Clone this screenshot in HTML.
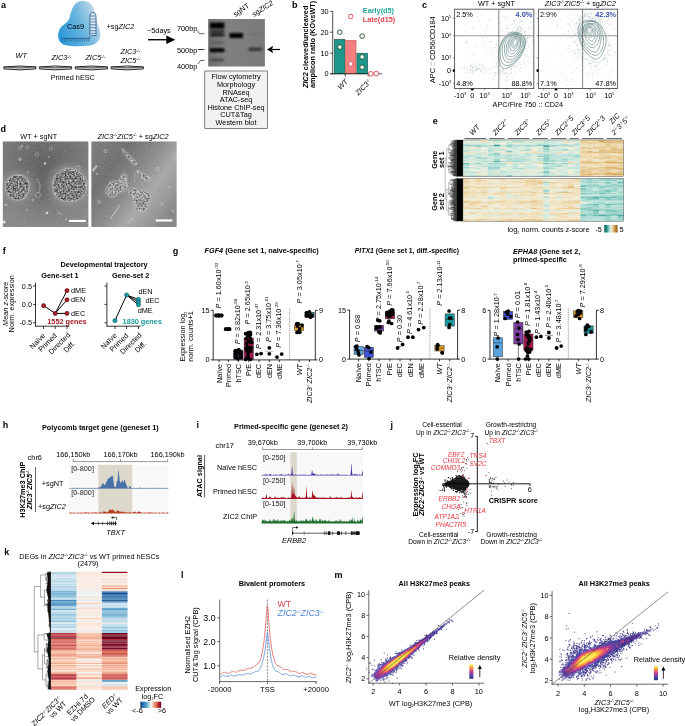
<!DOCTYPE html>
<html><head><meta charset="utf-8"><title>Figure</title>
<style>html,body{margin:0;padding:0;background:#fff}svg{display:block}text{font-family:"Liberation Sans",sans-serif}</style>
</head><body>
<svg width="685" height="726" viewBox="0 0 685 726" font-family="Liberation Sans, sans-serif" fill="#000">
<text x="1.00" y="7.50" font-size="9" font-weight="bold">a</text>
<defs><linearGradient id="cas" x1="0" y1="0.75" x2="1" y2="0.3"><stop offset="0" stop-color="#2a97d8"/><stop offset="0.55" stop-color="#6db6e0"/><stop offset="1" stop-color="#cfe0ea"/></linearGradient></defs>
<path d="M82.5 0.8 C89 0.8 93.5 5 94.2 11 C95 17 98 23 99.8 30 C101.3 36.5 99.5 42.5 93 44.8 C86 46.8 71 46.6 64.5 45 C58.5 43.2 56.5 36 59.5 29.5 C62 24.5 67.5 23 69.3 18.5 C71.5 12 72.5 1.5 82.5 0.8 Z" fill="url(#cas)" />
<path d="M89.8 38.3 L89.8 16 Q89.8 12.4 92.9 12.4 Q96 12.4 96 16 L96 35.6 L91 35.6" fill="#ffffff" stroke="#1d4f7c" stroke-width="0.7" fill-opacity="0.55"/>
<line x1="89.80" y1="16.00" x2="96.00" y2="16.00" stroke="#1d4f7c" stroke-width="0.6" />
<line x1="89.80" y1="19.00" x2="96.00" y2="19.00" stroke="#1d4f7c" stroke-width="0.6" />
<line x1="89.80" y1="21.90" x2="96.00" y2="21.90" stroke="#1d4f7c" stroke-width="0.6" />
<line x1="89.80" y1="24.80" x2="96.00" y2="24.80" stroke="#1d4f7c" stroke-width="0.6" />
<line x1="89.80" y1="27.70" x2="96.00" y2="27.70" stroke="#1d4f7c" stroke-width="0.6" />
<line x1="89.80" y1="30.70" x2="96.00" y2="30.70" stroke="#1d4f7c" stroke-width="0.6" />
<line x1="89.80" y1="33.40" x2="96.00" y2="33.40" stroke="#1d4f7c" stroke-width="0.6" />
<line x1="61.70" y1="38.30" x2="90.10" y2="38.30" stroke="#1d4f7c" stroke-width="0.7" />
<line x1="62.40" y1="38.30" x2="62.40" y2="41.60" stroke="#1d4f7c" stroke-width="0.6" />
<line x1="64.60" y1="38.30" x2="64.60" y2="41.60" stroke="#1d4f7c" stroke-width="0.6" />
<line x1="66.80" y1="38.30" x2="66.80" y2="41.60" stroke="#1d4f7c" stroke-width="0.6" />
<line x1="69.00" y1="38.30" x2="69.00" y2="41.60" stroke="#1d4f7c" stroke-width="0.6" />
<line x1="71.20" y1="38.30" x2="71.20" y2="41.60" stroke="#1d4f7c" stroke-width="0.6" />
<line x1="73.40" y1="38.30" x2="73.40" y2="41.60" stroke="#1d4f7c" stroke-width="0.6" />
<line x1="75.60" y1="38.30" x2="75.60" y2="41.60" stroke="#1d4f7c" stroke-width="0.6" />
<line x1="77.80" y1="38.30" x2="77.80" y2="41.60" stroke="#1d4f7c" stroke-width="0.6" />
<line x1="80.00" y1="38.30" x2="80.00" y2="41.60" stroke="#1d4f7c" stroke-width="0.6" />
<line x1="82.20" y1="38.30" x2="82.20" y2="41.60" stroke="#1d4f7c" stroke-width="0.6" />
<line x1="84.40" y1="38.30" x2="84.40" y2="41.60" stroke="#1d4f7c" stroke-width="0.6" />
<line x1="86.60" y1="38.30" x2="86.60" y2="41.60" stroke="#1d4f7c" stroke-width="0.6" />
<line x1="88.80" y1="38.30" x2="88.80" y2="41.60" stroke="#1d4f7c" stroke-width="0.6" />
<text x="67.00" y="29.00" font-size="7.3">Cas9</text>
<text x="106.50" y="29.00" font-size="7.3">+sg<tspan font-style="italic">ZIC2</tspan></text>
<text x="147.00" y="32.50" font-size="7.3">~5days</text>
<line x1="148.00" y1="39.70" x2="168.00" y2="39.70" stroke="#000" stroke-width="1.4" />
<path d="M166.3 35.4 L175.3 39.7 L166.3 44 Z" fill="#000" />
<text x="15.50" y="58.00" font-size="7.3" font-style="italic">WT</text>
<text x="51.50" y="60.00" font-size="7.3" font-style="italic">ZIC3<tspan font-size="4" dy="-2.5">-/-</tspan><tspan dy="2.5">&#8203;</tspan></text>
<text x="85.40" y="60.00" font-size="7.3" font-style="italic">ZIC5<tspan font-size="4" dy="-2.5">-/-</tspan><tspan dy="2.5">&#8203;</tspan></text>
<text x="120.50" y="54.00" font-size="7.3" font-style="italic">ZIC3<tspan font-size="4" dy="-2.5">-/-</tspan><tspan dy="2.5">&#8203;</tspan></text>
<text x="120.50" y="62.70" font-size="7.3" font-style="italic">ZIC5<tspan font-size="4" dy="-2.5">-/-</tspan><tspan dy="2.5">&#8203;</tspan></text>
<path d="M3.8 66.9 Q19.900000000000002 65.1 36.0 66.9 L36.0 68.9 Q19.900000000000002 70.9 3.8 68.9 Z" fill="#cfcfcf" stroke="#1a1a1a" stroke-width="0.9" />
<path d="M3.8 66.9 Q19.900000000000002 68.9 36.0 66.9" fill="none" stroke="#1a1a1a" stroke-width="0.6" />
<path d="M39.4 66.9 Q55.5 65.1 71.6 66.9 L71.6 68.9 Q55.5 70.9 39.4 68.9 Z" fill="#cfcfcf" stroke="#1a1a1a" stroke-width="0.9" />
<path d="M39.4 66.9 Q55.5 68.9 71.6 66.9" fill="none" stroke="#1a1a1a" stroke-width="0.6" />
<path d="M75.3 66.9 Q91.4 65.1 107.5 66.9 L107.5 68.9 Q91.4 70.9 75.3 68.9 Z" fill="#cfcfcf" stroke="#1a1a1a" stroke-width="0.9" />
<path d="M75.3 66.9 Q91.4 68.9 107.5 66.9" fill="none" stroke="#1a1a1a" stroke-width="0.6" />
<path d="M111.2 66.9 Q127.30000000000001 65.1 143.4 66.9 L143.4 68.9 Q127.30000000000001 70.9 111.2 68.9 Z" fill="#cfcfcf" stroke="#1a1a1a" stroke-width="0.9" />
<path d="M111.2 66.9 Q127.30000000000001 68.9 143.4 66.9" fill="none" stroke="#1a1a1a" stroke-width="0.6" />
<text x="72.80" y="80.00" font-size="7.3" text-anchor="middle">Primed hESC</text>
<defs><filter id="gb" x="-20%" y="-50%" width="140%" height="200%"><feGaussianBlur stdDeviation="0.8"/></filter><linearGradient id="gelbg" x1="0" y1="0" x2="1" y2="0"><stop offset="0" stop-color="#6e6e6e"/><stop offset="0.3" stop-color="#808080"/><stop offset="1" stop-color="#7a7a7a"/></linearGradient></defs>
<rect x="208.20" y="19.00" width="56.70" height="47.50" fill="url(#gelbg)" />
<g filter="url(#gb)">
<rect x="210.00" y="22.60" width="14.40" height="5.90" fill="#000" />
<rect x="210.20" y="30.20" width="14.00" height="2.20" fill="#1c1c1c" />
<rect x="210.20" y="33.60" width="14.00" height="2.60" fill="#0c0c0c" />
<rect x="210.80" y="41.30" width="13.00" height="2.20" fill="#5a5a5a" />
<rect x="210.00" y="48.20" width="14.40" height="3.90" fill="#000" />
<rect x="210.80" y="58.70" width="13.00" height="2.70" fill="#454545" />
<rect x="229.50" y="33.10" width="13.50" height="4.90" fill="#000" />
<rect x="249.50" y="33.50" width="12.00" height="1.50" fill="#6c6c6c" />
<rect x="248.60" y="47.70" width="13.20" height="3.20" fill="#303030" />
</g>
<text x="177.00" y="31.00" font-size="7.3">700bp</text>
<text x="177.00" y="53.00" font-size="7.3">500bp</text>
<text x="177.00" y="68.50" font-size="7.3">400bp</text>
<path d="M197.5 30.5 L199.5 33.7 L204.5 33.7" fill="none" stroke="#000" stroke-width="0.6" />
<line x1="197.80" y1="49.50" x2="204.50" y2="49.50" stroke="#000" stroke-width="0.8" />
<path d="M198 64 L200.5 60.5 L204.5 60.5" fill="none" stroke="#000" stroke-width="0.6" />
<text x="235.50" y="17.00" font-size="7.3" transform="rotate(-35 235.50 17.00)">sgNT</text>
<text x="254.00" y="17.00" font-size="7.3" transform="rotate(-33 254.00 17.00)">sg<tspan font-style="italic">ZIC2</tspan></text>
<line x1="270.00" y1="49.50" x2="280.00" y2="49.50" stroke="#000" stroke-width="1.2" />
<path d="M267 49.5 L273.3 45.8 L271.8 49.5 L273.3 53.2 Z" fill="#000" />
<rect x="204.80" y="71.00" width="62.60" height="57.50" fill="#f2f2f2" stroke="#333" stroke-width="0.6" />
<text x="236.00" y="79.20" font-size="7.3" text-anchor="middle">Flow cytometry</text>
<text x="236.00" y="86.85" font-size="7.3" text-anchor="middle">Morphology</text>
<text x="236.00" y="94.50" font-size="7.3" text-anchor="middle">RNAseq</text>
<text x="236.00" y="102.15" font-size="7.3" text-anchor="middle">ATAC-seq</text>
<text x="236.00" y="109.80" font-size="7.3" text-anchor="middle">Histone ChIP-seq</text>
<text x="236.00" y="117.45" font-size="7.3" text-anchor="middle">CUT&amp;Tag</text>
<text x="236.00" y="125.10" font-size="7.3" text-anchor="middle">Western blot</text>
<text x="292.00" y="7.50" font-size="9" font-weight="bold">b</text>
<rect x="334.30" y="39.40" width="10.50" height="34.40" fill="#1f968b" stroke="#1d4d40" stroke-width="0.6" />
<rect x="345.70" y="40.50" width="10.30" height="33.30" fill="#f47f7f" stroke="#c0504d" stroke-width="0.6" />
<rect x="356.90" y="53.20" width="10.70" height="20.60" fill="#1f968b" stroke="#1d4d40" stroke-width="0.6" />
<line x1="332.70" y1="11.40" x2="332.70" y2="74.10" stroke="#000" stroke-width="0.7" />
<line x1="330.40" y1="73.80" x2="381.80" y2="73.80" stroke="#000" stroke-width="0.7" />
<line x1="330.20" y1="11.40" x2="332.70" y2="11.40" stroke="#000" stroke-width="0.7" />
<text x="328.50" y="13.90" font-size="7.3" text-anchor="end">30</text>
<line x1="330.20" y1="32.20" x2="332.70" y2="32.20" stroke="#000" stroke-width="0.7" />
<text x="328.50" y="34.70" font-size="7.3" text-anchor="end">20</text>
<line x1="330.20" y1="53.20" x2="332.70" y2="53.20" stroke="#000" stroke-width="0.7" />
<text x="328.50" y="55.70" font-size="7.3" text-anchor="end">10</text>
<line x1="330.20" y1="73.80" x2="332.70" y2="73.80" stroke="#000" stroke-width="0.7" />
<text x="328.50" y="76.30" font-size="7.3" text-anchor="end">0</text>
<line x1="345.30" y1="73.80" x2="345.30" y2="76.50" stroke="#000" stroke-width="0.7" />
<line x1="368.20" y1="73.80" x2="368.20" y2="76.50" stroke="#000" stroke-width="0.7" />
<circle cx="339.80" cy="32.20" r="2.30" fill="#fff" stroke="#2f5d3a" stroke-width="1.0" />
<circle cx="339.80" cy="47.10" r="2.30" fill="#fff" stroke="#2f5d3a" stroke-width="1.0" />
<circle cx="362.10" cy="36.10" r="2.30" fill="#fff" stroke="#2f5d3a" stroke-width="1.0" />
<circle cx="362.10" cy="56.90" r="2.30" fill="#fff" stroke="#2f5d3a" stroke-width="1.0" />
<circle cx="362.10" cy="67.20" r="2.30" fill="#fff" stroke="#2f5d3a" stroke-width="1.0" />
<circle cx="350.70" cy="16.40" r="2.30" fill="#fff" stroke="#e0565b" stroke-width="1.0" />
<circle cx="350.70" cy="63.90" r="2.30" fill="#fff" stroke="#e0565b" stroke-width="1.0" />
<circle cx="370.90" cy="73.80" r="2.30" fill="#fff" stroke="#e0565b" stroke-width="1.0" />
<circle cx="376.30" cy="73.60" r="2.30" fill="#fff" stroke="#e0565b" stroke-width="1.0" />
<text x="362.80" y="13.30" font-size="7.3" font-weight="bold" fill="#1fa39a">Early(d5)</text>
<text x="362.80" y="22.00" font-size="7.3" font-weight="bold" fill="#d9434e">Late(d15)</text>
<text x="307.50" y="88.00" font-size="7.3" font-weight="bold" transform="rotate(-90 307.50 88.00)"><tspan font-style="italic">ZIC2</tspan> cleaved/uncleaved</text>
<text x="315.00" y="88.00" font-size="7.3" font-weight="bold" transform="rotate(-90 315.00 88.00)">amplicon ratio (KOvsWT)</text>
<text x="348.50" y="82.00" font-size="7.3" text-anchor="end" font-style="italic" transform="rotate(-45 348.50 82.00)">WT</text>
<text x="372.00" y="82.00" font-size="7.3" text-anchor="end" font-style="italic" transform="rotate(-45 372.00 82.00)">ZIC3<tspan font-size="4" dy="-2.5">-/-</tspan><tspan dy="2.5">&#8203;</tspan></text>
<text x="422.00" y="7.50" font-size="9" font-weight="bold">c</text>
<path d="M507.4 67.7h.6M514.5 32.3h.6M503.7 68.0h.6M522.6 44.5h.6M495.8 62.9h.6M519.6 39.4h.6M528.1 28.5h.6M509.6 49.2h.6M499.5 56.9h.6M513.7 47.5h.6M509.6 53.4h.6M518.6 46.4h.6M520.1 32.8h.6M506.3 77.0h.6M502.4 69.1h.6M503.3 70.4h.6M508.9 60.7h.6M507.9 32.3h.6M515.0 54.6h.6M514.1 50.9h.6M505.7 44.1h.6M509.8 37.9h.6M519.8 19.3h.6M516.2 38.3h.6M513.6 32.7h.6M517.2 33.3h.6M524.0 31.5h.6M507.5 44.2h.6M520.0 38.4h.6M519.3 23.1h.6M519.0 41.7h.6M515.2 44.9h.6M509.0 44.1h.6M503.3 62.4h.6M526.1 44.0h.6M525.3 37.0h.6M521.6 38.9h.6M518.6 47.9h.6M520.5 21.3h.6M521.6 64.3h.6M520.3 47.6h.6M509.4 32.3h.6M518.4 48.0h.6M506.7 44.1h.6M514.0 51.2h.6M523.7 33.9h.6M521.9 51.4h.6M513.1 62.0h.6M516.7 31.2h.6M495.1 72.5h.6M517.2 46.5h.6M514.4 22.7h.6M516.6 50.3h.6M494.7 44.2h.6M511.7 31.0h.6M511.2 55.2h.6M531.3 13.3h.6M523.6 51.2h.6M524.6 54.9h.6M504.7 57.3h.6M526.3 41.8h.6M518.1 39.6h.6M496.2 73.5h.6M504.7 56.1h.6M513.3 38.9h.6M517.4 37.0h.6M510.9 53.8h.6M520.6 44.6h.6M507.6 54.9h.6M515.1 73.2h.6M519.6 26.5h.6M500.6 52.1h.6M514.6 46.6h.6M526.9 16.8h.6M490.4 53.2h.6M521.9 28.1h.6M503.7 72.9h.6M526.7 82.1h.6M522.8 33.5h.6M496.2 45.1h.6M500.5 46.0h.6M500.8 33.6h.6M515.1 65.4h.6M513.7 20.8h.6M509.0 73.7h.6M510.4 33.1h.6M503.1 56.9h.6M500.2 64.2h.6M524.4 31.9h.6M523.8 17.7h.6M504.5 47.7h.6M502.2 46.6h.6M506.3 76.8h.6M526.6 29.5h.6M521.8 29.4h.6M508.4 59.4h.6M502.1 50.9h.6M491.6 69.4h.6M513.1 49.0h.6M519.2 59.6h.6M517.2 47.5h.6M513.7 28.1h.6M505.5 79.8h.6M517.1 62.4h.6M521.1 46.3h.6M502.2 31.3h.6M511.7 35.9h.6M504.5 58.5h.6M522.9 39.6h.6M506.6 28.8h.6M492.0 50.6h.6M515.7 51.7h.6M509.2 60.5h.6M520.5 47.9h.6M501.4 58.4h.6M519.7 64.7h.6M517.8 32.0h.6M514.2 45.5h.6M511.9 44.9h.6M501.4 49.9h.6M519.7 62.7h.6M515.8 40.7h.6M511.2 51.9h.6M509.7 41.4h.6M514.9 46.3h.6M502.1 57.4h.6M498.7 60.3h.6M501.0 28.7h.6M506.3 50.7h.6M509.1 58.0h.6M519.4 32.0h.6M507.0 48.9h.6M517.7 53.0h.6M501.8 51.1h.6M496.8 64.1h.6M511.4 72.2h.6M512.6 42.6h.6M516.3 25.0h.6M522.2 39.6h.6M492.0 67.1h.6M512.8 64.8h.6M511.3 25.8h.6M515.7 31.9h.6M505.9 52.8h.6M497.5 48.2h.6M497.5 59.9h.6M529.6 47.1h.6M499.0 72.9h.6M520.3 68.0h.6M510.5 38.0h.6M521.4 36.1h.6M498.7 71.1h.6M510.8 52.1h.6M510.5 45.6h.6M509.2 44.0h.6M517.3 66.1h.6M517.3 44.4h.6M501.4 71.7h.6M508.0 32.7h.6M516.0 31.1h.6M513.6 42.2h.6M521.8 48.6h.6M520.6 58.9h.6M500.9 57.5h.6M508.9 35.0h.6M516.2 56.5h.6M507.0 25.6h.6M528.2 46.3h.6M517.6 30.1h.6M506.4 56.6h.6M503.4 64.9h.6M510.0 50.9h.6M517.6 30.3h.6M510.7 73.1h.6M502.6 63.2h.6M508.9 49.5h.6M504.4 62.7h.6M521.0 14.4h.6M519.1 53.7h.6M521.9 39.6h.6M503.6 30.2h.6M507.8 61.7h.6M524.1 44.7h.6M513.3 40.9h.6M510.9 47.3h.6M518.3 46.7h.6M504.4 51.3h.6M514.6 64.3h.6M526.7 32.3h.6M523.0 38.1h.6M516.7 50.4h.6M504.4 63.5h.6M512.8 61.4h.6M507.9 56.8h.6M523.9 46.4h.6M500.8 57.6h.6M509.3 33.3h.6M510.8 40.2h.6M498.8 45.0h.6M512.9 36.5h.6M521.2 67.7h.6M512.1 41.5h.6M523.9 51.4h.6M515.1 50.2h.6M508.9 38.3h.6M509.4 45.2h.6M510.7 69.4h.6M516.6 38.8h.6M492.7 56.3h.6M514.3 41.0h.6M501.6 73.3h.6M502.8 71.0h.6M515.4 47.4h.6M514.6 45.8h.6M502.6 64.3h.6M507.4 55.4h.6M518.0 46.2h.6M504.0 17.0h.6M513.1 42.0h.6M532.2 17.4h.6M505.0 74.2h.6M515.9 59.0h.6M505.1 63.9h.6M510.6 50.2h.6M495.8 52.0h.6M521.8 44.5h.6M504.6 46.7h.6M517.2 47.1h.6M511.0 51.1h.6M512.8 24.5h.6M495.5 51.4h.6M502.8 56.8h.6M501.5 60.8h.6M521.5 21.3h.6M526.7 56.4h.6M499.7 44.5h.6M508.0 39.9h.6M513.3 20.7h.6M497.5 52.6h.6M505.6 44.2h.6M509.1 48.4h.6M515.0 60.2h.6M518.1 34.8h.6M499.3 58.8h.6M530.3 51.2h.6M503.9 53.1h.6M500.3 55.8h.6M504.8 62.3h.6M520.7 27.2h.6M497.8 51.5h.6M513.2 45.3h.6M497.2 63.6h.6M518.9 52.0h.6M517.3 39.8h.6M512.4 54.2h.6M527.1 54.8h.6M502.8 64.3h.6M517.9 28.9h.6M520.3 27.2h.6M510.4 45.3h.6M497.1 66.3h.6M529.9 17.5h.6M522.4 42.2h.6M522.6 42.9h.6M509.0 51.8h.6M515.5 32.9h.6M502.6 67.6h.6M513.1 58.3h.6M500.4 56.2h.6M520.9 57.8h.6M512.9 49.7h.6M514.2 49.2h.6M527.4 38.6h.6M511.7 76.7h.6M509.8 47.6h.6M525.3 12.4h.6M530.5 22.4h.6M509.3 65.1h.6M515.6 37.2h.6M495.8 82.1h.6M503.2 48.2h.6M521.3 20.7h.6M507.7 53.5h.6M502.0 57.9h.6M514.8 48.0h.6M508.4 55.8h.6M507.4 70.6h.6M509.1 60.2h.6M503.1 60.5h.6M505.0 41.9h.6M526.6 11.8h.6M506.6 47.5h.6M531.3 28.7h.6M504.4 40.2h.6M513.4 57.7h.6M500.8 52.8h.6M499.6 64.0h.6M507.7 46.5h.6M531.6 56.1h.6M515.5 19.3h.6M514.8 43.7h.6M518.5 53.5h.6M507.8 52.5h.6M509.2 53.8h.6M525.2 31.6h.6M501.0 67.2h.6M513.0 62.6h.6M519.6 47.7h.6M498.5 44.1h.6M516.4 42.4h.6M506.1 37.3h.6M507.8 45.4h.6M510.4 59.7h.6M508.0 40.8h.6M484.6 66.9h.6M516.5 60.2h.6M496.1 43.0h.6M509.9 62.5h.6M530.2 27.0h.6M515.7 43.6h.6M502.6 62.9h.6M504.7 51.3h.6M509.7 46.5h.6M524.1 47.5h.6M519.4 38.7h.6M500.1 47.8h.6M515.2 51.7h.6M514.8 67.0h.6M512.7 54.5h.6M501.4 49.8h.6M516.4 14.6h.6M513.7 33.3h.6M508.2 42.1h.6M516.0 57.3h.6M517.9 17.3h.6M518.7 51.0h.6M513.3 59.9h.6M511.6 61.8h.6M523.1 45.4h.6M506.0 39.8h.6M508.4 35.5h.6M527.1 41.6h.6M511.8 38.1h.6M520.4 31.3h.6M502.2 66.0h.6M518.5 26.6h.6M510.4 45.7h.6M498.4 72.1h.6M515.7 43.8h.6M496.2 45.1h.6M524.4 32.4h.6M527.3 37.0h.6M505.2 53.4h.6M525.6 48.5h.6M500.4 72.9h.6M511.7 60.7h.6M518.8 25.9h.6M505.0 67.0h.6M499.7 48.4h.6M513.8 33.9h.6M507.0 34.7h.6M508.6 28.2h.6M505.8 27.8h.6M517.8 27.0h.6M501.1 70.9h.6M507.2 40.7h.6M511.0 56.6h.6M489.8 42.4h.6M512.5 56.1h.6M520.9 46.9h.6M525.7 65.9h.6M519.1 37.5h.6M525.2 35.1h.6M508.4 45.2h.6M521.2 34.5h.6M493.1 73.5h.6M515.7 41.9h.6M518.2 46.2h.6M524.0 50.8h.6M505.8 56.1h.6M519.2 45.8h.6M527.2 41.0h.6M517.4 58.9h.6M507.7 38.6h.6M525.8 56.4h.6M513.5 35.5h.6M492.6 82.0h.6M508.4 59.1h.6M531.1 16.3h.6M507.5 41.2h.6M503.5 65.5h.6M530.2 63.9h.6M505.4 52.8h.6M519.4 32.0h.6M513.7 70.4h.6M501.0 49.4h.6M517.4 45.1h.6M514.9 55.5h.6M510.9 33.8h.6M483.1 72.3h.6M519.9 53.9h.6M527.8 37.5h.6M523.3 21.0h.6M507.8 28.5h.6M519.0 39.4h.6M508.5 48.7h.6M506.4 65.4h.6M517.2 28.5h.6M510.7 38.8h.6M506.6 41.9h.6M512.9 42.3h.6M509.8 42.1h.6M502.8 65.0h.6M529.3 37.6h.6M515.7 55.6h.6M519.4 38.3h.6M505.1 72.4h.6M514.5 66.2h.6M521.1 38.5h.6M507.4 34.5h.6M518.4 34.3h.6M506.0 49.2h.6M503.0 62.4h.6M508.8 43.6h.6M504.6 56.1h.6M512.9 64.1h.6M516.5 54.9h.6M511.6 68.2h.6M516.6 50.8h.6M505.3 47.5h.6M516.3 29.3h.6M505.1 48.2h.6M510.6 44.4h.6M516.2 45.3h.6M498.2 54.8h.6M521.1 44.7h.6M508.3 35.0h.6M518.4 40.6h.6M516.8 45.5h.6M511.7 53.9h.6M514.1 33.3h.6M502.7 69.6h.6M500.4 40.4h.6M512.1 60.2h.6M511.8 51.0h.6M510.9 69.7h.6M521.2 21.9h.6M499.7 56.1h.6M518.2 35.6h.6M515.8 63.7h.6M520.9 38.9h.6M500.8 74.3h.6M507.3 35.8h.6M527.6 38.7h.6M513.3 31.1h.6M514.4 61.6h.6M526.6 37.2h.6M518.6 30.4h.6M496.7 49.4h.6M532.6 43.3h.6M506.0 54.0h.6M518.6 39.9h.6M498.9 66.8h.6M519.6 70.5h.6M513.7 61.5h.6M532.0 31.9h.6M502.3 65.9h.6M505.7 58.5h.6M506.8 36.7h.6M529.2 32.3h.6M523.4 61.9h.6M521.6 51.1h.6M510.1 42.3h.6M509.0 53.8h.6M516.7 39.7h.6M524.9 12.9h.6M504.3 53.4h.6M497.4 56.0h.6M512.5 65.7h.6M511.3 47.1h.6M521.6 46.3h.6M521.2 41.5h.6M506.9 56.1h.6M506.8 59.7h.6M504.6 59.6h.6M509.6 50.5h.6M507.1 51.1h.6M517.6 28.1h.6M507.4 64.0h.6M498.1 61.6h.6M501.0 42.6h.6M506.7 28.5h.6M510.7 63.4h.6M494.1 75.5h.6M503.5 65.8h.6M506.5 80.3h.6M513.3 51.5h.6M495.4 47.4h.6M501.9 47.0h.6M506.2 46.0h.6M508.7 52.6h.6M522.1 39.2h.6M506.0 63.4h.6M524.3 28.2h.6M506.9 59.0h.6M516.6 56.3h.6M514.9 49.1h.6M515.8 11.8h.6M494.0 58.7h.6M508.5 74.5h.6M525.2 48.7h.6M494.1 75.3h.6M527.9 30.0h.6M523.5 37.8h.6M512.2 48.0h.6M518.2 50.4h.6M513.4 51.8h.6M513.0 23.8h.6M511.5 61.2h.6M509.4 52.0h.6M527.6 18.5h.6M517.2 57.8h.6M508.9 58.8h.6M523.4 64.0h.6M512.5 39.6h.6M509.5 39.0h.6M509.2 57.8h.6M524.0 46.1h.6M529.9 42.9h.6M515.8 42.2h.6M505.4 48.0h.6M513.7 20.9h.6M507.7 48.9h.6M491.9 53.9h.6M510.8 54.5h.6M518.8 48.7h.6M506.7 49.1h.6M518.6 45.8h.6M496.1 57.6h.6M513.3 66.7h.6M511.9 31.2h.6M518.6 49.2h.6M515.5 26.9h.6M520.5 56.0h.6M508.4 66.7h.6M509.9 52.8h.6M504.8 57.0h.6M524.6 53.7h.6M519.3 39.3h.6M507.0 46.0h.6M519.3 55.4h.6M530.7 41.7h.6M513.5 44.6h.6M505.2 73.6h.6M512.4 78.4h.6M508.3 57.8h.6M500.6 67.1h.6M514.4 65.5h.6M505.4 41.5h.6M500.1 77.0h.6M501.5 52.6h.6M514.3 39.2h.6M508.7 45.2h.6M505.5 55.7h.6M506.9 74.0h.6M502.5 37.7h.6M520.7 50.2h.6M522.5 48.6h.6M510.5 52.5h.6M498.0 65.2h.6M494.9 73.0h.6M517.2 46.3h.6M520.0 31.6h.6M509.2 64.4h.6M523.6 55.7h.6M530.5 22.1h.6M501.6 63.9h.6M508.3 43.7h.6M520.0 42.7h.6M518.7 36.7h.6M500.9 59.2h.6M520.6 54.1h.6M528.3 27.9h.6M519.0 45.0h.6M526.0 39.9h.6M506.6 31.5h.6M466.7 42.9h.6M487.0 29.3h.6M527.6 17.1h.6M495.4 67.5h.6M528.7 24.3h.6M493.1 66.3h.6M465.2 31.0h.6M522.2 24.1h.6M488.9 35.1h.6M491.0 19.6h.6M464.9 83.9h.6M513.7 65.6h.6M478.0 31.9h.6M499.6 31.1h.6M493.5 79.5h.6M487.0 37.8h.6M528.3 57.0h.6M465.3 42.4h.6M506.1 18.3h.6M485.6 62.8h.6M520.5 55.5h.6M522.0 46.6h.6M488.9 73.2h.6M488.1 68.9h.6M477.0 38.5h.6M474.9 52.7h.6M473.6 28.5h.6M477.0 46.9h.6M483.3 45.5h.6M529.2 61.7h.6M520.4 28.5h.6M488.3 19.3h.6M508.9 39.6h.6M481.0 15.5h.6M474.8 32.6h.6M488.9 78.8h.6M510.5 33.0h.6M486.8 24.9h.6M525.4 39.4h.6M513.9 64.8h.6M523.4 15.6h.6M484.2 41.1h.6M468.2 76.0h.6M484.4 68.1h.6M497.4 18.0h.6M489.0 30.9h.6M465.3 24.8h.6M502.5 16.4h.6M483.5 43.9h.6M499.0 23.7h.6M509.9 32.4h.6M511.2 60.8h.6M472.5 28.5h.6M481.4 64.1h.6M489.8 41.3h.6M520.6 30.0h.6M482.2 38.3h.6M477.1 17.0h.6M464.2 58.3h.6M500.5 70.8h.6M528.0 35.1h.6M507.5 78.5h.6M477.1 62.4h.6M507.3 81.1h.6M520.8 30.6h.6M505.0 20.5h.6M491.3 41.7h.6M466.6 41.0h.6M484.6 49.0h.6M481.3 25.3h.6M489.6 47.5h.6M473.8 60.8h.6M478.7 20.7h.6M485.5 43.8h.6M472.7 55.0h.6M509.6 52.9h.6M509.5 15.8h.6M488.8 39.7h.6M466.8 42.5h.6M466.3 48.9h.6M501.9 47.0h.6M484.4 31.9h.6M464.2 38.5h.6M522.3 53.8h.6M480.1 61.0h.6M475.1 47.0h.6M503.8 81.0h.6M486.9 54.5h.6M525.7 68.2h.6M504.6 57.7h.6M467.6 70.4h.6M472.1 73.6h.6M480.3 67.3h.6M476.5 68.6h.6M480.9 71.2h.6M471.9 71.2h.6M479.1 68.8h.6M476.6 70.7h.6M472.1 67.3h.6M484.6 69.0h.6M469.9 70.1h.6M463.0 69.1h.6M463.9 68.0h.6M460.6 67.2h.6M481.7 68.6h.6M465.1 73.3h.6M469.7 72.7h.6M470.5 65.4h.6M489.1 68.0h.6M480.6 71.9h.6M464.3 69.2h.6M470.1 70.5h.6M474.5 65.9h.6M475.1 70.9h.6M472.3 70.4h.6M470.5 68.9h.6M477.4 69.4h.6M484.6 71.3h.6M481.3 70.8h.6M475.9 66.2h.6M483.0 73.3h.6M476.4 68.4h.6M474.4 72.0h.6M476.9 66.6h.6M473.3 67.1h.6M473.1 66.8h.6M467.8 72.6h.6M482.9 65.1h.6M467.0 67.9h.6M471.6 65.6h.6M481.6 65.1h.6M480.1 70.7h.6M471.8 67.4h.6M475.1 69.4h.6M458.2 66.0h.6M478.8 68.8h.6M471.4 66.6h.6M469.1 67.2h.6M496.5 66.0h.6M486.7 70.2h.6M476.3 69.5h.6M471.7 72.9h.6M478.6 68.9h.6M473.7 69.5h.6M465.7 68.2h.6M469.8 70.5h.6M479.4 64.5h.6M472.9 71.4h.6M464.5 66.1h.6M482.5 68.7h.6" fill="none" stroke="#5f8580" stroke-width="0.55" opacity="0.75"/>
<path d="M523.9 52.7Q523.1 54.8 522.1 56.8Q521.1 58.8 519.8 60.5Q518.6 62.2 517.2 63.6Q515.7 65.0 514.2 66.0Q512.7 67.1 511.2 67.8Q509.6 68.5 508.0 68.9Q506.5 69.2 505.0 69.0Q503.5 68.9 502.2 68.1Q500.9 67.3 500.0 66.0Q499.0 64.7 498.4 63.0Q497.8 61.4 497.4 59.6Q497.0 57.7 497.0 55.7Q496.9 53.7 497.2 51.5Q497.5 49.4 498.2 47.2Q498.9 45.1 499.9 43.1Q501.0 41.1 502.2 39.3Q503.5 37.6 505.0 36.2Q506.4 34.7 507.9 33.7Q509.5 32.6 511.0 32.1Q512.6 31.5 514.1 31.4Q515.6 31.3 517.0 31.7Q518.4 32.0 519.7 32.6Q521.0 33.2 522.1 34.2Q523.2 35.2 524.1 36.7Q524.9 38.1 525.3 40.0Q525.7 41.9 525.7 44.1Q525.6 46.2 525.1 48.4Q524.6 50.6 523.9 52.7Z" fill="#fff" />
<path d="M522.7 52.3Q521.8 54.3 520.7 56.2Q519.5 58.0 518.2 59.6Q517.0 61.2 515.6 62.5Q514.2 63.9 512.8 64.9Q511.4 65.9 510.1 66.7Q508.7 67.5 507.4 68.0Q506.1 68.5 504.8 68.6Q503.6 68.6 502.6 67.9Q501.6 67.3 500.9 66.0Q500.2 64.8 499.8 63.2Q499.4 61.6 499.1 59.8Q498.8 58.1 498.7 56.1Q498.6 54.2 498.8 52.0Q498.9 49.9 499.5 47.7Q500.1 45.5 501.0 43.6Q501.9 41.6 503.0 39.8Q504.1 38.1 505.4 36.7Q506.7 35.3 508.1 34.2Q509.5 33.2 511.0 32.7Q512.5 32.1 513.9 32.1Q515.4 32.1 516.7 32.4Q518.1 32.7 519.4 33.3Q520.7 33.8 521.9 34.6Q523.1 35.5 524.0 36.8Q524.9 38.2 525.2 40.0Q525.6 41.9 525.3 44.0Q525.0 46.1 524.3 48.2Q523.6 50.3 522.7 52.3Z" fill="none" stroke="#3f6e68" stroke-width="0.55" />
<path d="M522.5 51.3Q521.6 53.0 520.6 54.6Q519.5 56.2 518.4 57.7Q517.4 59.2 516.1 60.5Q514.9 61.9 513.6 62.9Q512.3 63.9 511.0 64.5Q509.8 65.1 508.6 65.3Q507.3 65.5 506.2 65.4Q505.1 65.2 504.2 64.7Q503.2 64.2 502.4 63.2Q501.7 62.3 501.2 60.8Q500.7 59.4 500.5 57.8Q500.3 56.1 500.2 54.3Q500.1 52.5 500.2 50.6Q500.3 48.7 500.7 46.7Q501.1 44.7 501.9 42.9Q502.7 41.0 503.8 39.6Q504.9 38.1 506.1 37.0Q507.4 35.9 508.7 35.1Q510.0 34.3 511.3 33.7Q512.7 33.1 514.1 32.9Q515.5 32.6 516.8 32.8Q518.2 33.0 519.4 33.6Q520.6 34.2 521.7 35.1Q522.8 36.1 523.6 37.4Q524.4 38.6 524.8 40.3Q525.1 41.9 525.0 43.8Q524.8 45.7 524.2 47.6Q523.5 49.5 522.5 51.3Z" fill="none" stroke="#3f6e68" stroke-width="0.55" />
<path d="M521.9 50.0Q521.1 51.6 520.3 53.1Q519.4 54.5 518.4 56.0Q517.4 57.4 516.3 58.6Q515.2 59.8 514.0 60.6Q512.8 61.5 511.7 61.9Q510.5 62.3 509.5 62.4Q508.5 62.4 507.6 62.2Q506.6 62.0 505.9 61.5Q505.1 61.0 504.4 60.1Q503.8 59.3 503.4 58.1Q503.0 57.0 502.7 55.6Q502.5 54.2 502.3 52.7Q502.2 51.2 502.2 49.5Q502.2 47.8 502.5 46.0Q502.8 44.2 503.5 42.5Q504.2 40.8 505.2 39.4Q506.2 38.1 507.3 37.1Q508.5 36.1 509.7 35.5Q510.8 34.8 512.0 34.3Q513.2 33.9 514.4 33.7Q515.6 33.6 516.8 33.9Q517.9 34.1 518.9 34.7Q519.9 35.3 520.8 36.1Q521.7 36.9 522.4 38.0Q523.1 39.1 523.5 40.4Q523.8 41.8 523.8 43.4Q523.7 45.1 523.2 46.7Q522.7 48.4 521.9 50.0Z" fill="none" stroke="#3f6e68" stroke-width="0.55" />
<path d="M521.0 48.7Q520.4 50.0 519.7 51.3Q518.9 52.6 518.1 53.9Q517.3 55.2 516.3 56.3Q515.4 57.5 514.3 58.3Q513.3 59.1 512.2 59.4Q511.2 59.8 510.4 59.8Q509.5 59.8 508.7 59.5Q507.9 59.3 507.3 58.8Q506.7 58.3 506.2 57.5Q505.7 56.7 505.4 55.7Q505.0 54.7 504.8 53.5Q504.6 52.3 504.5 51.0Q504.4 49.7 504.4 48.3Q504.4 46.9 504.6 45.3Q504.9 43.8 505.4 42.3Q506.0 40.8 506.8 39.5Q507.7 38.3 508.7 37.4Q509.6 36.5 510.7 35.9Q511.7 35.2 512.7 34.8Q513.8 34.4 514.8 34.3Q515.9 34.2 516.9 34.4Q517.9 34.7 518.7 35.3Q519.5 35.8 520.2 36.6Q520.9 37.4 521.4 38.4Q522.0 39.4 522.2 40.6Q522.5 41.7 522.5 43.1Q522.4 44.5 522.0 45.9Q521.6 47.3 521.0 48.7Z" fill="none" stroke="#3f6e68" stroke-width="0.55" />
<path d="M520.0 47.3Q519.6 48.5 519.0 49.7Q518.5 50.9 517.8 52.0Q517.1 53.2 516.2 54.1Q515.4 55.0 514.5 55.6Q513.6 56.2 512.8 56.4Q511.9 56.7 511.2 56.7Q510.5 56.7 509.8 56.6Q509.2 56.5 508.6 56.1Q508.0 55.8 507.6 55.2Q507.1 54.5 506.9 53.7Q506.6 52.8 506.4 51.7Q506.3 50.7 506.3 49.6Q506.2 48.4 506.3 47.2Q506.5 46.0 506.8 44.7Q507.1 43.4 507.6 42.3Q508.1 41.1 508.7 40.1Q509.4 39.1 510.1 38.2Q510.8 37.3 511.6 36.5Q512.5 35.8 513.4 35.2Q514.3 34.7 515.2 34.5Q516.2 34.4 517.0 34.7Q517.8 35.0 518.5 35.6Q519.2 36.3 519.6 37.0Q520.1 37.8 520.5 38.7Q520.8 39.6 520.9 40.7Q521.1 41.7 521.0 42.8Q520.9 43.9 520.7 45.0Q520.4 46.2 520.0 47.3Z" fill="none" stroke="#3f6e68" stroke-width="0.55" />
<path d="M519.6 46.1Q519.1 47.1 518.4 48.0Q517.8 48.8 517.2 49.6Q516.5 50.3 515.9 51.0Q515.2 51.7 514.6 52.2Q513.9 52.8 513.3 53.2Q512.6 53.6 512.0 53.7Q511.4 53.9 510.9 53.8Q510.4 53.7 509.9 53.4Q509.5 53.2 509.1 52.7Q508.7 52.2 508.4 51.5Q508.2 50.9 508.1 50.0Q508.0 49.1 508.0 48.1Q508.1 47.1 508.2 46.1Q508.4 45.0 508.6 44.0Q508.8 43.0 509.2 41.9Q509.5 40.9 510.1 40.0Q510.6 39.0 511.2 38.4Q511.9 37.7 512.6 37.3Q513.3 36.9 514.0 36.7Q514.7 36.5 515.3 36.4Q516.0 36.3 516.7 36.4Q517.3 36.5 517.9 36.8Q518.5 37.1 519.0 37.6Q519.5 38.1 519.8 38.8Q520.1 39.5 520.3 40.3Q520.5 41.1 520.6 42.0Q520.6 43.0 520.3 44.0Q520.1 45.1 519.6 46.1Z" fill="none" stroke="#3f6e68" stroke-width="0.55" />
<path d="M518.2 44.7Q517.9 45.5 517.5 46.2Q517.1 46.9 516.7 47.6Q516.2 48.3 515.7 48.8Q515.2 49.4 514.7 49.8Q514.2 50.2 513.7 50.5Q513.2 50.8 512.8 50.9Q512.3 51.1 511.9 51.1Q511.5 51.0 511.1 50.8Q510.8 50.5 510.6 50.1Q510.4 49.7 510.2 49.1Q510.0 48.6 509.9 47.9Q509.8 47.3 509.8 46.6Q509.7 45.8 509.8 45.0Q510.0 44.1 510.2 43.3Q510.5 42.5 510.9 41.7Q511.3 41.0 511.7 40.4Q512.1 39.8 512.6 39.2Q513.0 38.7 513.5 38.2Q514.0 37.8 514.5 37.5Q515.0 37.2 515.6 37.1Q516.1 37.0 516.6 37.0Q517.1 37.1 517.6 37.2Q518.1 37.4 518.5 37.8Q518.9 38.1 519.1 38.7Q519.3 39.3 519.3 40.1Q519.3 40.8 519.2 41.6Q519.0 42.4 518.8 43.2Q518.5 44.0 518.2 44.7Z" fill="none" stroke="#3f6e68" stroke-width="0.55" />
<path d="M517.5 43.5Q517.3 44.0 516.9 44.6Q516.6 45.1 516.3 45.6Q515.9 46.1 515.6 46.5Q515.2 46.9 514.9 47.3Q514.5 47.7 514.1 47.9Q513.8 48.1 513.5 48.2Q513.2 48.2 512.9 48.1Q512.7 48.0 512.5 47.8Q512.3 47.5 512.2 47.3Q512.0 47.0 511.9 46.6Q511.8 46.3 511.7 45.9Q511.6 45.4 511.7 44.9Q511.7 44.4 511.7 43.8Q511.8 43.2 512.0 42.6Q512.1 42.0 512.3 41.3Q512.5 40.7 512.8 40.2Q513.1 39.6 513.5 39.2Q513.9 38.8 514.2 38.6Q514.6 38.4 515.0 38.3Q515.3 38.2 515.7 38.1Q516.0 38.0 516.4 38.1Q516.7 38.1 517.0 38.2Q517.3 38.3 517.5 38.6Q517.7 38.9 517.9 39.3Q518.0 39.7 518.0 40.2Q518.1 40.7 518.1 41.2Q518.0 41.7 517.9 42.3Q517.7 42.9 517.5 43.5Z" fill="none" stroke="#3f6e68" stroke-width="0.55" />
<path d="M516.5 42.7Q516.3 43.1 516.1 43.5Q516.0 43.9 515.8 44.3Q515.6 44.7 515.4 45.0Q515.1 45.4 514.9 45.7Q514.6 45.9 514.4 46.1Q514.2 46.3 513.9 46.3Q513.7 46.4 513.5 46.3Q513.4 46.3 513.2 46.2Q513.1 46.0 513.0 45.8Q512.9 45.5 512.9 45.2Q512.9 44.9 512.9 44.6Q512.9 44.2 513.0 43.9Q513.0 43.5 513.1 43.1Q513.1 42.7 513.3 42.3Q513.4 41.9 513.6 41.5Q513.8 41.1 514.0 40.7Q514.2 40.3 514.4 40.0Q514.7 39.7 514.9 39.4Q515.1 39.2 515.4 39.0Q515.6 38.8 515.8 38.8Q516.0 38.7 516.2 38.7Q516.4 38.8 516.5 38.9Q516.7 39.0 516.8 39.2Q516.9 39.4 517.0 39.7Q517.0 40.0 517.0 40.3Q517.0 40.6 516.9 41.0Q516.9 41.4 516.7 41.9Q516.6 42.3 516.5 42.7Z" fill="#fff" stroke="#3f6e68" stroke-width="0.5" />
<line x1="454.60" y1="35.80" x2="533.80" y2="35.80" stroke="#999" stroke-width="1.1" />
<line x1="498.80" y1="9.20" x2="498.80" y2="88.50" stroke="#333" stroke-width="0.6" />
<rect x="454.60" y="9.20" width="79.20" height="79.30" fill="none" stroke="#48525c" stroke-width="0.9" />
<line x1="459.90" y1="88.50" x2="459.90" y2="90.30" stroke="#48525c" stroke-width="0.6" />
<line x1="472.20" y1="88.50" x2="472.20" y2="90.30" stroke="#48525c" stroke-width="0.6" />
<line x1="484.60" y1="88.50" x2="484.60" y2="90.30" stroke="#48525c" stroke-width="0.6" />
<line x1="506.80" y1="88.50" x2="506.80" y2="90.30" stroke="#48525c" stroke-width="0.6" />
<line x1="525.40" y1="88.50" x2="525.40" y2="90.30" stroke="#48525c" stroke-width="0.6" />
<line x1="452.80" y1="18.40" x2="454.60" y2="18.40" stroke="#48525c" stroke-width="0.6" />
<line x1="452.80" y1="35.80" x2="454.60" y2="35.80" stroke="#48525c" stroke-width="0.6" />
<line x1="452.80" y1="57.80" x2="454.60" y2="57.80" stroke="#48525c" stroke-width="0.6" />
<line x1="452.80" y1="70.50" x2="454.60" y2="70.50" stroke="#48525c" stroke-width="0.6" />
<line x1="452.80" y1="83.40" x2="454.60" y2="83.40" stroke="#48525c" stroke-width="0.6" />
<ellipse cx="453.70000000000005" cy="70.5" rx="1" ry="1.5" fill="#000"/>
<ellipse cx="472.20000000000005" cy="89.4" rx="1.5" ry="1" fill="#000"/>
<text x="459.90" y="97.60" font-size="7.3" text-anchor="middle">-10<tspan font-size="3.5" dy="-2.5">3</tspan><tspan dy="2.5">&#8203;</tspan></text>
<text x="472.20" y="97.60" font-size="7.3" text-anchor="middle">0</text>
<text x="484.60" y="97.60" font-size="7.3" text-anchor="middle">10<tspan font-size="3.5" dy="-2.5">3</tspan><tspan dy="2.5">&#8203;</tspan></text>
<text x="506.80" y="97.60" font-size="7.3" text-anchor="middle">10<tspan font-size="3.5" dy="-2.5">4</tspan><tspan dy="2.5">&#8203;</tspan></text>
<text x="525.40" y="97.60" font-size="7.3" text-anchor="middle">10<tspan font-size="3.5" dy="-2.5">5</tspan><tspan dy="2.5">&#8203;</tspan></text>
<text x="496.40" y="5.60" font-size="7.3" text-anchor="middle">WT + sgNT</text>
<text x="456.20" y="16.80" font-size="7.3">2.5%</text>
<text x="532.20" y="16.80" font-size="7.3" text-anchor="end" font-weight="bold" fill="#3a4fb0">4.0%</text>
<text x="456.20" y="85.90" font-size="7.3">4.8%</text>
<text x="532.20" y="85.90" font-size="7.3" text-anchor="end">88.8%</text>
<path d="M588.8 30.9h.6M595.0 34.5h.6M586.1 46.5h.6M585.9 31.0h.6M587.4 26.6h.6M583.7 65.9h.6M575.1 53.6h.6M588.9 39.6h.6M581.0 25.9h.6M597.3 40.4h.6M580.0 29.0h.6M581.7 17.0h.6M585.6 21.2h.6M580.9 46.1h.6M613.9 35.9h.6M607.3 44.7h.6M584.4 19.4h.6M601.5 19.6h.6M587.2 43.2h.6M591.9 21.2h.6M593.9 54.7h.6M601.4 53.8h.6M585.8 28.4h.6M602.0 49.3h.6M603.8 41.4h.6M591.4 52.6h.6M583.2 47.5h.6M600.4 45.7h.6M607.7 62.0h.6M585.5 22.8h.6M594.6 42.6h.6M586.9 31.9h.6M591.2 50.7h.6M599.8 42.8h.6M593.4 36.2h.6M592.1 62.6h.6M587.6 44.4h.6M589.0 40.0h.6M604.1 58.4h.6M584.3 25.4h.6M581.2 30.3h.6M592.8 56.4h.6M586.6 15.4h.6M597.7 59.5h.6M586.3 47.2h.6M574.4 35.4h.6M582.6 66.0h.6M589.7 21.7h.6M586.8 47.4h.6M601.6 25.9h.6M596.0 47.5h.6M595.7 41.5h.6M597.7 34.6h.6M586.2 32.9h.6M595.5 38.3h.6M594.2 47.0h.6M605.6 48.4h.6M579.7 16.1h.6M591.2 24.6h.6M589.2 36.2h.6M600.4 31.6h.6M604.3 53.2h.6M582.2 42.8h.6M597.8 36.8h.6M594.7 37.9h.6M587.6 42.9h.6M580.5 24.2h.6M592.4 22.2h.6M590.4 41.5h.6M592.2 41.4h.6M590.6 38.0h.6M577.2 68.5h.6M585.1 33.2h.6M591.7 45.6h.6M608.9 50.5h.6M590.2 37.4h.6M602.6 50.8h.6M603.7 24.3h.6M582.0 25.6h.6M607.6 53.0h.6M592.5 47.0h.6M596.8 38.5h.6M580.9 30.9h.6M577.4 49.1h.6M588.9 29.3h.6M605.6 59.5h.6M582.5 38.5h.6M587.4 43.9h.6M593.4 35.2h.6M597.2 44.6h.6M595.2 74.7h.6M598.9 26.3h.6M580.2 27.3h.6M592.9 61.7h.6M578.3 50.3h.6M587.3 35.8h.6M592.3 29.7h.6M596.5 70.6h.6M584.4 26.9h.6M584.2 56.0h.6M615.0 52.5h.6M582.6 18.2h.6M578.6 19.5h.6M586.3 46.1h.6M598.2 38.9h.6M593.4 38.6h.6M595.6 39.9h.6M596.1 49.2h.6M599.2 29.3h.6M597.6 48.3h.6M583.6 34.7h.6M591.6 66.2h.6M586.9 25.5h.6M592.5 47.7h.6M594.9 30.1h.6M596.4 40.0h.6M587.0 35.8h.6M597.7 62.3h.6M592.2 43.2h.6M600.0 43.9h.6M582.6 23.4h.6M597.9 56.3h.6M591.9 17.3h.6M577.8 32.9h.6M598.3 44.3h.6M590.6 32.3h.6M597.9 28.0h.6M585.0 37.4h.6M597.0 56.9h.6M590.4 40.2h.6M582.9 22.9h.6M598.2 40.3h.6M574.4 53.4h.6M600.3 43.9h.6M590.9 46.3h.6M606.9 61.6h.6M589.9 63.1h.6M609.6 36.9h.6M584.8 37.1h.6M592.5 58.9h.6M589.0 55.7h.6M602.4 34.9h.6M606.6 50.8h.6M613.8 61.7h.6M589.8 47.2h.6M594.8 43.8h.6M588.8 38.8h.6M588.4 48.2h.6M586.6 37.6h.6M580.3 49.5h.6M595.9 36.4h.6M603.1 50.3h.6M592.6 37.9h.6M601.3 60.4h.6M605.9 17.0h.6M592.6 46.2h.6M594.5 26.4h.6M593.7 46.3h.6M594.2 23.0h.6M601.1 36.7h.6M599.2 57.6h.6M590.0 47.3h.6M605.2 23.5h.6M591.6 31.0h.6M594.3 13.4h.6M591.6 69.2h.6M587.2 47.7h.6M601.1 57.2h.6M606.8 32.3h.6M593.4 41.1h.6M602.6 46.1h.6M603.5 17.2h.6M584.1 24.1h.6M580.7 21.9h.6M591.6 46.1h.6M596.3 50.5h.6M593.9 19.9h.6M583.0 30.8h.6M604.1 40.5h.6M585.8 36.7h.6M604.6 39.8h.6M591.3 12.7h.6M608.6 45.7h.6M594.3 45.7h.6M590.7 31.2h.6M606.6 36.9h.6M578.4 34.8h.6M604.9 43.0h.6M583.2 40.9h.6M593.9 23.6h.6M596.8 35.4h.6M594.4 41.8h.6M585.5 29.8h.6M579.6 21.4h.6M580.2 33.6h.6M582.6 27.4h.6M590.8 30.1h.6M609.4 45.3h.6M586.9 35.4h.6M595.6 41.3h.6M599.3 34.8h.6M595.2 44.3h.6M586.9 44.6h.6M582.8 27.0h.6M601.6 58.1h.6M598.1 43.0h.6M595.1 28.8h.6M605.4 33.3h.6M604.7 49.3h.6M594.9 38.3h.6M600.6 41.2h.6M586.9 30.8h.6M596.1 35.2h.6M614.0 34.7h.6M587.2 29.5h.6M591.9 22.3h.6M590.2 44.2h.6M602.5 57.2h.6M587.6 16.0h.6M578.8 50.2h.6M594.9 53.2h.6M592.1 45.5h.6M592.6 48.3h.6M594.1 39.4h.6M593.5 35.0h.6M591.5 48.1h.6M590.5 54.0h.6M595.9 36.4h.6M586.9 56.4h.6M582.6 45.7h.6M590.9 40.9h.6M607.8 44.0h.6M595.1 42.1h.6M603.5 59.6h.6M592.9 32.1h.6M596.5 65.9h.6M597.1 45.3h.6M587.4 38.0h.6M603.8 41.2h.6M574.3 24.5h.6M598.5 41.9h.6M595.6 42.0h.6M607.0 38.7h.6M588.6 27.3h.6M594.2 16.6h.6M583.8 14.6h.6M602.5 56.1h.6M576.5 39.1h.6M584.7 37.2h.6M594.0 43.1h.6M606.1 53.9h.6M595.3 54.6h.6M587.5 37.6h.6M601.2 46.2h.6M595.6 58.8h.6M581.2 16.2h.6M591.1 58.7h.6M592.1 78.3h.6M587.3 54.4h.6M599.0 48.4h.6M582.7 38.3h.6M580.0 21.1h.6M583.9 17.9h.6M589.9 50.6h.6M589.3 17.6h.6M577.2 40.3h.6M589.0 38.2h.6M585.6 43.7h.6M606.6 57.2h.6M599.2 49.8h.6M591.7 29.4h.6M597.0 34.6h.6M591.8 42.3h.6M592.5 32.7h.6M568.7 45.9h.6M580.7 39.9h.6M599.8 19.5h.6M593.3 33.8h.6M595.0 65.6h.6M609.6 45.3h.6M614.6 52.2h.6M574.1 43.1h.6M585.4 13.0h.6M600.5 30.7h.6M591.2 59.9h.6M602.5 33.7h.6M597.3 38.9h.6M600.5 60.8h.6M590.8 50.7h.6M599.3 34.6h.6M597.1 46.1h.6M598.0 40.7h.6M605.1 41.4h.6M585.0 53.2h.6M582.2 20.9h.6M596.3 27.2h.6M593.2 61.0h.6M591.7 44.1h.6M596.9 57.5h.6M581.4 36.4h.6M593.5 36.8h.6M595.2 61.0h.6M596.0 23.9h.6M587.5 53.6h.6M595.1 36.6h.6M590.4 26.2h.6M583.8 27.5h.6M585.5 12.6h.6M588.9 51.7h.6M589.2 63.5h.6M596.6 41.3h.6M581.2 23.7h.6M599.4 46.9h.6M595.7 22.4h.6M580.6 36.1h.6M579.0 47.8h.6M604.1 45.6h.6M585.2 16.9h.6M601.9 27.6h.6M581.9 54.8h.6M574.3 50.3h.6M588.8 28.8h.6M592.5 42.1h.6M589.9 31.5h.6M599.9 54.1h.6M595.1 45.2h.6M593.0 47.8h.6M596.1 59.6h.6M601.4 40.9h.6M585.4 50.9h.6M572.1 32.0h.6M588.9 30.1h.6M593.1 44.8h.6M583.7 43.9h.6M581.5 30.2h.6M589.1 37.3h.6M587.3 49.8h.6M587.2 35.4h.6M595.4 18.9h.6M601.0 43.3h.6M611.8 68.5h.6M582.9 58.6h.6M574.0 26.1h.6M595.7 48.4h.6M594.8 67.4h.6M582.6 27.5h.6M579.7 20.0h.6M591.2 18.5h.6M588.7 37.3h.6M602.8 50.7h.6M593.9 55.0h.6M593.5 28.3h.6M583.8 30.4h.6M596.2 56.0h.6M600.9 39.3h.6M595.7 65.9h.6M585.9 34.1h.6M595.2 61.1h.6M582.4 25.7h.6M584.4 53.1h.6M577.7 55.3h.6M598.6 20.7h.6M597.5 45.7h.6M598.5 11.4h.6M582.3 25.9h.6M593.1 47.3h.6M581.1 18.3h.6M599.9 27.3h.6M589.3 27.3h.6M599.0 46.1h.6M595.4 42.2h.6M587.9 46.0h.6M583.5 46.1h.6M576.9 27.6h.6M586.5 33.7h.6M575.5 34.0h.6M591.8 38.1h.6M596.9 17.2h.6M589.9 33.1h.6M600.3 35.8h.6M593.5 19.1h.6M575.2 23.7h.6M606.6 21.8h.6M586.1 37.1h.6M571.7 21.6h.6M578.3 23.1h.6M580.2 32.8h.6M588.5 17.1h.6M592.8 45.8h.6M601.7 16.4h.6M589.1 34.6h.6M589.3 16.5h.6M610.0 42.1h.6M598.4 58.6h.6M591.8 14.4h.6M599.5 31.9h.6M594.2 50.0h.6M600.9 35.7h.6M591.7 30.1h.6M600.8 17.3h.6M587.1 31.8h.6M566.5 16.6h.6M597.6 52.2h.6M583.5 47.0h.6M606.1 37.3h.6M599.5 33.9h.6M590.4 25.7h.6M586.4 36.2h.6M598.8 31.4h.6M592.5 38.3h.6M591.9 28.9h.6M575.5 34.3h.6M577.3 32.9h.6M589.4 27.4h.6M582.8 43.6h.6M586.5 24.0h.6M577.0 44.6h.6M584.0 15.7h.6M604.4 45.3h.6M569.6 32.1h.6M605.7 35.0h.6M586.5 40.4h.6M596.9 23.6h.6M588.6 48.8h.6M589.0 44.3h.6M589.3 54.2h.6M577.2 29.4h.6M594.1 21.6h.6M597.1 24.9h.6M580.6 49.5h.6M589.0 20.9h.6M599.5 28.9h.6M594.7 53.9h.6M583.8 38.3h.6M594.2 48.1h.6M602.2 29.6h.6M602.4 22.2h.6M595.3 42.2h.6M589.5 37.7h.6M604.8 41.5h.6M589.0 16.4h.6M588.3 74.4h.6M608.5 45.2h.6M587.3 22.1h.6M593.2 26.2h.6M591.3 37.9h.6M585.4 50.6h.6M583.0 40.3h.6M588.6 32.1h.6M597.0 47.5h.6M590.7 47.4h.6M599.7 48.3h.6M589.9 35.3h.6M596.6 38.8h.6M577.4 45.8h.6M588.8 13.7h.6M582.7 27.9h.6M586.1 59.7h.6M587.0 29.7h.6M588.2 40.1h.6M609.6 55.4h.6M585.6 51.2h.6M597.2 51.8h.6M590.5 20.3h.6M588.7 31.8h.6M590.8 18.7h.6M581.8 33.0h.6M594.8 19.7h.6M587.0 44.5h.6M580.0 33.1h.6M584.7 36.8h.6M603.7 49.4h.6M578.7 53.8h.6M582.8 18.2h.6M589.3 22.5h.6M580.2 52.4h.6M594.6 39.4h.6M590.0 46.4h.6M592.5 48.0h.6M589.4 35.8h.6M589.6 65.6h.6M588.4 43.5h.6M590.9 63.5h.6M580.8 60.8h.6M582.5 34.0h.6M598.3 21.2h.6M597.8 62.9h.6M599.8 57.8h.6M600.6 21.6h.6M576.4 23.5h.6M577.8 37.0h.6M597.3 30.9h.6M599.0 38.9h.6M589.1 50.0h.6M578.5 56.6h.6M591.2 36.8h.6M586.5 53.3h.6M601.0 57.4h.6M585.5 31.3h.6M588.4 44.0h.6M596.6 49.5h.6M571.5 28.2h.6M581.5 27.9h.6M579.8 45.2h.6M591.4 45.4h.6M614.2 38.3h.6M589.9 44.1h.6M595.9 41.9h.6M595.9 27.4h.6M593.2 38.4h.6M597.6 69.6h.6M595.9 51.2h.6M597.5 45.1h.6M597.3 41.3h.6M604.8 64.2h.6M608.4 54.5h.6M594.9 57.6h.6M594.8 51.5h.6M581.1 25.5h.6M597.7 32.4h.6M601.0 50.7h.6M597.6 44.9h.6M574.1 42.9h.6M587.3 32.5h.6M592.0 60.1h.6M595.3 54.7h.6M584.4 52.8h.6M593.7 35.5h.6M593.8 38.1h.6M594.0 39.0h.6M596.5 20.7h.6M603.3 28.3h.6M603.6 59.5h.6M589.6 65.2h.6M597.8 50.1h.6M582.2 20.1h.6M603.7 61.8h.6M579.2 42.9h.6M592.1 35.8h.6M597.2 41.9h.6M601.4 35.3h.6M594.8 58.9h.6M578.7 25.7h.6M582.7 29.5h.6M600.3 23.1h.6M589.8 29.6h.6M587.5 49.3h.6M590.5 34.5h.6M594.8 50.7h.6M604.8 51.6h.6M589.5 26.9h.6M586.7 23.4h.6M589.1 18.7h.6M577.5 58.5h.6M572.7 15.4h.6M599.3 37.8h.6M584.4 43.5h.6M593.7 40.5h.6M595.5 34.9h.6M603.9 51.2h.6M597.6 32.9h.6M593.7 25.0h.6M587.9 55.0h.6M584.5 49.9h.6M577.8 48.9h.6M591.1 37.8h.6M584.6 24.5h.6M586.6 14.8h.6M592.8 42.0h.6M596.7 16.9h.6M590.7 33.6h.6M581.0 46.0h.6M588.8 40.8h.6M583.7 16.5h.6M589.1 20.0h.6M597.9 41.6h.6M580.0 70.6h.6M590.2 13.0h.6M588.9 32.9h.6M590.2 36.3h.6M593.4 39.0h.6M595.6 33.4h.6M590.2 52.3h.6M584.4 15.9h.6M592.1 33.0h.6M608.2 39.8h.6M573.9 32.4h.6M578.1 25.0h.6M589.6 63.7h.6M574.8 29.3h.6M581.7 27.0h.6M594.9 20.4h.6M572.6 51.9h.6M572.7 41.9h.6M585.4 28.2h.6M583.4 22.9h.6M597.7 51.0h.6M594.1 52.2h.6M585.0 41.0h.6M599.7 55.5h.6M584.9 16.5h.6M590.7 51.1h.6M577.3 57.8h.6M590.0 24.3h.6M607.3 40.4h.6M590.9 38.6h.6M583.9 27.7h.6M593.8 33.4h.6M592.6 28.1h.6M594.9 18.1h.6M596.9 27.2h.6M584.8 47.6h.6M601.5 40.2h.6M597.4 55.1h.6M589.1 48.9h.6M577.6 52.2h.6M585.5 19.7h.6M591.7 38.1h.6M609.5 73.8h.6M586.7 16.5h.6M596.4 33.8h.6M597.7 28.4h.6M588.0 29.3h.6M579.9 32.8h.6M601.4 37.9h.6M592.3 18.8h.6M585.2 28.7h.6M588.0 27.1h.6M604.5 49.0h.6M593.6 36.7h.6M594.3 54.0h.6M595.3 32.7h.6M594.0 30.5h.6M599.7 24.4h.6M581.3 24.9h.6M602.1 33.7h.6M586.9 25.9h.6M590.5 38.3h.6M573.5 38.4h.6M591.3 67.1h.6M586.1 59.3h.6M594.3 51.4h.6M603.1 38.4h.6M589.0 37.9h.6M589.7 40.1h.6M582.8 53.5h.6M581.9 21.8h.6M582.6 52.0h.6M581.0 49.9h.6M577.8 52.0h.6M612.3 56.2h.6M593.6 36.1h.6M592.0 20.9h.6M587.1 34.2h.6M582.4 27.0h.6M587.6 43.1h.6M588.2 22.7h.6M603.5 34.6h.6M591.6 18.2h.6M586.9 34.9h.6M598.5 37.0h.6M601.9 29.5h.6M581.3 33.6h.6M575.0 51.4h.6M582.5 33.8h.6M586.7 31.6h.6M587.6 36.0h.6M595.6 40.1h.6M590.8 44.5h.6M589.2 45.1h.6M583.6 47.2h.6M596.4 40.1h.6M585.5 38.6h.6M611.4 50.2h.6M578.9 23.6h.6M581.5 57.5h.6M574.7 27.1h.6M582.2 39.4h.6M582.4 38.9h.6M591.1 41.0h.6M600.4 24.6h.6M592.5 32.2h.6M574.3 19.7h.6M584.5 14.5h.6M603.9 41.8h.6M592.0 43.8h.6M599.9 25.9h.6M599.6 53.1h.6M589.0 33.6h.6M608.2 13.6h.6M595.3 27.2h.6M590.9 48.6h.6M596.0 43.6h.6M584.9 35.5h.6M582.2 42.4h.6M592.3 43.6h.6M590.1 36.4h.6M589.8 36.4h.6M599.8 47.9h.6M588.4 47.1h.6M589.0 25.4h.6M604.8 31.2h.6M583.1 50.1h.6M581.3 11.6h.6M610.9 44.9h.6M588.9 34.7h.6M594.9 65.9h.6M597.8 47.4h.6M597.6 64.2h.6M588.8 17.7h.6M571.6 50.8h.6M587.0 45.6h.6M582.1 53.2h.6M599.7 19.5h.6M587.0 54.1h.6M583.5 51.1h.6M594.6 32.7h.6M589.4 25.9h.6M602.4 32.3h.6M593.0 31.6h.6M593.9 62.4h.6M592.5 42.7h.6M583.7 23.0h.6M580.4 19.6h.6M578.4 18.5h.6M573.7 41.5h.6M573.3 58.9h.6M587.5 31.3h.6M600.0 70.4h.6M581.9 48.4h.6M594.1 42.7h.6M592.2 39.4h.6M598.5 28.8h.6M599.0 55.6h.6M586.7 59.1h.6M588.8 61.4h.6M591.0 22.6h.6M582.3 17.8h.6M567.8 23.5h.6M598.6 27.9h.6M584.6 29.8h.6M592.4 46.9h.6M576.4 42.7h.6M582.0 25.3h.6M576.2 27.3h.6M596.7 52.5h.6M599.8 32.2h.6M589.1 36.4h.6M587.9 29.6h.6M593.2 49.6h.6M590.8 18.8h.6M598.6 30.6h.6M581.7 31.9h.6M596.1 41.5h.6M588.8 12.7h.6M594.2 49.6h.6M580.4 39.0h.6M613.0 29.4h.6M597.5 47.7h.6M587.8 24.0h.6M599.4 62.9h.6M587.1 45.2h.6M591.5 33.0h.6M600.5 22.0h.6M601.3 48.6h.6M594.1 38.5h.6M586.6 17.9h.6M581.1 47.4h.6M592.2 12.7h.6M585.5 32.0h.6M569.7 18.8h.6M606.1 20.7h.6M591.6 15.2h.6M589.3 30.6h.6M592.4 40.5h.6M591.6 42.6h.6M593.3 46.8h.6M602.3 28.3h.6M596.4 36.5h.6M600.3 39.6h.6M582.5 48.1h.6M588.2 57.8h.6M605.2 38.4h.6M591.9 32.1h.6M589.4 57.2h.6M598.7 17.2h.6M591.3 56.4h.6M593.6 42.2h.6M599.8 56.5h.6M575.3 42.1h.6M602.4 41.5h.6M595.9 26.1h.6M602.8 58.1h.6M592.3 34.1h.6M583.4 57.3h.6M594.0 18.2h.6M602.7 19.6h.6M587.9 44.9h.6M606.4 54.8h.6M590.0 34.6h.6M594.3 43.9h.6M603.9 60.0h.6M608.5 35.4h.6M597.5 31.9h.6M592.7 60.8h.6M593.3 44.3h.6M591.1 29.9h.6M604.7 39.9h.6M607.4 23.3h.6M586.5 46.1h.6M588.0 63.2h.6M604.7 36.6h.6M581.5 56.6h.6M589.2 41.1h.6M585.7 32.5h.6M589.5 43.8h.6M574.2 34.7h.6M577.2 32.9h.6M583.1 24.5h.6M584.5 32.2h.6M595.1 30.6h.6M603.8 55.8h.6M583.7 37.7h.6M571.9 37.2h.6M602.7 53.0h.6M600.6 40.1h.6M598.3 33.4h.6M593.5 25.2h.6M585.5 36.4h.6M608.9 28.0h.6M597.9 43.0h.6M593.1 35.8h.6M578.6 23.9h.6M582.5 10.9h.6M580.4 64.4h.6M605.7 35.7h.6M586.2 35.8h.6M596.3 35.4h.6M593.7 30.4h.6M607.1 49.1h.6M597.4 35.1h.6M578.7 51.2h.6M587.5 13.6h.6M585.4 44.4h.6M592.8 42.5h.6M591.8 38.9h.6M580.7 40.0h.6M596.1 32.7h.6M589.4 48.5h.6M579.4 38.7h.6M586.9 38.0h.6M610.1 25.1h.6M582.7 42.3h.6M590.5 33.2h.6M589.5 44.2h.6M597.6 40.4h.6M593.9 41.2h.6M601.9 26.9h.6M599.0 28.6h.6M584.7 14.8h.6M596.6 18.3h.6M588.6 53.9h.6M568.3 31.4h.6M606.9 52.4h.6M601.3 31.0h.6M577.9 21.7h.6M609.5 51.8h.6M586.6 64.9h.6M581.4 34.7h.6M595.9 41.7h.6M587.4 33.1h.6M593.3 27.1h.6M595.1 30.6h.6M584.7 43.4h.6M583.0 30.8h.6M576.1 22.8h.6M603.1 37.4h.6M587.2 42.6h.6M590.3 29.0h.6M600.7 17.9h.6M584.5 49.1h.6M597.6 73.4h.6M606.3 28.6h.6M598.6 39.7h.6M583.8 44.7h.6M588.2 57.8h.6M592.1 24.6h.6M604.5 57.4h.6M581.6 36.8h.6M604.1 55.3h.6M588.8 38.8h.6M573.2 30.7h.6M605.1 40.1h.6M594.2 48.5h.6M592.9 21.4h.6M582.6 41.3h.6M588.0 44.3h.6M576.8 29.3h.6M592.7 44.5h.6M589.0 23.9h.6M593.9 37.5h.6M612.4 47.5h.6M593.5 59.0h.6M596.5 48.0h.6M599.6 27.2h.6M582.4 45.8h.6M597.2 55.5h.6M609.5 25.1h.6M586.5 33.3h.6M578.3 26.2h.6M590.6 14.2h.6M583.7 34.7h.6M600.2 31.2h.6M591.3 30.2h.6M583.8 43.4h.6M607.3 60.3h.6M583.7 35.8h.6M591.5 34.1h.6M583.3 48.7h.6M587.6 21.0h.6M584.4 58.5h.6M593.5 54.3h.6M601.2 46.8h.6M582.4 44.3h.6M582.8 39.7h.6M586.9 49.5h.6M589.5 60.9h.6M592.4 35.0h.6M597.4 34.9h.6M598.5 25.5h.6M576.5 45.6h.6M599.6 21.0h.6M610.8 70.1h.6M562.0 68.0h.6M605.9 12.3h.6M568.7 64.8h.6M567.8 24.9h.6M564.3 33.6h.6M596.0 49.5h.6M568.8 84.8h.6M568.4 52.8h.6M609.3 85.0h.6M574.2 40.6h.6M588.3 51.3h.6M583.1 52.9h.6M557.5 24.6h.6M584.2 29.3h.6M577.2 15.0h.6M569.5 24.2h.6M579.1 79.1h.6M555.8 27.8h.6M567.8 33.6h.6M550.1 18.3h.6M592.9 75.4h.6M544.1 68.7h.6M601.6 67.2h.6M598.4 19.2h.6M565.0 75.2h.6M581.2 69.8h.6M562.0 75.0h.6M608.7 24.6h.6M596.9 86.1h.6M547.0 29.7h.6M609.6 63.9h.6M569.5 24.7h.6M609.2 15.5h.6M616.1 15.0h.6M567.6 49.0h.6M586.3 72.8h.6M573.6 81.4h.6M567.1 38.5h.6M615.8 36.1h.6M579.5 17.3h.6M601.8 50.7h.6M606.2 62.1h.6M573.7 15.9h.6M568.9 48.2h.6M571.2 45.5h.6M560.8 28.7h.6M610.6 71.0h.6M570.4 73.2h.6M549.3 59.8h.6M563.7 33.6h.6M580.0 54.7h.6M565.0 30.7h.6M571.9 73.2h.6M610.6 77.9h.6M596.7 83.7h.6M546.4 77.3h.6M570.1 14.7h.6M558.6 75.9h.6M591.9 18.5h.6M566.5 80.6h.6M616.1 83.4h.6M608.6 80.9h.6M607.8 46.7h.6M562.0 52.7h.6M546.3 52.9h.6M563.7 27.7h.6M574.8 61.6h.6M578.7 20.5h.6M614.8 28.5h.6M585.7 74.1h.6M593.1 44.8h.6M608.1 19.2h.6M582.5 21.5h.6M580.2 34.2h.6M604.1 45.7h.6M556.8 25.1h.6M552.7 49.0h.6M606.3 79.9h.6M598.4 18.2h.6M589.8 30.8h.6M552.6 20.3h.6M599.8 17.1h.6M606.7 36.3h.6M570.6 79.1h.6M556.4 43.7h.6M605.7 59.2h.6M560.8 19.6h.6M603.1 58.1h.6M612.6 25.5h.6M564.1 64.0h.6M566.5 84.6h.6M565.6 21.0h.6M579.4 18.7h.6M571.4 81.4h.6M591.3 44.0h.6M591.9 73.3h.6M547.5 83.1h.6M609.2 42.7h.6M558.3 64.8h.6M583.5 20.7h.6M587.4 49.8h.6M586.9 14.0h.6M583.2 45.4h.6M606.4 65.2h.6M595.7 54.4h.6M560.3 73.7h.6M562.4 83.1h.6" fill="none" stroke="#5f8580" stroke-width="0.55" opacity="0.75"/>
<path d="M605.7 34.5Q606.5 36.8 607.0 39.2Q607.4 41.6 607.4 44.0Q607.4 46.4 606.9 48.6Q606.4 50.7 605.6 52.5Q604.8 54.4 603.7 55.9Q602.7 57.4 601.4 58.5Q600.1 59.6 598.7 60.2Q597.2 60.8 595.6 60.8Q594.0 60.8 592.4 60.3Q590.8 59.7 589.3 58.8Q587.7 57.8 586.3 56.4Q584.8 55.0 583.6 53.2Q582.3 51.4 581.4 49.3Q580.4 47.2 579.8 44.9Q579.2 42.6 578.9 40.2Q578.6 37.9 578.6 35.6Q578.5 33.2 578.8 31.0Q579.0 28.7 579.6 26.6Q580.3 24.6 581.3 23.0Q582.4 21.4 583.8 20.4Q585.1 19.4 586.7 19.0Q588.2 18.6 589.8 18.6Q591.4 18.7 593.0 19.2Q594.6 19.8 596.1 20.8Q597.6 21.8 599.0 23.3Q600.4 24.8 601.6 26.6Q602.8 28.3 603.8 30.3Q604.9 32.3 605.7 34.5Z" fill="#fff" />
<path d="M605.3 34.9Q605.8 36.9 606.0 39.2Q606.2 41.6 605.8 43.9Q605.5 46.3 604.8 48.3Q604.1 50.3 603.2 51.9Q602.4 53.6 601.5 54.9Q600.7 56.2 599.8 57.2Q598.9 58.2 597.9 58.7Q596.9 59.2 595.7 59.1Q594.6 59.0 593.3 58.4Q592.1 57.8 590.8 56.8Q589.6 55.9 588.2 54.7Q586.9 53.4 585.5 51.8Q584.2 50.3 583.1 48.3Q581.9 46.4 581.1 44.4Q580.2 42.3 579.6 40.3Q579.0 38.3 578.6 36.2Q578.2 34.1 578.1 32.0Q578.0 29.8 578.4 27.8Q578.9 25.7 580.1 24.2Q581.3 22.6 583.1 21.7Q584.8 20.8 586.6 20.5Q588.5 20.1 590.4 20.2Q592.3 20.3 594.1 20.8Q595.8 21.3 597.4 22.3Q598.9 23.3 600.1 24.6Q601.3 26.0 602.2 27.6Q603.2 29.2 603.9 31.0Q604.7 32.8 605.3 34.9Z" fill="none" stroke="#3f6e68" stroke-width="0.55" />
<path d="M602.7 34.4Q603.1 36.2 603.4 38.1Q603.6 40.1 603.5 42.2Q603.5 44.3 603.0 46.2Q602.5 48.1 601.8 49.6Q601.0 51.1 600.2 52.2Q599.4 53.3 598.5 54.1Q597.7 54.8 596.7 55.2Q595.8 55.6 594.8 55.4Q593.8 55.3 592.8 54.7Q591.7 54.1 590.6 53.3Q589.5 52.4 588.3 51.4Q587.2 50.4 585.9 49.1Q584.7 47.8 583.6 46.2Q582.4 44.6 581.6 42.8Q580.8 40.9 580.4 39.1Q579.9 37.2 579.8 35.5Q579.6 33.7 579.7 31.9Q579.8 30.2 580.2 28.4Q580.6 26.7 581.5 25.2Q582.4 23.8 583.8 22.8Q585.2 21.8 586.8 21.4Q588.5 21.0 590.2 21.0Q591.8 21.0 593.4 21.4Q595.0 21.9 596.4 22.7Q597.8 23.6 598.9 24.9Q599.9 26.2 600.6 27.8Q601.3 29.4 601.8 31.0Q602.3 32.7 602.7 34.4Z" fill="none" stroke="#3f6e68" stroke-width="0.55" />
<path d="M600.8 33.7Q601.1 35.2 601.1 36.9Q601.1 38.5 600.9 40.2Q600.7 41.8 600.3 43.4Q600.0 44.9 599.6 46.4Q599.1 47.8 598.6 49.1Q598.0 50.3 597.3 51.1Q596.6 51.8 595.7 52.1Q594.9 52.3 594.0 52.0Q593.1 51.8 592.2 51.3Q591.3 50.9 590.3 50.3Q589.3 49.7 588.2 48.8Q587.2 47.9 586.1 46.7Q585.1 45.4 584.2 43.9Q583.4 42.4 582.8 40.8Q582.2 39.2 581.8 37.7Q581.3 36.1 581.1 34.6Q580.9 33.1 581.0 31.6Q581.1 30.1 581.6 28.8Q582.1 27.5 582.9 26.4Q583.8 25.3 584.8 24.3Q585.9 23.4 587.2 22.6Q588.4 21.9 589.9 21.5Q591.4 21.2 592.8 21.5Q594.3 21.8 595.5 22.8Q596.8 23.7 597.6 25.0Q598.5 26.4 599.1 27.8Q599.7 29.2 600.1 30.6Q600.6 32.1 600.8 33.7Z" fill="none" stroke="#3f6e68" stroke-width="0.55" />
<path d="M599.2 32.6Q599.4 34.0 599.4 35.4Q599.5 36.9 599.3 38.3Q599.2 39.8 598.8 41.1Q598.4 42.4 597.8 43.4Q597.2 44.4 596.7 45.0Q596.1 45.7 595.5 46.3Q594.9 46.8 594.3 47.1Q593.7 47.5 593.0 47.6Q592.4 47.7 591.6 47.5Q590.8 47.3 590.0 46.8Q589.2 46.3 588.2 45.5Q587.3 44.8 586.4 43.8Q585.4 42.9 584.6 41.6Q583.7 40.4 583.1 39.0Q582.5 37.5 582.3 36.1Q582.1 34.8 582.2 33.5Q582.2 32.3 582.5 31.1Q582.7 30.0 583.0 28.9Q583.4 27.8 584.0 26.8Q584.6 25.8 585.5 25.0Q586.4 24.3 587.5 23.9Q588.6 23.5 589.8 23.3Q590.9 23.2 592.1 23.3Q593.3 23.4 594.4 23.9Q595.5 24.4 596.3 25.3Q597.2 26.2 597.8 27.4Q598.4 28.5 598.7 29.9Q599.0 31.2 599.2 32.6Z" fill="none" stroke="#3f6e68" stroke-width="0.55" />
<path d="M597.4 31.7Q597.6 32.9 597.6 34.0Q597.5 35.2 597.3 36.3Q597.0 37.4 596.7 38.4Q596.4 39.4 596.0 40.3Q595.7 41.2 595.3 42.0Q595.0 42.8 594.5 43.4Q594.1 44.0 593.5 44.3Q593.0 44.6 592.4 44.6Q591.8 44.6 591.1 44.3Q590.5 44.1 589.7 43.6Q589.0 43.1 588.3 42.4Q587.6 41.7 587.0 40.7Q586.3 39.7 585.9 38.7Q585.4 37.7 585.0 36.6Q584.6 35.6 584.3 34.6Q583.9 33.6 583.6 32.6Q583.4 31.5 583.3 30.4Q583.2 29.3 583.5 28.3Q583.8 27.3 584.4 26.5Q585.0 25.7 585.9 25.2Q586.7 24.6 587.6 24.3Q588.6 23.9 589.6 23.9Q590.6 23.8 591.6 24.1Q592.5 24.4 593.3 25.0Q594.1 25.6 594.8 26.4Q595.4 27.1 595.9 27.9Q596.4 28.8 596.8 29.7Q597.2 30.6 597.4 31.7Z" fill="none" stroke="#3f6e68" stroke-width="0.55" />
<path d="M595.4 31.0Q595.4 31.8 595.4 32.7Q595.4 33.5 595.3 34.4Q595.2 35.3 595.0 36.1Q594.8 36.9 594.6 37.6Q594.3 38.3 594.0 39.0Q593.7 39.6 593.4 40.1Q593.0 40.6 592.6 40.8Q592.1 41.1 591.6 41.0Q591.1 40.9 590.6 40.6Q590.1 40.3 589.6 39.8Q589.0 39.4 588.5 38.9Q587.9 38.4 587.4 37.8Q586.8 37.2 586.3 36.5Q585.7 35.7 585.4 34.9Q585.0 34.0 584.8 33.2Q584.6 32.4 584.6 31.6Q584.5 30.8 584.6 30.0Q584.7 29.2 584.9 28.5Q585.2 27.8 585.6 27.2Q586.1 26.6 586.7 26.2Q587.3 25.8 588.0 25.5Q588.8 25.2 589.5 25.0Q590.3 24.8 591.1 24.8Q591.9 24.8 592.6 25.1Q593.4 25.5 593.9 26.1Q594.4 26.8 594.7 27.6Q595.0 28.4 595.2 29.3Q595.3 30.1 595.4 31.0Z" fill="none" stroke="#3f6e68" stroke-width="0.55" />
<path d="M594.1 30.3Q594.2 30.9 594.1 31.6Q594.1 32.3 594.0 33.0Q593.9 33.7 593.7 34.3Q593.6 34.9 593.3 35.4Q593.0 35.9 592.7 36.2Q592.4 36.5 592.1 36.7Q591.7 36.9 591.4 37.0Q591.1 37.1 590.8 37.2Q590.5 37.3 590.1 37.2Q589.8 37.2 589.3 36.9Q588.9 36.7 588.5 36.3Q588.1 35.9 587.7 35.4Q587.3 34.9 587.0 34.4Q586.6 33.8 586.3 33.2Q585.9 32.7 585.7 32.0Q585.5 31.4 585.4 30.8Q585.4 30.2 585.5 29.6Q585.6 29.0 585.8 28.5Q586.0 27.9 586.3 27.5Q586.7 27.0 587.1 26.7Q587.6 26.3 588.2 26.2Q588.8 26.1 589.4 26.1Q589.9 26.2 590.5 26.4Q591.0 26.6 591.5 26.9Q591.9 27.1 592.3 27.4Q592.8 27.7 593.1 28.1Q593.5 28.5 593.7 29.1Q594.0 29.6 594.1 30.3Z" fill="none" stroke="#3f6e68" stroke-width="0.55" />
<path d="M592.5 30.0Q592.5 30.5 592.5 31.0Q592.5 31.4 592.4 31.8Q592.3 32.3 592.1 32.7Q592.0 33.0 591.8 33.4Q591.6 33.7 591.5 34.0Q591.3 34.2 591.1 34.5Q591.0 34.8 590.8 35.0Q590.6 35.2 590.3 35.2Q590.1 35.3 589.8 35.2Q589.5 35.1 589.2 34.8Q588.9 34.6 588.6 34.3Q588.3 34.0 588.1 33.6Q587.8 33.3 587.6 32.9Q587.3 32.5 587.1 32.1Q586.9 31.7 586.8 31.3Q586.7 30.9 586.7 30.5Q586.6 30.1 586.6 29.7Q586.7 29.3 586.8 28.9Q586.9 28.5 587.1 28.2Q587.4 27.8 587.7 27.6Q588.1 27.4 588.5 27.3Q588.9 27.3 589.3 27.2Q589.7 27.2 590.1 27.2Q590.5 27.3 590.8 27.4Q591.2 27.5 591.5 27.7Q591.9 28.0 592.1 28.3Q592.3 28.7 592.4 29.1Q592.5 29.6 592.5 30.0Z" fill="none" stroke="#3f6e68" stroke-width="0.55" />
<path d="M590.9 29.8Q591.0 30.1 591.1 30.4Q591.1 30.7 591.1 31.0Q591.1 31.3 591.1 31.6Q591.0 31.9 591.0 32.1Q590.9 32.4 590.7 32.6Q590.6 32.8 590.5 32.9Q590.3 33.0 590.1 33.0Q590.0 33.0 589.8 33.1Q589.6 33.1 589.4 33.0Q589.2 33.0 589.1 32.9Q588.9 32.8 588.7 32.6Q588.5 32.4 588.4 32.1Q588.3 31.9 588.1 31.6Q588.0 31.3 588.0 31.0Q587.9 30.7 587.8 30.4Q587.7 30.1 587.7 29.8Q587.7 29.5 587.7 29.2Q587.8 28.9 587.9 28.7Q587.9 28.4 588.0 28.2Q588.2 28.0 588.3 27.9Q588.5 27.7 588.6 27.7Q588.8 27.6 589.0 27.6Q589.2 27.6 589.4 27.8Q589.5 27.9 589.7 28.0Q589.9 28.2 590.0 28.4Q590.2 28.6 590.4 28.8Q590.5 29.0 590.7 29.2Q590.8 29.5 590.9 29.8Z" fill="#fff" stroke="#3f6e68" stroke-width="0.5" />
<line x1="538.40" y1="35.80" x2="617.60" y2="35.80" stroke="#999" stroke-width="1.1" />
<line x1="582.60" y1="9.20" x2="582.60" y2="88.50" stroke="#333" stroke-width="0.6" />
<rect x="538.40" y="9.20" width="79.20" height="79.30" fill="none" stroke="#48525c" stroke-width="0.9" />
<line x1="543.70" y1="88.50" x2="543.70" y2="90.30" stroke="#48525c" stroke-width="0.6" />
<line x1="556.00" y1="88.50" x2="556.00" y2="90.30" stroke="#48525c" stroke-width="0.6" />
<line x1="568.40" y1="88.50" x2="568.40" y2="90.30" stroke="#48525c" stroke-width="0.6" />
<line x1="590.60" y1="88.50" x2="590.60" y2="90.30" stroke="#48525c" stroke-width="0.6" />
<line x1="609.20" y1="88.50" x2="609.20" y2="90.30" stroke="#48525c" stroke-width="0.6" />
<line x1="536.60" y1="18.40" x2="538.40" y2="18.40" stroke="#48525c" stroke-width="0.6" />
<line x1="536.60" y1="35.80" x2="538.40" y2="35.80" stroke="#48525c" stroke-width="0.6" />
<line x1="536.60" y1="57.80" x2="538.40" y2="57.80" stroke="#48525c" stroke-width="0.6" />
<line x1="536.60" y1="70.50" x2="538.40" y2="70.50" stroke="#48525c" stroke-width="0.6" />
<line x1="536.60" y1="83.40" x2="538.40" y2="83.40" stroke="#48525c" stroke-width="0.6" />
<ellipse cx="537.5" cy="70.5" rx="1" ry="1.5" fill="#000"/>
<ellipse cx="556.0" cy="89.4" rx="1.5" ry="1" fill="#000"/>
<text x="543.70" y="97.60" font-size="7.3" text-anchor="middle">-10<tspan font-size="3.5" dy="-2.5">3</tspan><tspan dy="2.5">&#8203;</tspan></text>
<text x="556.00" y="97.60" font-size="7.3" text-anchor="middle">0</text>
<text x="568.40" y="97.60" font-size="7.3" text-anchor="middle">10<tspan font-size="3.5" dy="-2.5">3</tspan><tspan dy="2.5">&#8203;</tspan></text>
<text x="590.60" y="97.60" font-size="7.3" text-anchor="middle">10<tspan font-size="3.5" dy="-2.5">4</tspan><tspan dy="2.5">&#8203;</tspan></text>
<text x="609.20" y="97.60" font-size="7.3" text-anchor="middle">10<tspan font-size="3.5" dy="-2.5">5</tspan><tspan dy="2.5">&#8203;</tspan></text>
<text x="580.20" y="5.60" font-size="7.3" text-anchor="middle"><tspan font-style="italic">ZIC3<tspan font-size="4" dy="-2.5">-/-</tspan><tspan dy="2.5">&#8203;</tspan>ZIC5<tspan font-size="4" dy="-2.5">-/-</tspan><tspan dy="2.5">&#8203;</tspan></tspan> + sg<tspan font-style="italic">ZIC2</tspan></text>
<text x="540.00" y="16.80" font-size="7.3">2.9%</text>
<text x="616.00" y="16.80" font-size="7.3" text-anchor="end" font-weight="bold" fill="#3a4fb0">42.3%</text>
<text x="540.00" y="85.90" font-size="7.3">7.1%</text>
<text x="616.00" y="85.90" font-size="7.3" text-anchor="end">47.8%</text>
<text x="451.00" y="20.80" font-size="7.3" text-anchor="end">10<tspan font-size="3.5" dy="-2.5">5</tspan><tspan dy="2.5">&#8203;</tspan></text>
<text x="451.00" y="38.20" font-size="7.3" text-anchor="end">10<tspan font-size="3.5" dy="-2.5">4</tspan><tspan dy="2.5">&#8203;</tspan></text>
<text x="451.00" y="60.20" font-size="7.3" text-anchor="end">10<tspan font-size="3.5" dy="-2.5">3</tspan><tspan dy="2.5">&#8203;</tspan></text>
<text x="451.00" y="72.90" font-size="7.3" text-anchor="end">0</text>
<text x="451.00" y="85.80" font-size="7.3" text-anchor="end">-10<tspan font-size="3.5" dy="-2.5">3</tspan><tspan dy="2.5">&#8203;</tspan></text>
<text x="435.20" y="83.00" font-size="7.3" transform="rotate(-90 435.20 83.00)">APC :: CD56/CD184</text>
<text x="527.90" y="107.40" font-size="7.3" text-anchor="middle">APC/Fire 750 :: CD24</text>
<text x="0.50" y="132.30" font-size="9" font-weight="bold">d</text>
<text x="38.70" y="138.70" font-size="7.3" text-anchor="middle">WT + sgNT</text>
<text x="133.00" y="138.70" font-size="7.3" text-anchor="middle"><tspan font-style="italic">ZIC3<tspan font-size="4" dy="-2.5">-/-</tspan><tspan dy="2.5">&#8203;</tspan>ZIC5<tspan font-size="4" dy="-2.5">-/-</tspan><tspan dy="2.5">&#8203;</tspan></tspan> + sg<tspan font-style="italic">ZIC2</tspan></text>
<defs>
<filter id="grain" x="0" y="0" width="100%" height="100%" color-interpolation-filters="sRGB"><feTurbulence type="fractalNoise" baseFrequency="0.9" numOctaves="2" seed="3"/><feColorMatrix type="matrix" values="0 0 0 0 0  0 0 0 0 0  0 0 0 0 0  1.2 0 0 0 -0.45"/><feComposite in="SourceGraphic" operator="in"/></filter>
<filter id="speck" x="0" y="0" width="100%" height="100%" color-interpolation-filters="sRGB"><feTurbulence type="fractalNoise" baseFrequency="0.6" numOctaves="2" seed="8"/><feColorMatrix type="matrix" values="1.1 0 0 0 -0.07  1.1 0 0 0 -0.07  1.1 0 0 0 -0.07  0 0 0 0 1"/></filter>
<filter id="speck2" x="0" y="0" width="100%" height="100%" color-interpolation-filters="sRGB"><feTurbulence type="fractalNoise" baseFrequency="0.6" numOctaves="2" seed="5"/><feColorMatrix type="matrix" values="0.9 0 0 0 0.14  0.9 0 0 0 0.14  0.9 0 0 0 0.14  0 0 0 0 1"/></filter>
<filter id="bl1" x="-30%" y="-30%" width="160%" height="160%"><feGaussianBlur stdDeviation="1.2"/></filter>
<filter id="bl3" x="-30%" y="-30%" width="160%" height="160%"><feGaussianBlur stdDeviation="3"/></filter>
<filter id="bl05" x="-30%" y="-30%" width="160%" height="160%"><feGaussianBlur stdDeviation="0.45"/></filter>
<radialGradient id="d1bg" cx="0.48" cy="0.25" r="0.75"><stop offset="0" stop-color="#606060"/><stop offset="0.5" stop-color="#707070"/><stop offset="1" stop-color="#868686"/></radialGradient>
<linearGradient id="d2bg" x1="0" y1="0" x2="1" y2="0.75"><stop offset="0" stop-color="#7c7c7c"/><stop offset="0.3" stop-color="#6e6e6e"/><stop offset="0.55" stop-color="#8a8a8a"/><stop offset="0.72" stop-color="#a6a6a6"/><stop offset="0.85" stop-color="#9a9a9a"/><stop offset="1" stop-color="#858585"/></linearGradient>
<clipPath id="c1"><rect x="2.6" y="141.3" width="86" height="85.7"/></clipPath>
<clipPath id="c2"><rect x="91.2" y="141.3" width="85.6" height="85.7"/></clipPath>
</defs>
<g clip-path="url(#c1)">
<rect x="2.60" y="141.30" width="86.00" height="85.70" fill="url(#d1bg)" />
<g filter="url(#bl3)">
<circle cx="17.50" cy="187.30" r="16.00" fill="#9a9a9a" opacity="0.55"/>
<circle cx="69.50" cy="185.30" r="21.00" fill="#9a9a9a" opacity="0.55"/>
<ellipse cx="43" cy="178" rx="7" ry="22" fill="#5e5e5e" opacity="0.6"/>
</g>
<clipPath id="cl"><path d="M29.4 185.8Q29.5 187.3 29.2 188.8Q28.8 190.2 28.3 191.5Q27.7 192.8 27.1 194.0Q26.4 195.3 25.6 196.4Q24.7 197.5 23.7 198.3Q22.6 199.1 21.3 199.6Q20.1 200.0 18.8 200.0Q17.5 200.1 16.2 199.9Q15.0 199.6 13.8 199.2Q12.6 198.7 11.5 198.0Q10.4 197.3 9.4 196.3Q8.5 195.3 7.8 194.1Q7.1 192.9 6.6 191.6Q6.2 190.2 5.9 188.7Q5.6 187.3 5.6 185.8Q5.6 184.3 6.0 182.8Q6.4 181.3 7.3 180.1Q8.1 178.9 9.2 178.1Q10.3 177.2 11.5 176.7Q12.7 176.1 13.9 175.7Q15.1 175.3 16.3 175.1Q17.5 174.9 18.8 174.9Q20.0 175.0 21.2 175.4Q22.4 175.8 23.6 176.5Q24.7 177.2 25.7 178.1Q26.7 179.1 27.5 180.2Q28.4 181.4 28.9 182.8Q29.4 184.3 29.4 185.8Z"/></clipPath><clipPath id="cr"><path d="M86.7 183.3Q87.0 185.3 86.7 187.3Q86.4 189.3 85.7 191.1Q84.9 192.9 83.8 194.5Q82.7 196.1 81.3 197.3Q79.9 198.6 78.2 199.4Q76.6 200.3 74.8 200.7Q73.0 201.1 71.3 201.2Q69.5 201.3 67.7 201.2Q66.0 201.1 64.2 200.8Q62.4 200.5 60.6 199.7Q58.9 198.9 57.4 197.6Q56.0 196.3 55.1 194.6Q54.1 192.9 53.6 191.0Q53.1 189.1 53.0 187.2Q52.8 185.3 53.0 183.4Q53.1 181.5 53.7 179.7Q54.4 177.8 55.4 176.2Q56.5 174.7 57.9 173.4Q59.2 172.1 60.8 171.1Q62.4 170.2 64.1 169.5Q65.8 168.8 67.7 168.5Q69.5 168.3 71.3 168.6Q73.2 168.9 74.8 169.7Q76.5 170.5 77.9 171.5Q79.4 172.6 80.7 173.8Q82.1 175.0 83.3 176.5Q84.5 177.9 85.4 179.6Q86.3 181.4 86.7 183.3Z"/></clipPath>
<path d="M29.4 185.8Q29.5 187.3 29.2 188.8Q28.8 190.2 28.3 191.5Q27.7 192.8 27.1 194.0Q26.4 195.3 25.6 196.4Q24.7 197.5 23.7 198.3Q22.6 199.1 21.3 199.6Q20.1 200.0 18.8 200.0Q17.5 200.1 16.2 199.9Q15.0 199.6 13.8 199.2Q12.6 198.7 11.5 198.0Q10.4 197.3 9.4 196.3Q8.5 195.3 7.8 194.1Q7.1 192.9 6.6 191.6Q6.2 190.2 5.9 188.7Q5.6 187.3 5.6 185.8Q5.6 184.3 6.0 182.8Q6.4 181.3 7.3 180.1Q8.1 178.9 9.2 178.1Q10.3 177.2 11.5 176.7Q12.7 176.1 13.9 175.7Q15.1 175.3 16.3 175.1Q17.5 174.9 18.8 174.9Q20.0 175.0 21.2 175.4Q22.4 175.8 23.6 176.5Q24.7 177.2 25.7 178.1Q26.7 179.1 27.5 180.2Q28.4 181.4 28.9 182.8Q29.4 184.3 29.4 185.8Z" fill="#b4b4b4" filter="url(#bl1)"/>
<path d="M86.7 183.3Q87.0 185.3 86.7 187.3Q86.4 189.3 85.7 191.1Q84.9 192.9 83.8 194.5Q82.7 196.1 81.3 197.3Q79.9 198.6 78.2 199.4Q76.6 200.3 74.8 200.7Q73.0 201.1 71.3 201.2Q69.5 201.3 67.7 201.2Q66.0 201.1 64.2 200.8Q62.4 200.5 60.6 199.7Q58.9 198.9 57.4 197.6Q56.0 196.3 55.1 194.6Q54.1 192.9 53.6 191.0Q53.1 189.1 53.0 187.2Q52.8 185.3 53.0 183.4Q53.1 181.5 53.7 179.7Q54.4 177.8 55.4 176.2Q56.5 174.7 57.9 173.4Q59.2 172.1 60.8 171.1Q62.4 170.2 64.1 169.5Q65.8 168.8 67.7 168.5Q69.5 168.3 71.3 168.6Q73.2 168.9 74.8 169.7Q76.5 170.5 77.9 171.5Q79.4 172.6 80.7 173.8Q82.1 175.0 83.3 176.5Q84.5 177.9 85.4 179.6Q86.3 181.4 86.7 183.3Z" fill="#b4b4b4" filter="url(#bl1)"/>
<g clip-path="url(#cl)"><rect x="2" y="170" width="32" height="34" filter="url(#speck)"/></g>
<g clip-path="url(#cr)"><rect x="50" y="165" width="40" height="40" filter="url(#speck)"/></g>
<path d="M29.4 185.8Q29.5 187.3 29.2 188.8Q28.8 190.2 28.3 191.5Q27.7 192.8 27.1 194.0Q26.4 195.3 25.6 196.4Q24.7 197.5 23.7 198.3Q22.6 199.1 21.3 199.6Q20.1 200.0 18.8 200.0Q17.5 200.1 16.2 199.9Q15.0 199.6 13.8 199.2Q12.6 198.7 11.5 198.0Q10.4 197.3 9.4 196.3Q8.5 195.3 7.8 194.1Q7.1 192.9 6.6 191.6Q6.2 190.2 5.9 188.7Q5.6 187.3 5.6 185.8Q5.6 184.3 6.0 182.8Q6.4 181.3 7.3 180.1Q8.1 178.9 9.2 178.1Q10.3 177.2 11.5 176.7Q12.7 176.1 13.9 175.7Q15.1 175.3 16.3 175.1Q17.5 174.9 18.8 174.9Q20.0 175.0 21.2 175.4Q22.4 175.8 23.6 176.5Q24.7 177.2 25.7 178.1Q26.7 179.1 27.5 180.2Q28.4 181.4 28.9 182.8Q29.4 184.3 29.4 185.8Z" fill="none" stroke="#c2c2c2" stroke-width="1.0" opacity="0.6" filter="url(#bl05)"/>
<path d="M86.7 183.3Q87.0 185.3 86.7 187.3Q86.4 189.3 85.7 191.1Q84.9 192.9 83.8 194.5Q82.7 196.1 81.3 197.3Q79.9 198.6 78.2 199.4Q76.6 200.3 74.8 200.7Q73.0 201.1 71.3 201.2Q69.5 201.3 67.7 201.2Q66.0 201.1 64.2 200.8Q62.4 200.5 60.6 199.7Q58.9 198.9 57.4 197.6Q56.0 196.3 55.1 194.6Q54.1 192.9 53.6 191.0Q53.1 189.1 53.0 187.2Q52.8 185.3 53.0 183.4Q53.1 181.5 53.7 179.7Q54.4 177.8 55.4 176.2Q56.5 174.7 57.9 173.4Q59.2 172.1 60.8 171.1Q62.4 170.2 64.1 169.5Q65.8 168.8 67.7 168.5Q69.5 168.3 71.3 168.6Q73.2 168.9 74.8 169.7Q76.5 170.5 77.9 171.5Q79.4 172.6 80.7 173.8Q82.1 175.0 83.3 176.5Q84.5 177.9 85.4 179.6Q86.3 181.4 86.7 183.3Z" fill="none" stroke="#c2c2c2" stroke-width="1.0" opacity="0.6" filter="url(#bl05)"/>
<path d="M37 179 Q42 185 38.5 193" fill="none" stroke="#b0b0b0" stroke-width="1.6" opacity="0.7" filter="url(#bl05)" stroke-dasharray="1.2 0.8"/>
<g filter="url(#bl05)">
<circle cx="20.00" cy="148.00" r="1.60" fill="none" stroke="#b8b8b8" stroke-width="0.7" opacity="0.8"/>
<circle cx="27.50" cy="147.50" r="1.30" fill="none" stroke="#b8b8b8" stroke-width="0.7" opacity="0.8"/>
<circle cx="51.00" cy="148.50" r="1.70" fill="none" stroke="#b8b8b8" stroke-width="0.7" opacity="0.8"/>
<circle cx="37.00" cy="154.50" r="1.80" fill="none" stroke="#b8b8b8" stroke-width="0.7" opacity="0.8"/>
<circle cx="45.00" cy="163.50" r="1.00" fill="none" stroke="#b8b8b8" stroke-width="0.7" opacity="0.8"/>
<circle cx="20.00" cy="159.00" r="1.20" fill="none" stroke="#b8b8b8" stroke-width="0.7" opacity="0.8"/>
<circle cx="78.00" cy="168.00" r="2.20" fill="none" stroke="#b8b8b8" stroke-width="0.7" opacity="0.8"/>
<circle cx="38.00" cy="195.00" r="2.60" fill="none" stroke="#b8b8b8" stroke-width="0.7" opacity="0.8"/>
<circle cx="47.00" cy="213.00" r="1.30" fill="none" stroke="#b8b8b8" stroke-width="0.7" opacity="0.8"/>
<circle cx="33.00" cy="200.00" r="1.00" fill="none" stroke="#b8b8b8" stroke-width="0.7" opacity="0.8"/>
<circle cx="59.00" cy="213.00" r="1.00" fill="none" stroke="#b8b8b8" stroke-width="0.7" opacity="0.8"/>
<circle cx="6.00" cy="205.00" r="1.00" fill="none" stroke="#b8b8b8" stroke-width="0.7" opacity="0.8"/>
<circle cx="27.00" cy="210.00" r="0.90" fill="none" stroke="#b8b8b8" stroke-width="0.7" opacity="0.8"/>
<circle cx="66.00" cy="219.00" r="0.90" fill="none" stroke="#b8b8b8" stroke-width="0.7" opacity="0.8"/>
<circle cx="49.00" cy="157.00" r="0.80" fill="none" stroke="#b8b8b8" stroke-width="0.7" opacity="0.8"/>
<circle cx="28.00" cy="172.00" r="0.80" fill="none" stroke="#b8b8b8" stroke-width="0.7" opacity="0.8"/>
<circle cx="45.00" cy="163.50" r="0.90" fill="#e0e0e0" />
<circle cx="22.00" cy="146.00" r="0.80" fill="#e0e0e0" />
<circle cx="47.00" cy="213.00" r="1.00" fill="#e0e0e0" />
<circle cx="20.00" cy="160.00" r="0.70" fill="#e0e0e0" />
<circle cx="6.00" cy="205.00" r="0.70" fill="#e0e0e0" />
<circle cx="61.00" cy="214.00" r="0.60" fill="#e0e0e0" />
<circle cx="4.00" cy="222.00" r="1.50" fill="#e0e0e0" />
</g>
<rect x="2.60" y="141.30" width="86.00" height="85.70" fill="#fff" filter="url(#grain)" opacity="0.22"/>
<rect x="68.90" y="219.90" width="16.80" height="2.10" fill="#fff" />
</g>
<g clip-path="url(#c2)">
<rect x="91.20" y="141.30" width="85.60" height="85.70" fill="url(#d2bg)" />
<clipPath id="cb"><path d="M127.0 183.0Q127.4 183.9 127.5 184.8Q127.5 185.8 127.3 186.8Q127.1 187.8 126.5 188.7Q125.8 189.7 124.6 190.3Q123.4 191.0 122.2 191.3Q121.0 191.6 120.1 191.9Q119.3 192.2 118.6 192.9Q118.0 193.5 117.1 194.4Q116.3 195.3 115.1 196.1Q113.8 196.8 112.5 196.9Q111.2 197.0 110.1 196.6Q109.0 196.2 108.3 195.6Q107.5 194.9 106.8 194.2Q106.1 193.5 105.7 192.7Q105.3 191.9 105.4 190.9Q105.5 190.0 106.0 189.1Q106.6 188.2 107.1 187.4Q107.7 186.6 108.1 185.8Q108.5 185.0 109.0 184.1Q109.4 183.2 110.3 182.5Q111.1 181.7 112.3 181.4Q113.5 181.1 114.6 181.1Q115.7 181.2 116.7 181.3Q117.6 181.4 118.7 181.2Q119.7 181.0 121.0 180.8Q122.3 180.6 123.6 180.7Q124.9 180.8 125.7 181.4Q126.6 182.1 127.0 183.0Z"/><path d="M126.9 178.9Q127.1 179.6 127.0 180.4Q126.9 181.3 126.6 181.9Q126.3 182.6 125.9 183.1Q125.5 183.5 125.1 183.7Q124.7 184.0 124.3 184.1Q123.9 184.3 123.6 184.3Q123.2 184.3 122.9 184.1Q122.6 183.9 122.4 183.6Q122.2 183.4 121.9 183.2Q121.6 183.1 121.3 183.1Q120.9 183.0 120.4 182.8Q120.0 182.6 119.8 182.1Q119.5 181.5 119.5 180.7Q119.5 179.9 119.8 179.2Q120.0 178.4 120.3 177.8Q120.6 177.1 120.9 176.5Q121.1 176.0 121.4 175.4Q121.7 174.9 122.0 174.5Q122.4 174.1 122.7 174.0Q123.1 173.8 123.4 173.7Q123.8 173.7 124.1 173.6Q124.5 173.5 124.8 173.4Q125.2 173.4 125.5 173.6Q125.8 173.8 126.0 174.3Q126.2 174.9 126.2 175.5Q126.3 176.1 126.4 176.6Q126.5 177.1 126.6 177.7Q126.8 178.2 126.9 178.9Z"/><path d="M149.8 195.1Q150.4 196.3 150.4 197.7Q150.4 199.1 149.8 200.2Q149.2 201.3 148.5 202.0Q147.8 202.7 147.6 203.5Q147.4 204.2 147.5 205.3Q147.6 206.3 147.6 207.6Q147.5 208.9 146.9 209.9Q146.3 210.9 145.4 211.3Q144.4 211.7 143.3 211.7Q142.2 211.7 141.1 211.6Q140.0 211.4 138.9 210.9Q137.8 210.4 136.9 209.5Q136.0 208.5 135.5 207.3Q135.0 206.1 134.8 204.9Q134.6 203.7 134.2 202.7Q133.9 201.7 133.4 200.7Q132.9 199.6 132.6 198.4Q132.3 197.2 132.7 196.2Q133.0 195.2 133.9 194.6Q134.7 194.0 135.6 193.7Q136.4 193.4 137.1 192.9Q137.7 192.4 138.4 191.7Q139.0 191.0 139.9 190.4Q140.8 189.8 141.9 189.8Q143.0 189.7 144.1 190.2Q145.2 190.6 146.2 191.3Q147.3 192.1 148.2 193.0Q149.2 193.9 149.8 195.1Z"/><path d="M139.6 194.7Q139.0 194.9 138.4 194.9Q137.9 195.0 137.5 195.1Q137.1 195.1 136.8 195.3Q136.4 195.5 136.1 195.6Q135.7 195.8 135.1 195.8Q134.6 195.8 134.0 195.7Q133.5 195.6 132.8 195.5Q132.1 195.3 131.3 195.0Q130.6 194.7 129.9 194.2Q129.3 193.8 129.0 193.2Q128.6 192.6 128.7 192.1Q128.8 191.5 128.9 191.1Q129.1 190.8 129.2 190.4Q129.2 190.0 129.2 189.6Q129.2 189.2 129.3 188.8Q129.4 188.4 129.8 188.2Q130.1 188.0 130.7 188.0Q131.2 188.0 131.7 188.0Q132.3 188.1 132.8 188.1Q133.4 188.1 134.0 188.2Q134.6 188.4 135.2 188.6Q135.8 188.9 136.3 189.3Q136.8 189.7 137.3 190.1Q137.8 190.6 138.4 191.0Q138.9 191.5 139.5 192.0Q140.0 192.5 140.3 193.1Q140.6 193.7 140.4 194.1Q140.1 194.5 139.6 194.7Z"/><path d="M149.2 180.1Q148.6 179.9 148.1 179.9Q147.7 179.8 147.5 180.0Q147.3 180.1 147.1 180.3Q146.8 180.5 146.3 180.4Q145.8 180.3 145.2 180.0Q144.6 179.7 143.9 179.3Q143.3 178.9 142.6 178.5Q141.9 178.1 141.2 177.6Q140.4 177.0 139.8 176.4Q139.1 175.8 138.8 175.3Q138.4 174.7 138.2 174.2Q138.0 173.7 137.7 173.2Q137.4 172.7 137.0 172.1Q136.7 171.5 136.6 171.0Q136.4 170.5 136.9 170.4Q137.3 170.3 138.1 170.7Q139.0 171.1 139.8 171.6Q140.6 172.1 141.1 172.4Q141.7 172.7 142.2 172.9Q142.6 173.0 143.2 173.2Q143.7 173.4 144.4 173.7Q145.0 174.1 145.7 174.5Q146.4 175.0 147.2 175.6Q148.0 176.2 148.8 176.9Q149.6 177.6 150.2 178.3Q150.9 179.1 150.9 179.6Q151.0 180.1 150.5 180.2Q149.9 180.3 149.2 180.1Z"/><path d="M136.3 164.6Q135.8 164.4 135.5 164.4Q135.3 164.4 135.1 164.6Q135.0 164.8 134.7 164.8Q134.4 164.7 133.7 164.2Q133.0 163.6 132.2 162.8Q131.4 161.9 130.7 161.1Q130.0 160.3 129.5 159.7Q128.9 159.0 128.3 158.4Q127.7 157.7 127.2 157.1Q126.7 156.4 126.3 155.9Q126.0 155.3 125.6 154.7Q125.2 154.1 124.6 153.3Q123.9 152.4 123.1 151.3Q122.4 150.2 122.0 149.4Q121.6 148.6 122.0 148.7Q122.4 148.7 123.3 149.5Q124.3 150.3 125.4 151.4Q126.4 152.4 127.1 153.2Q127.8 153.9 128.4 154.4Q128.9 154.9 129.4 155.4Q130.0 155.9 130.5 156.5Q131.1 157.0 131.6 157.6Q132.2 158.3 132.9 159.0Q133.5 159.7 134.4 160.6Q135.3 161.6 136.1 162.5Q136.8 163.5 137.1 164.1Q137.4 164.8 137.1 164.8Q136.7 164.8 136.3 164.6Z"/></clipPath>
<g filter="url(#bl1)" opacity="0.9">
<path d="M127.0 183.0Q127.4 183.9 127.5 184.8Q127.5 185.8 127.3 186.8Q127.1 187.8 126.5 188.7Q125.8 189.7 124.6 190.3Q123.4 191.0 122.2 191.3Q121.0 191.6 120.1 191.9Q119.3 192.2 118.6 192.9Q118.0 193.5 117.1 194.4Q116.3 195.3 115.1 196.1Q113.8 196.8 112.5 196.9Q111.2 197.0 110.1 196.6Q109.0 196.2 108.3 195.6Q107.5 194.9 106.8 194.2Q106.1 193.5 105.7 192.7Q105.3 191.9 105.4 190.9Q105.5 190.0 106.0 189.1Q106.6 188.2 107.1 187.4Q107.7 186.6 108.1 185.8Q108.5 185.0 109.0 184.1Q109.4 183.2 110.3 182.5Q111.1 181.7 112.3 181.4Q113.5 181.1 114.6 181.1Q115.7 181.2 116.7 181.3Q117.6 181.4 118.7 181.2Q119.7 181.0 121.0 180.8Q122.3 180.6 123.6 180.7Q124.9 180.8 125.7 181.4Q126.6 182.1 127.0 183.0Z" fill="#b2b2b2" />
<path d="M126.9 178.9Q127.1 179.6 127.0 180.4Q126.9 181.3 126.6 181.9Q126.3 182.6 125.9 183.1Q125.5 183.5 125.1 183.7Q124.7 184.0 124.3 184.1Q123.9 184.3 123.6 184.3Q123.2 184.3 122.9 184.1Q122.6 183.9 122.4 183.6Q122.2 183.4 121.9 183.2Q121.6 183.1 121.3 183.1Q120.9 183.0 120.4 182.8Q120.0 182.6 119.8 182.1Q119.5 181.5 119.5 180.7Q119.5 179.9 119.8 179.2Q120.0 178.4 120.3 177.8Q120.6 177.1 120.9 176.5Q121.1 176.0 121.4 175.4Q121.7 174.9 122.0 174.5Q122.4 174.1 122.7 174.0Q123.1 173.8 123.4 173.7Q123.8 173.7 124.1 173.6Q124.5 173.5 124.8 173.4Q125.2 173.4 125.5 173.6Q125.8 173.8 126.0 174.3Q126.2 174.9 126.2 175.5Q126.3 176.1 126.4 176.6Q126.5 177.1 126.6 177.7Q126.8 178.2 126.9 178.9Z" fill="#b2b2b2" />
<path d="M149.8 195.1Q150.4 196.3 150.4 197.7Q150.4 199.1 149.8 200.2Q149.2 201.3 148.5 202.0Q147.8 202.7 147.6 203.5Q147.4 204.2 147.5 205.3Q147.6 206.3 147.6 207.6Q147.5 208.9 146.9 209.9Q146.3 210.9 145.4 211.3Q144.4 211.7 143.3 211.7Q142.2 211.7 141.1 211.6Q140.0 211.4 138.9 210.9Q137.8 210.4 136.9 209.5Q136.0 208.5 135.5 207.3Q135.0 206.1 134.8 204.9Q134.6 203.7 134.2 202.7Q133.9 201.7 133.4 200.7Q132.9 199.6 132.6 198.4Q132.3 197.2 132.7 196.2Q133.0 195.2 133.9 194.6Q134.7 194.0 135.6 193.7Q136.4 193.4 137.1 192.9Q137.7 192.4 138.4 191.7Q139.0 191.0 139.9 190.4Q140.8 189.8 141.9 189.8Q143.0 189.7 144.1 190.2Q145.2 190.6 146.2 191.3Q147.3 192.1 148.2 193.0Q149.2 193.9 149.8 195.1Z" fill="#b2b2b2" />
<path d="M139.6 194.7Q139.0 194.9 138.4 194.9Q137.9 195.0 137.5 195.1Q137.1 195.1 136.8 195.3Q136.4 195.5 136.1 195.6Q135.7 195.8 135.1 195.8Q134.6 195.8 134.0 195.7Q133.5 195.6 132.8 195.5Q132.1 195.3 131.3 195.0Q130.6 194.7 129.9 194.2Q129.3 193.8 129.0 193.2Q128.6 192.6 128.7 192.1Q128.8 191.5 128.9 191.1Q129.1 190.8 129.2 190.4Q129.2 190.0 129.2 189.6Q129.2 189.2 129.3 188.8Q129.4 188.4 129.8 188.2Q130.1 188.0 130.7 188.0Q131.2 188.0 131.7 188.0Q132.3 188.1 132.8 188.1Q133.4 188.1 134.0 188.2Q134.6 188.4 135.2 188.6Q135.8 188.9 136.3 189.3Q136.8 189.7 137.3 190.1Q137.8 190.6 138.4 191.0Q138.9 191.5 139.5 192.0Q140.0 192.5 140.3 193.1Q140.6 193.7 140.4 194.1Q140.1 194.5 139.6 194.7Z" fill="#b2b2b2" />
<path d="M149.2 180.1Q148.6 179.9 148.1 179.9Q147.7 179.8 147.5 180.0Q147.3 180.1 147.1 180.3Q146.8 180.5 146.3 180.4Q145.8 180.3 145.2 180.0Q144.6 179.7 143.9 179.3Q143.3 178.9 142.6 178.5Q141.9 178.1 141.2 177.6Q140.4 177.0 139.8 176.4Q139.1 175.8 138.8 175.3Q138.4 174.7 138.2 174.2Q138.0 173.7 137.7 173.2Q137.4 172.7 137.0 172.1Q136.7 171.5 136.6 171.0Q136.4 170.5 136.9 170.4Q137.3 170.3 138.1 170.7Q139.0 171.1 139.8 171.6Q140.6 172.1 141.1 172.4Q141.7 172.7 142.2 172.9Q142.6 173.0 143.2 173.2Q143.7 173.4 144.4 173.7Q145.0 174.1 145.7 174.5Q146.4 175.0 147.2 175.6Q148.0 176.2 148.8 176.9Q149.6 177.6 150.2 178.3Q150.9 179.1 150.9 179.6Q151.0 180.1 150.5 180.2Q149.9 180.3 149.2 180.1Z" fill="#b2b2b2" />
<path d="M136.3 164.6Q135.8 164.4 135.5 164.4Q135.3 164.4 135.1 164.6Q135.0 164.8 134.7 164.8Q134.4 164.7 133.7 164.2Q133.0 163.6 132.2 162.8Q131.4 161.9 130.7 161.1Q130.0 160.3 129.5 159.7Q128.9 159.0 128.3 158.4Q127.7 157.7 127.2 157.1Q126.7 156.4 126.3 155.9Q126.0 155.3 125.6 154.7Q125.2 154.1 124.6 153.3Q123.9 152.4 123.1 151.3Q122.4 150.2 122.0 149.4Q121.6 148.6 122.0 148.7Q122.4 148.7 123.3 149.5Q124.3 150.3 125.4 151.4Q126.4 152.4 127.1 153.2Q127.8 153.9 128.4 154.4Q128.9 154.9 129.4 155.4Q130.0 155.9 130.5 156.5Q131.1 157.0 131.6 157.6Q132.2 158.3 132.9 159.0Q133.5 159.7 134.4 160.6Q135.3 161.6 136.1 162.5Q136.8 163.5 137.1 164.1Q137.4 164.8 137.1 164.8Q136.7 164.8 136.3 164.6Z" fill="#b2b2b2" />
</g>
<g clip-path="url(#cb)"><rect x="100" y="145" width="60" height="70" filter="url(#speck2)"/></g>
<g filter="url(#bl05)">
<path d="M127.0 183.0Q127.4 183.9 127.5 184.8Q127.5 185.8 127.3 186.8Q127.1 187.8 126.5 188.7Q125.8 189.7 124.6 190.3Q123.4 191.0 122.2 191.3Q121.0 191.6 120.1 191.9Q119.3 192.2 118.6 192.9Q118.0 193.5 117.1 194.4Q116.3 195.3 115.1 196.1Q113.8 196.8 112.5 196.9Q111.2 197.0 110.1 196.6Q109.0 196.2 108.3 195.6Q107.5 194.9 106.8 194.2Q106.1 193.5 105.7 192.7Q105.3 191.9 105.4 190.9Q105.5 190.0 106.0 189.1Q106.6 188.2 107.1 187.4Q107.7 186.6 108.1 185.8Q108.5 185.0 109.0 184.1Q109.4 183.2 110.3 182.5Q111.1 181.7 112.3 181.4Q113.5 181.1 114.6 181.1Q115.7 181.2 116.7 181.3Q117.6 181.4 118.7 181.2Q119.7 181.0 121.0 180.8Q122.3 180.6 123.6 180.7Q124.9 180.8 125.7 181.4Q126.6 182.1 127.0 183.0Z" fill="none" stroke="#c6c6c6" stroke-width="0.8" opacity="0.55"/>
<path d="M126.9 178.9Q127.1 179.6 127.0 180.4Q126.9 181.3 126.6 181.9Q126.3 182.6 125.9 183.1Q125.5 183.5 125.1 183.7Q124.7 184.0 124.3 184.1Q123.9 184.3 123.6 184.3Q123.2 184.3 122.9 184.1Q122.6 183.9 122.4 183.6Q122.2 183.4 121.9 183.2Q121.6 183.1 121.3 183.1Q120.9 183.0 120.4 182.8Q120.0 182.6 119.8 182.1Q119.5 181.5 119.5 180.7Q119.5 179.9 119.8 179.2Q120.0 178.4 120.3 177.8Q120.6 177.1 120.9 176.5Q121.1 176.0 121.4 175.4Q121.7 174.9 122.0 174.5Q122.4 174.1 122.7 174.0Q123.1 173.8 123.4 173.7Q123.8 173.7 124.1 173.6Q124.5 173.5 124.8 173.4Q125.2 173.4 125.5 173.6Q125.8 173.8 126.0 174.3Q126.2 174.9 126.2 175.5Q126.3 176.1 126.4 176.6Q126.5 177.1 126.6 177.7Q126.8 178.2 126.9 178.9Z" fill="none" stroke="#c6c6c6" stroke-width="0.8" opacity="0.55"/>
<path d="M149.8 195.1Q150.4 196.3 150.4 197.7Q150.4 199.1 149.8 200.2Q149.2 201.3 148.5 202.0Q147.8 202.7 147.6 203.5Q147.4 204.2 147.5 205.3Q147.6 206.3 147.6 207.6Q147.5 208.9 146.9 209.9Q146.3 210.9 145.4 211.3Q144.4 211.7 143.3 211.7Q142.2 211.7 141.1 211.6Q140.0 211.4 138.9 210.9Q137.8 210.4 136.9 209.5Q136.0 208.5 135.5 207.3Q135.0 206.1 134.8 204.9Q134.6 203.7 134.2 202.7Q133.9 201.7 133.4 200.7Q132.9 199.6 132.6 198.4Q132.3 197.2 132.7 196.2Q133.0 195.2 133.9 194.6Q134.7 194.0 135.6 193.7Q136.4 193.4 137.1 192.9Q137.7 192.4 138.4 191.7Q139.0 191.0 139.9 190.4Q140.8 189.8 141.9 189.8Q143.0 189.7 144.1 190.2Q145.2 190.6 146.2 191.3Q147.3 192.1 148.2 193.0Q149.2 193.9 149.8 195.1Z" fill="none" stroke="#c6c6c6" stroke-width="0.8" opacity="0.55"/>
<path d="M139.6 194.7Q139.0 194.9 138.4 194.9Q137.9 195.0 137.5 195.1Q137.1 195.1 136.8 195.3Q136.4 195.5 136.1 195.6Q135.7 195.8 135.1 195.8Q134.6 195.8 134.0 195.7Q133.5 195.6 132.8 195.5Q132.1 195.3 131.3 195.0Q130.6 194.7 129.9 194.2Q129.3 193.8 129.0 193.2Q128.6 192.6 128.7 192.1Q128.8 191.5 128.9 191.1Q129.1 190.8 129.2 190.4Q129.2 190.0 129.2 189.6Q129.2 189.2 129.3 188.8Q129.4 188.4 129.8 188.2Q130.1 188.0 130.7 188.0Q131.2 188.0 131.7 188.0Q132.3 188.1 132.8 188.1Q133.4 188.1 134.0 188.2Q134.6 188.4 135.2 188.6Q135.8 188.9 136.3 189.3Q136.8 189.7 137.3 190.1Q137.8 190.6 138.4 191.0Q138.9 191.5 139.5 192.0Q140.0 192.5 140.3 193.1Q140.6 193.7 140.4 194.1Q140.1 194.5 139.6 194.7Z" fill="none" stroke="#c6c6c6" stroke-width="0.8" opacity="0.55"/>
<path d="M149.2 180.1Q148.6 179.9 148.1 179.9Q147.7 179.8 147.5 180.0Q147.3 180.1 147.1 180.3Q146.8 180.5 146.3 180.4Q145.8 180.3 145.2 180.0Q144.6 179.7 143.9 179.3Q143.3 178.9 142.6 178.5Q141.9 178.1 141.2 177.6Q140.4 177.0 139.8 176.4Q139.1 175.8 138.8 175.3Q138.4 174.7 138.2 174.2Q138.0 173.7 137.7 173.2Q137.4 172.7 137.0 172.1Q136.7 171.5 136.6 171.0Q136.4 170.5 136.9 170.4Q137.3 170.3 138.1 170.7Q139.0 171.1 139.8 171.6Q140.6 172.1 141.1 172.4Q141.7 172.7 142.2 172.9Q142.6 173.0 143.2 173.2Q143.7 173.4 144.4 173.7Q145.0 174.1 145.7 174.5Q146.4 175.0 147.2 175.6Q148.0 176.2 148.8 176.9Q149.6 177.6 150.2 178.3Q150.9 179.1 150.9 179.6Q151.0 180.1 150.5 180.2Q149.9 180.3 149.2 180.1Z" fill="none" stroke="#c6c6c6" stroke-width="0.8" opacity="0.55"/>
<path d="M136.3 164.6Q135.8 164.4 135.5 164.4Q135.3 164.4 135.1 164.6Q135.0 164.8 134.7 164.8Q134.4 164.7 133.7 164.2Q133.0 163.6 132.2 162.8Q131.4 161.9 130.7 161.1Q130.0 160.3 129.5 159.7Q128.9 159.0 128.3 158.4Q127.7 157.7 127.2 157.1Q126.7 156.4 126.3 155.9Q126.0 155.3 125.6 154.7Q125.2 154.1 124.6 153.3Q123.9 152.4 123.1 151.3Q122.4 150.2 122.0 149.4Q121.6 148.6 122.0 148.7Q122.4 148.7 123.3 149.5Q124.3 150.3 125.4 151.4Q126.4 152.4 127.1 153.2Q127.8 153.9 128.4 154.4Q128.9 154.9 129.4 155.4Q130.0 155.9 130.5 156.5Q131.1 157.0 131.6 157.6Q132.2 158.3 132.9 159.0Q133.5 159.7 134.4 160.6Q135.3 161.6 136.1 162.5Q136.8 163.5 137.1 164.1Q137.4 164.8 137.1 164.8Q136.7 164.8 136.3 164.6Z" fill="none" stroke="#c6c6c6" stroke-width="0.8" opacity="0.55"/>
<path d="M110 219 Q116 212 119.5 205" fill="none" stroke="#c0c0c0" stroke-width="1.3" opacity="0.8"/>
<path d="M128 223 L132 218 L134 222" fill="none" stroke="#c0c0c0" stroke-width="1.1" opacity="0.8"/>
<path d="M135 172 L134.5 183" fill="none" stroke="#b0b0b0" stroke-width="0.8" opacity="0.8"/>
<path d="M92.5 171 L97 165.5" fill="none" stroke="#c8c8c8" stroke-width="2.2" opacity="0.8"/>
<circle cx="105.50" cy="151.00" r="1.50" fill="none" stroke="#c4c4c4" stroke-width="0.8" opacity="0.8"/>
<circle cx="157.50" cy="169.00" r="1.60" fill="none" stroke="#c4c4c4" stroke-width="0.8" opacity="0.8"/>
<circle cx="175.50" cy="157.00" r="2.20" fill="none" stroke="#c4c4c4" stroke-width="0.8" opacity="0.8"/>
<circle cx="99.00" cy="202.00" r="1.50" fill="none" stroke="#c4c4c4" stroke-width="0.8" opacity="0.8"/>
<circle cx="162.00" cy="204.00" r="1.20" fill="none" stroke="#c4c4c4" stroke-width="0.8" opacity="0.8"/>
<circle cx="169.00" cy="187.00" r="0.90" fill="none" stroke="#c4c4c4" stroke-width="0.8" opacity="0.8"/>
<circle cx="173.00" cy="211.00" r="1.00" fill="none" stroke="#c4c4c4" stroke-width="0.8" opacity="0.8"/>
<circle cx="97.00" cy="174.00" r="0.80" fill="none" stroke="#c4c4c4" stroke-width="0.8" opacity="0.8"/>
</g>
<rect x="91.20" y="141.30" width="85.60" height="85.70" fill="#fff" filter="url(#grain)" opacity="0.22"/>
<rect x="155.80" y="219.40" width="16.50" height="2.10" fill="#fff" />
</g>
<text x="432.70" y="123.70" font-size="9" font-weight="bold">e</text>
<path d="M462.90 139.90h6.23v1.27h-6.23zM506.17 139.90h6.23v1.27h-6.23zM512.35 139.90h6.23v1.27h-6.23zM518.53 139.90h6.23v1.27h-6.23zM524.71 139.90h6.23v1.27h-6.23zM530.89 139.90h6.23v1.27h-6.23zM543.25 139.90h6.23v1.27h-6.23zM555.61 139.90h6.23v1.27h-6.23zM462.90 141.12h6.23v1.27h-6.23zM487.62 141.12h6.23v1.27h-6.23zM499.98 141.12h6.23v1.27h-6.23zM506.17 141.12h6.23v1.27h-6.23zM524.71 141.12h6.23v1.27h-6.23zM537.07 141.12h6.23v1.27h-6.23zM549.43 141.12h6.23v1.27h-6.23zM567.97 141.12h6.23v1.27h-6.23zM574.15 141.12h6.23v1.27h-6.23zM469.08 142.34h6.23v1.27h-6.23zM481.44 142.34h6.23v1.27h-6.23zM493.80 142.34h6.23v1.27h-6.23zM518.53 142.34h6.23v1.27h-6.23zM524.71 142.34h6.23v1.27h-6.23zM530.89 142.34h6.23v1.27h-6.23zM537.07 142.34h6.23v1.27h-6.23zM555.61 142.34h6.23v1.27h-6.23zM574.15 142.34h6.23v1.27h-6.23zM475.26 143.56h6.23v1.27h-6.23zM518.53 143.56h6.23v1.27h-6.23zM524.71 143.56h6.23v1.27h-6.23zM499.98 146.00h6.23v1.27h-6.23zM555.61 146.00h6.23v1.27h-6.23zM574.15 146.00h6.23v1.27h-6.23zM462.90 147.22h6.23v1.27h-6.23zM487.62 147.22h6.23v1.27h-6.23zM506.17 147.22h6.23v1.27h-6.23zM524.71 147.22h6.23v1.27h-6.23zM537.07 147.22h6.23v1.27h-6.23zM462.90 148.44h6.23v1.27h-6.23zM469.08 148.44h6.23v1.27h-6.23zM506.17 148.44h6.23v1.27h-6.23zM537.07 148.44h6.23v1.27h-6.23zM475.26 149.66h6.23v1.27h-6.23zM481.44 149.66h6.23v1.27h-6.23zM512.35 149.66h6.23v1.27h-6.23zM574.15 149.66h6.23v1.27h-6.23zM475.26 150.88h6.23v1.27h-6.23zM512.35 150.88h6.23v1.27h-6.23zM549.43 150.88h6.23v1.27h-6.23zM555.61 150.88h6.23v1.27h-6.23zM574.15 150.88h6.23v1.27h-6.23zM475.26 152.10h6.23v1.27h-6.23zM487.62 152.10h6.23v1.27h-6.23zM543.25 152.10h6.23v1.27h-6.23zM549.43 152.10h6.23v1.27h-6.23zM567.97 152.10h6.23v1.27h-6.23zM512.35 153.32h6.23v1.27h-6.23zM518.53 154.54h6.23v1.27h-6.23zM530.89 154.54h6.23v1.27h-6.23zM530.89 155.76h6.23v1.27h-6.23zM487.62 156.98h6.23v1.27h-6.23zM506.17 156.98h6.23v1.27h-6.23zM567.97 156.98h6.23v1.27h-6.23zM530.89 159.42h6.23v1.27h-6.23zM462.90 160.64h6.23v1.27h-6.23zM469.08 160.64h6.23v1.27h-6.23zM567.97 160.64h6.23v1.27h-6.23zM475.26 161.86h6.23v1.27h-6.23zM543.25 161.86h6.23v1.27h-6.23zM561.79 161.86h6.23v1.27h-6.23zM475.26 164.30h6.23v1.27h-6.23zM530.89 164.30h6.23v1.27h-6.23zM543.25 164.30h6.23v1.27h-6.23zM475.26 165.52h6.23v1.27h-6.23zM518.53 165.52h6.23v1.27h-6.23zM475.26 166.74h6.23v1.27h-6.23zM481.44 166.74h6.23v1.27h-6.23zM506.17 166.74h6.23v1.27h-6.23zM518.53 166.74h6.23v1.27h-6.23zM537.07 166.74h6.23v1.27h-6.23zM561.79 166.74h6.23v1.27h-6.23zM469.08 167.96h6.23v1.27h-6.23zM506.17 167.96h6.23v1.27h-6.23zM530.89 167.96h6.23v1.27h-6.23zM555.61 167.96h6.23v1.27h-6.23zM561.79 167.96h6.23v1.27h-6.23zM462.90 169.18h6.23v1.27h-6.23zM506.17 169.18h6.23v1.27h-6.23zM555.61 169.18h6.23v1.27h-6.23zM561.79 169.18h6.23v1.27h-6.23zM530.89 170.40h6.23v1.27h-6.23zM561.79 170.40h6.23v1.27h-6.23zM574.15 170.40h6.23v1.27h-6.23zM524.71 171.62h6.23v1.27h-6.23zM555.61 171.62h6.23v1.27h-6.23zM518.53 172.84h6.23v1.27h-6.23zM574.15 172.84h6.23v1.27h-6.23zM469.08 174.06h6.23v1.27h-6.23zM518.53 174.06h6.23v1.27h-6.23zM524.71 174.06h6.23v1.27h-6.23zM567.97 174.06h6.23v1.27h-6.23zM512.35 175.28h6.23v1.27h-6.23zM543.25 179.62h6.23v1.27h-6.23zM598.88 180.85h6.23v1.27h-6.23zM487.62 182.07h6.23v1.27h-6.23zM493.80 182.07h6.23v1.27h-6.23zM487.62 184.51h6.23v1.27h-6.23zM543.25 185.74h6.23v1.27h-6.23zM555.61 188.18h6.23v1.27h-6.23zM493.80 189.41h6.23v1.27h-6.23zM518.53 190.63h6.23v1.27h-6.23zM555.61 193.07h6.23v1.27h-6.23zM487.62 195.52h6.23v1.27h-6.23zM506.17 196.74h6.23v1.27h-6.23zM469.08 197.97h6.23v1.27h-6.23zM493.80 197.97h6.23v1.27h-6.23zM555.61 199.19h6.23v1.27h-6.23zM586.52 201.63h6.23v1.27h-6.23zM524.71 202.86h6.23v1.27h-6.23zM580.33 202.86h6.23v1.27h-6.23zM493.80 208.97h6.23v1.27h-6.23zM574.15 208.97h6.23v1.27h-6.23zM469.08 210.19h6.23v1.27h-6.23zM493.80 210.19h6.23v1.27h-6.23zM518.53 210.19h6.23v1.27h-6.23zM549.43 210.19h6.23v1.27h-6.23zM580.33 212.64h6.23v1.27h-6.23zM487.62 213.86h6.23v1.27h-6.23zM543.25 213.86h6.23v1.27h-6.23zM475.26 215.09h6.23v1.27h-6.23zM499.98 215.09h6.23v1.27h-6.23zM512.35 215.09h6.23v1.27h-6.23zM537.07 215.09h6.23v1.27h-6.23zM543.25 215.09h6.23v1.27h-6.23zM567.97 215.09h6.23v1.27h-6.23zM543.25 216.31h6.23v1.27h-6.23zM543.25 219.98h6.23v1.27h-6.23z" fill="#daeadb" />
<path d="M469.08 139.90h6.23v1.27h-6.23zM475.26 139.90h6.23v1.27h-6.23zM499.98 139.90h6.23v1.27h-6.23zM549.43 139.90h6.23v1.27h-6.23zM543.25 141.12h6.23v1.27h-6.23zM475.26 142.34h6.23v1.27h-6.23zM506.17 142.34h6.23v1.27h-6.23zM543.25 142.34h6.23v1.27h-6.23zM481.44 143.56h6.23v1.27h-6.23zM543.25 143.56h6.23v1.27h-6.23zM499.98 144.78h6.23v1.27h-6.23zM574.15 144.78h6.23v1.27h-6.23zM462.90 146.00h6.23v1.27h-6.23zM469.08 146.00h6.23v1.27h-6.23zM487.62 146.00h6.23v1.27h-6.23zM530.89 146.00h6.23v1.27h-6.23zM561.79 146.00h6.23v1.27h-6.23zM567.97 146.00h6.23v1.27h-6.23zM543.25 147.22h6.23v1.27h-6.23zM475.26 148.44h6.23v1.27h-6.23zM462.90 149.66h6.23v1.27h-6.23zM469.08 149.66h6.23v1.27h-6.23zM487.62 149.66h6.23v1.27h-6.23zM518.53 149.66h6.23v1.27h-6.23zM543.25 149.66h6.23v1.27h-6.23zM549.43 149.66h6.23v1.27h-6.23zM555.61 149.66h6.23v1.27h-6.23zM567.97 149.66h6.23v1.27h-6.23zM462.90 150.88h6.23v1.27h-6.23zM487.62 150.88h6.23v1.27h-6.23zM475.26 153.32h6.23v1.27h-6.23zM481.44 153.32h6.23v1.27h-6.23zM530.89 153.32h6.23v1.27h-6.23zM549.43 153.32h6.23v1.27h-6.23zM555.61 153.32h6.23v1.27h-6.23zM567.97 153.32h6.23v1.27h-6.23zM475.26 154.54h6.23v1.27h-6.23zM537.07 154.54h6.23v1.27h-6.23zM567.97 154.54h6.23v1.27h-6.23zM462.90 155.76h6.23v1.27h-6.23zM493.80 155.76h6.23v1.27h-6.23zM518.53 155.76h6.23v1.27h-6.23zM524.71 155.76h6.23v1.27h-6.23zM549.43 155.76h6.23v1.27h-6.23zM567.97 155.76h6.23v1.27h-6.23zM499.98 156.98h6.23v1.27h-6.23zM512.35 156.98h6.23v1.27h-6.23zM518.53 156.98h6.23v1.27h-6.23zM549.43 156.98h6.23v1.27h-6.23zM487.62 158.20h6.23v1.27h-6.23zM499.98 158.20h6.23v1.27h-6.23zM524.71 158.20h6.23v1.27h-6.23zM567.97 158.20h6.23v1.27h-6.23zM475.26 159.42h6.23v1.27h-6.23zM524.71 159.42h6.23v1.27h-6.23zM567.97 159.42h6.23v1.27h-6.23zM524.71 160.64h6.23v1.27h-6.23zM530.89 160.64h6.23v1.27h-6.23zM555.61 160.64h6.23v1.27h-6.23zM574.15 160.64h6.23v1.27h-6.23zM493.80 161.86h6.23v1.27h-6.23zM469.08 163.08h6.23v1.27h-6.23zM512.35 163.08h6.23v1.27h-6.23zM537.07 163.08h6.23v1.27h-6.23zM487.62 164.30h6.23v1.27h-6.23zM493.80 164.30h6.23v1.27h-6.23zM512.35 164.30h6.23v1.27h-6.23zM549.43 164.30h6.23v1.27h-6.23zM555.61 164.30h6.23v1.27h-6.23zM567.97 164.30h6.23v1.27h-6.23zM462.90 165.52h6.23v1.27h-6.23zM493.80 165.52h6.23v1.27h-6.23zM549.43 165.52h6.23v1.27h-6.23zM561.79 165.52h6.23v1.27h-6.23zM512.35 166.74h6.23v1.27h-6.23zM524.71 166.74h6.23v1.27h-6.23zM549.43 166.74h6.23v1.27h-6.23zM567.97 166.74h6.23v1.27h-6.23zM462.90 167.96h6.23v1.27h-6.23zM475.26 167.96h6.23v1.27h-6.23zM567.97 167.96h6.23v1.27h-6.23zM574.15 167.96h6.23v1.27h-6.23zM543.25 169.18h6.23v1.27h-6.23zM462.90 170.40h6.23v1.27h-6.23zM481.44 170.40h6.23v1.27h-6.23zM487.62 170.40h6.23v1.27h-6.23zM506.17 170.40h6.23v1.27h-6.23zM543.25 170.40h6.23v1.27h-6.23zM549.43 170.40h6.23v1.27h-6.23zM555.61 170.40h6.23v1.27h-6.23zM462.90 171.62h6.23v1.27h-6.23zM469.08 171.62h6.23v1.27h-6.23zM475.26 171.62h6.23v1.27h-6.23zM499.98 171.62h6.23v1.27h-6.23zM574.15 171.62h6.23v1.27h-6.23zM549.43 172.84h6.23v1.27h-6.23zM487.62 174.06h6.23v1.27h-6.23zM493.80 174.06h6.23v1.27h-6.23zM543.25 174.06h6.23v1.27h-6.23zM481.44 175.28h6.23v1.27h-6.23zM487.62 175.28h6.23v1.27h-6.23zM493.80 175.28h6.23v1.27h-6.23zM518.53 175.28h6.23v1.27h-6.23zM524.71 175.28h6.23v1.27h-6.23zM580.33 178.40h6.23v1.27h-6.23zM592.70 178.40h6.23v1.27h-6.23zM617.42 179.62h6.23v1.27h-6.23zM605.06 180.85h6.23v1.27h-6.23zM611.24 180.85h6.23v1.27h-6.23zM611.24 182.07h6.23v1.27h-6.23zM580.33 183.29h6.23v1.27h-6.23zM586.52 183.29h6.23v1.27h-6.23zM592.70 186.96h6.23v1.27h-6.23zM605.06 186.96h6.23v1.27h-6.23zM617.42 186.96h6.23v1.27h-6.23zM605.06 188.18h6.23v1.27h-6.23zM487.62 189.41h6.23v1.27h-6.23zM617.42 189.41h6.23v1.27h-6.23zM561.79 190.63h6.23v1.27h-6.23zM580.33 191.85h6.23v1.27h-6.23zM586.52 191.85h6.23v1.27h-6.23zM617.42 193.07h6.23v1.27h-6.23zM580.33 194.30h6.23v1.27h-6.23zM586.52 194.30h6.23v1.27h-6.23zM512.35 195.52h6.23v1.27h-6.23zM555.61 196.74h6.23v1.27h-6.23zM598.88 197.97h6.23v1.27h-6.23zM543.25 199.19h6.23v1.27h-6.23zM592.70 200.41h6.23v1.27h-6.23zM605.06 202.86h6.23v1.27h-6.23zM598.88 204.08h6.23v1.27h-6.23zM586.52 205.30h6.23v1.27h-6.23zM598.88 206.53h6.23v1.27h-6.23zM598.88 207.75h6.23v1.27h-6.23zM605.06 207.75h6.23v1.27h-6.23zM617.42 207.75h6.23v1.27h-6.23zM555.61 210.19h6.23v1.27h-6.23zM580.33 210.19h6.23v1.27h-6.23zM567.97 211.42h6.23v1.27h-6.23zM598.88 211.42h6.23v1.27h-6.23zM611.24 216.31h6.23v1.27h-6.23zM543.25 217.53h6.23v1.27h-6.23zM580.33 218.75h6.23v1.27h-6.23zM586.52 218.75h6.23v1.27h-6.23zM598.88 218.75h6.23v1.27h-6.23zM586.52 219.98h6.23v1.27h-6.23zM598.88 219.98h6.23v1.27h-6.23z" fill="#bde2d7" />
<path d="M481.44 139.90h6.23v1.27h-6.23zM469.08 141.12h6.23v1.27h-6.23zM499.98 142.34h6.23v1.27h-6.23zM518.53 147.22h6.23v1.27h-6.23zM561.79 147.22h6.23v1.27h-6.23zM574.15 147.22h6.23v1.27h-6.23zM481.44 148.44h6.23v1.27h-6.23zM469.08 150.88h6.23v1.27h-6.23zM561.79 150.88h6.23v1.27h-6.23zM499.98 152.10h6.23v1.27h-6.23zM518.53 152.10h6.23v1.27h-6.23zM561.79 152.10h6.23v1.27h-6.23zM574.15 152.10h6.23v1.27h-6.23zM499.98 159.42h6.23v1.27h-6.23zM499.98 161.86h6.23v1.27h-6.23zM512.35 161.86h6.23v1.27h-6.23zM574.15 161.86h6.23v1.27h-6.23zM598.88 163.08h6.23v1.27h-6.23zM518.53 164.30h6.23v1.27h-6.23zM537.07 165.52h6.23v1.27h-6.23zM567.97 165.52h6.23v1.27h-6.23zM499.98 169.18h6.23v1.27h-6.23zM512.35 169.18h6.23v1.27h-6.23zM567.97 169.18h6.23v1.27h-6.23zM518.53 170.40h6.23v1.27h-6.23zM537.07 170.40h6.23v1.27h-6.23zM617.42 170.40h6.23v1.27h-6.23zM481.44 171.62h6.23v1.27h-6.23zM530.89 171.62h6.23v1.27h-6.23zM567.97 171.62h6.23v1.27h-6.23zM567.97 172.84h6.23v1.27h-6.23zM462.90 174.06h6.23v1.27h-6.23zM475.26 174.06h6.23v1.27h-6.23zM555.61 174.06h6.23v1.27h-6.23zM469.08 178.40h6.23v1.27h-6.23zM481.44 178.40h6.23v1.27h-6.23zM487.62 178.40h6.23v1.27h-6.23zM524.71 178.40h6.23v1.27h-6.23zM537.07 178.40h6.23v1.27h-6.23zM555.61 178.40h6.23v1.27h-6.23zM462.90 179.62h6.23v1.27h-6.23zM506.17 179.62h6.23v1.27h-6.23zM518.53 179.62h6.23v1.27h-6.23zM549.43 179.62h6.23v1.27h-6.23zM487.62 180.85h6.23v1.27h-6.23zM493.80 180.85h6.23v1.27h-6.23zM469.08 182.07h6.23v1.27h-6.23zM475.26 182.07h6.23v1.27h-6.23zM506.17 182.07h6.23v1.27h-6.23zM561.79 182.07h6.23v1.27h-6.23zM574.15 182.07h6.23v1.27h-6.23zM518.53 183.29h6.23v1.27h-6.23zM555.61 183.29h6.23v1.27h-6.23zM462.90 184.51h6.23v1.27h-6.23zM555.61 184.51h6.23v1.27h-6.23zM561.79 184.51h6.23v1.27h-6.23zM574.15 184.51h6.23v1.27h-6.23zM487.62 185.74h6.23v1.27h-6.23zM506.17 185.74h6.23v1.27h-6.23zM555.61 185.74h6.23v1.27h-6.23zM469.08 188.18h6.23v1.27h-6.23zM493.80 188.18h6.23v1.27h-6.23zM506.17 188.18h6.23v1.27h-6.23zM524.71 188.18h6.23v1.27h-6.23zM549.43 188.18h6.23v1.27h-6.23zM555.61 189.41h6.23v1.27h-6.23zM475.26 190.63h6.23v1.27h-6.23zM487.62 190.63h6.23v1.27h-6.23zM493.80 190.63h6.23v1.27h-6.23zM512.35 190.63h6.23v1.27h-6.23zM537.07 190.63h6.23v1.27h-6.23zM487.62 191.85h6.23v1.27h-6.23zM512.35 193.07h6.23v1.27h-6.23zM524.71 193.07h6.23v1.27h-6.23zM537.07 194.30h6.23v1.27h-6.23zM543.25 194.30h6.23v1.27h-6.23zM543.25 195.52h6.23v1.27h-6.23zM549.43 195.52h6.23v1.27h-6.23zM561.79 195.52h6.23v1.27h-6.23zM574.15 195.52h6.23v1.27h-6.23zM481.44 196.74h6.23v1.27h-6.23zM493.80 196.74h6.23v1.27h-6.23zM524.71 196.74h6.23v1.27h-6.23zM567.97 196.74h6.23v1.27h-6.23zM574.15 196.74h6.23v1.27h-6.23zM462.90 197.97h6.23v1.27h-6.23zM475.26 197.97h6.23v1.27h-6.23zM506.17 197.97h6.23v1.27h-6.23zM530.89 197.97h6.23v1.27h-6.23zM543.25 197.97h6.23v1.27h-6.23zM561.79 197.97h6.23v1.27h-6.23zM574.15 197.97h6.23v1.27h-6.23zM475.26 199.19h6.23v1.27h-6.23zM493.80 199.19h6.23v1.27h-6.23zM524.71 199.19h6.23v1.27h-6.23zM537.07 199.19h6.23v1.27h-6.23zM549.43 199.19h6.23v1.27h-6.23zM567.97 199.19h6.23v1.27h-6.23zM481.44 200.41h6.23v1.27h-6.23zM543.25 200.41h6.23v1.27h-6.23zM493.80 202.86h6.23v1.27h-6.23zM475.26 204.08h6.23v1.27h-6.23zM493.80 204.08h6.23v1.27h-6.23zM518.53 204.08h6.23v1.27h-6.23zM561.79 204.08h6.23v1.27h-6.23zM493.80 206.53h6.23v1.27h-6.23zM499.98 206.53h6.23v1.27h-6.23zM518.53 206.53h6.23v1.27h-6.23zM549.43 206.53h6.23v1.27h-6.23zM487.62 207.75h6.23v1.27h-6.23zM549.43 207.75h6.23v1.27h-6.23zM462.90 208.97h6.23v1.27h-6.23zM469.08 208.97h6.23v1.27h-6.23zM487.62 208.97h6.23v1.27h-6.23zM506.17 208.97h6.23v1.27h-6.23zM530.89 208.97h6.23v1.27h-6.23zM561.79 208.97h6.23v1.27h-6.23zM499.98 210.19h6.23v1.27h-6.23zM506.17 210.19h6.23v1.27h-6.23zM512.35 210.19h6.23v1.27h-6.23zM561.79 210.19h6.23v1.27h-6.23zM567.97 210.19h6.23v1.27h-6.23zM462.90 211.42h6.23v1.27h-6.23zM481.44 211.42h6.23v1.27h-6.23zM524.71 211.42h6.23v1.27h-6.23zM462.90 212.64h6.23v1.27h-6.23zM475.26 212.64h6.23v1.27h-6.23zM469.08 213.86h6.23v1.27h-6.23zM475.26 213.86h6.23v1.27h-6.23zM493.80 213.86h6.23v1.27h-6.23zM512.35 213.86h6.23v1.27h-6.23zM567.97 213.86h6.23v1.27h-6.23zM524.71 215.09h6.23v1.27h-6.23zM561.79 215.09h6.23v1.27h-6.23zM574.15 215.09h6.23v1.27h-6.23zM462.90 216.31h6.23v1.27h-6.23zM469.08 216.31h6.23v1.27h-6.23zM493.80 216.31h6.23v1.27h-6.23zM475.26 217.53h6.23v1.27h-6.23zM481.44 217.53h6.23v1.27h-6.23zM574.15 217.53h6.23v1.27h-6.23zM499.98 218.75h6.23v1.27h-6.23zM487.62 219.98h6.23v1.27h-6.23z" fill="#f2ead1" />
<path d="M487.62 139.90h6.23v1.27h-6.23zM567.97 139.90h6.23v1.27h-6.23zM574.15 139.90h6.23v1.27h-6.23zM493.80 141.12h6.23v1.27h-6.23zM530.89 141.12h6.23v1.27h-6.23zM555.61 141.12h6.23v1.27h-6.23zM487.62 142.34h6.23v1.27h-6.23zM549.43 142.34h6.23v1.27h-6.23zM469.08 143.56h6.23v1.27h-6.23zM493.80 143.56h6.23v1.27h-6.23zM512.35 143.56h6.23v1.27h-6.23zM530.89 143.56h6.23v1.27h-6.23zM549.43 143.56h6.23v1.27h-6.23zM555.61 143.56h6.23v1.27h-6.23zM567.97 143.56h6.23v1.27h-6.23zM512.35 146.00h6.23v1.27h-6.23zM518.53 146.00h6.23v1.27h-6.23zM493.80 147.22h6.23v1.27h-6.23zM555.61 147.22h6.23v1.27h-6.23zM493.80 148.44h6.23v1.27h-6.23zM512.35 148.44h6.23v1.27h-6.23zM518.53 148.44h6.23v1.27h-6.23zM549.43 148.44h6.23v1.27h-6.23zM555.61 148.44h6.23v1.27h-6.23zM493.80 149.66h6.23v1.27h-6.23zM499.98 149.66h6.23v1.27h-6.23zM506.17 149.66h6.23v1.27h-6.23zM537.07 149.66h6.23v1.27h-6.23zM537.07 150.88h6.23v1.27h-6.23zM493.80 152.10h6.23v1.27h-6.23zM512.35 152.10h6.23v1.27h-6.23zM462.90 153.32h6.23v1.27h-6.23zM469.08 153.32h6.23v1.27h-6.23zM499.98 153.32h6.23v1.27h-6.23zM506.17 153.32h6.23v1.27h-6.23zM518.53 153.32h6.23v1.27h-6.23zM561.79 153.32h6.23v1.27h-6.23zM574.15 153.32h6.23v1.27h-6.23zM469.08 154.54h6.23v1.27h-6.23zM481.44 154.54h6.23v1.27h-6.23zM499.98 154.54h6.23v1.27h-6.23zM475.26 155.76h6.23v1.27h-6.23zM487.62 155.76h6.23v1.27h-6.23zM499.98 155.76h6.23v1.27h-6.23zM555.61 155.76h6.23v1.27h-6.23zM561.79 155.76h6.23v1.27h-6.23zM493.80 156.98h6.23v1.27h-6.23zM561.79 156.98h6.23v1.27h-6.23zM462.90 158.20h6.23v1.27h-6.23zM469.08 158.20h6.23v1.27h-6.23zM530.89 158.20h6.23v1.27h-6.23zM555.61 158.20h6.23v1.27h-6.23zM574.15 158.20h6.23v1.27h-6.23zM469.08 159.42h6.23v1.27h-6.23zM481.44 159.42h6.23v1.27h-6.23zM487.62 159.42h6.23v1.27h-6.23zM574.15 159.42h6.23v1.27h-6.23zM475.26 160.64h6.23v1.27h-6.23zM537.07 160.64h6.23v1.27h-6.23zM481.44 163.08h6.23v1.27h-6.23zM506.17 163.08h6.23v1.27h-6.23zM524.71 163.08h6.23v1.27h-6.23zM530.89 163.08h6.23v1.27h-6.23zM567.97 163.08h6.23v1.27h-6.23zM481.44 164.30h6.23v1.27h-6.23zM524.71 164.30h6.23v1.27h-6.23zM561.79 164.30h6.23v1.27h-6.23zM574.15 164.30h6.23v1.27h-6.23zM499.98 165.52h6.23v1.27h-6.23zM506.17 165.52h6.23v1.27h-6.23zM524.71 165.52h6.23v1.27h-6.23zM530.89 165.52h6.23v1.27h-6.23zM574.15 165.52h6.23v1.27h-6.23zM469.08 166.74h6.23v1.27h-6.23zM499.98 166.74h6.23v1.27h-6.23zM530.89 166.74h6.23v1.27h-6.23zM574.15 166.74h6.23v1.27h-6.23zM524.71 167.96h6.23v1.27h-6.23zM537.07 167.96h6.23v1.27h-6.23zM518.53 169.18h6.23v1.27h-6.23zM530.89 169.18h6.23v1.27h-6.23zM574.15 169.18h6.23v1.27h-6.23zM469.08 170.40h6.23v1.27h-6.23zM512.35 170.40h6.23v1.27h-6.23zM524.71 170.40h6.23v1.27h-6.23zM487.62 171.62h6.23v1.27h-6.23zM493.80 171.62h6.23v1.27h-6.23zM506.17 171.62h6.23v1.27h-6.23zM512.35 171.62h6.23v1.27h-6.23zM518.53 171.62h6.23v1.27h-6.23zM537.07 171.62h6.23v1.27h-6.23zM561.79 171.62h6.23v1.27h-6.23zM462.90 172.84h6.23v1.27h-6.23zM469.08 172.84h6.23v1.27h-6.23zM487.62 172.84h6.23v1.27h-6.23zM499.98 172.84h6.23v1.27h-6.23zM506.17 172.84h6.23v1.27h-6.23zM537.07 172.84h6.23v1.27h-6.23zM543.25 172.84h6.23v1.27h-6.23zM561.79 172.84h6.23v1.27h-6.23zM499.98 174.06h6.23v1.27h-6.23zM512.35 174.06h6.23v1.27h-6.23zM549.43 174.06h6.23v1.27h-6.23zM499.98 175.28h6.23v1.27h-6.23zM567.97 175.28h6.23v1.27h-6.23zM543.25 183.29h6.23v1.27h-6.23zM592.70 183.29h6.23v1.27h-6.23zM598.88 183.29h6.23v1.27h-6.23zM543.25 184.51h6.23v1.27h-6.23zM580.33 186.96h6.23v1.27h-6.23zM592.70 189.41h6.23v1.27h-6.23zM499.98 190.63h6.23v1.27h-6.23zM611.24 191.85h6.23v1.27h-6.23zM506.17 193.07h6.23v1.27h-6.23zM611.24 194.30h6.23v1.27h-6.23zM506.17 195.52h6.23v1.27h-6.23zM487.62 197.97h6.23v1.27h-6.23zM605.06 200.41h6.23v1.27h-6.23zM611.24 200.41h6.23v1.27h-6.23zM543.25 201.63h6.23v1.27h-6.23zM605.06 201.63h6.23v1.27h-6.23zM617.42 201.63h6.23v1.27h-6.23zM586.52 202.86h6.23v1.27h-6.23zM512.35 204.08h6.23v1.27h-6.23zM543.25 204.08h6.23v1.27h-6.23zM611.24 205.30h6.23v1.27h-6.23zM512.35 208.97h6.23v1.27h-6.23zM543.25 208.97h6.23v1.27h-6.23zM506.17 211.42h6.23v1.27h-6.23zM598.88 212.64h6.23v1.27h-6.23zM493.80 215.09h6.23v1.27h-6.23zM549.43 215.09h6.23v1.27h-6.23zM592.70 218.75h6.23v1.27h-6.23z" fill="#cce7dc" />
<path d="M493.80 139.90h6.23v1.27h-6.23zM518.53 141.12h6.23v1.27h-6.23zM462.90 143.56h6.23v1.27h-6.23zM506.17 143.56h6.23v1.27h-6.23zM481.44 144.78h6.23v1.27h-6.23zM487.62 144.78h6.23v1.27h-6.23zM512.35 144.78h6.23v1.27h-6.23zM518.53 144.78h6.23v1.27h-6.23zM530.89 144.78h6.23v1.27h-6.23zM561.79 144.78h6.23v1.27h-6.23zM567.97 144.78h6.23v1.27h-6.23zM481.44 146.00h6.23v1.27h-6.23zM493.80 146.00h6.23v1.27h-6.23zM524.71 146.00h6.23v1.27h-6.23zM512.35 147.22h6.23v1.27h-6.23zM499.98 148.44h6.23v1.27h-6.23zM524.71 148.44h6.23v1.27h-6.23zM561.79 148.44h6.23v1.27h-6.23zM574.15 148.44h6.23v1.27h-6.23zM561.79 149.66h6.23v1.27h-6.23zM543.25 150.88h6.23v1.27h-6.23zM487.62 153.32h6.23v1.27h-6.23zM543.25 153.32h6.23v1.27h-6.23zM462.90 154.54h6.23v1.27h-6.23zM506.17 154.54h6.23v1.27h-6.23zM524.71 154.54h6.23v1.27h-6.23zM555.61 154.54h6.23v1.27h-6.23zM469.08 155.76h6.23v1.27h-6.23zM506.17 155.76h6.23v1.27h-6.23zM462.90 156.98h6.23v1.27h-6.23zM481.44 156.98h6.23v1.27h-6.23zM555.61 156.98h6.23v1.27h-6.23zM574.15 156.98h6.23v1.27h-6.23zM475.26 158.20h6.23v1.27h-6.23zM481.44 158.20h6.23v1.27h-6.23zM549.43 158.20h6.23v1.27h-6.23zM462.90 159.42h6.23v1.27h-6.23zM512.35 159.42h6.23v1.27h-6.23zM518.53 159.42h6.23v1.27h-6.23zM537.07 159.42h6.23v1.27h-6.23zM487.62 160.64h6.23v1.27h-6.23zM506.17 160.64h6.23v1.27h-6.23zM561.79 160.64h6.23v1.27h-6.23zM499.98 163.08h6.23v1.27h-6.23zM518.53 163.08h6.23v1.27h-6.23zM555.61 163.08h6.23v1.27h-6.23zM574.15 163.08h6.23v1.27h-6.23zM469.08 164.30h6.23v1.27h-6.23zM499.98 164.30h6.23v1.27h-6.23zM481.44 165.52h6.23v1.27h-6.23zM487.62 165.52h6.23v1.27h-6.23zM512.35 165.52h6.23v1.27h-6.23zM543.25 165.52h6.23v1.27h-6.23zM493.80 167.96h6.23v1.27h-6.23zM512.35 167.96h6.23v1.27h-6.23zM518.53 167.96h6.23v1.27h-6.23zM549.43 167.96h6.23v1.27h-6.23zM487.62 169.18h6.23v1.27h-6.23zM493.80 169.18h6.23v1.27h-6.23zM499.98 170.40h6.23v1.27h-6.23zM462.90 175.28h6.23v1.27h-6.23zM530.89 175.28h6.23v1.27h-6.23zM537.07 175.28h6.23v1.27h-6.23zM549.43 175.28h6.23v1.27h-6.23zM574.15 175.28h6.23v1.27h-6.23zM580.33 179.62h6.23v1.27h-6.23zM592.70 179.62h6.23v1.27h-6.23zM580.33 180.85h6.23v1.27h-6.23zM586.52 180.85h6.23v1.27h-6.23zM592.70 180.85h6.23v1.27h-6.23zM617.42 180.85h6.23v1.27h-6.23zM598.88 182.07h6.23v1.27h-6.23zM611.24 183.29h6.23v1.27h-6.23zM598.88 184.51h6.23v1.27h-6.23zM611.24 185.74h6.23v1.27h-6.23zM586.52 186.96h6.23v1.27h-6.23zM586.52 188.18h6.23v1.27h-6.23zM592.70 188.18h6.23v1.27h-6.23zM586.52 190.63h6.23v1.27h-6.23zM617.42 190.63h6.23v1.27h-6.23zM598.88 194.30h6.23v1.27h-6.23zM605.06 194.30h6.23v1.27h-6.23zM580.33 195.52h6.23v1.27h-6.23zM586.52 195.52h6.23v1.27h-6.23zM487.62 196.74h6.23v1.27h-6.23zM611.24 197.97h6.23v1.27h-6.23zM580.33 199.19h6.23v1.27h-6.23zM580.33 200.41h6.23v1.27h-6.23zM586.52 200.41h6.23v1.27h-6.23zM598.88 200.41h6.23v1.27h-6.23zM617.42 200.41h6.23v1.27h-6.23zM592.70 201.63h6.23v1.27h-6.23zM611.24 201.63h6.23v1.27h-6.23zM592.70 202.86h6.23v1.27h-6.23zM611.24 202.86h6.23v1.27h-6.23zM580.33 204.08h6.23v1.27h-6.23zM617.42 205.30h6.23v1.27h-6.23zM580.33 206.53h6.23v1.27h-6.23zM611.24 206.53h6.23v1.27h-6.23zM592.70 207.75h6.23v1.27h-6.23zM611.24 207.75h6.23v1.27h-6.23zM611.24 208.97h6.23v1.27h-6.23zM543.25 210.19h6.23v1.27h-6.23zM586.52 212.64h6.23v1.27h-6.23zM605.06 212.64h6.23v1.27h-6.23zM611.24 212.64h6.23v1.27h-6.23zM586.52 216.31h6.23v1.27h-6.23zM592.70 216.31h6.23v1.27h-6.23zM598.88 216.31h6.23v1.27h-6.23zM592.70 217.53h6.23v1.27h-6.23zM611.24 218.75h6.23v1.27h-6.23zM580.33 219.98h6.23v1.27h-6.23zM592.70 219.98h6.23v1.27h-6.23zM611.24 219.98h6.23v1.27h-6.23zM617.42 219.98h6.23v1.27h-6.23z" fill="#aedcd2" />
<path d="M537.07 139.90h6.23v1.27h-6.23zM561.79 139.90h6.23v1.27h-6.23zM475.26 141.12h6.23v1.27h-6.23zM462.90 142.34h6.23v1.27h-6.23zM499.98 143.56h6.23v1.27h-6.23zM537.07 146.00h6.23v1.27h-6.23zM481.44 147.22h6.23v1.27h-6.23zM530.89 147.22h6.23v1.27h-6.23zM549.43 147.22h6.23v1.27h-6.23zM567.97 148.44h6.23v1.27h-6.23zM530.89 149.66h6.23v1.27h-6.23zM592.70 149.66h6.23v1.27h-6.23zM481.44 150.88h6.23v1.27h-6.23zM493.80 150.88h6.23v1.27h-6.23zM499.98 150.88h6.23v1.27h-6.23zM518.53 150.88h6.23v1.27h-6.23zM524.71 150.88h6.23v1.27h-6.23zM567.97 150.88h6.23v1.27h-6.23zM481.44 155.76h6.23v1.27h-6.23zM512.35 155.76h6.23v1.27h-6.23zM469.08 156.98h6.23v1.27h-6.23zM524.71 156.98h6.23v1.27h-6.23zM530.89 156.98h6.23v1.27h-6.23zM537.07 156.98h6.23v1.27h-6.23zM592.70 159.42h6.23v1.27h-6.23zM462.90 161.86h6.23v1.27h-6.23zM469.08 161.86h6.23v1.27h-6.23zM481.44 161.86h6.23v1.27h-6.23zM487.62 161.86h6.23v1.27h-6.23zM518.53 161.86h6.23v1.27h-6.23zM524.71 161.86h6.23v1.27h-6.23zM549.43 161.86h6.23v1.27h-6.23zM555.61 161.86h6.23v1.27h-6.23zM506.17 164.30h6.23v1.27h-6.23zM537.07 164.30h6.23v1.27h-6.23zM469.08 165.52h6.23v1.27h-6.23zM555.61 166.74h6.23v1.27h-6.23zM481.44 167.96h6.23v1.27h-6.23zM499.98 167.96h6.23v1.27h-6.23zM469.08 169.18h6.23v1.27h-6.23zM475.26 169.18h6.23v1.27h-6.23zM481.44 169.18h6.23v1.27h-6.23zM549.43 169.18h6.23v1.27h-6.23zM475.26 170.40h6.23v1.27h-6.23zM493.80 170.40h6.23v1.27h-6.23zM567.97 170.40h6.23v1.27h-6.23zM549.43 171.62h6.23v1.27h-6.23zM481.44 172.84h6.23v1.27h-6.23zM512.35 172.84h6.23v1.27h-6.23zM524.71 172.84h6.23v1.27h-6.23zM530.89 172.84h6.23v1.27h-6.23zM555.61 172.84h6.23v1.27h-6.23zM506.17 174.06h6.23v1.27h-6.23zM530.89 174.06h6.23v1.27h-6.23zM537.07 174.06h6.23v1.27h-6.23zM561.79 174.06h6.23v1.27h-6.23zM543.25 178.40h6.23v1.27h-6.23zM549.43 178.40h6.23v1.27h-6.23zM493.80 179.62h6.23v1.27h-6.23zM512.35 179.62h6.23v1.27h-6.23zM555.61 179.62h6.23v1.27h-6.23zM549.43 180.85h6.23v1.27h-6.23zM499.98 182.07h6.23v1.27h-6.23zM475.26 184.51h6.23v1.27h-6.23zM506.17 184.51h6.23v1.27h-6.23zM512.35 185.74h6.23v1.27h-6.23zM537.07 185.74h6.23v1.27h-6.23zM549.43 185.74h6.23v1.27h-6.23zM574.15 185.74h6.23v1.27h-6.23zM487.62 188.18h6.23v1.27h-6.23zM506.17 189.41h6.23v1.27h-6.23zM549.43 190.63h6.23v1.27h-6.23zM555.61 190.63h6.23v1.27h-6.23zM475.26 193.07h6.23v1.27h-6.23zM592.70 194.30h6.23v1.27h-6.23zM493.80 195.52h6.23v1.27h-6.23zM512.35 196.74h6.23v1.27h-6.23zM518.53 196.74h6.23v1.27h-6.23zM537.07 196.74h6.23v1.27h-6.23zM499.98 197.97h6.23v1.27h-6.23zM524.71 197.97h6.23v1.27h-6.23zM555.61 197.97h6.23v1.27h-6.23zM469.08 199.19h6.23v1.27h-6.23zM481.44 199.19h6.23v1.27h-6.23zM518.53 199.19h6.23v1.27h-6.23zM580.33 201.63h6.23v1.27h-6.23zM462.90 202.86h6.23v1.27h-6.23zM481.44 202.86h6.23v1.27h-6.23zM543.25 202.86h6.23v1.27h-6.23zM549.43 202.86h6.23v1.27h-6.23zM481.44 204.08h6.23v1.27h-6.23zM574.15 204.08h6.23v1.27h-6.23zM487.62 205.30h6.23v1.27h-6.23zM493.80 205.30h6.23v1.27h-6.23zM574.15 205.30h6.23v1.27h-6.23zM512.35 206.53h6.23v1.27h-6.23zM543.25 206.53h6.23v1.27h-6.23zM561.79 206.53h6.23v1.27h-6.23zM524.71 207.75h6.23v1.27h-6.23zM543.25 207.75h6.23v1.27h-6.23zM475.26 208.97h6.23v1.27h-6.23zM481.44 208.97h6.23v1.27h-6.23zM518.53 208.97h6.23v1.27h-6.23zM524.71 208.97h6.23v1.27h-6.23zM462.90 210.19h6.23v1.27h-6.23zM475.26 210.19h6.23v1.27h-6.23zM481.44 210.19h6.23v1.27h-6.23zM487.62 210.19h6.23v1.27h-6.23zM524.71 210.19h6.23v1.27h-6.23zM530.89 210.19h6.23v1.27h-6.23zM574.15 210.19h6.23v1.27h-6.23zM487.62 211.42h6.23v1.27h-6.23zM543.25 211.42h6.23v1.27h-6.23zM543.25 212.64h6.23v1.27h-6.23zM462.90 215.09h6.23v1.27h-6.23zM469.08 215.09h6.23v1.27h-6.23zM481.44 215.09h6.23v1.27h-6.23zM506.17 215.09h6.23v1.27h-6.23zM518.53 215.09h6.23v1.27h-6.23zM506.17 216.31h6.23v1.27h-6.23zM549.43 216.31h6.23v1.27h-6.23zM462.90 217.53h6.23v1.27h-6.23zM469.08 217.53h6.23v1.27h-6.23zM487.62 217.53h6.23v1.27h-6.23zM493.80 217.53h6.23v1.27h-6.23zM481.44 219.98h6.23v1.27h-6.23z" fill="#e8ebd7" />
<path d="M580.33 139.90h6.23v1.27h-6.23zM586.52 139.90h6.23v1.27h-6.23zM592.70 139.90h6.23v1.27h-6.23zM605.06 139.90h6.23v1.27h-6.23zM611.24 139.90h6.23v1.27h-6.23zM617.42 139.90h6.23v1.27h-6.23zM580.33 141.12h6.23v1.27h-6.23zM586.52 142.34h6.23v1.27h-6.23zM586.52 143.56h6.23v1.27h-6.23zM605.06 143.56h6.23v1.27h-6.23zM605.06 144.78h6.23v1.27h-6.23zM611.24 146.00h6.23v1.27h-6.23zM586.52 147.22h6.23v1.27h-6.23zM586.52 148.44h6.23v1.27h-6.23zM598.88 149.66h6.23v1.27h-6.23zM617.42 149.66h6.23v1.27h-6.23zM605.06 150.88h6.23v1.27h-6.23zM611.24 150.88h6.23v1.27h-6.23zM617.42 153.32h6.23v1.27h-6.23zM605.06 154.54h6.23v1.27h-6.23zM592.70 156.98h6.23v1.27h-6.23zM617.42 156.98h6.23v1.27h-6.23zM611.24 158.20h6.23v1.27h-6.23zM617.42 158.20h6.23v1.27h-6.23zM605.06 159.42h6.23v1.27h-6.23zM617.42 159.42h6.23v1.27h-6.23zM598.88 161.86h6.23v1.27h-6.23zM598.88 164.30h6.23v1.27h-6.23zM617.42 164.30h6.23v1.27h-6.23zM580.33 166.74h6.23v1.27h-6.23zM598.88 166.74h6.23v1.27h-6.23zM586.52 167.96h6.23v1.27h-6.23zM592.70 167.96h6.23v1.27h-6.23zM586.52 169.18h6.23v1.27h-6.23zM598.88 169.18h6.23v1.27h-6.23zM611.24 169.18h6.23v1.27h-6.23zM586.52 171.62h6.23v1.27h-6.23zM586.52 172.84h6.23v1.27h-6.23zM617.42 172.84h6.23v1.27h-6.23zM580.33 175.28h6.23v1.27h-6.23zM605.06 175.28h6.23v1.27h-6.23zM611.24 175.28h6.23v1.27h-6.23zM574.15 178.40h6.23v1.27h-6.23zM462.90 180.85h6.23v1.27h-6.23zM524.71 180.85h6.23v1.27h-6.23zM530.89 180.85h6.23v1.27h-6.23zM537.07 182.07h6.23v1.27h-6.23zM537.07 183.29h6.23v1.27h-6.23zM530.89 191.85h6.23v1.27h-6.23zM555.61 191.85h6.23v1.27h-6.23zM462.90 200.41h6.23v1.27h-6.23zM537.07 200.41h6.23v1.27h-6.23zM567.97 200.41h6.23v1.27h-6.23zM462.90 201.63h6.23v1.27h-6.23zM475.26 201.63h6.23v1.27h-6.23zM524.71 201.63h6.23v1.27h-6.23zM530.89 201.63h6.23v1.27h-6.23zM574.15 201.63h6.23v1.27h-6.23zM462.90 206.53h6.23v1.27h-6.23zM475.26 207.75h6.23v1.27h-6.23zM574.15 207.75h6.23v1.27h-6.23zM561.79 212.64h6.23v1.27h-6.23zM481.44 218.75h6.23v1.27h-6.23zM506.17 218.75h6.23v1.27h-6.23zM524.71 218.75h6.23v1.27h-6.23zM530.89 218.75h6.23v1.27h-6.23zM499.98 219.98h6.23v1.27h-6.23zM537.07 219.98h6.23v1.27h-6.23zM567.97 219.98h6.23v1.27h-6.23z" fill="#e6c990" />
<path d="M598.88 139.90h6.23v1.27h-6.23zM598.88 141.12h6.23v1.27h-6.23zM617.42 148.44h6.23v1.27h-6.23zM611.24 152.10h6.23v1.27h-6.23zM617.42 161.86h6.23v1.27h-6.23zM617.42 169.18h6.23v1.27h-6.23z" fill="#daae69" />
<path d="M481.44 141.12h6.23v1.27h-6.23zM586.52 141.12h6.23v1.27h-6.23zM592.70 141.12h6.23v1.27h-6.23zM611.24 143.56h6.23v1.27h-6.23zM617.42 143.56h6.23v1.27h-6.23zM611.24 144.78h6.23v1.27h-6.23zM592.70 146.00h6.23v1.27h-6.23zM617.42 146.00h6.23v1.27h-6.23zM580.33 148.44h6.23v1.27h-6.23zM592.70 148.44h6.23v1.27h-6.23zM580.33 149.66h6.23v1.27h-6.23zM592.70 150.88h6.23v1.27h-6.23zM530.89 152.10h6.23v1.27h-6.23zM592.70 153.32h6.23v1.27h-6.23zM605.06 153.32h6.23v1.27h-6.23zM580.33 154.54h6.23v1.27h-6.23zM586.52 154.54h6.23v1.27h-6.23zM611.24 154.54h6.23v1.27h-6.23zM617.42 154.54h6.23v1.27h-6.23zM586.52 155.76h6.23v1.27h-6.23zM598.88 155.76h6.23v1.27h-6.23zM580.33 156.98h6.23v1.27h-6.23zM580.33 159.42h6.23v1.27h-6.23zM598.88 159.42h6.23v1.27h-6.23zM617.42 160.64h6.23v1.27h-6.23zM537.07 161.86h6.23v1.27h-6.23zM567.97 161.86h6.23v1.27h-6.23zM592.70 163.08h6.23v1.27h-6.23zM580.33 165.52h6.23v1.27h-6.23zM586.52 165.52h6.23v1.27h-6.23zM598.88 165.52h6.23v1.27h-6.23zM586.52 166.74h6.23v1.27h-6.23zM592.70 166.74h6.23v1.27h-6.23zM580.33 167.96h6.23v1.27h-6.23zM611.24 170.40h6.23v1.27h-6.23zM475.26 178.40h6.23v1.27h-6.23zM493.80 178.40h6.23v1.27h-6.23zM518.53 178.40h6.23v1.27h-6.23zM530.89 178.40h6.23v1.27h-6.23zM524.71 179.62h6.23v1.27h-6.23zM530.89 179.62h6.23v1.27h-6.23zM574.15 179.62h6.23v1.27h-6.23zM512.35 180.85h6.23v1.27h-6.23zM574.15 180.85h6.23v1.27h-6.23zM524.71 182.07h6.23v1.27h-6.23zM555.61 182.07h6.23v1.27h-6.23zM469.08 183.29h6.23v1.27h-6.23zM481.44 183.29h6.23v1.27h-6.23zM499.98 183.29h6.23v1.27h-6.23zM506.17 183.29h6.23v1.27h-6.23zM512.35 183.29h6.23v1.27h-6.23zM524.71 183.29h6.23v1.27h-6.23zM549.43 183.29h6.23v1.27h-6.23zM567.97 183.29h6.23v1.27h-6.23zM530.89 184.51h6.23v1.27h-6.23zM469.08 185.74h6.23v1.27h-6.23zM512.35 186.96h6.23v1.27h-6.23zM530.89 186.96h6.23v1.27h-6.23zM561.79 188.18h6.23v1.27h-6.23zM481.44 189.41h6.23v1.27h-6.23zM524.71 190.63h6.23v1.27h-6.23zM475.26 191.85h6.23v1.27h-6.23zM499.98 191.85h6.23v1.27h-6.23zM506.17 191.85h6.23v1.27h-6.23zM512.35 191.85h6.23v1.27h-6.23zM518.53 191.85h6.23v1.27h-6.23zM543.25 191.85h6.23v1.27h-6.23zM567.97 191.85h6.23v1.27h-6.23zM462.90 193.07h6.23v1.27h-6.23zM493.80 193.07h6.23v1.27h-6.23zM499.98 193.07h6.23v1.27h-6.23zM567.97 193.07h6.23v1.27h-6.23zM512.35 194.30h6.23v1.27h-6.23zM561.79 194.30h6.23v1.27h-6.23zM530.89 199.19h6.23v1.27h-6.23zM469.08 200.41h6.23v1.27h-6.23zM549.43 200.41h6.23v1.27h-6.23zM561.79 200.41h6.23v1.27h-6.23zM481.44 201.63h6.23v1.27h-6.23zM487.62 201.63h6.23v1.27h-6.23zM493.80 201.63h6.23v1.27h-6.23zM512.35 201.63h6.23v1.27h-6.23zM567.97 201.63h6.23v1.27h-6.23zM475.26 202.86h6.23v1.27h-6.23zM487.62 202.86h6.23v1.27h-6.23zM537.07 202.86h6.23v1.27h-6.23zM567.97 202.86h6.23v1.27h-6.23zM567.97 205.30h6.23v1.27h-6.23zM506.17 206.53h6.23v1.27h-6.23zM524.71 206.53h6.23v1.27h-6.23zM462.90 207.75h6.23v1.27h-6.23zM493.80 207.75h6.23v1.27h-6.23zM512.35 207.75h6.23v1.27h-6.23zM555.61 207.75h6.23v1.27h-6.23zM475.26 211.42h6.23v1.27h-6.23zM530.89 211.42h6.23v1.27h-6.23zM537.07 211.42h6.23v1.27h-6.23zM549.43 211.42h6.23v1.27h-6.23zM487.62 212.64h6.23v1.27h-6.23zM555.61 212.64h6.23v1.27h-6.23zM567.97 212.64h6.23v1.27h-6.23zM574.15 212.64h6.23v1.27h-6.23zM499.98 213.86h6.23v1.27h-6.23zM518.53 213.86h6.23v1.27h-6.23zM524.71 216.31h6.23v1.27h-6.23zM555.61 216.31h6.23v1.27h-6.23zM499.98 217.53h6.23v1.27h-6.23zM462.90 218.75h6.23v1.27h-6.23zM487.62 218.75h6.23v1.27h-6.23zM549.43 218.75h6.23v1.27h-6.23zM493.80 219.98h6.23v1.27h-6.23zM512.35 219.98h6.23v1.27h-6.23zM524.71 219.98h6.23v1.27h-6.23zM555.61 219.98h6.23v1.27h-6.23z" fill="#edd8aa" />
<path d="M512.35 141.12h6.23v1.27h-6.23zM537.07 143.56h6.23v1.27h-6.23zM561.79 143.56h6.23v1.27h-6.23zM574.15 143.56h6.23v1.27h-6.23zM462.90 144.78h6.23v1.27h-6.23zM469.08 144.78h6.23v1.27h-6.23zM506.17 144.78h6.23v1.27h-6.23zM524.71 144.78h6.23v1.27h-6.23zM549.43 144.78h6.23v1.27h-6.23zM555.61 144.78h6.23v1.27h-6.23zM549.43 146.00h6.23v1.27h-6.23zM487.62 148.44h6.23v1.27h-6.23zM524.71 149.66h6.23v1.27h-6.23zM524.71 153.32h6.23v1.27h-6.23zM537.07 153.32h6.23v1.27h-6.23zM512.35 154.54h6.23v1.27h-6.23zM549.43 154.54h6.23v1.27h-6.23zM561.79 154.54h6.23v1.27h-6.23zM574.15 154.54h6.23v1.27h-6.23zM543.25 155.76h6.23v1.27h-6.23zM574.15 155.76h6.23v1.27h-6.23zM493.80 158.20h6.23v1.27h-6.23zM512.35 158.20h6.23v1.27h-6.23zM518.53 158.20h6.23v1.27h-6.23zM537.07 158.20h6.23v1.27h-6.23zM561.79 158.20h6.23v1.27h-6.23zM493.80 159.42h6.23v1.27h-6.23zM506.17 159.42h6.23v1.27h-6.23zM549.43 159.42h6.23v1.27h-6.23zM555.61 159.42h6.23v1.27h-6.23zM561.79 159.42h6.23v1.27h-6.23zM481.44 160.64h6.23v1.27h-6.23zM499.98 160.64h6.23v1.27h-6.23zM518.53 160.64h6.23v1.27h-6.23zM549.43 160.64h6.23v1.27h-6.23zM487.62 163.08h6.23v1.27h-6.23zM493.80 163.08h6.23v1.27h-6.23zM462.90 166.74h6.23v1.27h-6.23zM487.62 166.74h6.23v1.27h-6.23zM543.25 166.74h6.23v1.27h-6.23zM487.62 167.96h6.23v1.27h-6.23zM543.25 167.96h6.23v1.27h-6.23zM469.08 175.28h6.23v1.27h-6.23zM475.26 175.28h6.23v1.27h-6.23zM555.61 175.28h6.23v1.27h-6.23zM561.79 175.28h6.23v1.27h-6.23zM586.52 178.40h6.23v1.27h-6.23zM611.24 178.40h6.23v1.27h-6.23zM598.88 179.62h6.23v1.27h-6.23zM543.25 182.07h6.23v1.27h-6.23zM580.33 182.07h6.23v1.27h-6.23zM592.70 182.07h6.23v1.27h-6.23zM617.42 183.29h6.23v1.27h-6.23zM605.06 184.51h6.23v1.27h-6.23zM586.52 185.74h6.23v1.27h-6.23zM592.70 185.74h6.23v1.27h-6.23zM611.24 186.96h6.23v1.27h-6.23zM598.88 188.18h6.23v1.27h-6.23zM611.24 188.18h6.23v1.27h-6.23zM617.42 188.18h6.23v1.27h-6.23zM598.88 189.41h6.23v1.27h-6.23zM611.24 189.41h6.23v1.27h-6.23zM543.25 190.63h6.23v1.27h-6.23zM580.33 190.63h6.23v1.27h-6.23zM592.70 190.63h6.23v1.27h-6.23zM598.88 190.63h6.23v1.27h-6.23zM611.24 190.63h6.23v1.27h-6.23zM592.70 191.85h6.23v1.27h-6.23zM598.88 191.85h6.23v1.27h-6.23zM605.06 191.85h6.23v1.27h-6.23zM617.42 191.85h6.23v1.27h-6.23zM543.25 193.07h6.23v1.27h-6.23zM592.70 193.07h6.23v1.27h-6.23zM605.06 193.07h6.23v1.27h-6.23zM611.24 193.07h6.23v1.27h-6.23zM617.42 194.30h6.23v1.27h-6.23zM598.88 195.52h6.23v1.27h-6.23zM605.06 195.52h6.23v1.27h-6.23zM543.25 196.74h6.23v1.27h-6.23zM580.33 197.97h6.23v1.27h-6.23zM598.88 201.63h6.23v1.27h-6.23zM598.88 202.86h6.23v1.27h-6.23zM617.42 204.08h6.23v1.27h-6.23zM543.25 205.30h6.23v1.27h-6.23zM598.88 205.30h6.23v1.27h-6.23zM605.06 205.30h6.23v1.27h-6.23zM617.42 208.97h6.23v1.27h-6.23zM598.88 210.19h6.23v1.27h-6.23zM586.52 211.42h6.23v1.27h-6.23zM617.42 211.42h6.23v1.27h-6.23zM617.42 212.64h6.23v1.27h-6.23zM592.70 213.86h6.23v1.27h-6.23zM586.52 215.09h6.23v1.27h-6.23zM611.24 215.09h6.23v1.27h-6.23zM580.33 216.31h6.23v1.27h-6.23zM580.33 217.53h6.23v1.27h-6.23zM598.88 217.53h6.23v1.27h-6.23zM611.24 217.53h6.23v1.27h-6.23zM605.06 218.75h6.23v1.27h-6.23zM617.42 218.75h6.23v1.27h-6.23z" fill="#9fd7cd" />
<path d="M561.79 141.12h6.23v1.27h-6.23zM561.79 142.34h6.23v1.27h-6.23zM567.97 142.34h6.23v1.27h-6.23zM487.62 143.56h6.23v1.27h-6.23zM580.33 144.78h6.23v1.27h-6.23zM586.52 144.78h6.23v1.27h-6.23zM592.70 144.78h6.23v1.27h-6.23zM598.88 144.78h6.23v1.27h-6.23zM580.33 146.00h6.23v1.27h-6.23zM469.08 147.22h6.23v1.27h-6.23zM475.26 147.22h6.23v1.27h-6.23zM499.98 147.22h6.23v1.27h-6.23zM567.97 147.22h6.23v1.27h-6.23zM530.89 148.44h6.23v1.27h-6.23zM586.52 149.66h6.23v1.27h-6.23zM530.89 150.88h6.23v1.27h-6.23zM469.08 152.10h6.23v1.27h-6.23zM481.44 152.10h6.23v1.27h-6.23zM506.17 152.10h6.23v1.27h-6.23zM524.71 152.10h6.23v1.27h-6.23zM537.07 152.10h6.23v1.27h-6.23zM530.89 161.86h6.23v1.27h-6.23zM524.71 169.18h6.23v1.27h-6.23zM537.07 169.18h6.23v1.27h-6.23zM475.26 172.84h6.23v1.27h-6.23zM493.80 172.84h6.23v1.27h-6.23zM481.44 174.06h6.23v1.27h-6.23zM574.15 174.06h6.23v1.27h-6.23zM506.17 178.40h6.23v1.27h-6.23zM561.79 178.40h6.23v1.27h-6.23zM567.97 178.40h6.23v1.27h-6.23zM469.08 179.62h6.23v1.27h-6.23zM487.62 179.62h6.23v1.27h-6.23zM561.79 179.62h6.23v1.27h-6.23zM469.08 180.85h6.23v1.27h-6.23zM518.53 180.85h6.23v1.27h-6.23zM555.61 180.85h6.23v1.27h-6.23zM561.79 180.85h6.23v1.27h-6.23zM469.08 184.51h6.23v1.27h-6.23zM493.80 184.51h6.23v1.27h-6.23zM512.35 184.51h6.23v1.27h-6.23zM481.44 185.74h6.23v1.27h-6.23zM499.98 185.74h6.23v1.27h-6.23zM518.53 185.74h6.23v1.27h-6.23zM524.71 185.74h6.23v1.27h-6.23zM493.80 186.96h6.23v1.27h-6.23zM543.25 186.96h6.23v1.27h-6.23zM475.26 188.18h6.23v1.27h-6.23zM512.35 188.18h6.23v1.27h-6.23zM518.53 188.18h6.23v1.27h-6.23zM537.07 188.18h6.23v1.27h-6.23zM543.25 188.18h6.23v1.27h-6.23zM567.97 188.18h6.23v1.27h-6.23zM462.90 189.41h6.23v1.27h-6.23zM475.26 189.41h6.23v1.27h-6.23zM549.43 189.41h6.23v1.27h-6.23zM561.79 189.41h6.23v1.27h-6.23zM506.17 190.63h6.23v1.27h-6.23zM530.89 190.63h6.23v1.27h-6.23zM567.97 190.63h6.23v1.27h-6.23zM574.15 190.63h6.23v1.27h-6.23zM549.43 191.85h6.23v1.27h-6.23zM574.15 191.85h6.23v1.27h-6.23zM469.08 193.07h6.23v1.27h-6.23zM481.44 193.07h6.23v1.27h-6.23zM518.53 193.07h6.23v1.27h-6.23zM530.89 193.07h6.23v1.27h-6.23zM537.07 193.07h6.23v1.27h-6.23zM574.15 193.07h6.23v1.27h-6.23zM487.62 194.30h6.23v1.27h-6.23zM506.17 194.30h6.23v1.27h-6.23zM549.43 194.30h6.23v1.27h-6.23zM567.97 194.30h6.23v1.27h-6.23zM469.08 195.52h6.23v1.27h-6.23zM475.26 195.52h6.23v1.27h-6.23zM481.44 195.52h6.23v1.27h-6.23zM530.89 195.52h6.23v1.27h-6.23zM537.07 195.52h6.23v1.27h-6.23zM555.61 195.52h6.23v1.27h-6.23zM469.08 196.74h6.23v1.27h-6.23zM475.26 196.74h6.23v1.27h-6.23zM499.98 196.74h6.23v1.27h-6.23zM530.89 196.74h6.23v1.27h-6.23zM481.44 197.97h6.23v1.27h-6.23zM518.53 197.97h6.23v1.27h-6.23zM537.07 197.97h6.23v1.27h-6.23zM549.43 197.97h6.23v1.27h-6.23zM567.97 197.97h6.23v1.27h-6.23zM487.62 199.19h6.23v1.27h-6.23zM512.35 199.19h6.23v1.27h-6.23zM561.79 199.19h6.23v1.27h-6.23zM574.15 199.19h6.23v1.27h-6.23zM512.35 200.41h6.23v1.27h-6.23zM506.17 201.63h6.23v1.27h-6.23zM555.61 201.63h6.23v1.27h-6.23zM506.17 202.86h6.23v1.27h-6.23zM512.35 202.86h6.23v1.27h-6.23zM462.90 204.08h6.23v1.27h-6.23zM487.62 204.08h6.23v1.27h-6.23zM499.98 204.08h6.23v1.27h-6.23zM506.17 204.08h6.23v1.27h-6.23zM524.71 204.08h6.23v1.27h-6.23zM549.43 204.08h6.23v1.27h-6.23zM555.61 204.08h6.23v1.27h-6.23zM567.97 204.08h6.23v1.27h-6.23zM462.90 205.30h6.23v1.27h-6.23zM506.17 205.30h6.23v1.27h-6.23zM512.35 205.30h6.23v1.27h-6.23zM518.53 205.30h6.23v1.27h-6.23zM549.43 205.30h6.23v1.27h-6.23zM555.61 205.30h6.23v1.27h-6.23zM469.08 206.53h6.23v1.27h-6.23zM475.26 206.53h6.23v1.27h-6.23zM487.62 206.53h6.23v1.27h-6.23zM537.07 206.53h6.23v1.27h-6.23zM574.15 206.53h6.23v1.27h-6.23zM499.98 207.75h6.23v1.27h-6.23zM499.98 208.97h6.23v1.27h-6.23zM549.43 208.97h6.23v1.27h-6.23zM537.07 210.19h6.23v1.27h-6.23zM493.80 211.42h6.23v1.27h-6.23zM499.98 211.42h6.23v1.27h-6.23zM555.61 211.42h6.23v1.27h-6.23zM561.79 211.42h6.23v1.27h-6.23zM574.15 211.42h6.23v1.27h-6.23zM493.80 212.64h6.23v1.27h-6.23zM512.35 212.64h6.23v1.27h-6.23zM524.71 212.64h6.23v1.27h-6.23zM549.43 212.64h6.23v1.27h-6.23zM462.90 213.86h6.23v1.27h-6.23zM574.15 213.86h6.23v1.27h-6.23zM487.62 215.09h6.23v1.27h-6.23zM530.89 215.09h6.23v1.27h-6.23zM555.61 215.09h6.23v1.27h-6.23zM475.26 216.31h6.23v1.27h-6.23zM499.98 216.31h6.23v1.27h-6.23zM512.35 216.31h6.23v1.27h-6.23zM567.97 216.31h6.23v1.27h-6.23zM574.15 216.31h6.23v1.27h-6.23zM524.71 217.53h6.23v1.27h-6.23zM530.89 217.53h6.23v1.27h-6.23zM537.07 217.53h6.23v1.27h-6.23zM549.43 217.53h6.23v1.27h-6.23zM561.79 217.53h6.23v1.27h-6.23zM567.97 217.53h6.23v1.27h-6.23zM518.53 218.75h6.23v1.27h-6.23zM555.61 218.75h6.23v1.27h-6.23zM469.08 219.98h6.23v1.27h-6.23zM549.43 219.98h6.23v1.27h-6.23zM561.79 219.98h6.23v1.27h-6.23z" fill="#f0e4c4" />
<path d="M605.06 141.12h6.23v1.27h-6.23zM605.06 142.34h6.23v1.27h-6.23zM611.24 142.34h6.23v1.27h-6.23zM617.42 142.34h6.23v1.27h-6.23zM580.33 147.22h6.23v1.27h-6.23zM592.70 147.22h6.23v1.27h-6.23zM598.88 148.44h6.23v1.27h-6.23zM586.52 150.88h6.23v1.27h-6.23zM586.52 152.10h6.23v1.27h-6.23zM617.42 152.10h6.23v1.27h-6.23zM580.33 161.86h6.23v1.27h-6.23zM586.52 161.86h6.23v1.27h-6.23zM605.06 166.74h6.23v1.27h-6.23zM611.24 166.74h6.23v1.27h-6.23zM611.24 167.96h6.23v1.27h-6.23zM617.42 167.96h6.23v1.27h-6.23zM605.06 169.18h6.23v1.27h-6.23zM598.88 170.40h6.23v1.27h-6.23zM617.42 171.62h6.23v1.27h-6.23zM611.24 172.84h6.23v1.27h-6.23zM580.33 174.06h6.23v1.27h-6.23zM567.97 186.96h6.23v1.27h-6.23zM530.89 200.41h6.23v1.27h-6.23z" fill="#deb776" />
<path d="M611.24 141.12h6.23v1.27h-6.23zM617.42 141.12h6.23v1.27h-6.23zM580.33 142.34h6.23v1.27h-6.23zM598.88 142.34h6.23v1.27h-6.23zM598.88 147.22h6.23v1.27h-6.23zM605.06 147.22h6.23v1.27h-6.23zM611.24 147.22h6.23v1.27h-6.23zM611.24 148.44h6.23v1.27h-6.23zM605.06 149.66h6.23v1.27h-6.23zM611.24 149.66h6.23v1.27h-6.23zM598.88 150.88h6.23v1.27h-6.23zM617.42 150.88h6.23v1.27h-6.23zM592.70 152.10h6.23v1.27h-6.23zM598.88 152.10h6.23v1.27h-6.23zM605.06 152.10h6.23v1.27h-6.23zM605.06 156.98h6.23v1.27h-6.23zM598.88 158.20h6.23v1.27h-6.23zM586.52 159.42h6.23v1.27h-6.23zM592.70 161.86h6.23v1.27h-6.23zM605.06 165.52h6.23v1.27h-6.23zM611.24 165.52h6.23v1.27h-6.23zM617.42 165.52h6.23v1.27h-6.23zM605.06 167.96h6.23v1.27h-6.23zM580.33 169.18h6.23v1.27h-6.23zM592.70 169.18h6.23v1.27h-6.23zM580.33 170.40h6.23v1.27h-6.23zM586.52 170.40h6.23v1.27h-6.23zM605.06 170.40h6.23v1.27h-6.23zM580.33 171.62h6.23v1.27h-6.23zM592.70 172.84h6.23v1.27h-6.23zM592.70 174.06h6.23v1.27h-6.23zM598.88 174.06h6.23v1.27h-6.23zM605.06 174.06h6.23v1.27h-6.23zM530.89 183.29h6.23v1.27h-6.23zM561.79 191.85h6.23v1.27h-6.23zM499.98 200.41h6.23v1.27h-6.23zM574.15 200.41h6.23v1.27h-6.23zM530.89 207.75h6.23v1.27h-6.23z" fill="#e2c083" />
<path d="M512.35 142.34h6.23v1.27h-6.23zM617.42 144.78h6.23v1.27h-6.23zM586.52 146.00h6.23v1.27h-6.23zM462.90 152.10h6.23v1.27h-6.23zM555.61 152.10h6.23v1.27h-6.23zM611.24 153.32h6.23v1.27h-6.23zM592.70 154.54h6.23v1.27h-6.23zM592.70 155.76h6.23v1.27h-6.23zM586.52 156.98h6.23v1.27h-6.23zM580.33 158.20h6.23v1.27h-6.23zM592.70 160.64h6.23v1.27h-6.23zM598.88 160.64h6.23v1.27h-6.23zM506.17 161.86h6.23v1.27h-6.23zM580.33 163.08h6.23v1.27h-6.23zM605.06 163.08h6.23v1.27h-6.23zM611.24 163.08h6.23v1.27h-6.23zM586.52 164.30h6.23v1.27h-6.23zM592.70 165.52h6.23v1.27h-6.23zM592.70 171.62h6.23v1.27h-6.23zM592.70 175.28h6.23v1.27h-6.23zM598.88 175.28h6.23v1.27h-6.23zM499.98 178.40h6.23v1.27h-6.23zM512.35 178.40h6.23v1.27h-6.23zM481.44 179.62h6.23v1.27h-6.23zM499.98 179.62h6.23v1.27h-6.23zM537.07 179.62h6.23v1.27h-6.23zM567.97 179.62h6.23v1.27h-6.23zM481.44 180.85h6.23v1.27h-6.23zM499.98 180.85h6.23v1.27h-6.23zM506.17 180.85h6.23v1.27h-6.23zM543.25 180.85h6.23v1.27h-6.23zM567.97 180.85h6.23v1.27h-6.23zM462.90 182.07h6.23v1.27h-6.23zM481.44 182.07h6.23v1.27h-6.23zM512.35 182.07h6.23v1.27h-6.23zM530.89 182.07h6.23v1.27h-6.23zM567.97 182.07h6.23v1.27h-6.23zM493.80 183.29h6.23v1.27h-6.23zM574.15 183.29h6.23v1.27h-6.23zM481.44 184.51h6.23v1.27h-6.23zM499.98 184.51h6.23v1.27h-6.23zM518.53 184.51h6.23v1.27h-6.23zM537.07 184.51h6.23v1.27h-6.23zM549.43 184.51h6.23v1.27h-6.23zM475.26 185.74h6.23v1.27h-6.23zM493.80 185.74h6.23v1.27h-6.23zM530.89 185.74h6.23v1.27h-6.23zM561.79 185.74h6.23v1.27h-6.23zM469.08 186.96h6.23v1.27h-6.23zM518.53 186.96h6.23v1.27h-6.23zM524.71 186.96h6.23v1.27h-6.23zM555.61 186.96h6.23v1.27h-6.23zM574.15 186.96h6.23v1.27h-6.23zM481.44 188.18h6.23v1.27h-6.23zM530.89 188.18h6.23v1.27h-6.23zM574.15 188.18h6.23v1.27h-6.23zM469.08 189.41h6.23v1.27h-6.23zM499.98 189.41h6.23v1.27h-6.23zM512.35 189.41h6.23v1.27h-6.23zM518.53 189.41h6.23v1.27h-6.23zM524.71 189.41h6.23v1.27h-6.23zM530.89 189.41h6.23v1.27h-6.23zM537.07 189.41h6.23v1.27h-6.23zM567.97 189.41h6.23v1.27h-6.23zM574.15 189.41h6.23v1.27h-6.23zM462.90 190.63h6.23v1.27h-6.23zM469.08 190.63h6.23v1.27h-6.23zM481.44 190.63h6.23v1.27h-6.23zM469.08 191.85h6.23v1.27h-6.23zM493.80 191.85h6.23v1.27h-6.23zM524.71 191.85h6.23v1.27h-6.23zM537.07 191.85h6.23v1.27h-6.23zM487.62 193.07h6.23v1.27h-6.23zM549.43 193.07h6.23v1.27h-6.23zM561.79 193.07h6.23v1.27h-6.23zM462.90 194.30h6.23v1.27h-6.23zM475.26 194.30h6.23v1.27h-6.23zM499.98 194.30h6.23v1.27h-6.23zM555.61 194.30h6.23v1.27h-6.23zM462.90 195.52h6.23v1.27h-6.23zM499.98 195.52h6.23v1.27h-6.23zM518.53 195.52h6.23v1.27h-6.23zM524.71 195.52h6.23v1.27h-6.23zM567.97 195.52h6.23v1.27h-6.23zM462.90 196.74h6.23v1.27h-6.23zM549.43 196.74h6.23v1.27h-6.23zM561.79 196.74h6.23v1.27h-6.23zM512.35 197.97h6.23v1.27h-6.23zM462.90 199.19h6.23v1.27h-6.23zM499.98 199.19h6.23v1.27h-6.23zM506.17 199.19h6.23v1.27h-6.23zM487.62 200.41h6.23v1.27h-6.23zM506.17 200.41h6.23v1.27h-6.23zM555.61 200.41h6.23v1.27h-6.23zM499.98 201.63h6.23v1.27h-6.23zM537.07 201.63h6.23v1.27h-6.23zM549.43 201.63h6.23v1.27h-6.23zM499.98 202.86h6.23v1.27h-6.23zM530.89 202.86h6.23v1.27h-6.23zM555.61 202.86h6.23v1.27h-6.23zM561.79 202.86h6.23v1.27h-6.23zM574.15 202.86h6.23v1.27h-6.23zM469.08 204.08h6.23v1.27h-6.23zM530.89 204.08h6.23v1.27h-6.23zM537.07 204.08h6.23v1.27h-6.23zM475.26 205.30h6.23v1.27h-6.23zM499.98 205.30h6.23v1.27h-6.23zM524.71 205.30h6.23v1.27h-6.23zM537.07 205.30h6.23v1.27h-6.23zM530.89 206.53h6.23v1.27h-6.23zM555.61 206.53h6.23v1.27h-6.23zM481.44 207.75h6.23v1.27h-6.23zM506.17 207.75h6.23v1.27h-6.23zM518.53 207.75h6.23v1.27h-6.23zM537.07 207.75h6.23v1.27h-6.23zM537.07 208.97h6.23v1.27h-6.23zM555.61 208.97h6.23v1.27h-6.23zM567.97 208.97h6.23v1.27h-6.23zM469.08 211.42h6.23v1.27h-6.23zM512.35 211.42h6.23v1.27h-6.23zM518.53 211.42h6.23v1.27h-6.23zM481.44 212.64h6.23v1.27h-6.23zM499.98 212.64h6.23v1.27h-6.23zM506.17 212.64h6.23v1.27h-6.23zM518.53 212.64h6.23v1.27h-6.23zM530.89 212.64h6.23v1.27h-6.23zM537.07 212.64h6.23v1.27h-6.23zM481.44 213.86h6.23v1.27h-6.23zM506.17 213.86h6.23v1.27h-6.23zM524.71 213.86h6.23v1.27h-6.23zM530.89 213.86h6.23v1.27h-6.23zM537.07 213.86h6.23v1.27h-6.23zM549.43 213.86h6.23v1.27h-6.23zM555.61 213.86h6.23v1.27h-6.23zM561.79 213.86h6.23v1.27h-6.23zM481.44 216.31h6.23v1.27h-6.23zM487.62 216.31h6.23v1.27h-6.23zM518.53 216.31h6.23v1.27h-6.23zM537.07 216.31h6.23v1.27h-6.23zM506.17 217.53h6.23v1.27h-6.23zM512.35 217.53h6.23v1.27h-6.23zM518.53 217.53h6.23v1.27h-6.23zM555.61 217.53h6.23v1.27h-6.23zM469.08 218.75h6.23v1.27h-6.23zM493.80 218.75h6.23v1.27h-6.23zM543.25 218.75h6.23v1.27h-6.23zM561.79 218.75h6.23v1.27h-6.23zM567.97 218.75h6.23v1.27h-6.23z" fill="#efdeb7" />
<path d="M592.70 142.34h6.23v1.27h-6.23zM580.33 143.56h6.23v1.27h-6.23zM592.70 143.56h6.23v1.27h-6.23zM598.88 143.56h6.23v1.27h-6.23zM598.88 146.00h6.23v1.27h-6.23zM605.06 146.00h6.23v1.27h-6.23zM617.42 147.22h6.23v1.27h-6.23zM605.06 148.44h6.23v1.27h-6.23zM580.33 150.88h6.23v1.27h-6.23zM580.33 152.10h6.23v1.27h-6.23zM580.33 153.32h6.23v1.27h-6.23zM586.52 153.32h6.23v1.27h-6.23zM598.88 153.32h6.23v1.27h-6.23zM598.88 154.54h6.23v1.27h-6.23zM580.33 155.76h6.23v1.27h-6.23zM605.06 155.76h6.23v1.27h-6.23zM611.24 155.76h6.23v1.27h-6.23zM617.42 155.76h6.23v1.27h-6.23zM598.88 156.98h6.23v1.27h-6.23zM611.24 156.98h6.23v1.27h-6.23zM586.52 158.20h6.23v1.27h-6.23zM592.70 158.20h6.23v1.27h-6.23zM605.06 158.20h6.23v1.27h-6.23zM611.24 159.42h6.23v1.27h-6.23zM580.33 160.64h6.23v1.27h-6.23zM586.52 160.64h6.23v1.27h-6.23zM605.06 160.64h6.23v1.27h-6.23zM611.24 160.64h6.23v1.27h-6.23zM586.52 163.08h6.23v1.27h-6.23zM617.42 163.08h6.23v1.27h-6.23zM580.33 164.30h6.23v1.27h-6.23zM592.70 164.30h6.23v1.27h-6.23zM605.06 164.30h6.23v1.27h-6.23zM611.24 164.30h6.23v1.27h-6.23zM617.42 166.74h6.23v1.27h-6.23zM598.88 167.96h6.23v1.27h-6.23zM592.70 170.40h6.23v1.27h-6.23zM598.88 171.62h6.23v1.27h-6.23zM605.06 171.62h6.23v1.27h-6.23zM611.24 171.62h6.23v1.27h-6.23zM580.33 172.84h6.23v1.27h-6.23zM598.88 172.84h6.23v1.27h-6.23zM586.52 175.28h6.23v1.27h-6.23zM617.42 175.28h6.23v1.27h-6.23zM462.90 178.40h6.23v1.27h-6.23zM475.26 179.62h6.23v1.27h-6.23zM475.26 180.85h6.23v1.27h-6.23zM537.07 180.85h6.23v1.27h-6.23zM518.53 182.07h6.23v1.27h-6.23zM549.43 182.07h6.23v1.27h-6.23zM462.90 183.29h6.23v1.27h-6.23zM475.26 183.29h6.23v1.27h-6.23zM487.62 183.29h6.23v1.27h-6.23zM561.79 183.29h6.23v1.27h-6.23zM524.71 184.51h6.23v1.27h-6.23zM567.97 184.51h6.23v1.27h-6.23zM462.90 185.74h6.23v1.27h-6.23zM567.97 185.74h6.23v1.27h-6.23zM462.90 186.96h6.23v1.27h-6.23zM475.26 186.96h6.23v1.27h-6.23zM481.44 186.96h6.23v1.27h-6.23zM487.62 186.96h6.23v1.27h-6.23zM499.98 186.96h6.23v1.27h-6.23zM506.17 186.96h6.23v1.27h-6.23zM537.07 186.96h6.23v1.27h-6.23zM549.43 186.96h6.23v1.27h-6.23zM561.79 186.96h6.23v1.27h-6.23zM462.90 188.18h6.23v1.27h-6.23zM499.98 188.18h6.23v1.27h-6.23zM462.90 191.85h6.23v1.27h-6.23zM481.44 191.85h6.23v1.27h-6.23zM469.08 194.30h6.23v1.27h-6.23zM481.44 194.30h6.23v1.27h-6.23zM493.80 194.30h6.23v1.27h-6.23zM518.53 194.30h6.23v1.27h-6.23zM524.71 194.30h6.23v1.27h-6.23zM530.89 194.30h6.23v1.27h-6.23zM574.15 194.30h6.23v1.27h-6.23zM475.26 200.41h6.23v1.27h-6.23zM493.80 200.41h6.23v1.27h-6.23zM518.53 200.41h6.23v1.27h-6.23zM524.71 200.41h6.23v1.27h-6.23zM469.08 201.63h6.23v1.27h-6.23zM518.53 201.63h6.23v1.27h-6.23zM561.79 201.63h6.23v1.27h-6.23zM469.08 202.86h6.23v1.27h-6.23zM518.53 202.86h6.23v1.27h-6.23zM469.08 205.30h6.23v1.27h-6.23zM481.44 205.30h6.23v1.27h-6.23zM530.89 205.30h6.23v1.27h-6.23zM561.79 205.30h6.23v1.27h-6.23zM481.44 206.53h6.23v1.27h-6.23zM567.97 206.53h6.23v1.27h-6.23zM469.08 207.75h6.23v1.27h-6.23zM561.79 207.75h6.23v1.27h-6.23zM567.97 207.75h6.23v1.27h-6.23zM469.08 212.64h6.23v1.27h-6.23zM530.89 216.31h6.23v1.27h-6.23zM561.79 216.31h6.23v1.27h-6.23zM475.26 218.75h6.23v1.27h-6.23zM512.35 218.75h6.23v1.27h-6.23zM537.07 218.75h6.23v1.27h-6.23zM574.15 218.75h6.23v1.27h-6.23zM462.90 219.98h6.23v1.27h-6.23zM475.26 219.98h6.23v1.27h-6.23zM506.17 219.98h6.23v1.27h-6.23zM518.53 219.98h6.23v1.27h-6.23zM530.89 219.98h6.23v1.27h-6.23zM574.15 219.98h6.23v1.27h-6.23z" fill="#ebd29d" />
<path d="M475.26 144.78h6.23v1.27h-6.23zM537.07 144.78h6.23v1.27h-6.23zM475.26 146.00h6.23v1.27h-6.23zM506.17 146.00h6.23v1.27h-6.23zM487.62 154.54h6.23v1.27h-6.23zM493.80 154.54h6.23v1.27h-6.23zM537.07 155.76h6.23v1.27h-6.23zM475.26 156.98h6.23v1.27h-6.23zM543.25 156.98h6.23v1.27h-6.23zM506.17 158.20h6.23v1.27h-6.23zM543.25 159.42h6.23v1.27h-6.23zM512.35 160.64h6.23v1.27h-6.23zM543.25 160.64h6.23v1.27h-6.23zM475.26 163.08h6.23v1.27h-6.23zM549.43 163.08h6.23v1.27h-6.23zM561.79 163.08h6.23v1.27h-6.23zM462.90 164.30h6.23v1.27h-6.23zM493.80 166.74h6.23v1.27h-6.23zM543.25 175.28h6.23v1.27h-6.23zM598.88 178.40h6.23v1.27h-6.23zM605.06 178.40h6.23v1.27h-6.23zM586.52 179.62h6.23v1.27h-6.23zM605.06 179.62h6.23v1.27h-6.23zM611.24 179.62h6.23v1.27h-6.23zM586.52 182.07h6.23v1.27h-6.23zM605.06 183.29h6.23v1.27h-6.23zM580.33 184.51h6.23v1.27h-6.23zM617.42 184.51h6.23v1.27h-6.23zM598.88 185.74h6.23v1.27h-6.23zM598.88 186.96h6.23v1.27h-6.23zM543.25 189.41h6.23v1.27h-6.23zM580.33 189.41h6.23v1.27h-6.23zM586.52 189.41h6.23v1.27h-6.23zM586.52 193.07h6.23v1.27h-6.23zM592.70 195.52h6.23v1.27h-6.23zM617.42 195.52h6.23v1.27h-6.23zM617.42 196.74h6.23v1.27h-6.23zM586.52 197.97h6.23v1.27h-6.23zM617.42 197.97h6.23v1.27h-6.23zM586.52 199.19h6.23v1.27h-6.23zM592.70 199.19h6.23v1.27h-6.23zM598.88 199.19h6.23v1.27h-6.23zM617.42 199.19h6.23v1.27h-6.23zM617.42 202.86h6.23v1.27h-6.23zM580.33 205.30h6.23v1.27h-6.23zM592.70 206.53h6.23v1.27h-6.23zM617.42 206.53h6.23v1.27h-6.23zM580.33 207.75h6.23v1.27h-6.23zM586.52 207.75h6.23v1.27h-6.23zM586.52 208.97h6.23v1.27h-6.23zM592.70 208.97h6.23v1.27h-6.23zM598.88 208.97h6.23v1.27h-6.23zM605.06 208.97h6.23v1.27h-6.23zM580.33 211.42h6.23v1.27h-6.23zM592.70 211.42h6.23v1.27h-6.23zM605.06 211.42h6.23v1.27h-6.23zM586.52 213.86h6.23v1.27h-6.23zM598.88 213.86h6.23v1.27h-6.23zM605.06 213.86h6.23v1.27h-6.23zM617.42 213.86h6.23v1.27h-6.23zM605.06 216.31h6.23v1.27h-6.23zM586.52 217.53h6.23v1.27h-6.23zM605.06 217.53h6.23v1.27h-6.23zM605.06 219.98h6.23v1.27h-6.23z" fill="#8fd0c6" />
<path d="M493.80 144.78h6.23v1.27h-6.23zM592.70 210.19h6.23v1.27h-6.23z" fill="#399f94" />
<path d="M543.25 144.78h6.23v1.27h-6.23zM543.25 148.44h6.23v1.27h-6.23zM493.80 153.32h6.23v1.27h-6.23zM543.25 158.20h6.23v1.27h-6.23zM462.90 163.08h6.23v1.27h-6.23zM543.25 163.08h6.23v1.27h-6.23zM543.25 171.62h6.23v1.27h-6.23zM506.17 175.28h6.23v1.27h-6.23zM617.42 182.07h6.23v1.27h-6.23zM592.70 184.51h6.23v1.27h-6.23zM611.24 184.51h6.23v1.27h-6.23zM598.88 196.74h6.23v1.27h-6.23zM611.24 196.74h6.23v1.27h-6.23zM592.70 197.97h6.23v1.27h-6.23zM605.06 199.19h6.23v1.27h-6.23zM592.70 204.08h6.23v1.27h-6.23zM611.24 213.86h6.23v1.27h-6.23zM580.33 215.09h6.23v1.27h-6.23zM592.70 215.09h6.23v1.27h-6.23zM605.06 215.09h6.23v1.27h-6.23zM617.42 216.31h6.23v1.27h-6.23z" fill="#6cbcb2" />
<path d="M543.25 146.00h6.23v1.27h-6.23zM598.88 215.09h6.23v1.27h-6.23zM617.42 215.09h6.23v1.27h-6.23z" fill="#4aa99e" />
<path d="M506.17 150.88h6.23v1.27h-6.23zM543.25 154.54h6.23v1.27h-6.23zM555.61 165.52h6.23v1.27h-6.23zM617.42 178.40h6.23v1.27h-6.23zM605.06 182.07h6.23v1.27h-6.23zM586.52 184.51h6.23v1.27h-6.23zM605.06 185.74h6.23v1.27h-6.23zM617.42 185.74h6.23v1.27h-6.23zM605.06 189.41h6.23v1.27h-6.23zM605.06 190.63h6.23v1.27h-6.23zM580.33 193.07h6.23v1.27h-6.23zM598.88 193.07h6.23v1.27h-6.23zM611.24 195.52h6.23v1.27h-6.23zM580.33 196.74h6.23v1.27h-6.23zM586.52 196.74h6.23v1.27h-6.23zM605.06 196.74h6.23v1.27h-6.23zM605.06 197.97h6.23v1.27h-6.23zM611.24 199.19h6.23v1.27h-6.23zM586.52 204.08h6.23v1.27h-6.23zM611.24 204.08h6.23v1.27h-6.23zM592.70 205.30h6.23v1.27h-6.23zM586.52 206.53h6.23v1.27h-6.23zM605.06 206.53h6.23v1.27h-6.23zM580.33 208.97h6.23v1.27h-6.23zM586.52 210.19h6.23v1.27h-6.23zM617.42 210.19h6.23v1.27h-6.23zM611.24 211.42h6.23v1.27h-6.23zM592.70 212.64h6.23v1.27h-6.23zM580.33 213.86h6.23v1.27h-6.23zM617.42 217.53h6.23v1.27h-6.23z" fill="#7dc6bc" />
<path d="M493.80 160.64h6.23v1.27h-6.23zM580.33 185.74h6.23v1.27h-6.23zM580.33 188.18h6.23v1.27h-6.23zM592.70 196.74h6.23v1.27h-6.23zM605.06 204.08h6.23v1.27h-6.23zM605.06 210.19h6.23v1.27h-6.23zM611.24 210.19h6.23v1.27h-6.23z" fill="#5bb3a8" />
<path d="M605.06 161.86h6.23v1.27h-6.23zM611.24 161.86h6.23v1.27h-6.23zM605.06 172.84h6.23v1.27h-6.23zM586.52 174.06h6.23v1.27h-6.23zM611.24 174.06h6.23v1.27h-6.23zM617.42 174.06h6.23v1.27h-6.23z" fill="#d6a65c" />
<rect x="462.90" y="139.90" width="160.70" height="36.60" fill="none" stroke="#555" stroke-width="0.5" />
<rect x="456.90" y="139.90" width="6.00" height="36.60" fill="#000" />
<path d="M455.5 140.05H457.4M454.3 140.35H457.4M453.1 140.65H457.4M450.3 140.95H457.4M455.0 141.25H457.4M453.4 141.55H457.4M452.8 141.85H457.4M454.2 142.15H457.4M454.3 142.45H457.4M451.4 142.75H457.4M454.0 143.05H457.4M450.4 143.35H457.4M452.2 143.65H457.4M454.6 143.95H457.4M452.3 144.25H457.4M453.0 144.55H457.4M450.1 144.85H457.4M450.3 145.15H457.4M452.9 145.45H457.4M453.4 145.75H457.4M454.0 146.05H457.4M452.9 146.35H457.4M452.8 146.65H457.4M452.0 146.95H457.4M454.6 147.25H457.4M454.5 147.55H457.4M452.4 147.85H457.4M453.2 148.15H457.4M454.2 148.45H457.4M454.6 148.75H457.4M452.1 149.05H457.4M453.0 149.35H457.4M448.2 149.65H457.4M452.8 149.95H457.4M452.8 150.25H457.4M450.2 150.55H457.4M454.0 150.85H457.4M453.6 151.15H457.4M452.0 151.45H457.4M450.5 151.75H457.4M454.0 152.05H457.4M454.4 152.35H457.4M448.5 152.65H457.4M450.6 152.95H457.4M450.9 153.25H457.4M453.4 153.55H457.4M452.6 153.85H457.4M453.9 154.15H457.4M452.1 154.45H457.4M450.4 154.75H457.4M449.3 155.05H457.4M449.3 155.35H457.4M450.6 155.65H457.4M454.2 155.95H457.4M450.3 156.25H457.4M453.6 156.55H457.4M451.9 156.85H457.4M448.3 157.15H457.4M449.2 157.45H457.4M453.9 157.75H457.4M454.2 158.05H457.4M453.2 158.35H457.4M448.2 158.65H457.4M453.1 158.95H457.4M450.0 159.25H457.4M450.0 159.55H457.4M451.1 159.85H457.4M452.3 160.15H457.4M450.1 160.45H457.4M451.3 160.75H457.4M454.2 161.05H457.4M451.5 161.35H457.4M451.4 161.65H457.4M454.0 161.95H457.4M452.7 162.25H457.4M448.2 162.55H457.4M452.2 162.85H457.4M450.4 163.15H457.4M454.2 163.45H457.4M453.6 163.75H457.4M450.0 164.05H457.4M451.3 164.35H457.4M451.9 164.65H457.4M454.1 164.95H457.4M452.4 165.25H457.4M453.5 165.55H457.4M449.6 165.85H457.4M448.3 166.15H457.4M448.2 166.45H457.4M448.5 166.75H457.4M452.5 167.05H457.4M450.3 167.35H457.4M453.5 167.65H457.4M451.9 167.95H457.4M453.7 168.25H457.4M450.2 168.55H457.4M451.9 168.85H457.4M453.9 169.15H457.4M454.4 169.45H457.4M448.2 169.75H457.4M454.2 170.05H457.4M452.0 170.35H457.4M454.7 170.65H457.4M454.1 170.95H457.4M449.7 171.25H457.4M451.0 171.55H457.4M454.0 171.85H457.4M451.4 172.15H457.4M450.4 172.45H457.4M450.4 172.75H457.4M452.0 173.05H457.4M454.3 173.35H457.4M452.4 173.65H457.4M455.1 173.95H457.4M453.1 174.25H457.4M452.3 174.55H457.4M455.1 174.85H457.4M453.1 175.15H457.4M453.5 175.45H457.4M452.3 175.75H457.4M454.4 176.05H457.4M455.9 176.35H457.4" fill="none" stroke="#000" stroke-width="0.35" />
<path d="M448.9 148.7H446.7V167.0H448.9M451.2 144.7H448.9V153.5H451.2M452.9 142.4H451.2V147.2H452.9M455.8 141.1H452.9V143.5H455.8M456.0 146.0H452.9V148.4H456.0M453.8 151.1H451.2V155.1H453.8M456.7 150.5H453.8V152.1H456.7M456.0 154.1H453.8V156.5H456.0M451.3 163.5H448.9V173.0H451.3M453.0 160.6H451.3V166.7H453.0M455.5 158.6H453.0V161.7H455.5M456.1 165.2H453.0V168.1H456.1M454.1 171.1H451.3V174.6H454.1M456.2 170.5H454.1V172.0H456.2M456.7 173.5H454.1V175.5H456.7" fill="none" stroke="#222" stroke-width="0.3" />
<rect x="462.90" y="178.40" width="160.70" height="42.80" fill="none" stroke="#555" stroke-width="0.5" />
<rect x="456.90" y="178.40" width="6.00" height="42.80" fill="#000" />
<path d="M455.7 178.55H457.4M455.3 178.85H457.4M454.8 179.15H457.4M454.3 179.45H457.4M452.6 179.75H457.4M449.9 180.05H457.4M452.8 180.35H457.4M452.6 180.65H457.4M454.5 180.95H457.4M453.3 181.25H457.4M455.0 181.55H457.4M452.6 181.85H457.4M453.2 182.15H457.4M452.0 182.45H457.4M454.0 182.75H457.4M452.9 183.05H457.4M454.0 183.35H457.4M453.1 183.65H457.4M454.9 183.95H457.4M450.4 184.25H457.4M452.9 184.55H457.4M452.7 184.85H457.4M452.8 185.15H457.4M453.2 185.45H457.4M454.2 185.75H457.4M453.8 186.05H457.4M453.6 186.35H457.4M451.4 186.65H457.4M451.5 186.95H457.4M454.0 187.25H457.4M454.6 187.55H457.4M449.4 187.85H457.4M451.3 188.15H457.4M451.4 188.45H457.4M454.6 188.75H457.4M453.8 189.05H457.4M449.6 189.35H457.4M451.1 189.65H457.4M453.8 189.95H457.4M451.5 190.25H457.4M449.6 190.55H457.4M452.7 190.85H457.4M451.4 191.15H457.4M450.3 191.45H457.4M453.1 191.75H457.4M451.6 192.05H457.4M454.2 192.35H457.4M449.3 192.65H457.4M453.3 192.95H457.4M452.0 193.25H457.4M452.9 193.55H457.4M448.2 193.85H457.4M451.9 194.15H457.4M448.6 194.45H457.4M453.7 194.75H457.4M452.6 195.05H457.4M453.9 195.35H457.4M451.0 195.65H457.4M449.5 195.95H457.4M451.2 196.25H457.4M452.3 196.55H457.4M450.8 196.85H457.4M454.1 197.15H457.4M450.7 197.45H457.4M452.9 197.75H457.4M453.9 198.05H457.4M452.4 198.35H457.4M452.7 198.65H457.4M452.8 198.95H457.4M450.8 199.25H457.4M454.0 199.55H457.4M451.6 199.85H457.4M453.8 200.15H457.4M449.5 200.45H457.4M450.6 200.75H457.4M452.1 201.05H457.4M453.6 201.35H457.4M448.6 201.65H457.4M452.0 201.95H457.4M450.5 202.25H457.4M452.2 202.55H457.4M448.2 202.85H457.4M454.1 203.15H457.4M449.9 203.45H457.4M451.1 203.75H457.4M453.1 204.05H457.4M452.4 204.35H457.4M450.4 204.65H457.4M453.2 204.95H457.4M452.8 205.25H457.4M453.1 205.55H457.4M450.4 205.85H457.4M453.6 206.15H457.4M453.8 206.45H457.4M453.9 206.75H457.4M451.9 207.05H457.4M452.1 207.35H457.4M451.5 207.65H457.4M448.8 207.95H457.4M449.1 208.25H457.4M454.1 208.55H457.4M453.8 208.85H457.4M449.2 209.15H457.4M450.4 209.45H457.4M452.0 209.75H457.4M453.3 210.05H457.4M453.7 210.35H457.4M453.1 210.65H457.4M452.8 210.95H457.4M452.9 211.25H457.4M450.5 211.55H457.4M454.4 211.85H457.4M454.5 212.15H457.4M453.6 212.45H457.4M452.3 212.75H457.4M454.6 213.05H457.4M449.4 213.35H457.4M454.1 213.65H457.4M450.8 213.95H457.4M454.2 214.25H457.4M451.9 214.55H457.4M454.8 214.85H457.4M452.7 215.15H457.4M454.5 215.45H457.4M450.0 215.75H457.4M451.3 216.05H457.4M453.7 216.35H457.4M453.2 216.65H457.4M453.8 216.95H457.4M454.7 217.25H457.4M451.3 217.55H457.4M454.1 217.85H457.4M454.5 218.15H457.4M451.3 218.45H457.4M452.2 218.75H457.4M451.0 219.05H457.4M451.7 219.35H457.4M454.9 219.65H457.4M453.2 219.95H457.4M454.5 220.25H457.4M454.5 220.55H457.4M453.0 220.85H457.4M455.7 221.15H457.4" fill="none" stroke="#000" stroke-width="0.35" />
<path d="M448.6 189.2H446.7V210.6H448.6M450.2 182.7H448.6V193.5H450.2M451.7 180.2H450.2V184.6H451.7M454.9 179.1H451.7V181.0H454.9M453.8 183.5H451.7V186.0H453.8M452.7 190.1H450.2V196.6H452.7M455.4 188.6H452.7V191.6H455.4M454.3 194.4H452.7V197.8H454.3M451.5 204.6H448.6V215.2H451.5M453.6 202.9H451.5V207.5H453.6M455.6 201.8H453.6V204.7H455.6M455.4 206.7H453.6V208.4H455.4M454.0 213.0H451.5V219.0H454.0M456.2 210.8H454.0V214.6H456.2M455.6 217.6H454.0V219.8H455.6" fill="none" stroke="#222" stroke-width="0.3" />
<path d="M446.7 158 H445.2 V199.5 H446.7" fill="none" stroke="#222" stroke-width="0.3" />
<line x1="464.50" y1="138.50" x2="486.02" y2="138.50" stroke="#444" stroke-width="0.8" />
<text x="472.60" y="135.80" font-size="7.3" transform="rotate(-47 472.60 135.80)"><tspan font-style="italic">WT</tspan></text>
<line x1="489.22" y1="138.50" x2="504.57" y2="138.50" stroke="#444" stroke-width="0.8" />
<text x="495.50" y="135.80" font-size="7.3" transform="rotate(-47 495.50 135.80)"><tspan font-style="italic">ZIC2</tspan><tspan font-size="4" dy="-2.5">-/-</tspan><tspan dy="2.5">&#8203;</tspan></text>
<line x1="507.77" y1="138.50" x2="529.29" y2="138.50" stroke="#444" stroke-width="0.8" />
<text x="517.50" y="135.80" font-size="7.3" transform="rotate(-47 517.50 135.80)"><tspan font-style="italic">ZIC3</tspan><tspan font-size="4" dy="-2.5">-/-</tspan><tspan dy="2.5">&#8203;</tspan></text>
<line x1="532.49" y1="138.50" x2="547.83" y2="138.50" stroke="#444" stroke-width="0.8" />
<text x="539.00" y="135.80" font-size="7.3" transform="rotate(-47 539.00 135.80)"><tspan font-style="italic">ZIC5</tspan><tspan font-size="4" dy="-2.5">-/-</tspan><tspan dy="2.5">&#8203;</tspan></text>
<line x1="551.03" y1="138.50" x2="566.37" y2="138.50" stroke="#444" stroke-width="0.8" />
<text x="558.00" y="135.80" font-size="7.3" transform="rotate(-47 558.00 135.80)"><tspan font-style="italic">ZIC2</tspan><tspan font-size="4" dy="-2.5">-/-</tspan><tspan dy="2.5">&#8203;</tspan><tspan font-style="italic">5</tspan></text>
<line x1="569.57" y1="138.50" x2="578.73" y2="138.50" stroke="#444" stroke-width="0.8" />
<text x="574.50" y="135.80" font-size="7.3" transform="rotate(-47 574.50 135.80)"><tspan font-style="italic">ZIC3</tspan><tspan font-size="4" dy="-2.5">-/-</tspan><tspan dy="2.5">&#8203;</tspan><tspan font-style="italic">5</tspan></text>
<line x1="581.93" y1="138.50" x2="603.46" y2="138.50" stroke="#444" stroke-width="0.8" />
<text x="589.40" y="135.80" font-size="7.3" transform="rotate(-47 589.40 135.80)"><tspan font-style="italic">ZIC2</tspan><tspan font-size="4" dy="-2.5">-/-</tspan><tspan dy="2.5">&#8203;</tspan><tspan font-style="italic">3</tspan></text>
<line x1="606.66" y1="138.50" x2="622.00" y2="138.50" stroke="#444" stroke-width="0.8" />
<text x="612.30" y="124.60" font-size="7.3" transform="rotate(-47 612.30 124.60)"><tspan font-style="italic">ZIC</tspan></text>
<text x="614.20" y="135.60" font-size="7.3" transform="rotate(-47 614.20 135.60)"><tspan font-style="italic">2</tspan><tspan font-size="4" dy="-2.5">-/-</tspan><tspan dy="2.5">&#8203;</tspan><tspan font-style="italic">3</tspan><tspan font-size="4" dy="-2.5">-/-</tspan><tspan dy="2.5">&#8203;</tspan><tspan font-style="italic">5</tspan><tspan font-size="4" dy="-2.5">-/-</tspan><tspan dy="2.5">&#8203;</tspan></text>
<text x="437.30" y="159.70" font-size="7.3" text-anchor="middle" font-weight="bold" transform="rotate(-90 437.30 159.70)">Gene</text>
<text x="443.80" y="159.70" font-size="7.3" text-anchor="middle" font-weight="bold" transform="rotate(-90 443.80 159.70)">set 1</text>
<text x="437.30" y="201.60" font-size="7.3" text-anchor="middle" font-weight="bold" transform="rotate(-90 437.30 201.60)">Gene</text>
<text x="443.80" y="201.60" font-size="7.3" text-anchor="middle" font-weight="bold" transform="rotate(-90 443.80 201.60)">set 2</text>
<text x="507.50" y="232.30" font-size="7.3">log<tspan font-size="3.8" dy="1.3">2</tspan><tspan dy="-1.3">&#8203;</tspan> norm. counts z-score</text>
<text x="595.30" y="232.30" font-size="7.3">-5</text>
<text x="619.60" y="232.30" font-size="7.3">5</text>
<defs><linearGradient id="cbe" x1="0" y1="0" x2="1" y2="0"><stop offset="0" stop-color="#015a50"/><stop offset="0.2" stop-color="#28968a"/><stop offset="0.36" stop-color="#96d4ca"/><stop offset="0.46" stop-color="#d2eade"/><stop offset="0.52" stop-color="#f3ecd4"/><stop offset="0.62" stop-color="#ecd4a0"/><stop offset="0.75" stop-color="#d6a65c"/><stop offset="0.9" stop-color="#b07424"/><stop offset="1" stop-color="#8c540e"/></linearGradient></defs>
<rect x="604.30" y="225.00" width="13.20" height="7.50" fill="url(#cbe)" />
<text x="2.80" y="254.40" font-size="9" font-weight="bold">f</text>
<text x="104.00" y="267.30" font-size="7.3" text-anchor="middle" font-weight="bold">Developmental trajectory</text>
<text x="60.00" y="277.90" font-size="7.3" text-anchor="middle" font-weight="bold">Gene-set 1</text>
<text x="130.70" y="277.90" font-size="7.3" text-anchor="middle" font-weight="bold">Gene-set 2</text>
<text x="8.00" y="303.80" font-size="7.3" text-anchor="middle" font-style="italic" transform="rotate(-90 8.00 303.80)">Mean z-score</text>
<text x="14.40" y="303.80" font-size="7.3" text-anchor="middle" transform="rotate(-90 14.40 303.80)">Norm. expression</text>
<line x1="35.50" y1="282.70" x2="35.50" y2="326.50" stroke="#000" stroke-width="0.8" />
<line x1="35.10" y1="326.20" x2="69.30" y2="326.20" stroke="#000" stroke-width="0.8" />
<line x1="33.10" y1="286.00" x2="35.50" y2="286.00" stroke="#000" stroke-width="0.8" />
<line x1="33.10" y1="304.40" x2="35.50" y2="304.40" stroke="#000" stroke-width="0.8" />
<line x1="33.10" y1="322.80" x2="35.50" y2="322.80" stroke="#000" stroke-width="0.8" />
<line x1="43.60" y1="326.20" x2="43.60" y2="329.00" stroke="#000" stroke-width="0.8" />
<line x1="55.20" y1="326.20" x2="55.20" y2="329.00" stroke="#000" stroke-width="0.8" />
<line x1="67.00" y1="326.20" x2="67.00" y2="329.00" stroke="#000" stroke-width="0.8" />
<text x="32.00" y="288.50" font-size="7.3" text-anchor="end">0.5</text>
<text x="32.00" y="306.90" font-size="7.3" text-anchor="end">0.0</text>
<text x="32.00" y="325.30" font-size="7.3" text-anchor="end">-0.5</text>
<line x1="43.60" y1="305.70" x2="55.20" y2="313.40" stroke="#000" stroke-width="1.0" />
<line x1="55.20" y1="313.40" x2="67.00" y2="290.60" stroke="#000" stroke-width="1.0" />
<line x1="55.20" y1="313.40" x2="67.00" y2="299.80" stroke="#000" stroke-width="1.0" />
<line x1="55.20" y1="313.40" x2="67.00" y2="313.40" stroke="#000" stroke-width="1.0" />
<circle cx="43.60" cy="305.70" r="2.10" fill="#a51c24" stroke="#5a1015" stroke-width="0.6" />
<circle cx="55.20" cy="313.40" r="2.10" fill="#a51c24" stroke="#5a1015" stroke-width="0.6" />
<circle cx="67.00" cy="290.60" r="2.10" fill="#a51c24" stroke="#5a1015" stroke-width="0.6" />
<circle cx="67.00" cy="299.80" r="2.10" fill="#a51c24" stroke="#5a1015" stroke-width="0.6" />
<circle cx="67.00" cy="313.40" r="2.10" fill="#a51c24" stroke="#5a1015" stroke-width="0.6" />
<text x="45.90" y="336.00" font-size="7.3" text-anchor="end" transform="rotate(-45 45.90 336.00)">Naïve</text>
<text x="57.50" y="336.00" font-size="7.3" text-anchor="end" transform="rotate(-45 57.50 336.00)">Primed</text>
<text x="70.80" y="335.50" font-size="7.3" text-anchor="end" transform="rotate(-45 70.80 335.50)">Directed</text>
<text x="75.50" y="344.00" font-size="7.3" text-anchor="end" transform="rotate(-45 75.50 344.00)">Diff.</text>
<line x1="106.90" y1="282.70" x2="106.90" y2="326.50" stroke="#000" stroke-width="0.8" />
<line x1="106.50" y1="326.20" x2="140.70" y2="326.20" stroke="#000" stroke-width="0.8" />
<line x1="104.50" y1="286.00" x2="106.90" y2="286.00" stroke="#000" stroke-width="0.8" />
<line x1="104.50" y1="304.40" x2="106.90" y2="304.40" stroke="#000" stroke-width="0.8" />
<line x1="104.50" y1="322.80" x2="106.90" y2="322.80" stroke="#000" stroke-width="0.8" />
<line x1="115.00" y1="326.20" x2="115.00" y2="329.00" stroke="#000" stroke-width="0.8" />
<line x1="126.60" y1="326.20" x2="126.60" y2="329.00" stroke="#000" stroke-width="0.8" />
<line x1="138.40" y1="326.20" x2="138.40" y2="329.00" stroke="#000" stroke-width="0.8" />
<line x1="115.00" y1="320.60" x2="126.60" y2="295.00" stroke="#000" stroke-width="1.0" />
<line x1="126.60" y1="295.00" x2="138.40" y2="299.40" stroke="#000" stroke-width="1.0" />
<line x1="126.60" y1="295.00" x2="138.40" y2="302.00" stroke="#000" stroke-width="1.0" />
<line x1="126.60" y1="295.00" x2="138.40" y2="304.80" stroke="#000" stroke-width="1.0" />
<circle cx="115.00" cy="320.60" r="2.10" fill="#199aa0" stroke="#0d5e63" stroke-width="0.6" />
<circle cx="126.60" cy="295.00" r="2.10" fill="#199aa0" stroke="#0d5e63" stroke-width="0.6" />
<circle cx="138.40" cy="299.40" r="2.10" fill="#199aa0" stroke="#0d5e63" stroke-width="0.6" />
<circle cx="138.40" cy="302.00" r="2.10" fill="#199aa0" stroke="#0d5e63" stroke-width="0.6" />
<circle cx="138.40" cy="304.80" r="2.10" fill="#199aa0" stroke="#0d5e63" stroke-width="0.6" />
<text x="117.30" y="336.00" font-size="7.3" text-anchor="end" transform="rotate(-45 117.30 336.00)">Naïve</text>
<text x="128.90" y="336.00" font-size="7.3" text-anchor="end" transform="rotate(-45 128.90 336.00)">Primed</text>
<text x="142.20" y="335.50" font-size="7.3" text-anchor="end" transform="rotate(-45 142.20 335.50)">Directed</text>
<text x="146.90" y="344.00" font-size="7.3" text-anchor="end" transform="rotate(-45 146.90 344.00)">Diff.</text>
<text x="71.00" y="293.20" font-size="7.3">dME</text>
<text x="71.00" y="302.40" font-size="7.3">dEN</text>
<text x="71.00" y="316.00" font-size="7.3">dEC</text>
<text x="47.30" y="323.90" font-size="7.3" font-weight="bold" fill="#a51c24">1552 genes</text>
<text x="138.40" y="294.40" font-size="7.3">dEN</text>
<text x="145.40" y="303.20" font-size="7.3">dEC</text>
<text x="137.70" y="313.00" font-size="7.3">dME</text>
<text x="122.60" y="323.90" font-size="7.3" font-weight="bold" fill="#199aa0">1830 genes</text>
<text x="172.80" y="253.90" font-size="9" font-weight="bold">g</text>
<text x="185.30" y="336.50" font-size="7.3" text-anchor="middle" transform="rotate(-90 185.30 336.50)">Expression log<tspan font-size="3.8" dy="1.3">2</tspan><tspan dy="-1.3">&#8203;</tspan></text>
<text x="193.00" y="336.50" font-size="7.3" text-anchor="middle" transform="rotate(-90 193.00 336.50)">norm. counts+1</text>
<text x="204.60" y="252.80" font-size="7.25" font-weight="bold"><tspan font-style="italic">FGF4</tspan> (Gene set 1, naive-specific)</text>
<line x1="213.20" y1="310.40" x2="213.20" y2="360.20" stroke="#000" stroke-width="0.8" />
<line x1="315.30" y1="310.40" x2="315.30" y2="360.20" stroke="#000" stroke-width="0.8" />
<line x1="210.80" y1="359.90" x2="317.70" y2="359.90" stroke="#000" stroke-width="0.8" />
<line x1="210.80" y1="310.40" x2="213.20" y2="310.40" stroke="#000" stroke-width="0.8" />
<line x1="315.30" y1="310.40" x2="317.70" y2="310.40" stroke="#000" stroke-width="0.8" />
<text x="209.60" y="312.90" font-size="7.3" text-anchor="end">15</text>
<text x="209.60" y="362.40" font-size="7.3" text-anchor="end">0</text>
<text x="318.90" y="312.90" font-size="7.3">9</text>
<text x="318.90" y="362.40" font-size="7.3">0</text>
<line x1="289.60" y1="308.40" x2="289.60" y2="359.90" stroke="#333" stroke-width="0.5" stroke-dasharray="1 0.8"/>
<line x1="219.10" y1="359.90" x2="219.10" y2="362.10" stroke="#000" stroke-width="0.8" />
<text x="221.60" y="363.90" font-size="7.3" text-anchor="end" transform="rotate(-90 221.60 363.90)">Naïve</text>
<line x1="228.40" y1="359.90" x2="228.40" y2="362.10" stroke="#000" stroke-width="0.8" />
<text x="230.90" y="363.90" font-size="7.3" text-anchor="end" transform="rotate(-90 230.90 363.90)">Primed</text>
<line x1="238.40" y1="359.90" x2="238.40" y2="362.10" stroke="#000" stroke-width="0.8" />
<text x="240.90" y="363.90" font-size="7.3" text-anchor="end" transform="rotate(-90 240.90 363.90)">hTSC</text>
<line x1="248.70" y1="359.90" x2="248.70" y2="362.10" stroke="#000" stroke-width="0.8" />
<text x="251.20" y="363.90" font-size="7.3" text-anchor="end" transform="rotate(-90 251.20 363.90)">PrE</text>
<line x1="259.00" y1="359.90" x2="259.00" y2="362.10" stroke="#000" stroke-width="0.8" />
<text x="261.50" y="363.90" font-size="7.3" text-anchor="end" transform="rotate(-90 261.50 363.90)">dEC</text>
<line x1="269.30" y1="359.90" x2="269.30" y2="362.10" stroke="#000" stroke-width="0.8" />
<text x="271.80" y="363.90" font-size="7.3" text-anchor="end" transform="rotate(-90 271.80 363.90)">dEN</text>
<line x1="279.30" y1="359.90" x2="279.30" y2="362.10" stroke="#000" stroke-width="0.8" />
<text x="281.80" y="363.90" font-size="7.3" text-anchor="end" transform="rotate(-90 281.80 363.90)">dME</text>
<line x1="299.20" y1="359.90" x2="299.20" y2="362.10" stroke="#000" stroke-width="0.8" />
<line x1="309.50" y1="359.90" x2="309.50" y2="362.10" stroke="#000" stroke-width="0.8" />
<text x="301.70" y="363.90" font-size="7.3" text-anchor="end" font-style="italic" transform="rotate(-90 301.70 363.90)">WT</text>
<text x="312.00" y="363.90" font-size="7.3" text-anchor="end" transform="rotate(-90 312.00 363.90)"><tspan font-style="italic">ZIC3<tspan font-size="4" dy="-2.5">-/-</tspan><tspan dy="2.5">&#8203;</tspan>ZIC2<tspan font-size="4" dy="-2.5">-/-</tspan><tspan dy="2.5">&#8203;</tspan></tspan></text>
<circle cx="218.86" cy="315.50" r="1.90" fill="#000" />
<circle cx="218.29" cy="315.50" r="1.90" fill="#000" />
<circle cx="216.79" cy="315.50" r="1.90" fill="#000" />
<circle cx="221.45" cy="315.50" r="1.90" fill="#000" />
<circle cx="215.94" cy="315.50" r="1.90" fill="#000" />
<circle cx="219.12" cy="315.50" r="1.90" fill="#000" />
<circle cx="221.65" cy="315.50" r="1.90" fill="#000" />
<circle cx="225.88" cy="329.10" r="1.90" fill="#000" />
<circle cx="228.73" cy="329.10" r="1.90" fill="#000" />
<circle cx="229.10" cy="329.10" r="1.90" fill="#000" />
<circle cx="225.65" cy="329.10" r="1.90" fill="#000" />
<circle cx="227.67" cy="329.10" r="1.90" fill="#000" />
<circle cx="229.62" cy="329.10" r="1.90" fill="#000" />
<rect x="233.80" y="350.10" width="9.20" height="9.50" fill="#7d3fa3" stroke="#2a2a2a" stroke-width="0.5" />
<line x1="233.80" y1="356.00" x2="243.00" y2="356.00" stroke="#222" stroke-width="0.5" />
<circle cx="240.87" cy="353.75" r="1.85" fill="#000" />
<circle cx="240.83" cy="356.61" r="1.85" fill="#000" />
<circle cx="235.55" cy="350.65" r="1.85" fill="#000" />
<circle cx="237.62" cy="351.50" r="1.85" fill="#000" />
<circle cx="238.35" cy="350.16" r="1.85" fill="#000" />
<circle cx="235.35" cy="354.32" r="1.85" fill="#000" />
<circle cx="237.92" cy="358.70" r="1.85" fill="#000" />
<circle cx="241.00" cy="355.20" r="1.85" fill="#000" />
<circle cx="235.92" cy="357.13" r="1.85" fill="#000" />
<circle cx="239.02" cy="353.03" r="1.85" fill="#000" />
<circle cx="235.98" cy="356.83" r="1.85" fill="#000" />
<circle cx="238.90" cy="350.07" r="1.85" fill="#000" />
<circle cx="240.93" cy="352.06" r="1.85" fill="#000" />
<circle cx="236.50" cy="356.08" r="1.85" fill="#000" />
<circle cx="235.25" cy="356.62" r="1.85" fill="#000" />
<circle cx="235.73" cy="353.43" r="1.85" fill="#000" />
<circle cx="238.65" cy="349.92" r="1.85" fill="#000" />
<circle cx="235.31" cy="351.80" r="1.85" fill="#000" />
<circle cx="235.74" cy="351.20" r="1.85" fill="#000" />
<circle cx="238.38" cy="351.95" r="1.85" fill="#000" />
<circle cx="241.09" cy="357.50" r="1.85" fill="#000" />
<circle cx="237.89" cy="351.09" r="1.85" fill="#000" />
<rect x="244.10" y="338.00" width="9.20" height="21.60" fill="#a8174f" stroke="#2a2a2a" stroke-width="0.5" />
<line x1="244.10" y1="352.00" x2="253.30" y2="352.00" stroke="#222" stroke-width="0.5" />
<circle cx="251.81" cy="342.35" r="1.85" fill="#000" />
<circle cx="249.18" cy="349.20" r="1.85" fill="#000" />
<circle cx="245.62" cy="333.66" r="1.85" fill="#000" />
<circle cx="250.62" cy="347.52" r="1.85" fill="#000" />
<circle cx="247.60" cy="335.92" r="1.85" fill="#000" />
<circle cx="248.27" cy="348.35" r="1.85" fill="#000" />
<circle cx="246.87" cy="358.31" r="1.85" fill="#000" />
<circle cx="248.34" cy="332.54" r="1.85" fill="#000" />
<circle cx="247.58" cy="346.82" r="1.85" fill="#000" />
<circle cx="246.07" cy="348.28" r="1.85" fill="#000" />
<circle cx="249.53" cy="335.26" r="1.85" fill="#000" />
<circle cx="246.16" cy="338.65" r="1.85" fill="#000" />
<circle cx="250.52" cy="359.35" r="1.85" fill="#000" />
<circle cx="245.66" cy="359.44" r="1.85" fill="#000" />
<circle cx="250.50" cy="334.46" r="1.85" fill="#000" />
<circle cx="250.67" cy="351.11" r="1.85" fill="#000" />
<circle cx="248.68" cy="358.10" r="1.85" fill="#000" />
<circle cx="250.04" cy="337.75" r="1.85" fill="#000" />
<circle cx="247.09" cy="348.42" r="1.85" fill="#000" />
<circle cx="250.22" cy="332.23" r="1.85" fill="#000" />
<circle cx="248.22" cy="341.43" r="1.85" fill="#000" />
<circle cx="246.98" cy="350.21" r="1.85" fill="#000" />
<circle cx="251.67" cy="347.82" r="1.85" fill="#000" />
<circle cx="248.07" cy="353.08" r="1.85" fill="#000" />
<circle cx="247.89" cy="333.47" r="1.85" fill="#000" />
<circle cx="251.00" cy="340.90" r="1.85" fill="#000" />
<circle cx="247.86" cy="355.63" r="1.85" fill="#000" />
<circle cx="249.77" cy="347.65" r="1.85" fill="#000" />
<circle cx="246.59" cy="343.86" r="1.85" fill="#000" />
<circle cx="250.90" cy="342.46" r="1.85" fill="#000" />
<circle cx="256.90" cy="354.30" r="1.90" fill="#000" />
<circle cx="261.10" cy="353.60" r="1.90" fill="#000" />
<line x1="265.30" y1="351.30" x2="273.30" y2="351.30" stroke="#999" stroke-width="0.6" />
<circle cx="269.30" cy="347.80" r="1.90" fill="#000" />
<circle cx="269.30" cy="353.80" r="1.90" fill="#000" />
<circle cx="277.00" cy="357.10" r="1.90" fill="#000" />
<circle cx="281.70" cy="354.10" r="1.90" fill="#000" />
<rect x="294.60" y="324.90" width="9.20" height="5.60" fill="#e3a21c" stroke="#2a2a2a" stroke-width="0.5" />
<line x1="294.60" y1="327.50" x2="303.80" y2="327.50" stroke="#222" stroke-width="0.5" />
<circle cx="297.45" cy="325.83" r="1.85" fill="#000" />
<circle cx="298.53" cy="323.95" r="1.85" fill="#000" />
<circle cx="299.87" cy="332.28" r="1.85" fill="#000" />
<circle cx="302.00" cy="325.05" r="1.85" fill="#000" />
<circle cx="298.33" cy="332.02" r="1.85" fill="#000" />
<circle cx="297.04" cy="332.38" r="1.85" fill="#000" />
<circle cx="299.57" cy="328.96" r="1.85" fill="#000" />
<circle cx="297.02" cy="323.61" r="1.85" fill="#000" />
<circle cx="296.72" cy="324.05" r="1.85" fill="#000" />
<rect x="304.90" y="312.30" width="9.20" height="4.70" fill="#17989c" stroke="#2a2a2a" stroke-width="0.5" />
<line x1="304.90" y1="314.50" x2="314.10" y2="314.50" stroke="#222" stroke-width="0.5" />
<circle cx="311.35" cy="315.11" r="1.85" fill="#000" />
<circle cx="312.09" cy="316.02" r="1.85" fill="#000" />
<circle cx="309.46" cy="311.93" r="1.85" fill="#000" />
<circle cx="306.77" cy="314.43" r="1.85" fill="#000" />
<circle cx="306.43" cy="316.07" r="1.85" fill="#000" />
<circle cx="309.70" cy="316.47" r="1.85" fill="#000" />
<circle cx="307.28" cy="313.99" r="1.85" fill="#000" />
<circle cx="310.38" cy="317.27" r="1.85" fill="#000" />
<circle cx="306.67" cy="312.60" r="1.85" fill="#000" />
<circle cx="311.41" cy="316.15" r="1.85" fill="#000" />
<text x="220.80" y="308.50" font-size="7.3" transform="rotate(-90 220.80 308.50)"><tspan font-style="italic">P</tspan> = 1.60x10<tspan font-size="4.4" dy="-2.8">-33</tspan><tspan dy="2.8">&#8203;</tspan></text>
<text x="240.10" y="344.30" font-size="7.3" transform="rotate(-90 240.10 344.30)"><tspan font-style="italic">P</tspan> = 3.82x10<tspan font-size="4.4" dy="-2.8">-69</tspan><tspan dy="2.8">&#8203;</tspan></text>
<text x="250.40" y="324.40" font-size="7.3" transform="rotate(-90 250.40 324.40)"><tspan font-style="italic">P</tspan> = 2.65x10<tspan font-size="4.4" dy="-2.8">-3</tspan><tspan dy="2.8">&#8203;</tspan></text>
<text x="260.70" y="349.00" font-size="7.3" transform="rotate(-90 260.70 349.00)"><tspan font-style="italic">P</tspan> = 2.31x10<tspan font-size="4.4" dy="-2.8">-47</tspan><tspan dy="2.8">&#8203;</tspan></text>
<text x="271.00" y="342.00" font-size="7.3" transform="rotate(-90 271.00 342.00)"><tspan font-style="italic">P</tspan> = 3.75x10<tspan font-size="4.4" dy="-2.8">-61</tspan><tspan dy="2.8">&#8203;</tspan></text>
<text x="281.00" y="347.80" font-size="7.3" transform="rotate(-90 281.00 347.80)"><tspan font-style="italic">P</tspan> = 7.36x10<tspan font-size="4.4" dy="-2.8">-29</tspan><tspan dy="2.8">&#8203;</tspan></text>
<text x="302.20" y="303.40" font-size="7.3" transform="rotate(-90 302.20 303.40)"><tspan font-style="italic">P</tspan> = 3.05x10<tspan font-size="4.4" dy="-2.8">-7</tspan><tspan dy="2.8">&#8203;</tspan></text>
<text x="354.80" y="252.80" font-size="6.85" font-weight="bold"><tspan font-style="italic">PITX1</tspan> (Gene set 1, diff.-specific)</text>
<line x1="349.60" y1="310.10" x2="349.60" y2="359.40" stroke="#000" stroke-width="0.8" />
<line x1="457.60" y1="310.10" x2="457.60" y2="359.40" stroke="#000" stroke-width="0.8" />
<line x1="347.20" y1="359.10" x2="460.00" y2="359.10" stroke="#000" stroke-width="0.8" />
<line x1="347.20" y1="310.10" x2="349.60" y2="310.10" stroke="#000" stroke-width="0.8" />
<line x1="457.60" y1="310.10" x2="460.00" y2="310.10" stroke="#000" stroke-width="0.8" />
<text x="346.00" y="312.60" font-size="7.3" text-anchor="end">15</text>
<text x="346.00" y="361.60" font-size="7.3" text-anchor="end">0</text>
<text x="461.20" y="312.60" font-size="7.3">8</text>
<text x="461.20" y="361.60" font-size="7.3">0</text>
<line x1="429.90" y1="308.10" x2="429.90" y2="359.10" stroke="#333" stroke-width="0.5" stroke-dasharray="1 0.8"/>
<line x1="358.60" y1="359.10" x2="358.60" y2="361.30" stroke="#000" stroke-width="0.8" />
<text x="361.10" y="363.10" font-size="7.3" text-anchor="end" transform="rotate(-90 361.10 363.10)">Naïve</text>
<line x1="368.80" y1="359.10" x2="368.80" y2="361.30" stroke="#000" stroke-width="0.8" />
<text x="371.30" y="363.10" font-size="7.3" text-anchor="end" transform="rotate(-90 371.30 363.10)">Primed</text>
<line x1="379.00" y1="359.10" x2="379.00" y2="361.30" stroke="#000" stroke-width="0.8" />
<text x="381.50" y="363.10" font-size="7.3" text-anchor="end" transform="rotate(-90 381.50 363.10)">hTSC</text>
<line x1="389.90" y1="359.10" x2="389.90" y2="361.30" stroke="#000" stroke-width="0.8" />
<text x="392.40" y="363.10" font-size="7.3" text-anchor="end" transform="rotate(-90 392.40 363.10)">PrE</text>
<line x1="400.00" y1="359.10" x2="400.00" y2="361.30" stroke="#000" stroke-width="0.8" />
<text x="402.50" y="363.10" font-size="7.3" text-anchor="end" transform="rotate(-90 402.50 363.10)">dEC</text>
<line x1="410.30" y1="359.10" x2="410.30" y2="361.30" stroke="#000" stroke-width="0.8" />
<text x="412.80" y="363.10" font-size="7.3" text-anchor="end" transform="rotate(-90 412.80 363.10)">dEN</text>
<line x1="421.10" y1="359.10" x2="421.10" y2="361.30" stroke="#000" stroke-width="0.8" />
<text x="423.60" y="363.10" font-size="7.3" text-anchor="end" transform="rotate(-90 423.60 363.10)">dME</text>
<line x1="439.50" y1="359.10" x2="439.50" y2="361.30" stroke="#000" stroke-width="0.8" />
<line x1="449.70" y1="359.10" x2="449.70" y2="361.30" stroke="#000" stroke-width="0.8" />
<text x="442.00" y="363.10" font-size="7.3" text-anchor="end" font-style="italic" transform="rotate(-90 442.00 363.10)">WT</text>
<text x="452.20" y="363.10" font-size="7.3" text-anchor="end" transform="rotate(-90 452.20 363.10)"><tspan font-style="italic">ZIC3<tspan font-size="4" dy="-2.5">-/-</tspan><tspan dy="2.5">&#8203;</tspan>ZIC2<tspan font-size="4" dy="-2.5">-/-</tspan><tspan dy="2.5">&#8203;</tspan></tspan></text>
<rect x="354.00" y="346.60" width="9.20" height="7.90" fill="#5aa2e0" stroke="#2a2a2a" stroke-width="0.5" />
<line x1="354.00" y1="350.50" x2="363.20" y2="350.50" stroke="#222" stroke-width="0.5" />
<circle cx="356.93" cy="346.00" r="1.85" fill="#000" />
<circle cx="355.68" cy="346.50" r="1.85" fill="#000" />
<circle cx="356.66" cy="349.00" r="1.85" fill="#000" />
<circle cx="358.34" cy="353.00" r="1.85" fill="#000" />
<circle cx="358.96" cy="355.00" r="1.85" fill="#000" />
<circle cx="357.93" cy="351.00" r="1.85" fill="#000" />
<rect x="364.20" y="347.40" width="9.20" height="10.00" fill="#3f55d6" stroke="#2a2a2a" stroke-width="0.5" />
<line x1="364.20" y1="351.00" x2="373.40" y2="351.00" stroke="#222" stroke-width="0.5" />
<circle cx="367.17" cy="346.50" r="1.85" fill="#000" />
<circle cx="368.71" cy="347.50" r="1.85" fill="#000" />
<circle cx="371.03" cy="352.00" r="1.85" fill="#000" />
<circle cx="368.98" cy="358.50" r="1.85" fill="#000" />
<rect x="374.40" y="325.30" width="9.20" height="5.80" fill="#7d3fa3" stroke="#2a2a2a" stroke-width="0.5" />
<line x1="374.40" y1="328.00" x2="383.60" y2="328.00" stroke="#222" stroke-width="0.5" />
<circle cx="379.24" cy="332.24" r="1.85" fill="#000" />
<circle cx="377.88" cy="320.37" r="1.85" fill="#000" />
<circle cx="380.26" cy="332.91" r="1.85" fill="#000" />
<circle cx="380.24" cy="331.56" r="1.85" fill="#000" />
<circle cx="376.78" cy="327.08" r="1.85" fill="#000" />
<circle cx="380.12" cy="326.81" r="1.85" fill="#000" />
<circle cx="378.74" cy="326.98" r="1.85" fill="#000" />
<circle cx="378.95" cy="331.82" r="1.85" fill="#000" />
<circle cx="379.77" cy="320.85" r="1.85" fill="#000" />
<circle cx="376.50" cy="328.36" r="1.85" fill="#000" />
<rect x="385.30" y="311.50" width="9.20" height="7.30" fill="#a8174f" stroke="#2a2a2a" stroke-width="0.5" />
<line x1="385.30" y1="314.50" x2="394.50" y2="314.50" stroke="#222" stroke-width="0.5" />
<circle cx="387.99" cy="314.02" r="1.85" fill="#000" />
<circle cx="387.29" cy="312.30" r="1.85" fill="#000" />
<circle cx="389.03" cy="316.09" r="1.85" fill="#000" />
<circle cx="389.72" cy="311.23" r="1.85" fill="#000" />
<circle cx="390.11" cy="315.67" r="1.85" fill="#000" />
<circle cx="387.06" cy="314.97" r="1.85" fill="#000" />
<circle cx="391.55" cy="314.19" r="1.85" fill="#000" />
<circle cx="388.90" cy="316.07" r="1.85" fill="#000" />
<circle cx="391.60" cy="309.77" r="1.85" fill="#000" />
<circle cx="386.95" cy="313.98" r="1.85" fill="#000" />
<circle cx="392.62" cy="314.10" r="1.85" fill="#000" />
<circle cx="390.44" cy="314.59" r="1.85" fill="#000" />
<circle cx="392.76" cy="312.55" r="1.85" fill="#000" />
<circle cx="392.82" cy="310.02" r="1.85" fill="#000" />
<circle cx="391.90" cy="310.92" r="1.85" fill="#000" />
<circle cx="387.54" cy="314.06" r="1.85" fill="#000" />
<circle cx="388.99" cy="321.00" r="1.85" fill="#000" />
<circle cx="388.29" cy="322.50" r="1.85" fill="#000" />
<circle cx="391.58" cy="323.50" r="1.85" fill="#000" />
<circle cx="397.60" cy="348.00" r="1.90" fill="#000" />
<circle cx="402.60" cy="344.50" r="1.90" fill="#000" />
<line x1="398.00" y1="346.50" x2="401.00" y2="346.50" stroke="#000" stroke-width="0.5" />
<circle cx="408.00" cy="337.20" r="1.90" fill="#000" />
<circle cx="412.90" cy="337.20" r="1.90" fill="#000" />
<circle cx="418.50" cy="329.60" r="1.90" fill="#000" />
<circle cx="423.80" cy="327.60" r="1.90" fill="#000" />
<rect x="434.90" y="345.70" width="9.20" height="5.30" fill="#e3a21c" stroke="#2a2a2a" stroke-width="0.5" />
<line x1="434.90" y1="348.00" x2="444.10" y2="348.00" stroke="#222" stroke-width="0.5" />
<circle cx="437.65" cy="344.50" r="1.85" fill="#000" />
<circle cx="437.83" cy="345.50" r="1.85" fill="#000" />
<circle cx="437.16" cy="346.00" r="1.85" fill="#000" />
<circle cx="437.22" cy="349.00" r="1.85" fill="#000" />
<circle cx="442.13" cy="352.50" r="1.85" fill="#000" />
<circle cx="442.36" cy="353.00" r="1.85" fill="#000" />
<rect x="445.10" y="313.90" width="9.20" height="12.20" fill="#17989c" stroke="#2a2a2a" stroke-width="0.5" />
<line x1="445.10" y1="319.50" x2="454.30" y2="319.50" stroke="#222" stroke-width="0.5" />
<circle cx="449.06" cy="311.00" r="1.85" fill="#000" />
<circle cx="450.91" cy="318.00" r="1.85" fill="#000" />
<circle cx="449.54" cy="318.20" r="1.85" fill="#000" />
<circle cx="449.81" cy="324.50" r="1.85" fill="#000" />
<circle cx="449.05" cy="327.50" r="1.85" fill="#000" />
<text x="360.30" y="342.20" font-size="7.3" transform="rotate(-90 360.30 342.20)"><tspan font-style="italic">P</tspan> = 0.88</text>
<text x="380.70" y="322.30" font-size="7.3" transform="rotate(-90 380.70 322.30)"><tspan font-style="italic">P</tspan> = 2.75x10<tspan font-size="4.4" dy="-2.8">-14</tspan><tspan dy="2.8">&#8203;</tspan></text>
<text x="391.60" y="305.70" font-size="7.3" transform="rotate(-90 391.60 305.70)"><tspan font-style="italic">P</tspan> = 7.66x10<tspan font-size="4.4" dy="-2.8">-50</tspan><tspan dy="2.8">&#8203;</tspan></text>
<text x="401.70" y="342.20" font-size="7.3" transform="rotate(-90 401.70 342.20)"><tspan font-style="italic">P</tspan> = 0.30</text>
<text x="412.00" y="334.00" font-size="7.3" transform="rotate(-90 412.00 334.00)"><tspan font-style="italic">P</tspan> = 4.61x10<tspan font-size="4.4" dy="-2.8">-5</tspan><tspan dy="2.8">&#8203;</tspan></text>
<text x="422.80" y="324.70" font-size="7.3" transform="rotate(-90 422.80 324.70)"><tspan font-style="italic">P</tspan> = 2.28x10<tspan font-size="4.4" dy="-2.8">-7</tspan><tspan dy="2.8">&#8203;</tspan></text>
<text x="442.50" y="305.70" font-size="7.3" transform="rotate(-90 442.50 305.70)"><tspan font-style="italic">P</tspan> = 2.13x10<tspan font-size="4.4" dy="-2.8">-11</tspan><tspan dy="2.8">&#8203;</tspan></text>
<text x="513.00" y="253.50" font-size="7.25" font-weight="bold"><tspan font-style="italic">EPHA8</tspan> (Gene set 2,</text>
<text x="513.00" y="262.20" font-size="7.3" font-weight="bold">primed-specific</text>
<line x1="490.00" y1="310.30" x2="490.00" y2="359.40" stroke="#000" stroke-width="0.8" />
<line x1="596.40" y1="310.30" x2="596.40" y2="359.40" stroke="#000" stroke-width="0.8" />
<line x1="487.60" y1="359.10" x2="598.80" y2="359.10" stroke="#000" stroke-width="0.8" />
<line x1="487.60" y1="310.30" x2="490.00" y2="310.30" stroke="#000" stroke-width="0.8" />
<line x1="596.40" y1="310.30" x2="598.80" y2="310.30" stroke="#000" stroke-width="0.8" />
<text x="486.40" y="312.80" font-size="7.3" text-anchor="end">6</text>
<text x="486.40" y="361.60" font-size="7.3" text-anchor="end">0</text>
<text x="600.00" y="312.80" font-size="7.3">8</text>
<text x="600.00" y="361.60" font-size="7.3">0</text>
<line x1="568.30" y1="308.30" x2="568.30" y2="359.10" stroke="#333" stroke-width="0.5" stroke-dasharray="1 0.8"/>
<line x1="497.80" y1="359.10" x2="497.80" y2="361.30" stroke="#000" stroke-width="0.8" />
<text x="500.30" y="363.10" font-size="7.3" text-anchor="end" transform="rotate(-90 500.30 363.10)">Naïve</text>
<line x1="508.10" y1="359.10" x2="508.10" y2="361.30" stroke="#000" stroke-width="0.8" />
<text x="510.60" y="363.10" font-size="7.3" text-anchor="end" transform="rotate(-90 510.60 363.10)">Primed</text>
<line x1="518.40" y1="359.10" x2="518.40" y2="361.30" stroke="#000" stroke-width="0.8" />
<text x="520.90" y="363.10" font-size="7.3" text-anchor="end" transform="rotate(-90 520.90 363.10)">hTSC</text>
<line x1="528.40" y1="359.10" x2="528.40" y2="361.30" stroke="#000" stroke-width="0.8" />
<text x="530.90" y="363.10" font-size="7.3" text-anchor="end" transform="rotate(-90 530.90 363.10)">PrE</text>
<line x1="538.60" y1="359.10" x2="538.60" y2="361.30" stroke="#000" stroke-width="0.8" />
<text x="541.10" y="363.10" font-size="7.3" text-anchor="end" transform="rotate(-90 541.10 363.10)">dEC</text>
<line x1="548.90" y1="359.10" x2="548.90" y2="361.30" stroke="#000" stroke-width="0.8" />
<text x="551.40" y="363.10" font-size="7.3" text-anchor="end" transform="rotate(-90 551.40 363.10)">dEN</text>
<line x1="558.90" y1="359.10" x2="558.90" y2="361.30" stroke="#000" stroke-width="0.8" />
<text x="561.40" y="363.10" font-size="7.3" text-anchor="end" transform="rotate(-90 561.40 363.10)">dME</text>
<line x1="578.30" y1="359.10" x2="578.30" y2="361.30" stroke="#000" stroke-width="0.8" />
<line x1="588.60" y1="359.10" x2="588.60" y2="361.30" stroke="#000" stroke-width="0.8" />
<text x="580.80" y="363.10" font-size="7.3" text-anchor="end" font-style="italic" transform="rotate(-90 580.80 363.10)">WT</text>
<text x="591.10" y="363.10" font-size="7.3" text-anchor="end" transform="rotate(-90 591.10 363.10)"><tspan font-style="italic">ZIC3<tspan font-size="4" dy="-2.5">-/-</tspan><tspan dy="2.5">&#8203;</tspan>ZIC2<tspan font-size="4" dy="-2.5">-/-</tspan><tspan dy="2.5">&#8203;</tspan></tspan></text>
<line x1="497.80" y1="356.80" x2="497.80" y2="359.10" stroke="#000" stroke-width="0.5" />
<rect x="493.20" y="337.80" width="9.20" height="19.00" fill="#5aa2e0" stroke="#2a2a2a" stroke-width="0.5" />
<line x1="493.20" y1="342.80" x2="502.40" y2="342.80" stroke="#222" stroke-width="0.5" />
<circle cx="498.12" cy="338.00" r="1.85" fill="#000" />
<circle cx="497.17" cy="346.80" r="1.85" fill="#000" />
<circle cx="497.22" cy="359.00" r="1.85" fill="#000" />
<rect x="503.50" y="311.50" width="9.20" height="7.90" fill="#3f55d6" stroke="#2a2a2a" stroke-width="0.5" />
<line x1="503.50" y1="315.50" x2="512.70" y2="315.50" stroke="#222" stroke-width="0.5" />
<circle cx="508.21" cy="311.00" r="1.85" fill="#000" />
<circle cx="506.28" cy="312.00" r="1.85" fill="#000" />
<circle cx="507.74" cy="314.00" r="1.85" fill="#000" />
<circle cx="510.76" cy="316.50" r="1.85" fill="#000" />
<circle cx="505.23" cy="318.50" r="1.85" fill="#000" />
<line x1="518.40" y1="344.00" x2="518.40" y2="359.10" stroke="#000" stroke-width="0.5" />
<rect x="513.80" y="322.40" width="9.20" height="21.60" fill="#7d3fa3" stroke="#2a2a2a" stroke-width="0.5" />
<line x1="513.80" y1="329.00" x2="523.00" y2="329.00" stroke="#222" stroke-width="0.5" />
<circle cx="517.61" cy="322.00" r="1.85" fill="#000" />
<circle cx="519.00" cy="328.00" r="1.85" fill="#000" />
<circle cx="517.52" cy="334.50" r="1.85" fill="#000" />
<circle cx="517.90" cy="339.50" r="1.85" fill="#000" />
<circle cx="519.10" cy="344.00" r="1.85" fill="#000" />
<circle cx="518.61" cy="359.00" r="1.85" fill="#000" />
<line x1="528.40" y1="329.50" x2="528.40" y2="359.10" stroke="#000" stroke-width="0.5" />
<rect x="523.80" y="334.00" width="9.20" height="16.20" fill="#a8174f" stroke="#2a2a2a" stroke-width="0.5" />
<line x1="523.80" y1="342.00" x2="533.00" y2="342.00" stroke="#222" stroke-width="0.5" />
<circle cx="528.17" cy="335.08" r="1.85" fill="#000" />
<circle cx="529.06" cy="331.35" r="1.85" fill="#000" />
<circle cx="528.81" cy="336.33" r="1.85" fill="#000" />
<circle cx="528.04" cy="336.90" r="1.85" fill="#000" />
<circle cx="526.52" cy="348.41" r="1.85" fill="#000" />
<circle cx="527.81" cy="352.44" r="1.85" fill="#000" />
<circle cx="527.35" cy="348.08" r="1.85" fill="#000" />
<circle cx="526.42" cy="350.74" r="1.85" fill="#000" />
<circle cx="528.66" cy="351.41" r="1.85" fill="#000" />
<circle cx="526.53" cy="350.16" r="1.85" fill="#000" />
<circle cx="529.67" cy="351.16" r="1.85" fill="#000" />
<circle cx="529.35" cy="352.25" r="1.85" fill="#000" />
<circle cx="526.23" cy="332.17" r="1.85" fill="#000" />
<circle cx="529.15" cy="337.31" r="1.85" fill="#000" />
<circle cx="527.43" cy="335.69" r="1.85" fill="#000" />
<circle cx="528.08" cy="343.90" r="1.85" fill="#000" />
<circle cx="529.04" cy="341.31" r="1.85" fill="#000" />
<circle cx="529.97" cy="337.98" r="1.85" fill="#000" />
<circle cx="530.70" cy="349.25" r="1.85" fill="#000" />
<circle cx="529.80" cy="339.18" r="1.85" fill="#000" />
<circle cx="526.67" cy="334.81" r="1.85" fill="#000" />
<circle cx="528.65" cy="336.36" r="1.85" fill="#000" />
<circle cx="527.41" cy="356.00" r="1.85" fill="#000" />
<circle cx="525.51" cy="359.00" r="1.85" fill="#000" />
<circle cx="528.71" cy="359.00" r="1.85" fill="#000" />
<circle cx="536.40" cy="337.20" r="1.90" fill="#000" />
<circle cx="540.90" cy="336.40" r="1.90" fill="#000" />
<line x1="544.90" y1="335.20" x2="552.90" y2="335.20" stroke="#000" stroke-width="0.5" />
<circle cx="548.90" cy="332.40" r="1.90" fill="#000" />
<circle cx="548.90" cy="338.00" r="1.90" fill="#000" />
<circle cx="556.60" cy="348.00" r="1.90" fill="#000" />
<circle cx="561.20" cy="346.10" r="1.90" fill="#000" />
<rect x="573.70" y="310.80" width="9.20" height="6.70" fill="#e3a21c" stroke="#2a2a2a" stroke-width="0.5" />
<line x1="573.70" y1="314.00" x2="582.90" y2="314.00" stroke="#222" stroke-width="0.5" />
<circle cx="578.12" cy="310.50" r="1.85" fill="#000" />
<circle cx="580.50" cy="311.00" r="1.85" fill="#000" />
<circle cx="577.24" cy="312.00" r="1.85" fill="#000" />
<circle cx="580.30" cy="313.00" r="1.85" fill="#000" />
<circle cx="578.38" cy="314.50" r="1.85" fill="#000" />
<circle cx="575.89" cy="316.00" r="1.85" fill="#000" />
<circle cx="579.60" cy="318.50" r="1.85" fill="#000" />
<rect x="584.00" y="325.90" width="9.20" height="7.30" fill="#17989c" stroke="#2a2a2a" stroke-width="0.5" />
<line x1="584.00" y1="330.00" x2="593.20" y2="330.00" stroke="#222" stroke-width="0.5" />
<circle cx="587.31" cy="325.00" r="1.85" fill="#000" />
<circle cx="588.80" cy="326.50" r="1.85" fill="#000" />
<circle cx="586.03" cy="328.00" r="1.85" fill="#000" />
<circle cx="585.66" cy="330.00" r="1.85" fill="#000" />
<circle cx="591.13" cy="332.00" r="1.85" fill="#000" />
<circle cx="585.85" cy="334.50" r="1.85" fill="#000" />
<circle cx="586.49" cy="327.00" r="1.85" fill="#000" />
<text x="499.50" y="336.40" font-size="7.3" transform="rotate(-90 499.50 336.40)"><tspan font-style="italic">P</tspan> = 1.28x10<tspan font-size="4.4" dy="-2.8">-7</tspan><tspan dy="2.8">&#8203;</tspan></text>
<text x="520.10" y="318.30" font-size="7.3" transform="rotate(-90 520.10 318.30)"><tspan font-style="italic">P</tspan> = 0.01</text>
<text x="530.10" y="325.90" font-size="7.3" transform="rotate(-90 530.10 325.90)"><tspan font-style="italic">P</tspan> = 1.81x10<tspan font-size="4.4" dy="-2.8">-8</tspan><tspan dy="2.8">&#8203;</tspan></text>
<text x="540.30" y="334.00" font-size="7.3" transform="rotate(-90 540.30 334.00)"><tspan font-style="italic">P</tspan> = 1.43x10<tspan font-size="4.4" dy="-2.8">-4</tspan><tspan dy="2.8">&#8203;</tspan></text>
<text x="550.60" y="327.80" font-size="7.3" transform="rotate(-90 550.60 327.80)"><tspan font-style="italic">P</tspan> = 2.40x10<tspan font-size="4.4" dy="-2.8">-5</tspan><tspan dy="2.8">&#8203;</tspan></text>
<text x="560.60" y="342.60" font-size="7.3" transform="rotate(-90 560.60 342.60)"><tspan font-style="italic">P</tspan> = 3.48x10<tspan font-size="4.4" dy="-2.8">-7</tspan><tspan dy="2.8">&#8203;</tspan></text>
<text x="585.10" y="307.50" font-size="7.3" transform="rotate(-90 585.10 307.50)"><tspan font-style="italic">P</tspan> = 7.29x10<tspan font-size="4.4" dy="-2.8">-8</tspan><tspan dy="2.8">&#8203;</tspan></text>
<text x="2.70" y="428.40" font-size="9" font-weight="bold">h</text>
<text x="100.40" y="430.10" font-size="7.3" text-anchor="middle" font-weight="bold">Polycomb target gene (geneset 1)</text>
<text x="27.70" y="460.00" font-size="7.3">chr6</text>
<text x="73.30" y="456.60" font-size="7.3" text-anchor="middle">166,150kb</text>
<line x1="73.30" y1="459.20" x2="73.30" y2="461.60" stroke="#333" stroke-width="0.5" />
<text x="120.50" y="456.60" font-size="7.3" text-anchor="middle">166,170kb</text>
<line x1="120.50" y1="459.20" x2="120.50" y2="461.60" stroke="#333" stroke-width="0.5" />
<text x="167.60" y="456.60" font-size="7.3" text-anchor="middle">166,190kb</text>
<line x1="167.60" y1="459.20" x2="167.60" y2="461.60" stroke="#333" stroke-width="0.5" />
<line x1="73.30" y1="461.60" x2="167.60" y2="461.60" stroke="#333" stroke-width="0.5" />
<rect x="69.30" y="464.80" width="99.10" height="24.00" fill="#f8f8f8" />
<rect x="69.30" y="489.40" width="99.10" height="24.00" fill="#f8f8f8" />
<rect x="98.40" y="464.80" width="33.80" height="48.60" fill="#dcd9cc" />
<text x="71.20" y="470.60" font-size="7.3" fill="#222">[0-800]</text>
<text x="71.20" y="494.60" font-size="7.3" fill="#222">[0-800]</text>
<path d="M69.3 488.5L69.3 487.95L69.6 488.02L69.9 488.15L70.2 488.14L70.5 488.05L70.8 488.18L71.1 488.00L71.4 488.12L71.7 487.92L72.0 488.18L72.3 487.78L72.6 487.45L72.9 488.03L73.2 488.02L73.5 487.80L73.8 487.77L74.1 488.00L74.4 488.07L74.7 488.13L75.0 488.09L75.3 488.14L75.6 488.09L75.9 488.21L76.2 488.00L76.5 488.01L76.8 487.80L77.1 487.69L77.4 488.10L77.7 487.78L78.0 488.04L78.3 488.07L78.6 487.96L78.9 488.13L79.2 487.69L79.5 487.99L79.8 488.15L80.1 487.88L80.4 488.15L80.7 488.16L81.0 488.03L81.3 487.79L81.6 488.23L81.9 488.13L82.2 488.17L82.5 488.00L82.8 488.13L83.1 488.06L83.4 487.75L83.7 488.07L84.0 488.16L84.3 488.00L84.6 488.12L84.9 488.10L85.2 488.09L85.5 488.03L85.8 488.15L86.1 488.19L86.4 488.08L86.7 488.14L87.0 488.15L87.3 488.05L87.6 488.04L87.9 487.89L88.2 488.18L88.5 487.76L88.8 487.98L89.1 488.11L89.4 488.08L89.7 488.02L90.0 488.02L90.3 488.15L90.6 488.08L90.9 488.07L91.2 488.06L91.5 488.00L91.8 488.11L92.1 488.04L92.4 488.01L92.7 488.10L93.0 487.96L93.3 488.04L93.6 488.10L93.9 488.19L94.2 487.83L94.5 488.05L94.8 487.92L95.1 488.02L95.4 488.07L95.7 488.04L96.0 488.02L96.3 488.08L96.6 488.09L96.9 488.09L97.2 487.69L97.5 487.97L97.8 488.04L98.1 487.72L98.4 487.74L98.7 487.60L99.0 487.52L99.3 487.47L99.6 487.29L99.9 487.09L100.2 486.96L100.5 486.66L100.8 486.68L101.1 485.90L101.4 485.79L101.7 484.99L102.0 484.84L102.3 483.86L102.6 483.80L102.9 483.51L103.2 483.20L103.5 483.34L103.8 483.76L104.1 484.55L104.4 484.47L104.7 485.41L105.0 484.90L105.3 484.29L105.6 483.31L105.9 483.72L106.2 482.55L106.5 482.04L106.8 481.00L107.1 481.20L107.4 480.05L107.7 479.13L108.0 478.42L108.3 478.00L108.6 478.84L108.9 478.02L109.2 477.81L109.5 478.34L109.8 478.23L110.1 476.85L110.4 476.97L110.7 477.04L111.0 476.04L111.3 477.14L111.6 476.00L111.9 476.10L112.2 475.93L112.5 475.36L112.8 476.23L113.1 477.29L113.4 479.95L113.7 482.95L114.0 485.86L114.3 486.08L114.6 486.50L114.9 486.96L115.2 487.25L115.5 487.13L115.8 486.74L116.1 486.68L116.4 484.31L116.7 481.69L117.0 481.21L117.3 480.87L117.6 480.56L117.9 475.59L118.2 470.90L118.5 469.20L118.8 471.74L119.1 475.33L119.4 477.66L119.7 480.71L120.0 481.98L120.3 482.39L120.6 483.31L120.9 482.72L121.2 481.83L121.5 482.05L121.8 481.04L122.1 481.13L122.4 479.84L122.7 480.87L123.0 481.38L123.3 482.78L123.6 482.01L123.9 480.49L124.2 479.60L124.5 480.28L124.8 480.11L125.1 481.20L125.4 482.50L125.7 482.56L126.0 483.79L126.3 484.26L126.6 485.07L126.9 486.12L127.2 486.86L127.5 487.54L127.8 487.99L128.1 488.20L128.4 488.01L128.7 488.08L129.0 487.30L129.3 486.40L129.6 486.43L129.9 486.36L130.2 486.37L130.5 486.35L130.8 487.03L131.1 488.12L131.4 487.91L131.7 487.88L132.0 488.10L132.3 488.15L132.6 487.96L132.9 488.11L133.2 487.73L133.5 488.12L133.8 488.08L134.1 488.07L134.4 487.92L134.7 488.00L135.0 488.06L135.3 488.04L135.6 488.07L135.9 488.15L136.2 488.08L136.5 487.90L136.8 487.99L137.1 488.19L137.4 488.12L137.7 487.99L138.0 488.06L138.3 488.11L138.6 488.05L138.9 487.94L139.2 488.07L139.5 487.75L139.8 487.61L140.1 487.47L140.4 487.62L140.7 487.89L141.0 488.19L141.3 488.03L141.6 487.90L141.9 487.69L142.2 488.19L142.5 488.15L142.8 487.96L143.1 488.19L143.4 488.03L143.7 487.70L144.0 488.18L144.3 487.88L144.6 487.77L144.9 488.07L145.2 488.05L145.5 487.90L145.8 487.85L146.1 487.80L146.4 488.01L146.7 488.12L147.0 487.97L147.3 488.02L147.6 488.07L147.9 488.18L148.2 488.13L148.5 487.94L148.8 488.13L149.1 488.18L149.4 487.91L149.7 487.90L150.0 488.15L150.3 488.12L150.6 487.86L150.9 487.92L151.2 487.92L151.5 487.87L151.8 488.11L152.1 488.19L152.4 488.21L152.7 487.91L153.0 488.16L153.3 487.99L153.6 487.81L153.9 488.12L154.2 488.15L154.5 487.93L154.8 488.07L155.1 488.03L155.4 488.09L155.7 488.05L156.0 487.95L156.3 488.01L156.6 488.01L156.9 488.15L157.2 488.21L157.5 488.01L157.8 487.56L158.1 487.52L158.4 487.66L158.7 488.09L159.0 488.14L159.3 487.88L159.6 488.08L159.9 488.06L160.2 487.89L160.5 488.15L160.8 488.13L161.1 488.17L161.4 488.05L161.7 488.15L162.0 487.79L162.3 488.12L162.6 488.13L162.9 487.82L163.2 488.05L163.5 488.01L163.8 488.03L164.1 488.17L164.4 488.01L164.7 488.18L165.0 487.96L165.3 488.13L165.6 488.04L165.9 488.03L166.2 488.13L166.5 487.92L166.8 488.13L167.1 488.12L167.4 488.12L167.7 487.85L168.0 488.10L168.3 487.98L168.4 488.5Z" fill="#4a70a8" />
<line x1="69.30" y1="488.30" x2="168.40" y2="488.30" stroke="#4a70a8" stroke-width="0.5" stroke-dasharray="1.5 0.8"/>
<path d="M69.3 513.3L69.3 512.73L69.6 512.69L69.9 512.09L70.2 512.70L70.5 512.58L70.8 513.01L71.1 512.93L71.4 512.63L71.7 512.58L72.0 512.84L72.3 512.64L72.6 512.64L72.9 512.19L73.2 512.68L73.5 512.73L73.8 512.94L74.1 513.07L74.4 512.85L74.7 513.05L75.0 512.83L75.3 512.96L75.6 513.04L75.9 512.62L76.2 513.06L76.5 512.99L76.8 512.96L77.1 512.87L77.4 512.80L77.7 512.90L78.0 513.08L78.3 512.84L78.6 512.99L78.9 512.75L79.2 512.60L79.5 512.91L79.8 512.75L80.1 512.50L80.4 512.94L80.7 512.06L81.0 513.08L81.3 513.05L81.6 512.99L81.9 512.83L82.2 512.90L82.5 512.97L82.8 512.12L83.1 513.05L83.4 512.54L83.7 513.02L84.0 512.28L84.3 512.77L84.6 512.54L84.9 512.96L85.2 512.37L85.5 512.58L85.8 512.87L86.1 512.85L86.4 512.09L86.7 512.36L87.0 512.22L87.3 512.56L87.6 513.10L87.9 513.00L88.2 513.00L88.5 512.90L88.8 512.20L89.1 512.40L89.4 512.67L89.7 512.55L90.0 512.69L90.3 512.79L90.6 512.95L90.9 512.96L91.2 512.63L91.5 512.87L91.8 512.43L92.1 512.97L92.4 511.81L92.7 512.41L93.0 512.71L93.3 512.59L93.6 512.96L93.9 512.81L94.2 512.77L94.5 512.63L94.8 512.03L95.1 512.65L95.4 512.11L95.7 512.61L96.0 512.04L96.3 512.51L96.6 512.92L96.9 512.39L97.2 512.65L97.5 512.90L97.8 512.77L98.1 512.56L98.4 512.61L98.7 512.48L99.0 512.50L99.3 512.51L99.6 512.85L99.9 512.88L100.2 512.65L100.5 512.51L100.8 511.83L101.1 512.38L101.4 512.89L101.7 512.44L102.0 512.66L102.3 512.44L102.6 512.71L102.9 511.94L103.2 512.18L103.5 511.38L103.8 510.89L104.1 510.63L104.4 511.69L104.7 511.82L105.0 511.57L105.3 512.11L105.6 511.97L105.9 512.14L106.2 512.31L106.5 512.34L106.8 512.58L107.1 511.84L107.4 511.52L107.7 512.12L108.0 512.39L108.3 512.23L108.6 510.57L108.9 511.00L109.2 510.23L109.5 510.78L109.8 508.74L110.1 509.90L110.4 509.05L110.7 508.95L111.0 510.76L111.3 510.19L111.6 509.63L111.9 510.01L112.2 510.09L112.5 509.41L112.8 509.32L113.1 510.36L113.4 510.25L113.7 509.99L114.0 510.45L114.3 510.70L114.6 511.61L114.9 511.30L115.2 512.42L115.5 512.44L115.8 512.03L116.1 511.80L116.4 511.54L116.7 510.60L117.0 510.48L117.3 510.74L117.6 509.89L117.9 511.16L118.2 510.68L118.5 510.41L118.8 510.93L119.1 511.65L119.4 511.79L119.7 510.99L120.0 512.00L120.3 511.65L120.6 511.43L120.9 511.53L121.2 512.15L121.5 512.16L121.8 511.47L122.1 511.71L122.4 511.57L122.7 511.51L123.0 511.54L123.3 512.10L123.6 512.25L123.9 511.50L124.2 512.12L124.5 512.44L124.8 512.53L125.1 512.34L125.4 512.60L125.7 512.19L126.0 512.65L126.3 512.56L126.6 512.59L126.9 512.69L127.2 512.65L127.5 512.01L127.8 512.29L128.1 512.96L128.4 512.39L128.7 512.57L129.0 512.64L129.3 512.54L129.6 512.47L129.9 511.95L130.2 512.86L130.5 512.73L130.8 512.34L131.1 512.73L131.4 511.89L131.7 512.84L132.0 512.88L132.3 512.96L132.6 512.54L132.9 512.74L133.2 511.77L133.5 512.02L133.8 512.53L134.1 512.11L134.4 511.54L134.7 511.94L135.0 512.22L135.3 512.29L135.6 511.33L135.9 511.63L136.2 512.35L136.5 512.96L136.8 512.90L137.1 512.64L137.4 512.26L137.7 511.80L138.0 512.08L138.3 511.81L138.6 511.41L138.9 512.36L139.2 511.01L139.5 511.73L139.8 511.60L140.1 511.83L140.4 512.20L140.7 512.02L141.0 512.83L141.3 512.25L141.6 512.92L141.9 512.22L142.2 513.04L142.5 512.94L142.8 512.46L143.1 512.44L143.4 512.97L143.7 512.90L144.0 512.75L144.3 512.55L144.6 512.79L144.9 512.75L145.2 512.72L145.5 512.90L145.8 512.94L146.1 512.88L146.4 512.88L146.7 511.69L147.0 512.58L147.3 512.87L147.6 513.00L147.9 512.56L148.2 512.62L148.5 512.83L148.8 512.65L149.1 512.86L149.4 512.39L149.7 511.92L150.0 512.87L150.3 513.02L150.6 512.23L150.9 511.41L151.2 512.56L151.5 512.79L151.8 512.83L152.1 512.93L152.4 512.86L152.7 512.42L153.0 512.70L153.3 512.34L153.6 512.89L153.9 512.90L154.2 512.79L154.5 512.70L154.8 512.61L155.1 512.87L155.4 512.40L155.7 512.99L156.0 512.67L156.3 512.95L156.6 512.88L156.9 512.99L157.2 512.94L157.5 513.01L157.8 512.31L158.1 512.81L158.4 512.90L158.7 512.77L159.0 513.04L159.3 512.82L159.6 512.53L159.9 513.04L160.2 513.06L160.5 512.84L160.8 512.66L161.1 513.11L161.4 512.66L161.7 513.04L162.0 512.95L162.3 512.82L162.6 511.70L162.9 513.07L163.2 513.08L163.5 512.52L163.8 512.71L164.1 512.71L164.4 512.66L164.7 512.71L165.0 512.83L165.3 513.06L165.6 512.91L165.9 513.00L166.2 513.04L166.5 512.97L166.8 513.07L167.1 512.20L167.4 512.66L167.7 512.84L168.0 512.11L168.3 512.48L168.4 513.3Z" fill="#b83a1e" />
<line x1="69.30" y1="513.10" x2="168.40" y2="513.10" stroke="#b83a1e" stroke-width="0.5" stroke-dasharray="2.5 1.2"/>
<text x="41.80" y="485.50" font-size="7.3">+sgNT</text>
<text x="38.00" y="508.50" font-size="7.3">+sg<tspan font-style="italic">ZIC2</tspan></text>
<line x1="35.50" y1="467.00" x2="35.50" y2="512.00" stroke="#222" stroke-width="0.7" />
<text x="25.30" y="489.70" font-size="7.3" text-anchor="middle" font-weight="bold" transform="rotate(-90 25.30 489.70)">H3K27me3 ChIP</text>
<text x="32.00" y="489.70" font-size="7.3" text-anchor="middle" font-weight="bold" transform="rotate(-90 32.00 489.70)"><tspan font-style="italic">ZIC3<tspan font-size="4" dy="-2.5">-/-</tspan><tspan dy="2.5">&#8203;</tspan>ZIC5<tspan font-size="4" dy="-2.5">-/-</tspan><tspan dy="2.5">&#8203;</tspan></tspan></text>
<line x1="92.50" y1="523.40" x2="116.80" y2="523.40" stroke="#111" stroke-width="0.8" />
<path d="M90.8 523.4 L94 521.5 L94 525.3 Z" fill="#111" />
<line x1="98.40" y1="521.50" x2="98.40" y2="525.30" stroke="#111" stroke-width="0.5" />
<line x1="102.60" y1="521.50" x2="102.60" y2="525.30" stroke="#111" stroke-width="0.5" />
<line x1="107.60" y1="521.50" x2="107.60" y2="525.30" stroke="#111" stroke-width="0.7" />
<line x1="109.80" y1="521.50" x2="109.80" y2="525.30" stroke="#111" stroke-width="0.8" />
<line x1="111.70" y1="521.50" x2="111.70" y2="525.30" stroke="#111" stroke-width="0.9" />
<line x1="113.70" y1="521.50" x2="113.70" y2="525.30" stroke="#111" stroke-width="0.9" />
<line x1="115.50" y1="521.50" x2="115.50" y2="525.30" stroke="#111" stroke-width="1.0" />
<path d="M116.7 520.3 V517.5 H112.8" fill="none" stroke="#111" stroke-width="0.6" />
<path d="M110.9 517.5 L113.4 516.3 L113.4 518.7 Z" fill="#111" />
<text x="115.60" y="534.50" font-size="7.3" text-anchor="middle" font-style="italic">TBXT</text>
<text x="196.50" y="428.20" font-size="9" font-weight="bold">i</text>
<text x="291.00" y="428.60" font-size="7.3" text-anchor="middle" font-weight="bold">Primed-specific gene (geneset 2)</text>
<text x="215.50" y="448.00" font-size="7.3">chr17</text>
<text x="262.70" y="445.20" font-size="7.3" text-anchor="middle">39,670kb</text>
<line x1="262.70" y1="447.20" x2="262.70" y2="449.50" stroke="#333" stroke-width="0.5" />
<text x="312.30" y="445.20" font-size="7.3" text-anchor="middle">39,700kb</text>
<line x1="312.30" y1="447.20" x2="312.30" y2="449.50" stroke="#333" stroke-width="0.5" />
<text x="362.30" y="445.20" font-size="7.3" text-anchor="middle">39,730kb</text>
<line x1="362.30" y1="447.20" x2="362.30" y2="449.50" stroke="#333" stroke-width="0.5" />
<line x1="262.70" y1="449.50" x2="362.30" y2="449.50" stroke="#333" stroke-width="0.5" />
<rect x="261.60" y="452.20" width="101.20" height="23.40" fill="#f8f8f8" />
<rect x="261.60" y="476.60" width="101.20" height="23.40" fill="#f8f8f8" />
<rect x="261.60" y="500.60" width="101.20" height="23.40" fill="#f8f8f8" />
<rect x="290.40" y="452.20" width="6.40" height="71.80" fill="#dcd9cc" />
<text x="262.90" y="459.50" font-size="7.3" fill="#222">[0-250]</text>
<text x="262.90" y="483.00" font-size="7.3" fill="#222">[0-250]</text>
<text x="262.90" y="506.20" font-size="7.3" fill="#222">[0-150]</text>
<path d="M261.6 475.5L261.6 474.99L262.0 474.86L262.3 474.72L262.7 474.88L263.0 474.98L263.4 474.79L263.7 474.93L264.1 474.87L264.4 474.74L264.8 474.52L265.1 474.84L265.5 474.43L265.8 473.97L266.2 473.87L266.5 474.56L266.9 474.98L267.2 474.45L267.6 474.76L267.9 474.67L268.3 474.79L268.6 474.69L269.0 474.97L269.3 474.72L269.7 474.12L270.0 473.83L270.4 474.21L270.7 474.29L271.1 474.13L271.4 474.88L271.8 474.59L272.1 474.99L272.5 474.74L272.8 474.91L273.2 474.94L273.5 474.83L273.9 474.85L274.2 474.91L274.6 474.98L274.9 474.53L275.3 474.57L275.6 474.49L276.0 474.89L276.3 474.60L276.7 474.62L277.0 474.85L277.4 474.94L277.7 474.81L278.1 474.96L278.4 474.84L278.8 474.81L279.1 474.76L279.5 474.91L279.8 474.43L280.2 474.80L280.5 474.55L280.9 474.27L281.2 473.57L281.6 474.28L281.9 474.90L282.3 474.95L282.6 474.57L283.0 474.38L283.3 474.99L283.7 474.80L284.0 474.94L284.4 474.92L284.7 474.70L285.1 474.98L285.4 474.87L285.8 474.52L286.1 474.85L286.5 474.41L286.8 474.77L287.2 474.62L287.5 474.85L287.9 474.66L288.2 474.92L288.6 473.35L288.9 473.67L289.3 474.89L289.6 474.40L290.0 474.91L290.3 474.55L290.7 474.79L291.0 473.42L291.4 474.41L291.7 470.63L292.1 465.43L292.4 468.96L292.8 473.72L293.1 474.53L293.5 474.67L293.8 474.92L294.2 474.99L294.5 474.73L294.9 474.69L295.2 474.12L295.6 474.64L295.9 474.68L296.3 474.81L296.6 474.92L297.0 474.80L297.3 474.88L297.7 474.92L298.0 474.68L298.4 474.97L298.7 474.43L299.1 474.75L299.4 474.84L299.8 474.73L300.1 474.87L300.5 474.87L300.8 474.80L301.2 474.68L301.5 474.74L301.9 474.99L302.2 474.68L302.6 474.66L302.9 474.68L303.3 474.60L303.6 474.82L304.0 474.63L304.3 474.35L304.7 474.86L305.0 474.91L305.4 474.60L305.7 474.96L306.1 474.72L306.4 474.85L306.8 474.92L307.1 474.76L307.5 474.83L307.8 474.90L308.2 474.91L308.5 474.81L308.9 474.60L309.2 474.94L309.6 474.99L309.9 474.83L310.3 474.48L310.6 474.70L311.0 474.80L311.3 474.58L311.7 472.07L312.0 470.14L312.4 470.73L312.7 473.40L313.1 473.69L313.4 473.71L313.8 473.50L314.1 473.52L314.5 473.56L314.8 474.07L315.2 474.48L315.5 474.82L315.9 474.93L316.2 474.85L316.6 474.61L316.9 473.90L317.3 474.88L317.6 474.64L318.0 474.80L318.3 474.99L318.7 474.79L319.0 474.97L319.4 474.83L319.7 474.83L320.1 474.94L320.4 474.27L320.8 474.78L321.1 474.61L321.5 474.89L321.8 474.13L322.2 474.65L322.5 474.86L322.9 474.54L323.2 474.65L323.6 474.67L323.9 474.94L324.3 474.62L324.6 474.64L325.0 474.71L325.3 474.99L325.7 474.70L326.0 474.86L326.4 473.86L326.7 474.24L327.1 474.91L327.4 474.68L327.8 474.55L328.1 474.53L328.5 474.93L328.8 474.53L329.2 474.99L329.5 474.58L329.9 474.60L330.2 474.67L330.6 474.74L330.9 474.61L331.3 473.86L331.6 474.98L332.0 474.41L332.3 474.67L332.7 474.74L333.0 474.51L333.4 474.60L333.7 474.87L334.1 474.61L334.4 474.93L334.8 474.90L335.1 474.61L335.5 474.89L335.8 474.53L336.2 474.77L336.5 474.38L336.9 474.44L337.2 474.40L337.6 474.66L337.9 472.91L338.3 474.13L338.6 474.47L339.0 474.51L339.3 474.91L339.7 474.30L340.0 474.50L340.4 474.92L340.7 474.81L341.1 474.51L341.4 474.97L341.8 474.95L342.1 474.92L342.5 474.50L342.8 474.86L343.2 474.78L343.5 474.93L343.9 474.99L344.2 474.86L344.6 474.92L344.9 474.82L345.3 474.98L345.6 474.59L346.0 474.82L346.3 474.79L346.7 474.82L347.0 474.89L347.4 474.81L347.7 474.75L348.1 474.96L348.4 474.90L348.8 474.93L349.1 474.99L349.5 474.93L349.8 474.98L350.2 474.92L350.5 474.37L350.9 472.19L351.2 464.81L351.6 463.81L351.9 470.18L352.3 473.89L352.6 474.71L353.0 474.50L353.3 474.78L353.7 474.74L354.0 474.65L354.4 474.35L354.7 473.79L355.1 473.47L355.4 474.03L355.8 474.75L356.1 474.68L356.5 474.64L356.8 474.51L357.2 474.12L357.5 474.78L357.9 474.57L358.2 474.75L358.6 474.93L358.9 474.81L359.3 474.78L359.6 474.06L360.0 474.95L360.3 474.87L360.7 474.93L361.0 474.73L361.4 474.78L361.7 474.62L362.1 472.53L362.4 470.49L362.8 472.84L362.8 475.5Z" fill="#3d2ea6" />
<path d="M261.6 499.0L261.6 498.10L262.0 498.09L262.3 497.80L262.7 498.03L263.0 497.78L263.4 497.58L263.7 497.84L264.1 498.05L264.4 497.74L264.8 498.07L265.1 497.94L265.5 497.94L265.8 496.52L266.2 494.71L266.5 494.08L266.9 496.77L267.2 497.23L267.6 497.88L267.9 498.19L268.3 498.03L268.6 498.06L269.0 497.63L269.3 496.91L269.7 496.71L270.0 495.59L270.4 496.96L270.7 497.44L271.1 497.94L271.4 497.85L271.8 497.99L272.1 498.06L272.5 497.89L272.8 497.69L273.2 498.20L273.5 498.00L273.9 498.09L274.2 497.67L274.6 497.05L274.9 496.17L275.3 496.74L275.6 497.79L276.0 497.72L276.3 497.98L276.7 496.64L277.0 497.73L277.4 497.49L277.7 498.04L278.1 497.76L278.4 497.83L278.8 498.11L279.1 497.48L279.5 498.12L279.8 497.90L280.2 498.06L280.5 498.01L280.9 496.96L281.2 497.95L281.6 497.21L281.9 496.80L282.3 496.63L282.6 497.67L283.0 497.79L283.3 497.75L283.7 497.36L284.0 496.77L284.4 497.21L284.7 497.87L285.1 498.08L285.4 497.91L285.8 497.97L286.1 498.15L286.5 497.99L286.8 498.15L287.2 498.18L287.5 498.15L287.9 497.56L288.2 497.21L288.6 497.58L288.9 497.67L289.3 497.93L289.6 498.12L290.0 497.65L290.3 498.07L290.7 497.90L291.0 497.06L291.4 496.52L291.7 490.20L292.1 481.35L292.4 486.67L292.8 494.16L293.1 494.54L293.5 492.76L293.8 486.57L294.2 488.12L294.5 494.07L294.9 494.16L295.2 495.59L295.6 496.01L295.9 495.97L296.3 497.22L296.6 496.81L297.0 497.38L297.3 497.23L297.7 498.00L298.0 497.93L298.4 497.14L298.7 496.86L299.1 495.91L299.4 496.26L299.8 497.59L300.1 497.33L300.5 497.82L300.8 498.17L301.2 497.32L301.5 498.01L301.9 497.87L302.2 496.58L302.6 497.95L302.9 498.15L303.3 498.06L303.6 497.68L304.0 497.44L304.3 497.51L304.7 498.03L305.0 497.97L305.4 496.95L305.7 497.07L306.1 491.38L306.4 485.78L306.8 491.35L307.1 496.51L307.5 497.85L307.8 497.83L308.2 497.60L308.5 497.38L308.9 497.63L309.2 497.85L309.6 497.86L309.9 496.43L310.3 498.17L310.6 497.53L311.0 497.50L311.3 497.97L311.7 496.97L312.0 494.64L312.4 490.89L312.7 490.56L313.1 493.49L313.4 495.02L313.8 495.14L314.1 494.72L314.5 495.57L314.8 496.02L315.2 495.89L315.5 497.36L315.9 496.77L316.2 497.61L316.6 497.77L316.9 497.80L317.3 496.77L317.6 497.71L318.0 497.93L318.3 498.03L318.7 497.28L319.0 497.95L319.4 497.59L319.7 497.70L320.1 498.18L320.4 497.16L320.8 498.14L321.1 497.70L321.5 496.93L321.8 497.84L322.2 497.75L322.5 497.60L322.9 498.07L323.2 497.80L323.6 497.75L323.9 497.68L324.3 497.22L324.6 498.00L325.0 497.66L325.3 497.74L325.7 497.51L326.0 497.62L326.4 498.19L326.7 497.76L327.1 497.76L327.4 497.88L327.8 497.70L328.1 498.01L328.5 497.80L328.8 497.92L329.2 497.64L329.5 497.68L329.9 495.56L330.2 496.19L330.6 497.49L330.9 497.58L331.3 498.07L331.6 497.07L332.0 497.94L332.3 497.88L332.7 497.87L333.0 498.00L333.4 498.03L333.7 498.12L334.1 497.41L334.4 497.62L334.8 497.52L335.1 497.78L335.5 497.64L335.8 497.51L336.2 496.89L336.5 498.05L336.9 496.78L337.2 496.79L337.6 497.99L337.9 497.45L338.3 497.71L338.6 497.38L339.0 497.76L339.3 498.15L339.7 497.39L340.0 498.12L340.4 497.85L340.7 497.09L341.1 496.70L341.4 497.44L341.8 497.82L342.1 497.93L342.5 497.89L342.8 497.53L343.2 497.64L343.5 497.98L343.9 498.00L344.2 498.10L344.6 497.75L344.9 497.64L345.3 497.98L345.6 498.07L346.0 497.80L346.3 497.79L346.7 497.93L347.0 497.97L347.4 497.82L347.7 497.93L348.1 497.82L348.4 496.96L348.8 497.32L349.1 497.51L349.5 497.97L349.8 497.39L350.2 497.62L350.5 498.04L350.9 495.31L351.2 491.40L351.6 490.64L351.9 495.79L352.3 497.29L352.6 496.63L353.0 497.31L353.3 497.96L353.7 497.81L354.0 497.60L354.4 497.98L354.7 497.75L355.1 497.84L355.4 497.38L355.8 497.67L356.1 497.98L356.5 497.53L356.8 497.16L357.2 497.70L357.5 497.54L357.9 497.70L358.2 497.84L358.6 498.10L358.9 497.64L359.3 497.28L359.6 496.99L360.0 497.32L360.3 497.45L360.7 497.90L361.0 498.11L361.4 498.03L361.7 497.67L362.1 495.03L362.4 491.11L362.8 494.89L362.8 499.0Z" fill="#a31420" />
<path d="M261.6 523.4L261.6 521.52L262.0 520.92L262.3 520.36L262.7 519.77L263.0 519.28L263.4 520.13L263.7 520.08L264.1 521.90L264.4 520.70L264.8 519.04L265.1 520.50L265.5 520.21L265.8 520.35L266.2 521.94L266.5 520.56L266.9 521.36L267.2 521.16L267.6 521.35L267.9 521.76L268.3 520.99L268.6 520.90L269.0 521.30L269.3 521.36L269.7 519.47L270.0 519.53L270.4 519.85L270.7 521.26L271.1 521.41L271.4 521.14L271.8 521.60L272.1 520.81L272.5 520.02L272.8 521.96L273.2 520.87L273.5 519.08L273.9 519.26L274.2 519.18L274.6 520.73L274.9 521.05L275.3 519.88L275.6 520.42L276.0 520.35L276.3 521.65L276.7 520.83L277.0 519.90L277.4 521.82L277.7 518.62L278.1 520.49L278.4 521.34L278.8 519.25L279.1 520.44L279.5 521.70L279.8 521.31L280.2 520.89L280.5 521.20L280.9 519.95L281.2 520.73L281.6 521.48L281.9 519.78L282.3 521.61L282.6 520.11L283.0 519.17L283.3 521.66L283.7 520.34L284.0 520.78L284.4 519.83L284.7 520.42L285.1 520.21L285.4 521.32L285.8 521.33L286.1 521.86L286.5 520.49L286.8 521.96L287.2 520.14L287.5 520.96L287.9 521.80L288.2 521.09L288.6 521.87L288.9 520.63L289.3 519.22L289.6 520.05L290.0 521.17L290.3 521.50L290.7 520.12L291.0 520.98L291.4 519.36L291.7 518.17L292.1 517.46L292.4 518.29L292.8 520.23L293.1 521.41L293.5 517.83L293.8 513.00L294.2 511.26L294.5 516.24L294.9 520.14L295.2 521.69L295.6 520.94L295.9 519.94L296.3 519.82L296.6 520.38L297.0 521.59L297.3 521.85L297.7 521.20L298.0 520.43L298.4 520.92L298.7 521.76L299.1 520.24L299.4 521.55L299.8 521.83L300.1 520.30L300.5 521.88L300.8 520.04L301.2 521.03L301.5 520.55L301.9 520.24L302.2 521.45L302.6 521.59L302.9 520.11L303.3 521.32L303.6 520.42L304.0 520.53L304.3 520.99L304.7 521.25L305.0 520.74L305.4 520.81L305.7 518.81L306.1 518.94L306.4 518.50L306.8 520.06L307.1 521.62L307.5 520.48L307.8 519.36L308.2 521.10L308.5 520.88L308.9 521.36L309.2 521.42L309.6 520.16L309.9 519.99L310.3 519.23L310.6 519.26L311.0 521.78L311.3 521.08L311.7 520.81L312.0 520.35L312.4 518.48L312.7 516.69L313.1 516.78L313.4 519.37L313.8 520.85L314.1 521.37L314.5 520.86L314.8 520.50L315.2 521.90L315.5 518.91L315.9 520.40L316.2 520.40L316.6 518.57L316.9 521.31L317.3 521.13L317.6 520.38L318.0 521.43L318.3 520.58L318.7 521.41L319.0 521.50L319.4 518.75L319.7 519.49L320.1 518.58L320.4 519.27L320.8 521.17L321.1 518.56L321.5 521.96L321.8 521.31L322.2 521.02L322.5 520.09L322.9 519.76L323.2 521.81L323.6 520.94L323.9 520.61L324.3 520.95L324.6 519.17L325.0 520.72L325.3 520.40L325.7 519.79L326.0 521.55L326.4 520.11L326.7 521.47L327.1 521.62L327.4 520.88L327.8 521.78L328.1 521.40L328.5 520.40L328.8 519.00L329.2 521.72L329.5 520.76L329.9 521.79L330.2 521.76L330.6 521.37L330.9 520.43L331.3 521.97L331.6 520.68L332.0 521.58L332.3 521.68L332.7 521.64L333.0 521.54L333.4 521.51L333.7 520.91L334.1 521.69L334.4 521.46L334.8 520.18L335.1 521.53L335.5 520.38L335.8 520.77L336.2 521.36L336.5 519.91L336.9 520.84L337.2 521.83L337.6 521.21L337.9 520.98L338.3 521.21L338.6 521.71L339.0 518.65L339.3 521.92L339.7 520.40L340.0 521.78L340.4 518.45L340.7 521.33L341.1 518.97L341.4 521.46L341.8 521.15L342.1 521.95L342.5 521.19L342.8 520.75L343.2 521.75L343.5 521.01L343.9 521.14L344.2 520.86L344.6 521.65L344.9 521.15L345.3 520.79L345.6 521.91L346.0 521.49L346.3 520.88L346.7 521.98L347.0 520.35L347.4 521.67L347.7 521.68L348.1 521.83L348.4 521.42L348.8 521.03L349.1 521.37L349.5 518.47L349.8 520.72L350.2 520.86L350.5 521.59L350.9 520.58L351.2 519.66L351.6 520.25L351.9 518.80L352.3 516.85L352.6 520.57L353.0 521.23L353.3 521.84L353.7 521.15L354.0 517.84L354.4 519.30L354.7 521.53L355.1 521.41L355.4 521.28L355.8 521.24L356.1 521.95L356.5 521.98L356.8 521.96L357.2 519.68L357.5 519.56L357.9 521.16L358.2 521.43L358.6 519.66L358.9 521.65L359.3 521.26L359.6 521.87L360.0 519.58L360.3 520.36L360.7 519.35L361.0 519.86L361.4 521.14L361.7 519.96L362.1 517.97L362.4 516.11L362.8 519.31L362.8 523.4Z" fill="#1f6f2e" />
<text x="257.10" y="469.50" font-size="7.3" text-anchor="end">Naïve hESC</text>
<text x="257.10" y="493.90" font-size="7.3" text-anchor="end">Primed hESC</text>
<text x="257.10" y="518.80" font-size="7.3" text-anchor="end">ZIC2 ChIP</text>
<text x="202.30" y="476.20" font-size="7.3" text-anchor="middle" font-weight="bold" transform="rotate(-90 202.30 476.20)">ATAC signal</text>
<line x1="204.60" y1="455.00" x2="204.60" y2="497.50" stroke="#111" stroke-width="0.7" />
<line x1="292.20" y1="533.20" x2="359.70" y2="533.20" stroke="#333" stroke-width="0.8" />
<rect x="292.00" y="531.60" width="1.20" height="3.20" fill="#111" />
<rect x="327.80" y="531.30" width="2.70" height="3.80" fill="#111" rx="0.8"/>
<rect x="337.00" y="531.30" width="3.00" height="3.80" fill="#111" rx="0.8"/>
<rect x="350.90" y="531.30" width="1.90" height="3.80" fill="#111" rx="0.8"/>
<rect x="353.30" y="531.30" width="1.50" height="3.80" fill="#111" rx="0.8"/>
<rect x="355.30" y="531.30" width="4.40" height="3.80" fill="#111" rx="0.8"/>
<line x1="304.20" y1="531.30" x2="304.20" y2="535.10" stroke="#111" stroke-width="0.4" />
<line x1="324.30" y1="531.30" x2="324.30" y2="535.10" stroke="#111" stroke-width="0.6" />
<line x1="326.10" y1="531.30" x2="326.10" y2="535.10" stroke="#111" stroke-width="0.6" />
<line x1="332.70" y1="531.30" x2="332.70" y2="535.10" stroke="#111" stroke-width="0.6" />
<line x1="341.40" y1="531.30" x2="341.40" y2="535.10" stroke="#111" stroke-width="0.7" />
<line x1="345.80" y1="531.30" x2="345.80" y2="535.10" stroke="#111" stroke-width="0.6" />
<path d="M292.6 531.6 V527.5 H296.3" fill="none" stroke="#111" stroke-width="0.6" />
<path d="M298.5 527.5 L296 526.2 L296 528.8 Z" fill="#111" />
<text x="294.00" y="543.20" font-size="7.3" text-anchor="middle" font-style="italic">ERBB2</text>
<text x="390.50" y="428.20" font-size="9" font-weight="bold">j</text>
<text x="442.00" y="427.10" font-size="6.6" text-anchor="middle">Cell-essential</text>
<text x="442.70" y="434.60" font-size="6.6" text-anchor="middle">Up in <tspan font-style="italic">ZIC2<tspan font-size="4" dy="-2.5">-/-</tspan><tspan dy="2.5">&#8203;</tspan>ZIC3<tspan font-size="4" dy="-2.5">-/-</tspan><tspan dy="2.5">&#8203;</tspan></tspan></text>
<text x="511.00" y="427.10" font-size="6.6" text-anchor="middle">Growth-restrictng</text>
<text x="511.20" y="434.60" font-size="6.6" text-anchor="middle">Up in <tspan font-style="italic">ZIC2<tspan font-size="4" dy="-2.5">-/-</tspan><tspan dy="2.5">&#8203;</tspan>ZIC3<tspan font-size="4" dy="-2.5">-/-</tspan><tspan dy="2.5">&#8203;</tspan></tspan></text>
<text x="438.80" y="536.50" font-size="6.6" text-anchor="middle">Cell-essential</text>
<text x="439.10" y="543.70" font-size="6.6" text-anchor="middle">Down in <tspan font-style="italic">ZIC2<tspan font-size="4" dy="-2.5">-/-</tspan><tspan dy="2.5">&#8203;</tspan>ZIC3<tspan font-size="4" dy="-2.5">-/-</tspan><tspan dy="2.5">&#8203;</tspan></tspan></text>
<text x="511.60" y="536.50" font-size="6.6" text-anchor="middle">Growth-restrictng</text>
<text x="511.50" y="543.70" font-size="6.6" text-anchor="middle">Down in <tspan font-style="italic">ZIC2<tspan font-size="4" dy="-2.5">-/-</tspan><tspan dy="2.5">&#8203;</tspan>ZIC3<tspan font-size="4" dy="-2.5">-/-</tspan><tspan dy="2.5">&#8203;</tspan></tspan></text>
<text x="417.60" y="484.50" font-size="7.3" text-anchor="middle" font-weight="bold" transform="rotate(-90 417.60 484.50)">Expression log<tspan font-size="3.8" dy="1.3">2</tspan><tspan dy="-1.3">&#8203;</tspan>FC</text>
<text x="424.20" y="484.50" font-size="7.3" text-anchor="middle" font-weight="bold" transform="rotate(-90 424.20 484.50)"><tspan font-style="italic">ZIC2<tspan font-size="4" dy="-2.5">-/-</tspan><tspan dy="2.5">&#8203;</tspan>ZIC3<tspan font-size="4" dy="-2.5">-/-</tspan><tspan dy="2.5">&#8203;</tspan></tspan> vs WT</text>
<path d="M459.3 478.5h.01M463.5 488.9h.01M450.6 484.7h.01M458.1 483.3h.01M460.9 480.6h.01M463.3 485.4h.01M462.9 481.6h.01M452.8 485.3h.01M454.1 486.5h.01M457.4 485.5h.01M462.1 482.1h.01M463.3 485.4h.01M455.1 488.4h.01M457.6 481.2h.01M458.9 476.8h.01M462.1 481.8h.01M462.8 483.3h.01M459.6 487.2h.01M461.4 486.0h.01M466.5 485.7h.01M463.7 483.5h.01M465.5 480.5h.01M458.6 482.2h.01M463.7 492.8h.01M457.0 485.0h.01M456.8 486.1h.01M447.8 483.4h.01M452.0 480.0h.01M459.3 480.3h.01M462.4 482.9h.01M461.3 481.3h.01M463.3 484.3h.01M456.6 486.6h.01M460.9 477.4h.01M465.3 487.5h.01M459.1 483.6h.01M459.2 484.2h.01M458.6 484.9h.01M455.2 478.4h.01M460.0 481.8h.01M458.4 485.9h.01M448.3 483.9h.01M464.3 484.3h.01M463.3 487.9h.01M453.6 488.4h.01M465.4 486.8h.01M459.0 482.0h.01M451.5 481.4h.01M459.9 485.6h.01M455.7 482.8h.01M463.5 483.0h.01M458.5 478.1h.01M458.5 480.9h.01M455.6 487.1h.01M452.3 481.4h.01M456.7 482.2h.01M454.4 488.4h.01M458.3 484.6h.01M464.7 489.0h.01M458.9 486.4h.01M462.0 483.5h.01M459.3 487.1h.01M464.8 483.6h.01M456.0 481.8h.01M459.4 484.4h.01M462.2 489.5h.01M453.3 482.8h.01M460.9 483.8h.01M455.9 483.1h.01M464.7 487.7h.01M456.3 484.6h.01M461.0 486.3h.01M460.5 485.4h.01M454.3 486.3h.01M461.0 486.3h.01M453.0 484.8h.01M460.5 486.6h.01M462.0 475.9h.01M453.8 482.8h.01M452.8 484.8h.01M455.7 478.0h.01M455.9 483.3h.01M454.3 485.0h.01M457.6 486.1h.01M455.7 484.7h.01M457.8 477.9h.01M461.4 487.5h.01M452.1 485.6h.01M462.0 485.1h.01M462.6 488.9h.01M458.2 479.7h.01M459.7 482.1h.01M456.5 480.3h.01M458.6 482.1h.01M463.4 479.0h.01M461.3 481.7h.01M457.6 486.0h.01M465.1 489.9h.01M450.0 484.8h.01M461.2 484.5h.01M463.5 484.4h.01M463.2 484.7h.01M460.3 482.7h.01M462.4 487.3h.01M455.1 486.5h.01M460.3 481.6h.01M455.0 488.1h.01M455.0 485.3h.01M451.2 482.6h.01M462.8 480.8h.01M457.5 481.3h.01M452.5 479.6h.01M463.4 482.9h.01M456.0 485.6h.01M461.9 485.8h.01M454.1 483.8h.01M461.2 485.3h.01M455.4 485.0h.01M463.8 485.1h.01M456.4 477.2h.01M450.6 483.5h.01M463.4 490.4h.01M450.6 481.4h.01M454.2 485.2h.01M456.5 486.4h.01M460.0 482.5h.01M462.9 479.2h.01M453.2 483.3h.01M461.1 485.5h.01M449.4 484.6h.01M454.3 480.3h.01M457.6 486.9h.01M449.7 485.2h.01M458.6 488.1h.01M462.3 482.7h.01M464.8 494.5h.01M461.2 484.3h.01M454.3 481.5h.01M451.4 486.8h.01M456.3 486.3h.01M458.8 484.5h.01M462.4 484.8h.01M466.9 484.2h.01M461.8 482.3h.01M460.0 484.7h.01M451.8 488.7h.01M457.7 484.9h.01M461.5 477.5h.01M445.0 485.4h.01M459.7 483.9h.01M464.9 483.8h.01M458.1 482.3h.01M463.2 484.1h.01M458.7 484.6h.01M463.2 479.0h.01M458.7 483.4h.01M451.4 486.6h.01M463.6 486.9h.01M461.4 487.2h.01M461.5 483.2h.01M454.1 485.5h.01M459.6 483.5h.01M454.3 483.5h.01M454.7 484.0h.01M456.9 483.5h.01M460.9 487.9h.01M460.3 482.9h.01M456.0 482.5h.01M462.4 483.9h.01M458.9 482.2h.01M463.8 484.2h.01M459.3 481.1h.01M457.2 480.4h.01M458.4 479.3h.01M460.4 482.6h.01M463.5 477.2h.01M455.1 488.0h.01M452.8 484.9h.01M464.1 482.3h.01M459.2 482.9h.01M463.8 486.0h.01M461.8 486.2h.01M459.9 486.9h.01M455.1 481.7h.01M460.9 482.7h.01M460.2 483.2h.01M460.9 487.0h.01M458.9 480.6h.01M458.4 490.0h.01M458.1 481.1h.01M457.8 486.7h.01M460.2 481.7h.01M456.7 482.5h.01M457.8 480.0h.01M455.4 485.9h.01M455.3 482.8h.01M458.8 482.8h.01M459.4 481.4h.01M461.8 481.1h.01M459.5 480.9h.01M447.1 482.2h.01M453.4 488.2h.01M463.3 482.6h.01M456.8 487.4h.01M456.6 485.9h.01M451.2 483.2h.01M454.6 480.4h.01M460.0 481.9h.01M452.1 483.8h.01M464.1 483.6h.01M462.0 481.4h.01M446.7 484.5h.01M463.1 485.6h.01M460.8 484.6h.01M464.1 482.0h.01M455.1 487.3h.01M462.2 486.0h.01M457.6 482.8h.01M445.1 480.0h.01M462.7 480.2h.01M461.2 484.8h.01M454.4 485.9h.01M460.0 485.4h.01M455.6 482.7h.01M455.8 479.9h.01M463.0 483.5h.01M458.2 482.9h.01M459.7 484.3h.01M465.1 484.9h.01M454.1 481.8h.01M460.5 478.5h.01M456.3 479.9h.01M462.6 485.5h.01M462.5 486.7h.01M463.3 482.0h.01M463.3 487.5h.01M456.0 482.4h.01M457.5 485.5h.01M464.1 488.7h.01M454.2 481.8h.01M458.6 483.8h.01M455.8 485.3h.01M465.0 484.7h.01M452.4 483.1h.01M462.9 483.0h.01M459.8 492.6h.01M460.5 484.3h.01M460.7 483.0h.01M456.6 487.6h.01M458.8 482.8h.01M462.4 492.0h.01M457.2 484.4h.01M457.7 487.1h.01M457.6 486.4h.01M459.4 480.5h.01M457.3 481.9h.01M461.0 485.3h.01M461.7 489.3h.01M459.4 485.0h.01M455.7 487.1h.01M463.3 480.8h.01M461.7 491.5h.01M459.8 482.0h.01M455.3 482.7h.01M451.8 488.2h.01M458.0 485.5h.01M460.6 482.0h.01M465.6 482.6h.01M459.6 485.2h.01M464.6 478.4h.01M463.3 484.5h.01M448.7 484.2h.01M451.7 484.4h.01M464.9 485.8h.01M459.1 478.8h.01M461.3 485.9h.01M455.6 484.4h.01M458.3 480.5h.01M457.1 480.5h.01M457.3 484.7h.01M461.6 482.5h.01M461.6 488.7h.01M448.0 482.9h.01M454.2 486.2h.01M448.1 484.8h.01M460.4 482.3h.01M453.3 487.0h.01M460.1 480.5h.01M456.8 484.3h.01M463.6 484.0h.01M462.6 486.6h.01M454.1 479.2h.01M462.9 484.9h.01M461.8 481.4h.01M461.6 487.0h.01M459.8 479.5h.01M458.6 488.0h.01M458.9 484.4h.01M455.8 484.7h.01M458.8 480.4h.01M461.6 476.9h.01M465.0 484.0h.01M462.7 486.8h.01M464.1 484.2h.01M459.2 487.4h.01M460.9 486.8h.01M459.6 483.8h.01M459.8 480.8h.01M460.8 486.0h.01M459.5 485.2h.01M460.5 481.5h.01M461.1 487.1h.01M464.3 483.2h.01M462.7 486.6h.01M463.4 484.6h.01M451.3 483.6h.01M460.3 480.2h.01M459.6 482.9h.01M455.0 485.1h.01M462.8 490.3h.01M460.8 480.5h.01M450.8 485.2h.01M454.3 484.7h.01M462.6 485.6h.01M462.6 483.7h.01M453.9 480.7h.01M446.4 487.0h.01M453.1 487.8h.01M463.1 480.4h.01M463.4 482.8h.01M462.4 489.6h.01M462.1 484.1h.01M462.8 485.1h.01M455.9 483.5h.01M461.3 480.4h.01M457.0 480.7h.01M461.8 483.5h.01M452.5 482.7h.01M463.4 478.8h.01M459.3 489.5h.01M459.7 481.8h.01M454.8 485.1h.01M457.0 484.9h.01M460.3 485.1h.01M458.7 481.3h.01M462.3 483.1h.01M463.8 476.9h.01M463.4 485.6h.01M457.3 480.3h.01M460.7 479.3h.01M458.6 483.4h.01M458.0 481.6h.01M459.4 483.0h.01M463.5 480.3h.01M456.5 478.5h.01M459.0 484.8h.01M458.0 484.3h.01M462.0 487.3h.01M459.5 480.5h.01M456.3 489.2h.01M456.0 485.4h.01M461.7 482.5h.01M463.8 483.6h.01M454.4 486.4h.01M461.8 486.6h.01M466.9 485.1h.01M460.6 484.0h.01M460.7 487.0h.01M454.1 483.5h.01M454.1 482.7h.01M452.0 483.0h.01M461.8 477.8h.01M449.8 484.1h.01M461.8 478.8h.01M456.6 485.3h.01M461.9 484.6h.01M456.3 486.0h.01M461.9 480.2h.01M459.5 477.6h.01M460.7 483.6h.01M457.5 484.3h.01M454.2 482.5h.01M445.1 481.1h.01M454.9 482.1h.01M447.3 481.6h.01M458.7 484.9h.01M461.4 479.9h.01M461.8 486.9h.01M451.3 486.5h.01M453.5 482.5h.01M454.1 478.9h.01M460.4 476.9h.01M459.1 480.8h.01M460.8 484.2h.01M464.8 487.2h.01M462.3 482.0h.01M447.3 481.0h.01M463.6 479.2h.01M459.0 487.8h.01M463.4 483.2h.01M460.5 483.2h.01M458.7 483.5h.01M460.8 480.8h.01M460.6 482.5h.01M460.8 484.9h.01M464.8 487.9h.01M457.7 483.8h.01M449.2 486.6h.01M452.4 480.4h.01M458.6 485.6h.01M453.3 481.8h.01M454.5 482.7h.01M459.5 485.0h.01M462.2 485.8h.01M450.2 484.5h.01M459.8 482.1h.01M459.5 484.8h.01M451.6 484.7h.01M451.2 484.7h.01M449.4 485.9h.01M452.1 480.2h.01M458.5 486.5h.01M451.6 482.6h.01M452.7 482.5h.01M462.3 482.9h.01M461.7 484.1h.01M457.8 484.2h.01M451.0 484.0h.01M455.8 486.7h.01M447.0 484.4h.01M459.7 490.5h.01M465.9 485.2h.01M458.9 485.1h.01M454.8 486.8h.01M458.1 483.3h.01M449.4 484.7h.01M462.5 484.3h.01M458.0 477.9h.01M461.8 486.3h.01M461.4 485.1h.01M459.4 480.0h.01M460.7 486.3h.01M456.7 481.2h.01M453.7 483.6h.01M463.7 484.7h.01M459.9 485.0h.01M459.5 487.1h.01M451.7 481.8h.01M457.7 487.7h.01M457.1 486.4h.01M452.9 486.5h.01M464.7 484.3h.01M461.7 488.3h.01M457.3 482.3h.01M456.4 484.5h.01M462.7 481.3h.01M463.5 482.8h.01M460.7 485.5h.01M464.1 479.3h.01M462.9 488.8h.01M464.4 485.9h.01M457.6 485.0h.01M455.6 489.2h.01M455.8 484.1h.01M462.9 483.5h.01M460.7 482.8h.01M462.2 481.0h.01M460.0 480.2h.01M458.8 489.2h.01M462.9 490.1h.01M458.7 488.4h.01M458.7 484.1h.01M461.7 486.4h.01M460.1 490.7h.01M446.6 482.9h.01M443.6 486.2h.01M455.9 482.6h.01M457.6 487.1h.01M463.7 485.0h.01M459.0 485.1h.01M456.4 481.5h.01M462.0 478.4h.01M461.7 481.4h.01M460.2 483.8h.01M463.4 478.7h.01M462.8 481.2h.01M454.5 482.3h.01M462.9 483.1h.01M459.4 481.0h.01M462.7 484.3h.01M462.5 486.3h.01M462.0 481.3h.01M450.6 485.1h.01M448.4 481.6h.01M453.4 484.2h.01M460.2 480.5h.01M465.6 486.1h.01M459.0 488.6h.01M460.7 487.2h.01M461.7 483.5h.01M462.0 485.6h.01M458.2 480.0h.01M446.7 484.4h.01M464.2 481.1h.01M464.6 483.5h.01M454.1 486.0h.01M459.6 475.7h.01M451.8 485.5h.01M459.6 485.7h.01M456.6 484.4h.01M464.6 480.3h.01M456.9 482.1h.01M457.3 481.9h.01M461.0 479.8h.01M462.8 486.6h.01M452.2 484.0h.01M460.7 484.7h.01M459.3 486.8h.01M459.7 481.8h.01M457.1 479.0h.01M464.9 481.6h.01M462.6 485.4h.01M462.1 484.1h.01M460.6 484.5h.01M445.7 486.0h.01M458.3 483.7h.01M462.8 483.1h.01M461.1 479.0h.01M449.9 484.7h.01M458.7 485.4h.01M455.3 485.9h.01M459.2 481.8h.01M458.3 478.6h.01M457.4 478.1h.01M461.5 485.2h.01M453.1 482.5h.01M453.0 480.0h.01M463.3 482.8h.01M463.2 482.0h.01M460.5 485.3h.01M463.1 482.3h.01M462.9 481.4h.01M457.1 481.7h.01M458.7 484.2h.01M460.0 481.0h.01M462.4 485.8h.01M461.1 485.8h.01M455.5 482.0h.01M447.4 484.4h.01M462.7 484.1h.01M459.5 483.8h.01M460.3 484.2h.01M460.9 483.5h.01M460.1 486.4h.01M461.7 481.2h.01M459.1 482.0h.01M450.9 482.6h.01M453.5 486.8h.01M459.2 483.6h.01M464.2 493.1h.01M459.3 484.3h.01M453.6 483.5h.01M457.8 481.8h.01M455.6 483.6h.01M459.4 486.5h.01M462.2 482.8h.01M462.0 491.4h.01M462.5 482.0h.01M463.4 481.1h.01M449.7 481.5h.01M457.1 483.5h.01M460.7 483.8h.01M460.9 486.9h.01M450.7 482.4h.01M449.8 483.4h.01M459.2 484.3h.01M461.5 485.5h.01M464.2 482.0h.01M457.6 488.0h.01M454.7 482.1h.01M456.2 483.1h.01M462.5 483.7h.01M462.1 485.1h.01M465.2 482.7h.01M455.4 482.0h.01M463.5 483.2h.01M453.2 481.5h.01M451.2 480.7h.01M461.0 488.5h.01M453.1 485.8h.01M454.5 485.7h.01M465.5 481.8h.01M459.2 483.3h.01M460.7 483.4h.01M459.5 481.3h.01M458.4 482.9h.01M462.3 486.6h.01M458.7 485.3h.01M459.7 484.4h.01M463.5 484.9h.01M461.1 488.8h.01M452.2 480.5h.01M459.3 483.5h.01M456.8 476.0h.01M460.1 484.2h.01M464.5 484.0h.01M457.6 487.9h.01M443.8 484.9h.01M455.0 486.5h.01M456.6 484.0h.01M461.1 482.3h.01M465.2 485.0h.01M456.4 487.2h.01M462.9 484.1h.01M450.0 487.2h.01M459.4 484.2h.01M455.1 487.7h.01M455.0 486.6h.01M461.7 486.7h.01M461.3 478.6h.01M459.4 483.4h.01M457.9 484.3h.01M459.4 480.7h.01M459.0 483.4h.01M464.1 485.4h.01M463.1 482.0h.01M457.3 485.0h.01M452.7 479.1h.01M462.5 486.6h.01M462.3 481.6h.01M453.4 487.8h.01M460.2 487.8h.01M458.2 481.3h.01M464.0 487.7h.01M457.9 485.2h.01M457.9 485.2h.01M457.9 481.9h.01M462.4 487.4h.01M461.8 485.7h.01M463.7 480.7h.01M458.2 482.5h.01M461.2 482.6h.01M453.3 481.8h.01M454.6 482.0h.01M457.3 476.4h.01M459.6 486.5h.01M455.5 482.3h.01M462.8 477.0h.01M454.0 481.7h.01M446.4 484.0h.01M449.0 485.1h.01M463.8 481.2h.01M462.4 483.4h.01M452.6 481.9h.01M459.1 482.5h.01M467.5 484.7h.01M454.3 481.8h.01M448.5 477.5h.01M461.3 479.4h.01M455.9 484.7h.01M458.3 488.0h.01M464.7 485.9h.01M462.8 481.8h.01M459.8 483.0h.01M461.4 486.1h.01M452.9 483.8h.01M462.7 488.7h.01M460.4 481.8h.01M447.6 485.0h.01M455.4 483.4h.01M461.9 484.3h.01M460.1 479.2h.01M463.4 484.8h.01M462.1 482.5h.01M458.3 484.5h.01M452.6 486.3h.01M456.4 479.3h.01M449.7 487.1h.01M458.5 478.1h.01M459.5 484.1h.01M461.8 488.7h.01M459.5 483.0h.01M450.9 487.8h.01M457.7 487.3h.01M461.9 489.0h.01M461.6 478.1h.01M462.7 482.0h.01M464.1 479.7h.01M456.9 483.7h.01M455.7 491.4h.01M460.3 482.7h.01M464.6 483.4h.01M456.3 486.5h.01M453.6 487.5h.01M460.1 483.3h.01M460.4 480.2h.01M463.3 486.7h.01M461.7 483.7h.01M464.6 483.6h.01M456.9 488.3h.01M458.4 481.2h.01M460.5 486.9h.01M453.7 484.6h.01M463.9 483.6h.01M462.5 486.7h.01M459.2 484.2h.01M462.0 486.5h.01M455.4 483.9h.01M458.2 482.3h.01M457.9 482.4h.01M459.5 482.2h.01M453.7 485.4h.01M459.3 483.2h.01M463.1 475.0h.01M455.2 485.7h.01M457.1 485.9h.01M461.4 480.6h.01M456.6 485.2h.01M459.3 480.7h.01M459.4 485.7h.01M459.1 479.9h.01M464.1 482.9h.01M447.0 484.2h.01M453.1 484.5h.01M456.7 481.7h.01M458.1 485.4h.01M451.3 485.8h.01M457.4 491.4h.01M456.4 491.9h.01M458.2 485.9h.01M456.0 480.4h.01M450.7 483.8h.01M460.0 485.5h.01M457.8 486.5h.01M456.5 483.0h.01M458.8 486.7h.01M456.7 486.7h.01M445.3 484.2h.01M456.7 485.8h.01M460.8 484.6h.01M457.0 489.2h.01M458.6 485.7h.01M451.0 486.0h.01M456.2 488.0h.01M463.1 488.7h.01M460.9 483.0h.01M454.0 484.0h.01M464.7 478.2h.01M457.6 490.5h.01M461.3 485.5h.01M453.0 485.5h.01M454.7 481.3h.01M446.8 486.0h.01M457.5 485.7h.01M460.7 485.3h.01M464.5 490.5h.01M460.4 476.6h.01M455.2 482.1h.01M458.9 486.9h.01M454.8 484.5h.01M459.7 479.2h.01M459.7 483.6h.01M456.2 487.9h.01M454.8 482.3h.01M461.6 483.8h.01M463.3 480.4h.01M457.3 483.9h.01M464.9 489.7h.01M450.5 484.6h.01M455.9 482.6h.01M447.6 485.3h.01M457.6 485.3h.01M460.9 489.3h.01M458.2 488.8h.01M459.9 483.6h.01M464.1 484.3h.01M462.1 481.9h.01M455.9 486.0h.01M451.7 485.1h.01M456.9 483.5h.01M461.4 487.1h.01M450.4 478.8h.01M457.7 481.2h.01M466.1 482.6h.01M450.7 486.3h.01M458.3 483.5h.01M463.2 485.2h.01M459.9 482.8h.01M451.3 483.5h.01M457.1 484.9h.01M452.5 483.6h.01M462.6 487.1h.01M462.6 485.0h.01M462.5 479.0h.01M458.9 487.5h.01M464.0 478.1h.01M462.0 479.5h.01M459.6 480.1h.01M450.3 484.0h.01M461.7 482.9h.01M458.6 487.1h.01M452.3 477.7h.01M459.7 481.1h.01M458.3 484.9h.01M458.5 481.1h.01M462.3 480.6h.01M458.8 484.2h.01M458.9 484.0h.01M455.5 481.1h.01M454.6 484.9h.01M460.4 483.2h.01M460.7 483.4h.01M463.1 486.8h.01M456.8 487.9h.01M455.3 486.0h.01M464.3 490.8h.01M460.0 480.2h.01M453.5 485.6h.01M463.6 479.6h.01M461.0 479.9h.01M461.7 478.8h.01M461.3 480.7h.01M462.1 485.7h.01M456.7 482.8h.01M455.6 485.9h.01M455.8 484.4h.01M464.4 482.9h.01M464.0 482.1h.01M458.7 488.4h.01M462.4 482.5h.01M455.0 486.1h.01M458.3 482.2h.01M455.1 481.2h.01M453.4 490.3h.01M457.3 485.8h.01M459.4 481.6h.01M457.8 483.4h.01M463.3 485.2h.01M460.5 481.9h.01M458.9 486.4h.01M460.0 481.5h.01M460.7 490.9h.01M465.8 489.6h.01M455.6 487.3h.01M453.0 486.2h.01M455.5 483.1h.01M452.7 482.7h.01M463.6 488.7h.01M459.4 485.8h.01M464.4 490.0h.01M455.1 478.4h.01M460.4 484.1h.01M458.8 482.6h.01M459.2 484.6h.01M461.8 480.0h.01M459.1 484.6h.01M463.4 487.8h.01M457.1 483.8h.01M464.0 480.8h.01M458.9 475.7h.01M458.0 482.6h.01M463.3 486.9h.01M458.3 482.2h.01M458.5 484.9h.01M462.8 483.7h.01M455.3 482.1h.01M457.9 483.1h.01M463.1 489.9h.01M449.5 486.6h.01M455.4 485.8h.01M459.4 481.8h.01M460.8 485.1h.01M459.9 483.7h.01M461.6 483.4h.01M457.2 479.6h.01M455.4 486.1h.01M457.1 482.6h.01M456.9 482.0h.01M458.0 484.8h.01M464.5 487.6h.01M458.5 490.3h.01M463.8 485.0h.01M458.0 480.4h.01M463.2 479.7h.01M450.7 483.9h.01M461.7 486.5h.01M457.8 484.6h.01M454.3 486.0h.01M458.0 484.3h.01M455.3 482.8h.01M457.4 488.3h.01M452.6 483.3h.01M461.7 483.4h.01M456.4 484.6h.01M450.1 484.7h.01M451.1 483.0h.01" fill="none" stroke="#1a1a1a" stroke-width="1.5" stroke-linecap="round"/>
<ellipse cx="461.3" cy="484" rx="8.3" ry="6" fill="#1a1a1a"/>
<ellipse cx="453" cy="484" rx="7.5" ry="3.6" fill="#1a1a1a"/>
<ellipse cx="449" cy="484" rx="5" ry="2" fill="#1a1a1a"/>
<path d="M497.8 489.6h.01M496.0 477.4h.01M489.3 482.1h.01M491.0 478.8h.01M489.3 482.0h.01M493.2 479.3h.01M490.8 486.6h.01M491.4 483.0h.01M490.2 482.6h.01M492.1 480.7h.01M494.8 478.4h.01M490.9 487.7h.01M496.0 486.3h.01M489.9 486.1h.01M489.1 480.9h.01M489.2 486.8h.01M494.6 486.3h.01M491.1 483.3h.01M496.2 487.2h.01M489.1 479.2h.01M493.9 482.8h.01M489.6 482.4h.01M489.6 480.2h.01M494.4 479.7h.01M489.2 485.2h.01M489.9 479.3h.01M496.3 488.4h.01M492.4 478.5h.01M497.6 486.7h.01M490.5 477.7h.01M491.3 491.2h.01M493.7 486.5h.01M491.4 495.2h.01M490.9 482.2h.01M490.1 485.8h.01M494.1 487.6h.01M489.6 487.4h.01M488.9 472.7h.01M509.1 481.9h.01M511.5 484.5h.01M507.1 480.0h.01M492.2 486.5h.01M504.6 483.0h.01M511.7 488.4h.01M513.2 482.4h.01M498.9 484.1h.01M513.2 485.0h.01M503.5 481.1h.01M492.8 483.8h.01M511.4 485.1h.01M505.2 486.4h.01M498.0 484.1h.01M458.4 509.4h.01M466.5 497.6h.01M461.7 492.6h.01M460.8 513.8h.01M466.4 494.3h.01M467.7 491.6h.01M466.5 503.6h.01M464.3 513.5h.01M462.7 507.6h.01M465.3 496.1h.01M467.0 502.7h.01M463.8 502.0h.01M465.4 510.0h.01M462.3 495.7h.01M464.8 496.5h.01M465.7 497.1h.01M463.0 497.5h.01M464.8 492.0h.01M470.2 489.3h.01M462.4 492.5h.01M466.8 496.6h.01M461.0 504.5h.01M465.5 493.2h.01M465.4 495.8h.01M463.5 491.1h.01M463.4 514.6h.01M468.8 494.2h.01M464.0 516.1h.01M462.3 513.9h.01M464.8 496.7h.01M466.0 491.2h.01M466.8 505.3h.01M470.8 493.2h.01M463.6 491.5h.01M469.4 477.9h.01M461.6 467.5h.01M455.8 475.5h.01M461.6 471.8h.01M464.8 470.7h.01M468.4 459.8h.01M463.0 467.4h.01M461.7 468.9h.01M457.5 471.7h.01M460.6 469.8h.01M465.6 463.5h.01M463.1 462.4h.01M461.1 476.8h.01M466.6 460.9h.01M466.5 459.5h.01M471.2 463.8h.01M463.7 467.6h.01M466.8 468.4h.01" fill="none" stroke="#333" stroke-width="1.0" stroke-linecap="round"/>
<path d="M487.2 443.6h.01M467.6 457.8h.01M466.5 464.0h.01M462.5 470.0h.01M463.0 476.0h.01M466.5 492.5h.01M464.0 497.0h.01M468.0 478.5h.01M461.0 508.0h.01M463.0 512.5h.01M458.5 518.0h.01M463.5 523.0h.01M486.0 475.5h.01M467.0 489.0h.01" fill="none" stroke="#e63b43" stroke-width="1.3" stroke-linecap="round"/>
<line x1="477.30" y1="436.00" x2="477.30" y2="531.80" stroke="#000" stroke-width="0.9" />
<line x1="475.00" y1="436.30" x2="477.30" y2="436.30" stroke="#000" stroke-width="0.8" />
<line x1="475.00" y1="531.50" x2="477.30" y2="531.50" stroke="#000" stroke-width="0.8" />
<line x1="442.50" y1="483.80" x2="530.30" y2="483.80" stroke="#000" stroke-width="0.9" />
<line x1="442.70" y1="483.80" x2="442.70" y2="486.00" stroke="#000" stroke-width="0.8" />
<line x1="530.00" y1="483.80" x2="530.00" y2="486.00" stroke="#000" stroke-width="0.8" />
<text x="474.30" y="438.40" font-size="7.3" text-anchor="end">7</text>
<text x="474.30" y="534.00" font-size="7.3" text-anchor="end">-7</text>
<text x="442.30" y="492.10" font-size="7.3" text-anchor="middle">-4</text>
<text x="529.80" y="492.10" font-size="7.3" text-anchor="middle">6</text>
<text x="488.80" y="502.60" font-size="7.3" font-weight="bold">CRISPR score</text>
<text x="488.80" y="443.00" font-size="6.6" font-style="italic" fill="#e63b43">TBXT</text>
<text x="447.90" y="456.60" font-size="6.6" font-style="italic" fill="#e63b43">EBF2</text>
<text x="469.60" y="457.70" font-size="6.6" font-style="italic" fill="#e63b43">TNS4</text>
<text x="442.70" y="463.40" font-size="6.6" font-style="italic" fill="#e63b43">CHI3L2</text>
<text x="469.40" y="465.90" font-size="6.6" font-style="italic" fill="#e63b43">SV2C</text>
<text x="430.80" y="470.40" font-size="6.6" font-style="italic" fill="#e63b43">COMMD3</text>
<text x="438.50" y="500.70" font-size="6.6" font-style="italic" fill="#e63b43">ERBB2</text>
<text x="441.60" y="509.10" font-size="6.6" font-style="italic" fill="#e63b43">CHGA</text>
<text x="464.20" y="513.10" font-size="6.6" font-style="italic" fill="#e63b43">HTR1A</text>
<text x="434.60" y="519.40" font-size="6.6" font-style="italic" fill="#e63b43">ATP1A2</text>
<text x="435.50" y="527.10" font-size="6.6" font-style="italic" fill="#e63b43">PHACTR3</text>
<text x="4.20" y="555.40" font-size="9" font-weight="bold">k</text>
<text x="89.30" y="558.80" font-size="7.3" text-anchor="middle">DEGs in <tspan font-style="italic">ZIC2<tspan font-size="4" dy="-2.5">-/-</tspan><tspan dy="2.5">&#8203;</tspan>ZIC3<tspan font-size="4" dy="-2.5">-/-</tspan><tspan dy="2.5">&#8203;</tspan></tspan> vs WT primed hESCs</text>
<text x="88.00" y="566.20" font-size="7.3" text-anchor="middle">(2479)</text>
<path d="M50.8 571.80h25.6v0.65h-25.6zM50.8 572.40h25.6v0.65h-25.6zM50.8 573.60h25.6v0.65h-25.6zM50.8 578.40h25.6v0.65h-25.6zM50.8 583.20h25.6v0.65h-25.6zM50.8 585.60h25.6v0.65h-25.6zM50.8 597.00h25.6v0.65h-25.6zM101.9 603.60h25.6v0.65h-25.6zM101.9 604.20h25.6v0.65h-25.6zM101.9 605.40h25.6v0.65h-25.6zM50.8 606.60h25.6v0.65h-25.6zM101.9 607.20h25.6v0.65h-25.6zM50.8 611.40h25.6v0.65h-25.6zM50.8 613.20h25.6v0.65h-25.6zM50.8 616.20h25.6v0.65h-25.6zM50.8 617.40h25.6v0.65h-25.6zM50.8 618.60h25.6v0.65h-25.6zM101.9 618.60h25.6v0.65h-25.6zM101.9 622.20h25.6v0.65h-25.6zM101.9 623.40h25.6v0.65h-25.6zM50.8 624.00h25.6v0.65h-25.6zM101.9 625.20h25.6v0.65h-25.6zM101.9 628.20h25.6v0.65h-25.6zM50.8 629.40h25.6v0.65h-25.6zM50.8 631.80h25.6v0.65h-25.6zM101.9 685.20h25.6v0.65h-25.6z" fill="#c1ddeb" />
<path d="M76.4 571.80h25.5v0.65h-25.5zM76.4 574.20h25.5v0.65h-25.5zM101.9 574.80h25.6v0.65h-25.6zM76.4 577.20h25.5v0.65h-25.5zM101.9 577.20h25.6v0.65h-25.6zM101.9 582.00h25.6v0.65h-25.6zM76.4 601.80h25.5v0.65h-25.5zM76.4 604.20h25.5v0.65h-25.5zM76.4 610.80h25.5v0.65h-25.5zM76.4 616.20h25.5v0.65h-25.5zM76.4 618.00h25.5v0.65h-25.5zM76.4 623.40h25.5v0.65h-25.5zM76.4 631.20h25.5v0.65h-25.5zM76.4 638.40h25.5v0.65h-25.5zM76.4 640.20h25.5v0.65h-25.5zM76.4 655.20h25.5v0.65h-25.5zM50.8 656.40h25.6v0.65h-25.6zM76.4 656.40h25.5v0.65h-25.5zM50.8 657.00h25.6v0.65h-25.6zM50.8 657.60h25.6v0.65h-25.6zM101.9 660.00h25.6v0.65h-25.6zM50.8 660.60h25.6v0.65h-25.6zM101.9 664.20h25.6v0.65h-25.6zM101.9 666.00h25.6v0.65h-25.6zM50.8 669.60h25.6v0.65h-25.6zM101.9 670.20h25.6v0.65h-25.6zM101.9 670.80h25.6v0.65h-25.6zM76.4 674.40h25.5v0.65h-25.5zM76.4 675.00h25.5v0.65h-25.5zM76.4 679.20h25.5v0.65h-25.5zM50.8 683.40h25.6v0.65h-25.6zM50.8 685.20h25.6v0.65h-25.6zM76.4 687.60h25.5v0.65h-25.5z" fill="#fbd3be" />
<path d="M101.9 571.80h25.6v0.65h-25.6zM101.9 572.40h25.6v0.65h-25.6zM101.9 636.00h25.6v0.65h-25.6zM101.9 639.60h25.6v0.65h-25.6zM101.9 640.80h25.6v0.65h-25.6zM101.9 642.00h25.6v0.65h-25.6zM101.9 643.20h25.6v0.65h-25.6zM50.8 649.20h25.6v0.65h-25.6zM50.8 674.40h25.6v0.65h-25.6zM50.8 678.00h25.6v0.65h-25.6z" fill="#940e26" />
<path d="M76.4 572.40h25.5v0.65h-25.5zM76.4 573.60h25.5v0.65h-25.5zM101.9 574.20h25.6v0.65h-25.6zM101.9 580.80h25.6v0.65h-25.6zM76.4 581.40h25.5v0.65h-25.5zM101.9 583.20h25.6v0.65h-25.6zM101.9 584.40h25.6v0.65h-25.6zM76.4 585.00h25.5v0.65h-25.5zM101.9 585.00h25.6v0.65h-25.6zM76.4 586.20h25.5v0.65h-25.5zM76.4 588.60h25.5v0.65h-25.5zM76.4 589.80h25.5v0.65h-25.5zM76.4 590.40h25.5v0.65h-25.5zM76.4 594.60h25.5v0.65h-25.5zM76.4 595.80h25.5v0.65h-25.5zM76.4 598.20h25.5v0.65h-25.5zM76.4 601.20h25.5v0.65h-25.5zM76.4 602.40h25.5v0.65h-25.5zM76.4 603.60h25.5v0.65h-25.5zM76.4 608.40h25.5v0.65h-25.5zM76.4 610.20h25.5v0.65h-25.5zM76.4 611.40h25.5v0.65h-25.5zM76.4 612.00h25.5v0.65h-25.5zM76.4 612.60h25.5v0.65h-25.5zM76.4 617.40h25.5v0.65h-25.5zM76.4 619.20h25.5v0.65h-25.5zM76.4 621.00h25.5v0.65h-25.5zM76.4 627.00h25.5v0.65h-25.5zM76.4 628.80h25.5v0.65h-25.5zM76.4 629.40h25.5v0.65h-25.5zM76.4 630.00h25.5v0.65h-25.5zM76.4 631.80h25.5v0.65h-25.5zM76.4 632.40h25.5v0.65h-25.5zM76.4 651.60h25.5v0.65h-25.5zM76.4 657.60h25.5v0.65h-25.5zM76.4 659.40h25.5v0.65h-25.5zM76.4 662.40h25.5v0.65h-25.5zM76.4 663.60h25.5v0.65h-25.5zM76.4 669.00h25.5v0.65h-25.5zM76.4 672.60h25.5v0.65h-25.5zM76.4 673.20h25.5v0.65h-25.5zM101.9 684.00h25.6v0.65h-25.6zM76.4 686.40h25.5v0.65h-25.5z" fill="#f7ece5" />
<path d="M50.8 573.00h25.6v0.65h-25.6zM50.8 610.20h25.6v0.65h-25.6zM50.8 613.80h25.6v0.65h-25.6zM50.8 616.80h25.6v0.65h-25.6zM50.8 618.00h25.6v0.65h-25.6zM50.8 619.80h25.6v0.65h-25.6zM50.8 621.00h25.6v0.65h-25.6zM50.8 621.60h25.6v0.65h-25.6zM101.9 626.40h25.6v0.65h-25.6zM101.9 627.60h25.6v0.65h-25.6zM101.9 629.40h25.6v0.65h-25.6zM50.8 630.60h25.6v0.65h-25.6z" fill="#92c5de" />
<path d="M76.4 573.00h25.5v0.65h-25.5zM76.4 574.80h25.5v0.65h-25.5zM101.9 575.40h25.6v0.65h-25.6zM101.9 576.00h25.6v0.65h-25.6zM76.4 577.80h25.5v0.65h-25.5zM101.9 580.20h25.6v0.65h-25.6zM76.4 585.60h25.5v0.65h-25.5zM101.9 587.40h25.6v0.65h-25.6zM101.9 589.80h25.6v0.65h-25.6zM101.9 590.40h25.6v0.65h-25.6zM76.4 597.60h25.5v0.65h-25.5zM76.4 613.80h25.5v0.65h-25.5zM76.4 622.80h25.5v0.65h-25.5zM76.4 626.40h25.5v0.65h-25.5zM76.4 634.80h25.5v0.65h-25.5zM76.4 639.00h25.5v0.65h-25.5zM76.4 642.00h25.5v0.65h-25.5zM76.4 652.20h25.5v0.65h-25.5zM76.4 658.80h25.5v0.65h-25.5zM50.8 660.00h25.6v0.65h-25.6zM50.8 668.40h25.6v0.65h-25.6zM76.4 668.40h25.5v0.65h-25.5zM76.4 675.60h25.5v0.65h-25.5zM76.4 681.00h25.5v0.65h-25.5zM50.8 681.60h25.6v0.65h-25.6zM50.8 684.60h25.6v0.65h-25.6zM76.4 687.00h25.5v0.65h-25.5z" fill="#fde1d0" />
<path d="M101.9 573.00h25.6v0.65h-25.6zM76.4 576.60h25.5v0.65h-25.5zM101.9 576.60h25.6v0.65h-25.6zM101.9 577.80h25.6v0.65h-25.6zM76.4 578.40h25.5v0.65h-25.5zM76.4 579.60h25.5v0.65h-25.5zM101.9 579.60h25.6v0.65h-25.6zM76.4 580.80h25.5v0.65h-25.5zM76.4 583.20h25.5v0.65h-25.5zM76.4 583.80h25.5v0.65h-25.5zM76.4 584.40h25.5v0.65h-25.5zM76.4 589.20h25.5v0.65h-25.5zM76.4 591.00h25.5v0.65h-25.5zM76.4 592.20h25.5v0.65h-25.5zM76.4 593.40h25.5v0.65h-25.5zM76.4 594.00h25.5v0.65h-25.5zM76.4 595.20h25.5v0.65h-25.5zM76.4 605.40h25.5v0.65h-25.5zM76.4 609.00h25.5v0.65h-25.5zM76.4 615.60h25.5v0.65h-25.5zM76.4 616.80h25.5v0.65h-25.5zM76.4 619.80h25.5v0.65h-25.5zM76.4 627.60h25.5v0.65h-25.5zM50.8 628.20h25.6v0.65h-25.6zM76.4 660.60h25.5v0.65h-25.5zM76.4 664.20h25.5v0.65h-25.5zM76.4 670.20h25.5v0.65h-25.5zM76.4 672.00h25.5v0.65h-25.5zM101.9 682.20h25.6v0.65h-25.6zM76.4 683.40h25.5v0.65h-25.5zM76.4 685.20h25.5v0.65h-25.5zM101.9 685.80h25.6v0.65h-25.6z" fill="#f4f2f0" />
<path d="M101.9 573.60h25.6v0.65h-25.6zM76.4 575.40h25.5v0.65h-25.5zM76.4 576.00h25.5v0.65h-25.5zM101.9 578.40h25.6v0.65h-25.6zM76.4 579.00h25.5v0.65h-25.5zM76.4 580.20h25.5v0.65h-25.5zM76.4 582.00h25.5v0.65h-25.5zM76.4 582.60h25.5v0.65h-25.5zM101.9 582.60h25.6v0.65h-25.6zM101.9 583.80h25.6v0.65h-25.6zM76.4 586.80h25.5v0.65h-25.5zM76.4 588.00h25.5v0.65h-25.5zM76.4 597.00h25.5v0.65h-25.5zM76.4 599.40h25.5v0.65h-25.5zM76.4 606.60h25.5v0.65h-25.5zM76.4 609.60h25.5v0.65h-25.5zM76.4 613.20h25.5v0.65h-25.5zM76.4 615.00h25.5v0.65h-25.5zM76.4 622.20h25.5v0.65h-25.5zM101.9 622.80h25.6v0.65h-25.6zM76.4 624.00h25.5v0.65h-25.5zM76.4 624.60h25.5v0.65h-25.5zM76.4 625.20h25.5v0.65h-25.5zM76.4 625.80h25.5v0.65h-25.5zM76.4 628.20h25.5v0.65h-25.5zM76.4 640.80h25.5v0.65h-25.5zM76.4 646.20h25.5v0.65h-25.5zM76.4 647.40h25.5v0.65h-25.5zM76.4 648.60h25.5v0.65h-25.5zM76.4 650.40h25.5v0.65h-25.5zM76.4 653.40h25.5v0.65h-25.5zM76.4 661.80h25.5v0.65h-25.5zM50.8 664.20h25.6v0.65h-25.6zM76.4 664.80h25.5v0.65h-25.5zM50.8 666.00h25.6v0.65h-25.6zM76.4 666.00h25.5v0.65h-25.5zM76.4 666.60h25.5v0.65h-25.5zM76.4 667.20h25.5v0.65h-25.5zM50.8 670.20h25.6v0.65h-25.6zM50.8 670.80h25.6v0.65h-25.6zM76.4 670.80h25.5v0.65h-25.5zM76.4 676.20h25.5v0.65h-25.5zM76.4 678.60h25.5v0.65h-25.5zM76.4 681.60h25.5v0.65h-25.5zM76.4 682.20h25.5v0.65h-25.5zM76.4 682.80h25.5v0.65h-25.5zM101.9 682.80h25.6v0.65h-25.6zM76.4 684.00h25.5v0.65h-25.5zM101.9 687.00h25.6v0.65h-25.6zM76.4 688.20h25.5v0.65h-25.5zM76.4 688.80h25.5v0.65h-25.5z" fill="#fae6da" />
<path d="M50.8 574.20h25.6v0.65h-25.6zM50.8 576.60h25.6v0.65h-25.6zM50.8 577.80h25.6v0.65h-25.6zM50.8 580.80h25.6v0.65h-25.6zM50.8 583.80h25.6v0.65h-25.6zM50.8 588.60h25.6v0.65h-25.6zM50.8 589.80h25.6v0.65h-25.6zM50.8 598.20h25.6v0.65h-25.6zM50.8 599.40h25.6v0.65h-25.6zM101.9 604.80h25.6v0.65h-25.6zM101.9 606.00h25.6v0.65h-25.6zM50.8 609.60h25.6v0.65h-25.6zM50.8 612.60h25.6v0.65h-25.6zM101.9 618.00h25.6v0.65h-25.6zM101.9 619.20h25.6v0.65h-25.6zM101.9 619.80h25.6v0.65h-25.6zM50.8 622.20h25.6v0.65h-25.6zM50.8 623.40h25.6v0.65h-25.6zM50.8 625.80h25.6v0.65h-25.6zM101.9 625.80h25.6v0.65h-25.6zM50.8 626.40h25.6v0.65h-25.6zM50.8 627.00h25.6v0.65h-25.6zM50.8 627.60h25.6v0.65h-25.6zM101.9 630.00h25.6v0.65h-25.6zM50.8 631.20h25.6v0.65h-25.6zM50.8 632.40h25.6v0.65h-25.6zM101.9 684.60h25.6v0.65h-25.6z" fill="#b1d5e7" />
<path d="M50.8 574.80h25.6v0.65h-25.6zM50.8 575.40h25.6v0.65h-25.6zM50.8 576.00h25.6v0.65h-25.6zM50.8 580.20h25.6v0.65h-25.6zM101.9 581.40h25.6v0.65h-25.6zM50.8 582.00h25.6v0.65h-25.6zM50.8 582.60h25.6v0.65h-25.6zM50.8 585.00h25.6v0.65h-25.6zM50.8 588.00h25.6v0.65h-25.6zM101.9 589.20h25.6v0.65h-25.6zM101.9 591.00h25.6v0.65h-25.6zM76.4 596.40h25.5v0.65h-25.5zM76.4 600.00h25.5v0.65h-25.5zM101.9 602.40h25.6v0.65h-25.6zM101.9 603.00h25.6v0.65h-25.6zM101.9 606.60h25.6v0.65h-25.6zM50.8 610.80h25.6v0.65h-25.6zM50.8 615.00h25.6v0.65h-25.6zM101.9 621.00h25.6v0.65h-25.6zM50.8 625.20h25.6v0.65h-25.6zM50.8 628.80h25.6v0.65h-25.6zM50.8 630.00h25.6v0.65h-25.6zM76.4 680.40h25.5v0.65h-25.5zM101.9 681.60h25.6v0.65h-25.6z" fill="#d1e5f0" />
<path d="M50.8 577.20h25.6v0.65h-25.6zM50.8 579.00h25.6v0.65h-25.6zM76.4 587.40h25.5v0.65h-25.5zM76.4 591.60h25.5v0.65h-25.5zM76.4 592.80h25.5v0.65h-25.5zM76.4 598.80h25.5v0.65h-25.5zM76.4 600.60h25.5v0.65h-25.5zM76.4 604.80h25.5v0.65h-25.5zM76.4 606.00h25.5v0.65h-25.5zM76.4 607.20h25.5v0.65h-25.5zM76.4 614.40h25.5v0.65h-25.5zM101.9 617.40h25.6v0.65h-25.6zM76.4 620.40h25.5v0.65h-25.5zM76.4 621.60h25.5v0.65h-25.5zM50.8 622.80h25.6v0.65h-25.6zM101.9 624.00h25.6v0.65h-25.6zM76.4 630.60h25.5v0.65h-25.5zM76.4 660.00h25.5v0.65h-25.5zM76.4 679.80h25.5v0.65h-25.5zM101.9 683.40h25.6v0.65h-25.6zM76.4 684.60h25.5v0.65h-25.5z" fill="#e2ebf0" />
<path d="M101.9 579.00h25.6v0.65h-25.6zM76.4 603.00h25.5v0.65h-25.5zM76.4 607.80h25.5v0.65h-25.5zM76.4 618.60h25.5v0.65h-25.5zM76.4 633.00h25.5v0.65h-25.5zM76.4 633.60h25.5v0.65h-25.5zM76.4 642.60h25.5v0.65h-25.5zM76.4 644.40h25.5v0.65h-25.5zM50.8 651.60h25.6v0.65h-25.6zM76.4 652.80h25.5v0.65h-25.5zM50.8 654.60h25.6v0.65h-25.6zM101.9 657.60h25.6v0.65h-25.6zM76.4 658.20h25.5v0.65h-25.5zM50.8 659.40h25.6v0.65h-25.6zM76.4 661.20h25.5v0.65h-25.5zM50.8 663.60h25.6v0.65h-25.6zM50.8 667.80h25.6v0.65h-25.6zM76.4 667.80h25.5v0.65h-25.5zM101.9 668.40h25.6v0.65h-25.6zM76.4 671.40h25.5v0.65h-25.5zM50.8 672.00h25.6v0.65h-25.6zM76.4 676.80h25.5v0.65h-25.5zM50.8 680.40h25.6v0.65h-25.6zM50.8 682.20h25.6v0.65h-25.6zM76.4 685.80h25.5v0.65h-25.5zM101.9 688.80h25.6v0.65h-25.6z" fill="#f9c6ad" />
<path d="M50.8 579.60h25.6v0.65h-25.6zM50.8 584.40h25.6v0.65h-25.6zM50.8 586.20h25.6v0.65h-25.6zM50.8 586.80h25.6v0.65h-25.6zM50.8 590.40h25.6v0.65h-25.6zM50.8 597.60h25.6v0.65h-25.6zM50.8 598.80h25.6v0.65h-25.6zM50.8 606.00h25.6v0.65h-25.6zM50.8 607.20h25.6v0.65h-25.6zM50.8 607.80h25.6v0.65h-25.6zM50.8 608.40h25.6v0.65h-25.6zM50.8 612.00h25.6v0.65h-25.6zM50.8 619.20h25.6v0.65h-25.6zM101.9 620.40h25.6v0.65h-25.6zM101.9 621.60h25.6v0.65h-25.6zM50.8 624.60h25.6v0.65h-25.6zM101.9 624.60h25.6v0.65h-25.6zM101.9 628.80h25.6v0.65h-25.6zM101.9 631.80h25.6v0.65h-25.6z" fill="#a1cde2" />
<path d="M50.8 581.40h25.6v0.65h-25.6zM50.8 587.40h25.6v0.65h-25.6zM50.8 589.20h25.6v0.65h-25.6zM50.8 592.20h25.6v0.65h-25.6zM50.8 594.60h25.6v0.65h-25.6zM50.8 595.80h25.6v0.65h-25.6zM101.9 611.40h25.6v0.65h-25.6zM101.9 613.20h25.6v0.65h-25.6zM50.8 620.40h25.6v0.65h-25.6zM101.9 631.20h25.6v0.65h-25.6z" fill="#85bdd9" />
<path d="M101.9 585.60h25.6v0.65h-25.6zM101.9 588.60h25.6v0.65h-25.6zM76.4 634.20h25.5v0.65h-25.5zM76.4 645.60h25.5v0.65h-25.5zM76.4 646.80h25.5v0.65h-25.5zM50.8 652.20h25.6v0.65h-25.6zM50.8 653.40h25.6v0.65h-25.6zM76.4 657.00h25.5v0.65h-25.5zM101.9 658.20h25.6v0.65h-25.6zM50.8 658.80h25.6v0.65h-25.6zM76.4 663.00h25.5v0.65h-25.5zM50.8 666.60h25.6v0.65h-25.6zM101.9 669.00h25.6v0.65h-25.6zM76.4 669.60h25.5v0.65h-25.5zM101.9 671.40h25.6v0.65h-25.6zM50.8 672.60h25.6v0.65h-25.6zM50.8 681.00h25.6v0.65h-25.6zM50.8 682.80h25.6v0.65h-25.6zM101.9 686.40h25.6v0.65h-25.6z" fill="#f19f7d" />
<path d="M101.9 586.20h25.6v0.65h-25.6zM76.4 636.00h25.5v0.65h-25.5zM76.4 639.60h25.5v0.65h-25.5zM76.4 643.20h25.5v0.65h-25.5zM76.4 643.80h25.5v0.65h-25.5zM76.4 645.00h25.5v0.65h-25.5zM76.4 648.00h25.5v0.65h-25.5zM50.8 652.80h25.6v0.65h-25.6zM76.4 654.00h25.5v0.65h-25.5zM101.9 656.40h25.6v0.65h-25.6zM50.8 658.20h25.6v0.65h-25.6zM101.9 659.40h25.6v0.65h-25.6zM50.8 662.40h25.6v0.65h-25.6zM101.9 663.60h25.6v0.65h-25.6zM76.4 665.40h25.5v0.65h-25.5zM101.9 667.20h25.6v0.65h-25.6zM101.9 667.80h25.6v0.65h-25.6zM101.9 672.00h25.6v0.65h-25.6zM50.8 673.20h25.6v0.65h-25.6zM76.4 677.40h25.5v0.65h-25.5zM50.8 685.80h25.6v0.65h-25.6zM101.9 687.60h25.6v0.65h-25.6zM101.9 689.40h25.6v0.45h-25.6z" fill="#f5ab8a" />
<path d="M101.9 586.80h25.6v0.65h-25.6zM76.4 636.60h25.5v0.65h-25.5zM50.8 651.00h25.6v0.65h-25.6zM76.4 651.00h25.5v0.65h-25.5zM76.4 654.60h25.5v0.65h-25.5zM101.9 657.00h25.6v0.65h-25.6zM101.9 660.60h25.6v0.65h-25.6zM50.8 661.20h25.6v0.65h-25.6zM50.8 661.80h25.6v0.65h-25.6zM50.8 664.80h25.6v0.65h-25.6zM50.8 667.20h25.6v0.65h-25.6zM50.8 669.00h25.6v0.65h-25.6zM101.9 669.60h25.6v0.65h-25.6zM50.8 671.40h25.6v0.65h-25.6zM76.4 673.80h25.5v0.65h-25.5zM50.8 679.80h25.6v0.65h-25.6zM50.8 684.00h25.6v0.65h-25.6zM101.9 688.20h25.6v0.65h-25.6zM76.4 689.40h25.5v0.45h-25.5z" fill="#f7b99c" />
<path d="M101.9 588.00h25.6v0.65h-25.6zM76.4 635.40h25.5v0.65h-25.5zM76.4 637.20h25.5v0.65h-25.5zM50.8 650.40h25.6v0.65h-25.6zM101.9 651.60h25.6v0.65h-25.6zM50.8 654.00h25.6v0.65h-25.6zM50.8 655.80h25.6v0.65h-25.6zM101.9 658.80h25.6v0.65h-25.6zM101.9 662.40h25.6v0.65h-25.6zM101.9 673.20h25.6v0.65h-25.6z" fill="#e88a6d" />
<path d="M50.8 591.00h25.6v0.65h-25.6zM50.8 609.00h25.6v0.65h-25.6zM101.9 610.20h25.6v0.65h-25.6zM101.9 613.80h25.6v0.65h-25.6zM50.8 614.40h25.6v0.65h-25.6zM101.9 630.60h25.6v0.65h-25.6z" fill="#61a6cd" />
<path d="M50.8 591.60h25.6v0.65h-25.6zM50.8 593.40h25.6v0.65h-25.6zM50.8 594.00h25.6v0.65h-25.6zM50.8 595.20h25.6v0.65h-25.6zM50.8 601.80h25.6v0.65h-25.6zM101.9 607.80h25.6v0.65h-25.6zM101.9 608.40h25.6v0.65h-25.6zM101.9 609.60h25.6v0.65h-25.6zM101.9 612.00h25.6v0.65h-25.6z" fill="#6dadd1" />
<path d="M101.9 591.60h25.6v0.65h-25.6zM101.9 595.80h25.6v0.65h-25.6z" fill="#1b5b9d" />
<path d="M101.9 592.20h25.6v0.65h-25.6z" fill="#256caf" />
<path d="M50.8 592.80h25.6v0.65h-25.6zM50.8 596.40h25.6v0.65h-25.6zM101.9 615.60h25.6v0.65h-25.6zM101.9 679.80h25.6v0.65h-25.6zM101.9 681.00h25.6v0.65h-25.6z" fill="#4996c5" />
<path d="M101.9 592.80h25.6v0.65h-25.6zM101.9 593.40h25.6v0.65h-25.6zM101.9 594.00h25.6v0.65h-25.6zM101.9 600.60h25.6v0.65h-25.6z" fill="#15508e" />
<path d="M101.9 594.60h25.6v0.65h-25.6zM101.9 598.20h25.6v0.65h-25.6zM50.8 600.00h25.6v0.65h-25.6zM101.9 601.20h25.6v0.65h-25.6z" fill="#2a72b2" />
<path d="M101.9 595.20h25.6v0.65h-25.6zM101.9 597.60h25.6v0.65h-25.6zM101.9 598.80h25.6v0.65h-25.6z" fill="#2166ac" />
<path d="M101.9 596.40h25.6v0.65h-25.6zM101.9 600.00h25.6v0.65h-25.6z" fill="#10457f" />
<path d="M101.9 597.00h25.6v0.65h-25.6zM101.9 599.40h25.6v0.65h-25.6zM50.8 604.80h25.6v0.65h-25.6z" fill="#2e78b5" />
<path d="M50.8 600.60h25.6v0.65h-25.6zM101.9 601.80h25.6v0.65h-25.6zM50.8 602.40h25.6v0.65h-25.6z" fill="#337eb8" />
<path d="M50.8 601.20h25.6v0.65h-25.6zM50.8 603.00h25.6v0.65h-25.6z" fill="#4090c1" />
<path d="M50.8 603.60h25.6v0.65h-25.6zM50.8 604.20h25.6v0.65h-25.6zM101.9 609.00h25.6v0.65h-25.6z" fill="#3c8abe" />
<path d="M50.8 605.40h25.6v0.65h-25.6zM101.9 614.40h25.6v0.65h-25.6zM101.9 680.40h25.6v0.65h-25.6z" fill="#3784bb" />
<path d="M101.9 610.80h25.6v0.65h-25.6zM101.9 612.60h25.6v0.65h-25.6zM101.9 615.00h25.6v0.65h-25.6zM50.8 615.60h25.6v0.65h-25.6zM101.9 616.20h25.6v0.65h-25.6zM101.9 627.00h25.6v0.65h-25.6zM101.9 632.40h25.6v0.65h-25.6z" fill="#79b5d5" />
<path d="M101.9 616.80h25.6v0.65h-25.6z" fill="#559ec9" />
<path d="M50.8 633.00h25.6v0.65h-25.6zM50.8 635.40h25.6v0.65h-25.6zM50.8 636.60h25.6v0.65h-25.6zM50.8 638.40h25.6v0.65h-25.6zM101.9 639.00h25.6v0.65h-25.6zM50.8 675.00h25.6v0.65h-25.6zM50.8 676.80h25.6v0.65h-25.6z" fill="#a21328" />
<path d="M101.9 633.00h25.6v0.65h-25.6zM101.9 633.60h25.6v0.65h-25.6zM101.9 634.20h25.6v0.65h-25.6zM101.9 635.40h25.6v0.65h-25.6zM101.9 636.60h25.6v0.65h-25.6zM101.9 637.20h25.6v0.65h-25.6zM50.8 637.80h25.6v0.65h-25.6zM101.9 637.80h25.6v0.65h-25.6zM101.9 638.40h25.6v0.65h-25.6zM101.9 640.20h25.6v0.65h-25.6zM101.9 641.40h25.6v0.65h-25.6zM101.9 642.60h25.6v0.65h-25.6zM101.9 645.00h25.6v0.65h-25.6zM101.9 646.80h25.6v0.65h-25.6zM101.9 649.20h25.6v0.65h-25.6z" fill="#67001f" />
<path d="M50.8 633.60h25.6v0.65h-25.6zM50.8 636.00h25.6v0.65h-25.6zM101.9 676.80h25.6v0.65h-25.6zM50.8 677.40h25.6v0.65h-25.6z" fill="#b82430" />
<path d="M50.8 634.20h25.6v0.65h-25.6zM50.8 645.00h25.6v0.65h-25.6zM101.9 647.40h25.6v0.65h-25.6zM50.8 679.20h25.6v0.65h-25.6z" fill="#b2182b" />
<path d="M50.8 634.80h25.6v0.65h-25.6zM101.9 655.20h25.6v0.65h-25.6zM50.8 673.80h25.6v0.65h-25.6zM101.9 674.40h25.6v0.65h-25.6zM101.9 675.00h25.6v0.65h-25.6zM50.8 676.20h25.6v0.65h-25.6zM101.9 677.40h25.6v0.65h-25.6zM101.9 678.00h25.6v0.65h-25.6zM50.8 678.60h25.6v0.65h-25.6z" fill="#be3036" />
<path d="M101.9 634.80h25.6v0.65h-25.6zM101.9 646.20h25.6v0.65h-25.6z" fill="#850923" />
<path d="M50.8 637.20h25.6v0.65h-25.6zM101.9 643.80h25.6v0.65h-25.6zM101.9 644.40h25.6v0.65h-25.6zM101.9 645.60h25.6v0.65h-25.6zM101.9 648.00h25.6v0.65h-25.6zM101.9 648.60h25.6v0.65h-25.6z" fill="#760421" />
<path d="M76.4 637.80h25.5v0.65h-25.5zM50.8 647.40h25.6v0.65h-25.6zM76.4 655.80h25.5v0.65h-25.5zM101.9 665.40h25.6v0.65h-25.6z" fill="#e37f65" />
<path d="M50.8 639.00h25.6v0.65h-25.6zM50.8 639.60h25.6v0.65h-25.6zM50.8 640.80h25.6v0.65h-25.6zM50.8 643.20h25.6v0.65h-25.6zM50.8 648.60h25.6v0.65h-25.6zM50.8 655.20h25.6v0.65h-25.6zM101.9 663.00h25.6v0.65h-25.6z" fill="#df755d" />
<path d="M50.8 640.20h25.6v0.65h-25.6zM50.8 644.40h25.6v0.65h-25.6zM50.8 646.80h25.6v0.65h-25.6zM101.9 655.80h25.6v0.65h-25.6zM101.9 679.20h25.6v0.65h-25.6zM50.8 686.40h25.6v0.65h-25.6zM50.8 689.40h25.6v0.45h-25.6z" fill="#ca4841" />
<path d="M50.8 641.40h25.6v0.65h-25.6zM101.9 654.00h25.6v0.65h-25.6zM50.8 675.60h25.6v0.65h-25.6z" fill="#c43c3c" />
<path d="M76.4 641.40h25.5v0.65h-25.5zM76.4 649.20h25.5v0.65h-25.5zM50.8 649.80h25.6v0.65h-25.6zM76.4 649.80h25.5v0.65h-25.5zM101.9 661.20h25.6v0.65h-25.6zM101.9 661.80h25.6v0.65h-25.6zM50.8 663.00h25.6v0.65h-25.6zM101.9 664.80h25.6v0.65h-25.6zM50.8 665.40h25.6v0.65h-25.6zM101.9 666.60h25.6v0.65h-25.6zM101.9 672.60h25.6v0.65h-25.6zM76.4 678.00h25.5v0.65h-25.5z" fill="#ed9575" />
<path d="M50.8 642.00h25.6v0.65h-25.6zM101.9 654.60h25.6v0.65h-25.6zM50.8 687.00h25.6v0.65h-25.6z" fill="#da6a55" />
<path d="M50.8 642.60h25.6v0.65h-25.6zM50.8 645.60h25.6v0.65h-25.6zM50.8 648.00h25.6v0.65h-25.6zM101.9 649.80h25.6v0.65h-25.6zM101.9 650.40h25.6v0.65h-25.6zM101.9 652.20h25.6v0.65h-25.6zM101.9 652.80h25.6v0.65h-25.6zM101.9 653.40h25.6v0.65h-25.6zM101.9 673.80h25.6v0.65h-25.6zM50.8 688.20h25.6v0.65h-25.6z" fill="#d05347" />
<path d="M50.8 643.80h25.6v0.65h-25.6zM50.8 646.20h25.6v0.65h-25.6zM101.9 651.00h25.6v0.65h-25.6zM101.9 675.60h25.6v0.65h-25.6zM101.9 676.20h25.6v0.65h-25.6zM101.9 678.60h25.6v0.65h-25.6zM50.8 687.60h25.6v0.65h-25.6zM50.8 688.80h25.6v0.65h-25.6z" fill="#d6604d" />
<path d="M34.3 586.5V651.9 M34.3 586.5H40.6 M34.3 651.9H37.9 M40.6 574.9V597.2 M40.6 574.9H46 M40.6 597.2H44.5 M44.5 590V604.5 M44.5 590H47 M44.5 604.5H47.5 M46 573V579H48.5 M46 573H48.5 M47 588V593H49 M47 588H49 M47.5 600V612 H49.5 M47.5 600H49.5 M37.9 634.9V668.9 M37.9 634.9H44 M37.9 668.9H42.5 M44 633.5V640 H47 M44 633.5H47 M42.5 655V680 M42.5 655H44.5 M42.5 680H46 M44.5 648V664 H47 M44.5 648H46.5 M46 674V686 H48 M46 674H48.5 M46.5 643V652H48.5 M46.5 643H48.5 M47 660V668H49 M47 660H49" fill="none" stroke="#222" stroke-width="0.4" />
<path d="M50.8 571.8 L46.8 573 L48 580 L46.5 590 L48.5 600 L47.5 606 L50.2 632 L50.8 632.7Z" fill="#111" />
<path d="M50.8 632.7 L46.3 633.5 L48.5 640 L47 650 L49 660 L47.5 672 L49 680 L48 689 L50.8 689.8Z" fill="#111" />
<path d="M47.3 571.8H50.8M48.5 572.3H50.8M47.8 572.8H50.8M49.7 573.3H50.8M47.9 573.8H50.8M49.7 574.3H50.8M49.5 574.8H50.8M49.3 575.3H50.8M48.0 575.8H50.8M47.2 576.3H50.8M49.4 576.8H50.8M49.7 577.3H50.8M44.9 577.8H50.8M48.5 578.3H50.8M46.3 578.8H50.8M49.3 579.3H50.8M45.2 579.8H50.8M45.7 580.3H50.8M45.8 580.8H50.8M49.2 581.3H50.8M47.0 581.8H50.8M46.9 582.3H50.8M45.9 582.8H50.8M46.6 583.3H50.8M45.1 583.8H50.8M49.4 584.3H50.8M48.0 584.8H50.8M48.7 585.3H50.8M47.3 585.8H50.8M45.9 586.3H50.8M48.5 586.8H50.8M47.2 587.3H50.8M49.5 587.8H50.8M49.7 588.3H50.8M49.1 588.8H50.8M49.5 589.3H50.8M48.3 589.8H50.8M49.5 590.3H50.8M48.8 590.8H50.8M49.0 591.3H50.8M48.0 591.8H50.8M46.5 592.3H50.8M48.8 592.8H50.8M49.2 593.3H50.8M49.3 593.8H50.8M49.8 594.3H50.8M46.8 594.8H50.8M48.0 595.3H50.8M47.0 595.8H50.8M48.2 596.3H50.8M49.0 596.8H50.8M49.2 597.3H50.8M48.1 597.8H50.8M49.7 598.3H50.8M47.8 598.8H50.8M48.4 599.3H50.8M47.1 599.8H50.8M46.9 600.3H50.8M47.5 600.8H50.8M49.8 601.3H50.8M48.5 601.8H50.8M49.3 602.3H50.8M47.9 602.8H50.8M48.7 603.3H50.8M45.6 603.8H50.8M49.8 604.3H50.8M46.0 604.8H50.8M43.2 605.3H50.8M49.1 605.8H50.8M49.4 606.3H50.8M49.0 606.8H50.8M49.7 607.3H50.8M50.3 607.8H50.8M50.3 608.3H50.8M49.2 608.8H50.8M49.9 609.3H50.8M49.4 609.8H50.8M49.1 610.3H50.8M50.3 610.8H50.8M48.6 611.3H50.8M50.1 611.8H50.8M49.1 612.3H50.8M49.7 612.8H50.8M50.1 613.3H50.8M50.3 613.8H50.8M50.0 614.3H50.8M50.0 614.8H50.8M49.8 615.3H50.8M50.0 615.8H50.8M49.8 616.3H50.8M49.4 616.8H50.8M50.0 617.3H50.8M50.2 617.8H50.8M50.1 618.3H50.8M49.5 618.8H50.8M49.0 619.3H50.8M50.3 619.8H50.8M50.1 620.3H50.8M47.8 620.8H50.8M49.5 621.3H50.8M49.6 621.8H50.8M50.3 622.3H50.8M50.4 622.8H50.8M49.6 623.3H50.8M48.7 623.8H50.8M49.7 624.3H50.8M48.5 624.8H50.8M48.5 625.3H50.8M48.8 625.8H50.8M49.9 626.3H50.8M48.5 626.8H50.8M50.1 627.3H50.8M50.4 627.8H50.8M49.9 628.3H50.8M49.9 628.8H50.8M50.3 629.3H50.8M50.1 629.8H50.8M50.1 630.3H50.8M49.6 630.8H50.8M50.0 631.3H50.8M49.7 631.8H50.8M49.2 632.3H50.8M48.7 632.8H50.8M48.6 633.3H50.8M49.4 633.8H50.8M48.1 634.3H50.8M48.3 634.8H50.8M48.1 635.3H50.8M49.4 635.8H50.8M49.2 636.3H50.8M49.4 636.8H50.8M48.9 637.3H50.8M47.0 637.8H50.8M49.3 638.3H50.8M49.8 638.8H50.8M47.2 639.3H50.8M48.2 639.8H50.8M46.9 640.3H50.8M48.9 640.8H50.8M48.7 641.3H50.8M48.5 641.8H50.8M49.0 642.3H50.8M49.8 642.8H50.8M49.1 643.3H50.8M48.9 643.8H50.8M46.0 644.3H50.8M45.5 644.8H50.8M48.8 645.3H50.8M47.9 645.8H50.8M48.1 646.3H50.8M48.1 646.8H50.8M49.7 647.3H50.8M48.7 647.8H50.8M47.5 648.3H50.8M49.5 648.8H50.8M48.2 649.3H50.8M49.1 649.8H50.8M43.8 650.3H50.8M49.7 650.8H50.8M48.8 651.3H50.8M45.2 651.8H50.8M47.7 652.3H50.8M49.2 652.8H50.8M47.2 653.3H50.8M48.4 653.8H50.8M48.4 654.3H50.8M49.7 654.8H50.8M49.6 655.3H50.8M47.7 655.8H50.8M47.6 656.3H50.8M45.4 656.8H50.8M49.7 657.3H50.8M48.2 657.8H50.8M49.2 658.3H50.8M48.9 658.8H50.8M49.1 659.3H50.8M46.5 659.8H50.8M49.4 660.3H50.8M48.6 660.8H50.8M47.1 661.3H50.8M46.4 661.8H50.8M49.8 662.3H50.8M48.5 662.8H50.8M46.9 663.3H50.8M49.0 663.8H50.8M49.1 664.3H50.8M48.6 664.8H50.8M46.6 665.3H50.8M47.8 665.8H50.8M47.8 666.3H50.8M47.3 666.8H50.8M46.4 667.3H50.8M45.7 667.8H50.8M49.4 668.3H50.8M49.6 668.8H50.8M47.8 669.3H50.8M49.0 669.8H50.8M47.9 670.3H50.8M46.6 670.8H50.8M47.0 671.3H50.8M46.9 671.8H50.8M48.9 672.3H50.8M49.4 672.8H50.8M48.6 673.3H50.8M48.9 673.8H50.8M48.1 674.3H50.8M48.0 674.8H50.8M47.5 675.3H50.8M46.7 675.8H50.8M48.0 676.3H50.8M48.7 676.8H50.8M47.4 677.3H50.8M48.5 677.8H50.8M49.4 678.3H50.8M48.1 678.8H50.8M48.4 679.3H50.8M49.0 679.8H50.8M48.9 680.3H50.8M48.7 680.8H50.8M47.2 681.3H50.8M47.8 681.8H50.8M47.4 682.3H50.8M48.5 682.8H50.8M48.5 683.3H50.8M47.7 683.8H50.8M46.9 684.3H50.8M48.2 684.8H50.8M49.2 685.3H50.8M46.6 685.8H50.8M49.6 686.3H50.8M49.6 686.8H50.8M46.6 687.3H50.8M48.5 687.8H50.8M49.8 688.3H50.8M47.0 688.8H50.8M49.7 689.3H50.8" fill="none" stroke="#111" stroke-width="0.35" />
<text x="62.00" y="699.00" font-size="7.3" text-anchor="end" transform="rotate(-45 62.00 699.00)"><tspan font-style="italic">ZIC2<tspan font-size="4" dy="-2.5">-/-</tspan><tspan dy="2.5">&#8203;</tspan>ZIC3<tspan font-size="4" dy="-2.5">-/-</tspan><tspan dy="2.5">&#8203;</tspan></tspan></text>
<text x="67.00" y="704.00" font-size="7.3" text-anchor="end" transform="rotate(-45 67.00 704.00)">vs WT</text>
<text x="88.50" y="697.00" font-size="7.3" text-anchor="end" transform="rotate(-45 88.50 697.00)">EZHi 7d</text>
<text x="95.50" y="700.00" font-size="7.3" text-anchor="end" transform="rotate(-45 95.50 700.00)">vs DMSO</text>
<text x="118.00" y="696.00" font-size="7.3" text-anchor="end" transform="rotate(-45 118.00 696.00)"><tspan font-style="italic">EED<tspan font-size="4" dy="-2.5">-/-</tspan><tspan dy="2.5">&#8203;</tspan></tspan></text>
<text x="123.50" y="700.50" font-size="7.3" text-anchor="end" transform="rotate(-45 123.50 700.50)">vs WT</text>
<text x="153.20" y="691.00" font-size="7.3" text-anchor="middle">Expression</text>
<text x="152.50" y="698.50" font-size="7.3" text-anchor="middle">log<tspan font-size="3.8" dy="1.3">2</tspan><tspan dy="-1.3">&#8203;</tspan>FC</text>
<defs><linearGradient id="cbk" x1="0" y1="0" x2="1" y2="0"><stop offset="0" stop-color="#053061"/><stop offset="0.1" stop-color="#2166ac"/><stop offset="0.25" stop-color="#4393c3"/><stop offset="0.38" stop-color="#92c5de"/><stop offset="0.46" stop-color="#d1e5f0"/><stop offset="0.5" stop-color="#f4f2f0"/><stop offset="0.56" stop-color="#fde1d0"/><stop offset="0.65" stop-color="#f4a582"/><stop offset="0.78" stop-color="#d6604d"/><stop offset="0.9" stop-color="#b2182b"/><stop offset="1" stop-color="#67001f"/></linearGradient></defs>
<rect x="140.40" y="701.70" width="20.80" height="6.20" fill="url(#cbk)" />
<text x="132.00" y="713.00" font-size="7.3">&lt;-6</text>
<text x="157.80" y="713.00" font-size="7.3">&gt;6</text>
<text x="181.00" y="577.50" font-size="9" font-weight="bold">l</text>
<text x="271.90" y="585.90" font-size="7.3" text-anchor="middle" font-weight="bold">Bivalent promoters</text>
<line x1="219.70" y1="599.60" x2="219.70" y2="682.00" stroke="#444" stroke-width="0.8" />
<line x1="219.30" y1="681.60" x2="316.70" y2="681.60" stroke="#444" stroke-width="0.8" />
<line x1="217.30" y1="617.80" x2="219.70" y2="617.80" stroke="#444" stroke-width="0.8" />
<text x="215.60" y="620.90" font-size="8.8" text-anchor="end">3.0</text>
<line x1="217.30" y1="641.60" x2="219.70" y2="641.60" stroke="#444" stroke-width="0.8" />
<text x="215.60" y="644.70" font-size="8.8" text-anchor="end">2.0</text>
<line x1="217.30" y1="665.80" x2="219.70" y2="665.80" stroke="#444" stroke-width="0.8" />
<text x="215.60" y="668.90" font-size="8.8" text-anchor="end">1.0</text>
<line x1="219.70" y1="681.60" x2="219.70" y2="684.00" stroke="#444" stroke-width="0.8" />
<text x="219.70" y="692.20" font-size="7.6" text-anchor="middle">-20000</text>
<line x1="267.40" y1="681.60" x2="267.40" y2="684.00" stroke="#444" stroke-width="0.8" />
<text x="267.40" y="692.20" font-size="7.6" text-anchor="middle">TSS</text>
<line x1="316.10" y1="681.60" x2="316.10" y2="684.00" stroke="#444" stroke-width="0.8" />
<text x="316.10" y="692.20" font-size="7.6" text-anchor="middle">+20000</text>
<line x1="267.40" y1="599.60" x2="267.40" y2="681.60" stroke="#333" stroke-width="0.6" stroke-dasharray="2 1.3"/>
<path d="M219.7 677.6L220.2 676.8L220.7 676.8L221.2 676.5L221.7 676.4L222.2 675.6L222.7 675.7L223.2 675.5L223.7 675.5L224.2 675.6L224.7 675.9L225.2 676.1L225.7 676.2L226.2 676.7L226.7 676.6L227.2 675.9L227.7 676.9L228.2 676.4L228.7 676.1L229.2 676.1L229.7 675.8L230.2 675.5L230.7 675.1L231.2 675.3L231.7 674.9L232.2 675.7L232.7 675.2L233.2 675.7L233.7 675.9L234.2 676.1L234.7 676.1L235.2 676.3L235.7 675.1L236.1 675.8L236.6 675.5L237.1 675.2L237.6 675.4L238.1 674.5L238.6 674.6L239.1 674.0L239.6 674.6L240.1 674.2L240.6 674.4L241.1 675.6L241.6 675.3L242.1 675.3L242.6 675.3L243.1 674.9L243.6 674.8L244.1 675.0L244.6 674.1L245.1 674.3L245.6 673.5L246.1 673.8L246.6 673.3L247.1 673.9L247.6 673.7L248.1 673.4L248.6 673.2L249.1 673.7L249.6 674.0L250.1 673.8L250.6 674.1L251.1 674.2L251.6 673.7L252.1 673.3L252.6 673.3L253.1 672.6L253.6 672.6L254.1 672.0L254.6 672.2L255.1 671.6L255.6 671.3L256.1 671.6L256.6 671.4L257.1 671.3L257.6 671.4L258.1 671.4L258.6 670.3L259.1 670.3L259.6 669.6L260.1 668.7L260.6 667.9L261.1 666.2L261.6 665.3L262.1 663.6L262.6 662.0L263.1 660.1L263.6 657.9L264.1 655.5L264.6 652.9L265.1 650.2L265.6 646.3L266.1 642.1L266.6 637.6L267.1 633.0L267.6 632.3L268.1 636.6L268.5 639.9L269.0 644.6L269.5 648.4L270.0 651.7L270.5 655.0L271.0 658.0L271.5 660.7L272.0 662.8L272.5 664.8L273.0 666.2L273.5 667.7L274.0 668.7L274.5 669.6L275.0 670.1L275.5 670.8L276.0 671.3L276.5 671.1L277.0 671.4L277.5 671.6L278.0 671.6L278.5 672.1L279.0 672.3L279.5 672.3L280.0 672.7L280.5 673.5L281.0 673.9L281.5 674.3L282.0 674.3L282.5 674.4L283.0 674.0L283.5 674.7L284.0 674.0L284.5 674.3L285.0 673.7L285.5 673.7L286.0 673.9L286.5 673.9L287.0 674.0L287.5 674.7L288.0 675.0L288.5 675.2L289.0 675.3L289.5 675.4L290.0 675.6L290.5 675.7L291.0 675.7L291.5 675.8L292.0 675.4L292.5 675.1L293.0 675.0L293.5 675.4L294.0 675.1L294.5 675.2L295.0 675.4L295.5 675.8L296.0 675.9L296.5 676.5L297.0 676.6L297.5 675.9L298.0 676.7L298.5 677.4L299.0 676.3L299.5 676.5L300.0 676.5L300.4 676.1L300.9 676.2L301.4 675.5L301.9 675.5L302.4 675.9L302.9 675.9L303.4 676.1L303.9 676.8L304.4 677.0L304.9 677.1L305.4 677.2L305.9 677.4L306.4 677.2L306.9 677.0L307.4 677.1L307.9 676.8L308.4 676.6L308.9 676.6L309.4 676.1L309.9 676.3L310.4 676.3L310.9 677.0L311.4 677.0L311.9 677.7L312.4 677.8L312.9 677.5L313.4 677.4L313.9 677.8L314.4 677.6L314.9 677.4L315.4 677.0L315.9 677.2L316.4 676.9" fill="none" stroke="#5b8fd9" stroke-width="0.8" stroke-linejoin="round"/>
<path d="M219.7 674.1L220.2 674.2L220.7 673.8L221.2 673.5L221.7 673.3L222.2 673.3L222.7 672.8L223.2 672.4L223.7 672.6L224.2 672.4L224.7 672.5L225.2 672.1L225.7 672.4L226.2 672.6L226.7 672.4L227.2 673.1L227.7 673.2L228.2 673.7L228.7 673.2L229.2 672.9L229.7 673.1L230.2 672.5L230.7 672.4L231.2 671.8L231.7 671.7L232.2 671.8L232.7 671.6L233.2 671.5L233.7 671.3L234.2 671.8L234.7 671.9L235.2 672.2L235.7 672.2L236.1 672.4L236.6 672.0L237.1 671.9L237.6 671.7L238.1 671.0L238.6 670.8L239.1 670.5L239.6 670.9L240.1 670.2L240.6 670.3L241.1 670.3L241.6 670.1L242.1 669.9L242.6 670.7L243.1 670.4L243.6 670.7L244.1 670.2L244.6 670.2L245.1 670.4L245.6 670.1L246.1 669.1L246.6 668.7L247.1 668.7L247.6 668.6L248.1 668.2L248.6 668.2L249.1 667.8L249.6 668.2L250.1 668.4L250.6 668.1L251.1 667.9L251.6 668.0L252.1 668.2L252.6 667.3L253.1 667.3L253.6 666.7L254.1 666.4L254.6 665.9L255.1 665.5L255.6 665.4L256.1 664.8L256.6 664.7L257.1 664.0L257.6 663.6L258.1 663.5L258.6 662.3L259.1 662.4L259.6 661.7L260.1 660.3L260.6 659.4L261.1 657.5L261.6 655.0L262.1 653.3L262.6 650.4L263.1 647.5L263.6 644.2L264.1 640.6L264.6 635.9L265.1 630.9L265.6 625.5L266.1 618.9L266.6 613.3L267.1 606.4L267.6 605.6L268.1 611.3L268.5 617.9L269.0 624.3L269.5 630.6L270.0 635.5L270.5 639.7L271.0 643.7L271.5 647.0L272.0 650.4L272.5 652.9L273.0 655.7L273.5 657.2L274.0 659.3L274.5 660.7L275.0 662.0L275.5 663.4L276.0 664.0L276.5 664.7L277.0 665.3L277.5 665.5L278.0 665.1L278.5 665.8L279.0 665.5L279.5 666.2L280.0 667.0L280.5 666.9L281.0 667.3L281.5 667.9L282.0 668.3L282.5 668.7L283.0 668.9L283.5 669.6L284.0 669.7L284.5 669.4L285.0 669.5L285.5 669.5L286.0 669.6L286.5 669.4L287.0 669.5L287.5 669.4L288.0 669.4L288.5 669.8L289.0 670.5L289.5 670.9L290.0 671.1L290.5 671.2L291.0 671.6L291.5 672.1L292.0 672.1L292.5 671.5L293.0 671.6L293.5 671.1L294.0 671.0L294.5 671.3L295.0 671.3L295.5 671.6L296.0 671.9L296.5 672.0L297.0 672.4L297.5 672.3L298.0 672.5L298.5 673.1L299.0 673.8L299.5 673.3L300.0 672.9L300.4 673.2L300.9 673.3L301.4 672.5L301.9 672.8L302.4 672.4L302.9 672.9L303.4 672.8L303.9 672.9L304.4 673.5L304.9 673.2L305.4 673.4L305.9 674.3L306.4 673.9L306.9 674.8L307.4 674.2L307.9 673.9L308.4 674.0L308.9 673.9L309.4 673.7L309.9 673.4L310.4 673.7L310.9 672.8L311.4 673.3L311.9 673.6L312.4 674.3L312.9 673.6L313.4 674.3L313.9 674.4L314.4 674.6L314.9 675.0L315.4 675.0L315.9 675.1L316.4 674.4" fill="none" stroke="#e05a5c" stroke-width="0.8" stroke-linejoin="round"/>
<text x="277.50" y="607.00" font-size="8.7" fill="#d9454f">WT</text>
<text x="277.50" y="615.60" font-size="8.9" fill="#4f86d9"><tspan font-style="italic">ZIC2<tspan font-size="4" dy="-2.5">-/-</tspan><tspan dy="2.5">&#8203;</tspan>ZIC3<tspan font-size="4" dy="-2.5">-/-</tspan><tspan dy="2.5">&#8203;</tspan></tspan></text>
<text x="189.60" y="644.60" font-size="7.3" text-anchor="middle" transform="rotate(-90 189.60 644.60)">Normalised EZH2</text>
<text x="197.60" y="644.60" font-size="7.3" text-anchor="middle" transform="rotate(-90 197.60 644.60)">CUT&amp;Tag signal (CPB)</text>
<defs><filter id="bm" x="-10%" y="-10%" width="120%" height="120%"><feGaussianBlur stdDeviation="0.5"/></filter></defs>
<text x="334.40" y="578.10" font-size="9" font-weight="bold">m</text>
<text x="434.30" y="585.70" font-size="7.3" text-anchor="middle" font-weight="bold">All H3K27me3 peaks</text>
<g filter="url(#bm)">
<path d="M371.4 674.7L373.2 673.0L375.0 671.3L376.8 669.7L378.6 668.1L380.5 666.6L382.4 665.0L384.3 663.6L386.2 662.1L388.2 660.7L390.1 659.3L392.1 657.9L394.1 656.5L396.1 655.1L398.1 653.8L400.1 652.5L402.1 651.1L404.2 649.8L406.2 648.5L408.3 647.3L410.3 646.0L412.4 644.7L414.4 643.4L416.5 642.2L418.5 640.9L420.6 639.7L422.7 638.4L424.7 637.1L426.8 635.9L428.9 634.6L430.9 633.4L433.0 632.1L435.0 630.7L436.9 629.3L438.9 627.9L440.9 626.5L442.9 625.2L444.9 623.8L446.9 622.5L448.9 621.2L451.1 620.2L451.1 620.2L449.5 622.0L447.6 623.6L445.8 625.2L443.9 626.8L442.1 628.3L440.2 629.8L438.3 631.4L436.4 632.9L434.5 634.4L432.7 636.0L430.9 637.7L429.1 639.3L427.3 641.0L425.5 642.6L423.7 644.3L421.9 645.9L420.1 647.6L418.3 649.2L416.5 650.8L414.7 652.5L412.9 654.1L411.1 655.7L409.2 657.3L407.4 658.9L405.6 660.5L403.7 662.1L401.9 663.7L400.0 665.2L398.1 666.8L396.2 668.3L394.3 669.8L392.4 671.2L390.5 672.7L388.5 674.1L386.5 675.5L384.5 676.9L382.5 678.2L380.5 679.5L378.4 680.7L376.3 681.9Z" fill="#3e41a1" opacity="0.5"/>
<path d="M373.3 674.5L374.9 673.1L376.5 671.6L378.1 670.2L379.7 668.8L381.3 667.4L383.0 666.1L384.7 664.8L386.4 663.5L388.1 662.2L389.8 660.9L391.5 659.7L393.2 658.5L395.0 657.2L396.7 656.0L398.5 654.8L400.2 653.6L402.0 652.5L403.8 651.3L405.6 650.1L407.4 649.0L409.1 647.8L410.9 646.7L412.7 645.5L414.5 644.4L416.3 643.3L418.1 642.1L419.9 641.0L421.7 639.9L423.5 638.7L425.3 637.6L427.1 636.4L428.9 635.3L430.7 634.2L432.5 633.0L434.3 631.8L436.0 630.6L437.8 629.4L439.5 628.2L441.3 627.1L443.2 626.1L443.2 626.1L441.7 627.7L440.1 629.1L438.5 630.5L436.8 631.8L435.2 633.2L433.5 634.6L431.9 636.0L430.3 637.4L428.7 638.8L427.1 640.2L425.5 641.7L423.9 643.1L422.3 644.5L420.7 645.9L419.1 647.4L417.5 648.8L415.9 650.2L414.3 651.6L412.7 653.0L411.0 654.5L409.4 655.9L407.8 657.3L406.2 658.6L404.5 660.0L402.9 661.4L401.3 662.8L399.6 664.1L397.9 665.4L396.3 666.8L394.6 668.1L392.9 669.4L391.2 670.7L389.5 671.9L387.8 673.2L386.0 674.4L384.3 675.6L382.5 676.8L380.7 677.9L378.9 679.0L377.0 680.1Z" fill="#7440a4" />
<path d="M375.8 673.8L377.1 672.6L378.4 671.4L379.8 670.2L381.2 669.0L382.5 667.9L383.9 666.8L385.3 665.7L386.7 664.6L388.1 663.5L389.5 662.4L391.0 661.4L392.4 660.3L393.8 659.3L395.3 658.2L396.7 657.2L398.2 656.2L399.7 655.2L401.1 654.2L402.6 653.2L404.1 652.2L405.5 651.2L407.0 650.2L408.5 649.3L410.0 648.3L411.5 647.3L413.0 646.4L414.4 645.4L415.9 644.4L417.4 643.5L418.9 642.5L420.4 641.5L421.9 640.6L423.4 639.6L424.9 638.7L426.4 637.7L427.9 636.7L429.4 635.8L430.9 634.8L432.4 633.9L434.0 633.1L434.0 633.1L432.7 634.4L431.4 635.6L430.0 636.8L428.7 637.9L427.3 639.1L426.0 640.3L424.6 641.5L423.3 642.7L422.0 643.8L420.6 645.0L419.3 646.2L417.9 647.4L416.6 648.5L415.2 649.7L413.9 650.9L412.5 652.0L411.1 653.2L409.8 654.4L408.4 655.5L407.1 656.7L405.7 657.8L404.3 659.0L403.0 660.1L401.6 661.2L400.2 662.4L398.8 663.5L397.4 664.6L396.0 665.7L394.6 666.8L393.2 667.8L391.8 668.9L390.3 670.0L388.9 671.0L387.5 672.0L386.0 673.1L384.5 674.1L383.1 675.0L381.6 676.0L380.1 676.9L378.5 677.8Z" fill="#c3438e" />
<path d="M378.9 672.4L379.9 671.5L381.0 670.5L382.0 669.6L383.1 668.7L384.2 667.8L385.3 666.9L386.4 666.0L387.5 665.1L388.6 664.3L389.7 663.4L390.8 662.6L392.0 661.7L393.1 660.9L394.2 660.1L395.4 659.3L396.5 658.4L397.7 657.6L398.8 656.8L400.0 656.0L401.1 655.2L402.3 654.4L403.4 653.6L404.6 652.8L405.8 652.1L406.9 651.3L408.1 650.5L409.3 649.7L410.4 649.0L411.6 648.2L412.8 647.4L413.9 646.6L415.1 645.9L416.3 645.1L417.5 644.3L418.7 643.6L419.8 642.8L421.0 642.1L422.2 641.3L423.4 640.6L424.7 640.0L424.7 640.0L423.8 641.1L422.7 642.1L421.7 643.1L420.6 644.0L419.6 644.9L418.5 645.9L417.4 646.8L416.4 647.7L415.3 648.6L414.2 649.6L413.1 650.5L412.1 651.4L411.0 652.3L409.9 653.2L408.8 654.1L407.8 655.0L406.7 655.9L405.6 656.8L404.5 657.7L403.4 658.6L402.3 659.5L401.2 660.4L400.1 661.3L399.0 662.2L397.9 663.1L396.8 663.9L395.7 664.8L394.6 665.6L393.5 666.5L392.3 667.3L391.2 668.2L390.1 669.0L388.9 669.8L387.8 670.6L386.6 671.4L385.5 672.2L384.3 673.0L383.1 673.7L381.9 674.5L380.7 675.2Z" fill="#ea6c63" />
<path d="M381.8 670.9L382.7 670.2L383.5 669.5L384.3 668.8L385.1 668.1L385.9 667.4L386.8 666.7L387.6 666.1L388.5 665.4L389.3 664.7L390.2 664.1L391.0 663.4L391.9 662.8L392.7 662.1L393.6 661.5L394.5 660.9L395.3 660.2L396.2 659.6L397.1 659.0L397.9 658.3L398.8 657.7L399.7 657.1L400.6 656.5L401.5 655.9L402.3 655.3L403.2 654.7L404.1 654.0L405.0 653.4L405.9 652.8L406.8 652.2L407.7 651.6L408.6 651.0L409.4 650.5L410.3 649.9L411.2 649.3L412.1 648.7L413.0 648.1L413.9 647.5L414.9 647.0L415.8 646.4L416.8 646.0L416.8 646.0L416.1 646.9L415.3 647.6L414.5 648.3L413.7 649.1L412.9 649.8L412.0 650.5L411.2 651.2L410.4 651.9L409.6 652.6L408.8 653.3L407.9 654.0L407.1 654.7L406.3 655.3L405.4 656.0L404.6 656.7L403.8 657.4L402.9 658.1L402.1 658.8L401.3 659.4L400.4 660.1L399.6 660.8L398.7 661.5L397.9 662.1L397.0 662.8L396.2 663.4L395.3 664.1L394.5 664.8L393.6 665.4L392.8 666.0L391.9 666.7L391.0 667.3L390.2 667.9L389.3 668.6L388.4 669.2L387.5 669.8L386.7 670.4L385.8 671.0L384.9 671.6L384.0 672.2L383.0 672.7Z" fill="#faac41" />
<path d="M384.8 669.4L385.3 668.9L385.9 668.4L386.5 667.9L387.0 667.4L387.6 667.0L388.2 666.5L388.8 666.0L389.4 665.6L390.0 665.1L390.5 664.7L391.1 664.2L391.7 663.7L392.3 663.3L392.9 662.8L393.5 662.4L394.1 662.0L394.7 661.5L395.3 661.1L395.9 660.6L396.5 660.2L397.1 659.8L397.7 659.3L398.3 658.9L398.9 658.5L399.5 658.0L400.1 657.6L400.7 657.2L401.4 656.8L402.0 656.3L402.6 655.9L403.2 655.5L403.8 655.1L404.4 654.7L405.0 654.3L405.7 653.8L406.3 653.4L406.9 653.0L407.5 652.6L408.2 652.3L408.9 652.0L408.9 652.0L408.4 652.6L407.8 653.1L407.3 653.6L406.7 654.1L406.1 654.5L405.6 655.0L405.0 655.5L404.4 656.0L403.8 656.5L403.3 656.9L402.7 657.4L402.1 657.9L401.5 658.4L401.0 658.8L400.4 659.3L399.8 659.8L399.2 660.2L398.6 660.7L398.0 661.2L397.5 661.6L396.9 662.1L396.3 662.5L395.7 663.0L395.1 663.4L394.5 663.9L393.9 664.3L393.3 664.8L392.7 665.2L392.1 665.7L391.5 666.1L390.9 666.5L390.3 667.0L389.7 667.4L389.1 667.8L388.5 668.3L387.9 668.7L387.3 669.1L386.7 669.5L386.0 669.9L385.4 670.3Z" fill="#fdda4f" />
</g>
<path d="M446.3 629.2h0M384.2 653.1h0M434.4 639.4h0M392.5 683.4h0M374.6 660.1h0M397.2 678.2h0M369.6 663.4h0M370.4 662.9h0M438.5 625.5h0M423.5 649.0h0M453.0 621.9h0M387.5 654.9h0M372.0 665.2h0M366.7 669.0h0M381.1 659.8h0M388.9 681.0h0M407.0 663.8h0M396.0 651.8h0M425.0 635.4h0M412.2 658.0h0M401.4 668.4h0M411.7 658.4h0M437.0 633.4h0M426.7 634.6h0M416.7 640.4h0M419.2 650.8h0M452.2 621.0h0M385.0 682.0h0M374.6 665.9h0M441.5 629.6h0M385.4 659.0h0M423.8 645.9h0M396.1 672.5h0M414.0 655.5h0M403.3 665.8h0M407.2 662.1h0M393.0 675.2h0M436.7 633.4h0M449.6 619.7h0M409.8 644.9h0M387.4 658.1h0M379.2 663.4h0M449.5 622.8h0M428.8 640.8h0M399.9 668.5h0M402.3 666.2h0M446.9 621.7h0M401.6 649.9h0M395.4 653.6h0M424.6 644.6h0M377.9 664.9h0M396.6 671.0h0M448.1 621.1h0M381.5 662.6h0M427.3 641.9h0M387.9 678.0h0M402.4 665.6h0M392.1 674.6h0M451.5 620.4h0M396.5 670.7h0M372.4 669.4h0M387.0 659.2h0M390.5 657.0h0M426.1 635.7h0M429.4 639.8h0M386.2 678.9h0M378.7 664.8h0M450.9 620.0h0M373.0 669.3h0M385.7 660.3h0M418.9 640.2h0M393.8 672.8h0M369.4 672.4h0M379.1 664.8h0M426.6 635.6h0M404.3 663.3h0M400.4 666.8h0M434.0 631.1h0M383.7 680.2h0M435.9 633.4h0" fill="none" stroke="#342c82" stroke-width="0.9" stroke-linecap="square"/>
<path d="M390.3 657.5h0M397.2 669.5h0M432.6 632.1h0M448.5 622.1h0M387.1 677.6h0M444.5 624.2h0M411.0 656.8h0M430.3 638.5h0M430.7 633.3h0M397.9 668.8h0M384.9 679.0h0M396.6 653.9h0M431.3 637.5h0M397.2 653.5h0M429.8 639.0h0M390.4 674.9h0M435.8 630.1h0M440.1 627.1h0M410.8 656.8h0M437.7 628.8h0M415.7 642.4h0M409.5 657.9h0M441.0 626.6h0M383.6 679.6h0M443.6 626.6h0M397.4 653.5h0M390.9 674.4h0M446.3 623.9h0M446.2 623.6h0M378.8 665.7h0M414.8 643.0h0M383.6 679.6h0M441.8 628.2h0M436.7 632.4h0M377.9 666.4h0M393.9 671.8h0M418.6 649.3h0M442.6 625.7h0M380.6 664.5h0M382.6 663.2h0M394.4 671.3h0M397.9 653.4h0M444.0 624.9h0M427.2 641.2h0M403.1 663.6h0M392.4 672.8h0M409.2 657.9h0M386.5 660.6h0M389.9 658.4h0M386.3 660.8h0M406.7 660.2h0M444.1 625.2h0M401.0 665.4h0M441.6 626.5h0M433.1 632.1h0M390.8 657.9h0M393.3 671.9h0M395.8 669.9h0M432.5 632.5h0M383.5 662.8h0M380.2 665.1h0M399.6 652.5h0M405.7 661.0h0M435.0 633.7h0M380.6 664.9h0M397.0 668.8h0M390.5 658.2h0M396.3 669.4h0M383.5 662.9h0M434.0 634.6h0M405.7 661.0h0M398.9 667.0h0M410.7 656.3h0M399.0 653.0h0M442.9 626.3h0M427.0 641.0h0M406.7 659.9h0M433.4 635.1h0M381.0 680.3h0M385.0 662.0h0M420.1 640.2h0M378.6 666.6h0M399.9 652.5h0M402.0 664.2h0M379.8 665.7h0M424.4 643.4h0M432.8 635.7h0M396.3 669.1h0M440.1 629.1h0M442.2 626.8h0M441.4 627.9h0M442.2 626.9h0M441.9 627.0h0M387.9 675.7h0M381.4 664.7h0M398.7 667.0h0M426.4 636.4h0M408.7 657.9h0M439.5 629.6h0M399.1 653.1h0M432.6 635.7h0M412.6 654.3h0M439.6 629.4h0M374.8 670.1h0M390.2 658.8h0M401.6 664.2h0M424.7 642.9h0M415.8 651.3h0M429.9 634.3h0M390.8 658.5h0M420.0 640.4h0M440.3 628.4h0M406.0 660.2h0" fill="none" stroke="#38358f" stroke-width="0.9" stroke-linecap="square"/>
<path d="M386.6 661.3h0M386.8 676.1h0M394.2 670.6h0M432.3 632.9h0M378.0 667.6h0M382.5 678.8h0M405.8 660.3h0M404.1 661.8h0M422.1 639.2h0M402.1 651.5h0M401.5 664.1h0M382.1 664.6h0M415.4 643.4h0M400.8 664.8h0M391.1 672.9h0M392.3 657.6h0M388.9 659.9h0M400.1 652.8h0M418.7 648.4h0M385.8 662.0h0M427.5 640.2h0M408.5 657.8h0M430.8 634.0h0M438.8 629.7h0M390.4 673.2h0M409.8 656.6h0M405.9 660.1h0M434.4 633.8h0M427.8 635.9h0M434.4 631.8h0M389.6 673.7h0M387.0 675.6h0M393.7 670.5h0M383.7 677.6h0M427.4 640.1h0M389.6 673.7h0M397.2 667.6h0M383.5 663.8h0M397.1 667.7h0M434.2 633.8h0M388.8 660.2h0M415.8 650.9h0M413.5 653.0h0M427.9 635.9h0M433.7 634.3h0M383.1 664.3h0M384.5 663.2h0M431.2 636.6h0M375.3 670.6h0M429.2 638.3h0M387.9 660.9h0M392.7 657.7h0M433.2 634.7h0M377.8 668.5h0M379.5 667.0h0M431.0 634.0h0M408.3 657.6h0M390.7 672.6h0M415.9 643.3h0M394.4 656.7h0M403.8 661.6h0M386.8 675.4h0M436.1 631.7h0M383.0 677.7h0M403.8 650.8h0M371.6 674.9h0M388.3 674.3h0M428.1 635.9h0M419.3 647.5h0M377.2 669.2h0M383.6 677.3h0M392.0 658.3h0M400.3 664.6h0M391.3 672.0h0M385.9 675.8h0M400.2 653.1h0M405.2 660.3h0M413.4 652.9h0M376.5 669.9h0M403.4 661.9h0M425.9 637.3h0M415.3 643.8h0M392.3 671.2h0M408.9 656.9h0M416.7 642.9h0M400.9 652.8h0M427.1 636.6h0M402.5 662.6h0M377.5 680.1h0M411.9 645.9h0M407.6 658.0h0" fill="none" stroke="#3d3f9d" stroke-width="0.9" stroke-linecap="square"/>
<path d="M431.3 636.1h0M430.4 637.0h0M392.7 670.8h0M376.5 680.4h0M403.8 661.3h0M428.6 635.7h0M417.8 648.7h0M387.8 661.3h0M405.8 659.6h0M388.7 673.7h0M405.2 660.0h0M398.2 666.3h0M406.1 649.6h0M385.2 676.0h0M396.0 668.0h0M388.8 673.5h0M404.4 660.8h0M386.9 674.8h0M414.3 644.6h0M424.1 642.8h0M398.2 654.6h0M415.3 650.9h0M388.9 660.7h0M394.4 657.1h0M405.3 650.1h0M372.3 675.3h0M398.9 665.5h0M425.5 637.7h0M405.0 660.1h0M405.9 659.3h0M394.8 656.8h0M433.7 633.4h0M411.6 654.2h0M426.3 637.3h0M433.6 633.3h0M383.8 664.4h0M424.3 642.5h0M385.0 675.8h0M386.3 662.6h0M398.2 654.7h0M382.8 665.2h0M430.0 637.1h0M408.9 656.5h0M385.1 663.5h0M371.9 676.7h0M383.4 664.8h0M410.6 646.9h0M403.6 661.2h0M432.4 633.9h0M389.7 660.3h0M432.3 634.6h0M372.2 676.3h0M413.1 645.4h0M379.1 668.4h0M425.5 641.1h0M382.8 665.4h0M400.5 653.4h0M414.7 644.5h0M429.8 637.0h0M402.2 662.4h0M429.5 635.6h0M428.1 638.7h0M377.1 670.4h0M395.6 667.9h0M393.9 669.3h0M390.8 659.8h0M395.7 667.8h0M394.0 669.2h0" fill="none" stroke="#4547a9" stroke-width="0.9" stroke-linecap="square"/>
<path d="M411.9 653.6h0M388.4 673.2h0M401.4 662.9h0M430.0 635.4h0M431.5 635.0h0M403.7 660.9h0M416.6 649.3h0M429.0 636.0h0M428.9 637.8h0M394.1 669.0h0M401.7 652.7h0M415.0 650.8h0M384.1 664.6h0M412.7 645.9h0M397.0 666.6h0M390.9 671.4h0M407.1 657.8h0M392.9 669.9h0M402.9 652.0h0M393.5 658.0h0M375.3 672.7h0M405.2 659.5h0M429.1 636.0h0M429.7 636.9h0M417.6 648.3h0M383.2 665.3h0M403.2 661.3h0M378.4 669.4h0M416.0 643.9h0M376.3 671.5h0M407.8 648.9h0M418.5 647.4h0M425.4 641.0h0M410.8 654.4h0M386.0 663.3h0M390.9 671.3h0M428.1 638.4h0M384.8 675.3h0M424.0 639.0h0M427.4 637.0h0M397.4 666.1h0M385.2 663.9h0M382.5 666.1h0M379.2 678.0h0M387.5 662.3h0M391.0 671.2h0M421.7 644.4h0M388.4 673.0h0M385.6 674.8h0M392.8 669.8h0M386.9 673.9h0M381.6 666.8h0M411.8 646.6h0M382.3 666.3h0M393.8 669.0h0M419.6 646.3h0M425.3 638.4h0M424.2 639.0h0M408.0 649.0h0M379.9 668.4h0M386.3 663.2h0M379.3 677.8h0M428.7 636.5h0M412.1 646.4h0M413.7 651.6h0M429.0 637.2h0M417.2 643.3h0M412.5 652.7h0M383.9 665.1h0M389.5 661.0h0M422.9 643.2h0M420.6 645.3h0M399.8 664.0h0M420.7 645.2h0M380.4 668.1h0M407.0 657.7h0M385.6 674.6h0M402.3 652.6h0M414.6 644.9h0M385.4 664.0h0M426.8 637.6h0M405.3 659.2h0M395.6 667.4h0M403.2 660.9h0M415.1 644.6h0M384.7 675.0h0M391.3 659.9h0" fill="none" stroke="#5f43a6" stroke-width="0.9" stroke-linecap="square"/>
<path d="M382.4 676.1h0M422.5 643.4h0M382.3 666.6h0M390.2 671.4h0M384.1 665.1h0M411.0 653.9h0M406.2 650.2h0M414.7 650.6h0M377.6 671.0h0M417.5 648.0h0M412.5 646.3h0M404.3 651.5h0M392.3 669.9h0M374.6 676.6h0M421.5 644.3h0M409.7 648.1h0M387.9 662.3h0M416.8 648.7h0M376.5 672.5h0M410.3 647.7h0M404.3 659.9h0M384.1 675.1h0M398.7 655.1h0M424.6 639.1h0M388.4 672.5h0M427.7 638.0h0M385.6 664.1h0M417.2 643.5h0M398.8 655.1h0M416.2 644.2h0M393.0 669.2h0M408.6 648.8h0M420.6 645.0h0M381.2 676.4h0M411.3 647.1h0M378.9 677.2h0M382.0 667.0h0M401.1 653.6h0M426.0 639.8h0M426.7 638.1h0M426.9 638.0h0M425.9 638.5h0M399.3 664.1h0M415.0 644.9h0M384.3 665.2h0M383.0 666.3h0M375.3 675.1h0M404.9 659.2h0M395.5 667.2h0M382.2 675.9h0M380.1 668.8h0M398.0 665.2h0M426.8 638.9h0M389.1 671.9h0M402.6 652.7h0M426.4 638.3h0M421.5 641.0h0M387.0 663.2h0M425.2 640.5h0M402.5 652.8h0M418.7 642.7h0M426.8 638.7h0M391.6 670.1h0M389.2 671.8h0M378.9 670.1h0M401.4 653.5h0M379.6 669.5h0M426.2 639.4h0M394.7 667.7h0M381.6 667.6h0M402.1 653.1h0M407.4 656.9h0M413.1 651.8h0M390.9 660.5h0M391.6 670.0h0M394.8 667.6h0M390.3 660.9h0M377.7 671.6h0M388.7 672.0h0M420.4 641.8h0M378.3 670.9h0M377.7 676.9h0M382.2 675.6h0" fill="none" stroke="#7940a3" stroke-width="0.9" stroke-linecap="square"/>
<path d="M384.6 665.2h0M415.7 649.3h0M377.6 671.9h0M392.4 669.4h0M377.0 676.6h0M422.6 640.6h0M383.6 666.1h0M402.1 653.2h0M404.3 659.5h0M379.3 670.1h0M419.7 645.6h0M392.6 659.5h0M395.9 666.6h0M425.4 639.3h0M393.5 668.5h0M383.6 666.2h0M414.4 650.5h0M387.9 662.8h0M383.5 674.8h0M417.1 643.9h0M425.4 639.4h0M381.8 675.6h0M422.3 640.8h0M379.4 676.3h0M378.5 671.2h0M420.0 645.2h0M424.5 640.8h0M388.3 672.1h0M408.2 649.4h0M424.6 639.7h0M392.3 669.2h0M381.6 668.0h0M416.8 648.2h0M377.8 672.1h0M417.2 647.8h0M392.2 669.3h0M377.2 673.2h0M386.6 663.9h0M424.6 640.4h0M384.7 665.3h0M424.6 640.5h0M396.0 666.4h0M377.7 672.4h0M383.4 666.5h0M423.3 640.5h0M385.2 665.0h0M403.2 652.7h0M392.4 669.1h0M391.1 670.1h0M417.5 643.7h0M396.7 665.8h0M391.4 660.4h0M389.1 662.0h0M421.5 643.6h0M395.4 666.8h0M387.4 663.3h0M388.3 662.6h0M394.2 658.6h0M391.6 669.6h0M422.4 642.7h0M391.0 660.7h0M409.3 648.8h0M383.5 674.5h0M423.9 641.0h0M421.1 644.0h0M384.8 673.9h0M388.4 662.6h0M401.7 661.5h0M387.0 672.6h0M396.6 657.0h0M422.0 641.3h0M386.1 664.4h0M379.9 669.9h0M423.2 641.8h0M392.2 669.1h0M422.5 642.5h0" fill="none" stroke="#933ca0" stroke-width="0.9" stroke-linecap="square"/>
<path d="M415.6 645.0h0M390.3 670.5h0M400.4 654.6h0M378.5 675.7h0M410.1 648.4h0M393.1 668.4h0M423.6 641.1h0M384.6 665.7h0M423.1 641.7h0M407.5 656.3h0M407.5 656.3h0M390.7 661.1h0M392.6 659.8h0M410.3 648.3h0M384.6 665.7h0M395.9 666.2h0M381.9 674.9h0M377.6 674.1h0M396.3 665.9h0M402.7 660.5h0M382.8 667.4h0M380.8 675.2h0M377.8 674.7h0M414.8 649.7h0M422.8 641.9h0M387.3 672.2h0M377.8 674.2h0M417.9 646.8h0M384.4 673.8h0M404.8 658.6h0M378.6 675.2h0M420.9 642.1h0M386.2 664.6h0M420.1 644.6h0M378.7 675.2h0M407.1 650.4h0M382.2 674.7h0M422.7 641.7h0M383.8 666.6h0M410.6 653.5h0M416.0 644.9h0M394.2 658.8h0M387.4 663.6h0M421.5 641.8h0M384.6 673.6h0M421.9 641.7h0M378.1 674.3h0M397.4 664.9h0M408.3 655.5h0M391.5 660.7h0M398.2 664.2h0M420.0 642.7h0M378.3 674.3h0M390.4 670.1h0M379.6 671.0h0M421.8 642.7h0M378.3 673.7h0M390.7 669.9h0M392.9 659.7h0M380.5 670.0h0M422.1 641.9h0M380.1 675.0h0M387.2 672.1h0M399.8 655.2h0M380.0 670.5h0M380.7 674.9h0M387.6 671.8h0M381.5 674.7h0M394.1 658.9h0M382.0 668.4h0M381.9 668.5h0M392.2 668.8h0M394.6 667.0h0M379.1 674.8h0M397.0 657.0h0M412.5 651.6h0M388.8 662.7h0M382.1 668.3h0M384.5 666.2h0M384.8 673.3h0M391.7 660.7h0M391.7 669.1h0M408.0 649.9h0" fill="none" stroke="#ab3f97" stroke-width="0.9" stroke-linecap="square"/>
<path d="M394.0 659.1h0M389.2 662.4h0M390.4 670.0h0M382.1 668.4h0M390.5 669.9h0M380.9 674.6h0M406.3 657.1h0M391.0 669.5h0M379.7 671.3h0M379.2 672.2h0M387.0 664.2h0M380.4 674.5h0M416.0 648.3h0M393.3 667.8h0M421.0 643.2h0M421.0 643.1h0M386.9 672.0h0M396.3 657.6h0M386.9 664.3h0M379.1 673.9h0M395.8 665.9h0M416.8 647.5h0M389.4 662.4h0M384.5 666.3h0M381.5 674.3h0M388.6 671.0h0M417.5 644.3h0M412.2 651.7h0M396.2 665.6h0M420.5 643.6h0M410.9 652.9h0M419.4 644.8h0M418.0 646.3h0M379.2 673.3h0M386.4 672.3h0M411.5 652.4h0M417.9 646.4h0M417.0 644.6h0M410.1 648.8h0M402.3 653.7h0M395.3 658.4h0M413.5 646.7h0M419.1 643.5h0M386.2 672.3h0M409.6 654.1h0M384.2 673.3h0M415.9 645.3h0M384.1 666.7h0M381.4 669.4h0M416.6 647.6h0M388.6 663.1h0M412.2 647.5h0M406.7 656.6h0M390.6 669.6h0M390.4 669.8h0M390.3 669.8h0M389.1 670.6h0M406.4 651.1h0M379.7 673.9h0M380.0 674.0h0M414.1 649.9h0M380.3 671.0h0M389.3 662.6h0M412.8 651.1h0M418.3 645.9h0M382.8 673.7h0M393.3 667.7h0M416.7 647.5h0M385.7 665.4h0M413.6 650.3h0M383.3 673.5h0M379.8 671.9h0M380.3 674.0h0M379.6 673.5h0M420.2 643.5h0M395.5 666.0h0M419.4 643.6h0M382.6 673.7h0M385.7 672.4h0M407.0 650.8h0M380.3 671.4h0M382.2 673.7h0M403.0 653.4h0M415.5 645.6h0M388.9 663.0h0M413.5 646.8h0M407.9 650.3h0M403.9 658.9h0" fill="none" stroke="#c3438e" stroke-width="0.9" stroke-linecap="square"/>
<path d="M388.0 671.1h0M394.2 666.9h0M395.3 666.1h0M380.8 673.7h0M397.1 664.6h0M393.8 659.5h0M389.7 670.1h0M394.7 666.5h0M388.9 670.6h0M419.4 644.3h0M390.1 669.8h0M399.3 655.9h0M381.6 673.6h0M419.2 644.0h0M385.7 665.6h0M412.8 651.0h0M386.0 672.1h0M385.7 672.2h0M397.6 664.1h0M384.2 667.0h0M407.9 650.4h0M401.8 654.2h0M400.9 661.4h0M385.5 665.9h0M406.5 651.3h0M383.8 673.0h0M397.0 657.4h0M394.9 666.2h0M414.5 646.4h0M417.2 644.9h0M403.7 659.0h0M380.7 673.1h0M402.1 654.1h0M390.1 669.6h0M399.9 662.1h0M382.3 673.3h0M404.0 658.7h0M417.7 646.0h0M415.0 648.8h0M398.6 656.4h0M381.0 670.9h0M381.0 670.9h0M417.2 645.0h0M387.9 671.0h0M385.8 672.0h0M380.8 671.5h0M404.5 658.2h0M401.0 654.9h0M410.7 652.7h0M400.6 661.5h0M418.3 644.9h0M393.4 667.3h0M380.9 672.8h0M382.5 669.0h0M418.2 644.9h0M387.1 664.7h0M388.2 663.8h0M409.4 649.5h0M382.8 673.0h0M401.2 661.0h0M386.2 665.5h0M392.3 668.1h0M403.2 659.2h0M390.3 669.4h0M381.4 670.6h0M392.8 667.7h0M393.3 667.3h0M417.8 645.5h0M395.6 665.6h0M403.0 653.7h0M411.9 651.5h0M417.2 646.3h0M395.4 665.7h0M416.9 646.6h0M388.4 663.7h0M407.1 655.9h0M383.8 667.8h0M383.6 668.0h0M388.3 663.8h0M387.8 670.9h0M417.3 646.1h0M389.9 662.5h0" fill="none" stroke="#d94a82" stroke-width="0.9" stroke-linecap="square"/>
<path d="M387.7 670.9h0M390.7 669.1h0M387.4 664.6h0M406.1 651.7h0M395.6 658.6h0M388.6 670.3h0M388.0 664.1h0M410.8 648.8h0M381.8 670.4h0M395.9 658.4h0M385.7 671.8h0M389.9 662.7h0M410.7 652.5h0M411.2 648.6h0M412.8 650.6h0M407.0 651.2h0M406.4 656.3h0M397.0 664.3h0M387.4 664.7h0M382.2 672.7h0M413.8 649.6h0M393.0 660.4h0M387.4 664.7h0M394.6 666.2h0M387.9 670.7h0M401.6 660.5h0M401.4 654.8h0M416.7 645.8h0M405.7 652.0h0M384.7 672.1h0M386.0 665.9h0M381.6 671.4h0M400.8 655.2h0M387.3 664.8h0M402.4 659.7h0M409.6 653.4h0M398.0 657.1h0M396.6 664.6h0M411.0 652.1h0M384.3 667.6h0M408.6 650.2h0M381.8 671.0h0M415.1 646.5h0M414.7 646.7h0M385.1 666.8h0M382.5 669.8h0M410.3 652.8h0M405.9 656.7h0M382.4 672.3h0M382.7 669.6h0M391.7 661.5h0M410.8 649.0h0M415.8 647.3h0M388.4 670.2h0M415.6 646.3h0M390.3 662.5h0M412.0 651.2h0M398.5 663.0h0M383.1 672.3h0M397.1 657.8h0M381.9 671.4h0M406.8 655.9h0M382.3 670.4h0M405.8 656.7h0M383.9 672.1h0M402.0 654.5h0M386.7 665.5h0M396.5 664.6h0M393.4 660.3h0M402.1 659.9h0M405.4 652.4h0M394.0 659.9h0M384.5 667.7h0M391.1 662.0h0M382.2 671.4h0M383.8 672.0h0M385.6 671.4h0M388.9 663.7h0M395.9 664.9h0" fill="none" stroke="#e4606e" stroke-width="0.9" stroke-linecap="square"/>
<path d="M413.8 647.4h0M413.6 647.5h0M397.8 657.4h0M403.2 653.8h0M388.4 670.0h0M400.8 660.9h0M392.2 667.7h0M384.3 667.9h0M415.2 647.7h0M415.4 647.3h0M405.6 652.3h0M390.0 669.1h0M382.8 669.9h0M414.6 648.3h0M391.8 667.9h0M392.5 661.1h0M393.0 667.1h0M393.4 660.4h0M396.1 658.5h0M409.2 650.1h0M415.4 647.1h0M411.9 651.1h0M401.6 660.3h0M396.4 664.5h0M386.1 671.1h0M387.6 670.4h0M401.3 660.4h0M415.2 647.1h0M382.6 671.2h0M386.4 671.0h0M386.8 670.8h0M415.1 647.5h0M387.6 664.8h0M384.0 668.4h0M382.9 671.5h0M382.8 670.1h0M384.8 671.5h0M385.8 671.2h0M386.1 671.1h0M400.0 656.0h0M392.5 667.4h0M411.8 651.1h0M395.0 665.6h0M396.8 664.1h0M414.2 648.6h0M400.9 655.4h0M383.1 671.5h0M414.4 648.4h0M383.2 669.8h0M392.6 667.2h0M395.0 659.4h0M410.0 649.7h0M407.2 651.4h0M402.8 659.1h0M414.5 647.5h0M401.1 655.3h0M388.5 669.8h0M384.6 667.9h0M383.1 670.1h0M388.8 669.6h0M383.1 670.7h0M403.8 658.2h0M395.5 665.1h0M384.5 671.3h0M389.6 669.1h0M384.3 668.4h0M414.2 647.8h0M406.1 656.2h0M391.1 662.2h0M400.0 661.4h0M400.1 656.0h0M399.4 656.5h0M390.4 668.6h0M403.1 658.8h0M387.1 665.5h0M412.0 648.8h0M386.4 670.6h0M388.8 669.5h0M411.7 650.9h0M396.0 658.9h0M387.7 665.0h0M412.1 648.7h0M410.2 649.7h0M413.6 648.1h0M383.9 669.1h0M384.5 668.3h0M389.1 663.9h0M413.9 648.2h0M383.8 669.4h0M413.7 648.1h0M403.4 658.4h0" fill="none" stroke="#ef765a" stroke-width="0.9" stroke-linecap="square"/>
<path d="M396.3 658.6h0M409.4 653.1h0M412.7 648.5h0M386.9 670.4h0M398.2 657.4h0M405.1 657.0h0M408.5 653.9h0M387.6 665.2h0M398.8 662.3h0M384.3 668.7h0M409.1 650.5h0M405.0 653.0h0M383.6 670.4h0M407.0 655.2h0M384.8 668.0h0M406.2 652.2h0M394.6 665.6h0M408.9 653.5h0M397.2 663.6h0M384.9 670.9h0M387.0 670.2h0M399.1 656.8h0M412.7 648.6h0M394.2 665.9h0M392.2 661.6h0M386.0 666.8h0M399.2 656.8h0M412.2 648.9h0M407.2 655.0h0M397.4 663.4h0M393.3 666.5h0M407.5 654.7h0M388.9 664.2h0M384.8 668.3h0M405.7 652.6h0M388.9 669.3h0M393.9 666.1h0M386.7 666.2h0M401.6 655.2h0M402.5 659.1h0M408.1 654.2h0M384.6 668.6h0M386.6 666.3h0M389.8 668.7h0M388.9 664.2h0M405.7 656.3h0M384.7 670.6h0M385.1 670.6h0M385.2 670.6h0M387.2 670.0h0M390.7 662.8h0M411.6 650.7h0M411.9 650.4h0M408.9 653.3h0M389.4 663.9h0M398.4 662.4h0M396.0 664.3h0M391.3 662.4h0M404.5 653.5h0M384.4 669.9h0M401.6 655.3h0M391.4 667.6h0M386.5 670.1h0M394.7 660.0h0M399.0 661.9h0M384.9 668.6h0M412.0 649.9h0M401.2 655.6h0M385.1 670.3h0M390.2 668.3h0M403.5 654.1h0M384.8 670.2h0M392.2 661.8h0M395.7 664.5h0M403.2 658.3h0" fill="none" stroke="#f68e4b" stroke-width="0.9" stroke-linecap="square"/>
<path d="M409.6 652.5h0M384.7 669.8h0M386.4 670.0h0M391.1 662.7h0M384.7 669.6h0M392.1 661.9h0M401.1 660.1h0M405.8 656.0h0M394.5 665.4h0M405.0 656.7h0M389.3 664.1h0M407.2 654.7h0M389.1 668.8h0M394.4 660.3h0M384.9 669.3h0M387.5 665.8h0M385.3 669.9h0M411.1 650.8h0M385.2 669.8h0M389.7 663.9h0M399.3 657.0h0M396.0 664.2h0M386.1 669.9h0M387.1 669.6h0M385.0 669.4h0M404.5 657.0h0M385.2 668.7h0M393.9 660.7h0M408.4 651.3h0M405.7 652.9h0M385.2 669.1h0M388.0 665.4h0M405.7 652.9h0M410.4 651.3h0M402.9 654.6h0M399.9 661.0h0M394.1 665.6h0M410.6 650.4h0M396.8 658.7h0M402.7 654.8h0M391.0 667.6h0M385.5 668.3h0M385.3 668.8h0M407.8 651.7h0M390.1 663.6h0M385.4 669.2h0M407.3 654.4h0M386.6 667.0h0M385.5 669.4h0M398.1 657.9h0M385.6 668.4h0M409.6 652.2h0M401.8 655.4h0M398.2 657.9h0M388.2 665.4h0M404.5 657.0h0M403.6 657.7h0M386.1 667.7h0M385.6 668.8h0M390.2 663.6h0M387.4 666.2h0M397.0 663.2h0M389.1 664.6h0M393.7 665.7h0M410.2 651.0h0M397.3 662.9h0M390.5 667.8h0M409.7 651.0h0M407.9 653.7h0M405.0 653.5h0M410.0 651.4h0M385.8 668.6h0M387.4 666.3h0M394.4 665.2h0M408.9 651.3h0M395.1 664.7h0M386.3 669.3h0M386.7 667.0h0M392.7 666.4h0M386.0 669.1h0M406.0 655.5h0M386.2 669.2h0M407.3 654.3h0M409.0 652.5h0" fill="none" stroke="#f9a942" stroke-width="0.9" stroke-linecap="square"/>
<path d="M403.2 658.0h0M396.9 663.2h0M386.2 667.9h0M393.4 665.8h0M401.2 659.6h0M387.9 665.8h0M408.9 652.6h0M403.7 657.5h0M397.9 662.4h0M408.2 651.7h0M403.5 654.5h0M389.4 668.3h0M387.6 669.0h0M386.1 668.9h0M397.2 658.6h0M386.1 668.7h0M405.4 653.4h0M386.2 668.2h0M407.5 652.2h0M387.0 669.0h0M395.6 659.8h0M388.0 665.9h0M396.7 663.3h0M404.9 656.4h0M392.7 661.9h0M406.8 654.6h0M392.7 661.9h0M402.5 658.5h0M404.9 656.3h0M394.4 665.0h0M409.0 651.7h0M386.6 667.6h0M387.5 666.4h0M392.0 666.6h0M408.5 652.8h0M389.1 664.8h0M400.0 656.8h0M408.8 652.4h0M403.1 654.9h0M389.3 664.6h0M407.3 652.4h0M386.5 668.4h0M401.2 659.5h0M393.5 661.4h0M394.3 660.8h0M390.8 663.4h0M387.7 668.7h0M394.9 660.4h0M402.0 658.8h0M387.1 668.7h0M389.0 668.2h0M386.9 668.6h0M399.8 657.0h0M406.6 652.9h0M408.5 652.5h0M397.7 662.3h0M390.4 667.5h0M408.1 652.9h0M407.9 652.4h0M394.4 660.8h0M396.6 659.2h0M405.8 655.3h0M388.2 665.9h0M407.2 652.7h0M392.7 662.1h0M400.3 656.8h0M399.0 661.3h0M387.9 666.3h0M389.6 667.8h0M393.0 665.8h0M406.9 654.1h0M391.0 667.1h0M405.5 653.6h0M388.0 668.3h0M406.1 653.3h0M391.7 662.8h0M407.9 652.7h0M387.1 667.8h0M403.6 657.3h0M387.9 668.3h0M404.2 656.7h0M399.0 657.7h0" fill="none" stroke="#fcc23f" stroke-width="0.9" stroke-linecap="square"/>
<path d="M396.5 659.4h0M392.5 662.3h0M403.5 657.3h0M407.7 652.9h0M388.1 668.2h0M387.3 667.7h0M396.2 663.4h0M403.9 654.6h0M390.0 667.5h0M399.3 657.5h0M392.6 662.2h0M394.4 664.7h0M406.4 653.3h0M395.9 663.6h0M404.1 656.7h0M387.8 666.9h0M396.8 662.9h0M403.6 657.2h0M407.0 653.6h0M388.0 668.0h0M394.8 664.4h0M393.0 665.7h0M388.4 666.1h0M400.9 656.6h0M391.9 666.3h0M388.1 666.6h0M404.2 654.6h0M403.8 654.8h0M406.0 654.7h0M405.4 653.9h0M390.6 667.0h0M390.7 663.9h0M401.7 658.8h0M387.9 667.4h0M388.9 665.6h0M388.3 666.4h0M406.4 653.6h0M394.1 664.8h0M406.5 653.9h0M397.9 658.6h0M393.7 661.5h0M397.3 659.1h0M405.5 654.0h0M399.8 660.3h0M403.5 655.0h0M405.9 653.8h0M399.0 657.9h0M389.0 665.7h0M400.8 659.4h0M401.0 659.3h0M395.4 660.4h0M389.9 664.8h0M405.9 654.0h0M396.7 659.5h0M405.7 654.1h0M391.5 663.4h0M405.7 654.8h0M400.0 660.0h0M402.1 656.0h0M399.4 657.7h0M392.5 665.7h0M392.2 665.9h0M405.8 654.3h0M404.3 656.2h0M388.9 667.3h0M389.7 667.2h0M397.8 661.8h0M388.5 667.1h0M397.6 659.0h0M393.4 661.9h0M388.8 667.2h0M401.7 658.5h0M400.4 659.6h0M399.6 657.7h0M394.8 664.1h0" fill="none" stroke="#fdd64c" stroke-width="0.9" stroke-linecap="square"/>
<path d="M398.7 658.2h0M394.9 664.1h0M394.7 664.1h0M402.0 658.2h0M389.0 666.1h0M388.8 666.5h0M389.2 665.8h0M393.1 665.2h0M401.3 658.8h0M404.7 654.8h0M389.6 665.4h0M392.7 665.5h0M389.2 665.9h0M392.4 662.8h0M403.4 656.9h0M393.4 662.0h0M389.9 666.9h0M389.0 666.5h0M403.7 655.3h0M397.5 661.9h0M396.9 662.4h0M391.4 666.2h0M390.5 666.6h0M401.6 656.5h0M389.8 665.3h0M391.1 666.3h0M404.5 655.5h0M396.5 659.8h0M400.3 657.3h0M400.4 659.5h0M389.3 665.9h0M402.3 656.1h0M394.5 661.3h0M396.4 659.9h0M389.6 666.8h0M391.8 665.9h0M389.2 666.3h0M389.2 666.3h0M402.1 658.0h0M394.8 661.1h0M389.8 665.4h0M397.4 659.3h0M389.4 666.7h0M391.6 666.0h0M389.6 666.7h0M401.6 656.6h0M389.8 665.4h0M398.4 658.6h0M401.1 658.8h0M390.8 666.3h0M389.9 666.6h0M394.3 664.2h0M392.8 662.6h0M402.3 657.6h0M395.3 660.8h0M401.8 658.2h0M395.9 663.0h0M397.7 661.6h0M394.3 664.2h0M395.5 663.4h0M403.6 656.0h0M399.0 658.3h0M402.7 656.2h0M397.4 661.8h0M398.4 658.8h0M397.6 661.6h0M390.1 665.5h0M391.9 663.6h0M400.0 657.8h0M390.9 664.6h0M394.6 663.9h0M400.5 659.1h0M401.9 656.7h0M401.9 656.7h0M396.4 660.2h0M391.9 663.6h0M396.4 660.2h0M397.0 659.8h0M391.5 665.7h0M398.1 661.1h0M391.2 664.3h0M397.8 661.4h0M390.8 665.9h0M395.2 663.4h0M391.7 663.9h0M393.5 662.3h0M391.2 665.7h0M401.8 656.9h0M401.0 657.3h0M396.6 660.1h0M396.5 662.3h0M400.0 657.9h0M391.9 665.4h0M401.7 657.6h0M400.6 658.8h0M392.8 663.0h0M398.5 660.7h0M397.8 659.4h0M394.2 661.9h0M392.8 663.1h0M398.2 659.2h0M391.2 664.7h0M395.7 660.9h0M400.4 657.9h0M391.1 664.9h0M401.0 657.7h0M397.4 659.8h0M393.1 662.9h0M393.1 664.6h0M401.1 657.9h0M398.6 659.0h0M397.2 660.0h0M391.4 665.1h0M393.9 662.3h0M392.3 664.9h0M393.0 664.5h0M400.7 658.0h0M391.6 665.0h0M396.5 660.5h0M391.7 664.9h0M393.6 664.1h0M396.4 662.1h0M400.2 658.3h0M392.3 663.8h0M398.1 660.7h0M400.2 658.5h0M395.8 661.0h0M394.3 662.1h0M394.4 662.0h0M392.2 663.9h0M395.6 661.1h0M398.9 659.9h0M400.0 658.6h0M392.4 664.6h0M398.7 660.1h0M398.4 659.3h0M399.6 658.7h0M399.1 659.7h0M392.7 664.5h0M397.5 661.2h0M392.5 664.5h0M395.7 661.1h0M397.5 660.0h0M398.5 659.4h0M399.3 659.0h0M399.4 659.0h0M395.2 662.9h0M397.4 660.0h0M393.7 663.8h0M395.3 661.6h0M395.6 662.5h0M396.1 662.1h0M393.4 663.0h0M398.7 659.8h0M398.8 659.6h0M398.2 660.1h0M394.9 662.0h0M393.5 663.4h0M393.9 662.9h0M396.4 661.5h0M394.7 662.9h0M394.4 663.0h0M394.7 662.8h0" fill="none" stroke="#ffeb5a" stroke-width="0.9" stroke-linecap="square"/>
<line x1="368.80" y1="683.20" x2="484.20" y2="590.10" stroke="#222" stroke-width="0.5" />
<line x1="368.80" y1="590.10" x2="368.80" y2="683.60" stroke="#444" stroke-width="0.8" />
<line x1="368.40" y1="683.20" x2="484.20" y2="683.20" stroke="#444" stroke-width="0.8" />
<line x1="366.40" y1="678.80" x2="368.80" y2="678.80" stroke="#444" stroke-width="0.8" />
<text x="365.20" y="681.40" font-size="7.3" text-anchor="end">2</text>
<line x1="373.20" y1="683.20" x2="373.20" y2="685.60" stroke="#444" stroke-width="0.8" />
<text x="373.20" y="693.80" font-size="7.3" text-anchor="middle">2</text>
<line x1="366.40" y1="657.65" x2="368.80" y2="657.65" stroke="#444" stroke-width="0.8" />
<text x="365.20" y="660.25" font-size="7.3" text-anchor="end">4</text>
<line x1="399.62" y1="683.20" x2="399.62" y2="685.60" stroke="#444" stroke-width="0.8" />
<text x="399.62" y="693.80" font-size="7.3" text-anchor="middle">4</text>
<line x1="366.40" y1="636.50" x2="368.80" y2="636.50" stroke="#444" stroke-width="0.8" />
<text x="365.20" y="639.10" font-size="7.3" text-anchor="end">6</text>
<line x1="426.04" y1="683.20" x2="426.04" y2="685.60" stroke="#444" stroke-width="0.8" />
<text x="426.04" y="693.80" font-size="7.3" text-anchor="middle">6</text>
<line x1="366.40" y1="615.35" x2="368.80" y2="615.35" stroke="#444" stroke-width="0.8" />
<text x="365.20" y="617.95" font-size="7.3" text-anchor="end">8</text>
<line x1="452.46" y1="683.20" x2="452.46" y2="685.60" stroke="#444" stroke-width="0.8" />
<text x="452.46" y="693.80" font-size="7.3" text-anchor="middle">8</text>
<line x1="366.40" y1="594.20" x2="368.80" y2="594.20" stroke="#444" stroke-width="0.8" />
<text x="365.20" y="596.80" font-size="7.3" text-anchor="end">10</text>
<line x1="478.88" y1="683.20" x2="478.88" y2="685.60" stroke="#444" stroke-width="0.8" />
<text x="478.88" y="693.80" font-size="7.3" text-anchor="middle">10</text>
<text x="430.50" y="706.00" font-size="7.3" text-anchor="middle">WT log<tspan font-size="3.8" dy="1.3">2</tspan><tspan dy="-1.3">&#8203;</tspan>H3K27me3 (CPB)</text>
<text x="351.00" y="637.40" font-size="7.3" text-anchor="middle" transform="rotate(-90 351.00 637.40)"><tspan font-style="italic">ZIC2<tspan font-size="4" dy="-2.5">-/-</tspan><tspan dy="2.5">&#8203;</tspan></tspan> log<tspan font-size="3.8" dy="1.3">2</tspan><tspan dy="-1.3">&#8203;</tspan>H3K27me3 (CPB)</text>
<text x="448.80" y="660.10" font-size="7.3">Relative density</text>
<defs><linearGradient id="cbd" x1="0" y1="1" x2="0" y2="0"><stop offset="0" stop-color="#342c82"/><stop offset="0.18" stop-color="#4248aa"/><stop offset="0.38" stop-color="#963ca0"/><stop offset="0.55" stop-color="#d74687"/><stop offset="0.72" stop-color="#f58250"/><stop offset="0.86" stop-color="#fcbe3c"/><stop offset="1" stop-color="#ffeb5a"/></linearGradient></defs>
<rect x="469.30" y="664.50" width="4.10" height="14.30" fill="url(#cbd)" />
<line x1="479.80" y1="677.30" x2="479.80" y2="668.00" stroke="#000" stroke-width="0.8" />
<path d="M479.8 665.0 L477.8 669.0 L481.8 669.0Z" fill="#000" />
<text x="614.10" y="586.20" font-size="7.3" text-anchor="middle" font-weight="bold">All H3K27me3 peaks</text>
<g filter="url(#bm)">
<path d="M558.0 672.2L560.1 670.1L562.2 668.0L564.3 666.0L566.4 664.0L568.6 662.0L570.7 660.1L572.9 658.2L575.1 656.3L577.3 654.4L579.6 652.9L581.9 651.9L584.3 650.9L586.7 650.0L589.1 649.0L591.5 648.1L593.9 647.2L596.3 646.3L598.8 645.4L601.2 644.6L603.7 643.7L606.2 642.9L608.6 642.1L611.1 641.3L613.6 640.5L616.1 639.7L618.6 638.9L621.1 638.1L623.6 637.3L626.1 636.6L628.6 635.8L631.1 635.0L633.6 634.2L636.1 633.5L638.6 632.7L641.1 631.9L643.6 631.2L646.1 630.4L648.6 629.6L651.1 628.8L653.9 628.4L653.9 628.4L652.0 630.2L649.9 631.5L647.7 632.7L645.6 634.0L643.4 635.3L641.2 636.6L639.1 637.9L636.9 639.2L634.8 640.5L632.6 641.8L630.5 643.1L628.3 644.4L626.2 645.7L624.0 647.0L621.8 648.3L619.7 649.6L617.5 650.9L615.3 652.1L613.1 653.4L610.9 654.6L608.7 655.9L606.5 657.1L604.3 658.3L602.1 659.5L599.9 660.7L597.6 661.8L595.3 662.9L593.1 664.1L590.8 665.2L588.4 666.2L586.1 667.5L583.6 669.1L581.2 670.6L578.7 672.0L576.2 673.5L573.7 674.9L571.1 676.3L568.6 677.7L566.0 679.0L563.4 680.3Z" fill="#3e41a1" opacity="0.5"/>
<path d="M561.2 671.1L563.0 669.3L564.8 667.6L566.6 665.9L568.5 664.2L570.3 662.5L572.2 660.9L574.1 659.2L576.0 657.6L577.9 656.0L579.8 654.5L581.8 653.6L583.8 652.8L585.9 651.9L587.9 651.1L590.0 650.3L592.0 649.5L594.1 648.7L596.2 647.9L598.3 647.1L600.3 646.4L602.4 645.6L604.6 644.9L606.7 644.2L608.8 643.5L610.9 642.8L613.0 642.0L615.2 641.3L617.3 640.7L619.4 640.0L621.6 639.3L623.7 638.6L625.9 637.9L628.0 637.2L630.1 636.6L632.3 635.9L634.5 635.3L636.6 634.6L638.8 634.0L641.0 633.4L643.4 633.1L643.4 633.1L641.8 634.6L640.0 635.8L638.2 637.0L636.4 638.1L634.5 639.2L632.7 640.4L630.8 641.5L628.9 642.6L627.1 643.7L625.2 644.8L623.4 645.9L621.5 647.0L619.6 648.1L617.8 649.1L615.9 650.2L614.0 651.3L612.1 652.4L610.2 653.4L608.3 654.5L606.4 655.5L604.5 656.5L602.6 657.5L600.7 658.6L598.7 659.5L596.8 660.5L594.8 661.5L592.9 662.4L590.9 663.4L588.9 664.3L586.9 665.2L584.8 666.4L582.7 667.8L580.6 669.1L578.5 670.3L576.4 671.6L574.2 672.8L572.1 674.1L569.9 675.3L567.7 676.4L565.5 677.6Z" fill="#7440a4" />
<path d="M564.3 669.9L565.8 668.5L567.3 667.0L568.9 665.6L570.4 664.2L572.0 662.8L573.6 661.4L575.1 660.1L576.7 658.7L578.3 657.4L579.9 656.1L581.6 655.2L583.3 654.5L585.0 653.8L586.7 653.0L588.4 652.3L590.1 651.6L591.8 651.0L593.5 650.3L595.2 649.6L597.0 649.0L598.7 648.3L600.5 647.7L602.2 647.1L604.0 646.4L605.7 645.8L607.5 645.2L609.3 644.6L611.0 644.0L612.8 643.4L614.6 642.8L616.4 642.3L618.1 641.7L619.9 641.1L621.7 640.5L623.5 640.0L625.3 639.4L627.1 638.9L629.0 638.4L630.8 637.9L632.9 637.8L632.9 637.8L631.6 639.1L630.2 640.2L628.6 641.2L627.1 642.1L625.6 643.0L624.0 644.0L622.5 644.9L620.9 645.8L619.3 646.7L617.8 647.6L616.2 648.6L614.6 649.5L613.1 650.3L611.5 651.2L609.9 652.1L608.3 653.0L606.7 653.9L605.1 654.7L603.5 655.6L601.9 656.4L600.3 657.3L598.7 658.1L597.1 658.9L595.4 659.7L593.8 660.5L592.2 661.3L590.5 662.1L588.8 662.8L587.2 663.6L585.5 664.4L583.7 665.5L582.0 666.6L580.2 667.7L578.5 668.8L576.7 669.9L574.9 670.9L573.1 672.0L571.3 673.0L569.5 674.0L567.6 674.9Z" fill="#c3438e" />
<path d="M567.4 668.7L568.6 667.5L569.8 666.4L571.0 665.3L572.2 664.2L573.4 663.1L574.7 662.0L575.9 661.0L577.1 659.9L578.4 658.9L579.7 657.9L580.9 656.9L582.3 656.3L583.6 655.7L584.9 655.1L586.2 654.5L587.5 654.0L588.9 653.4L590.2 652.9L591.6 652.3L592.9 651.8L594.3 651.3L595.6 650.8L597.0 650.3L598.4 649.8L599.7 649.3L601.1 648.8L602.5 648.3L603.9 647.8L605.2 647.4L606.6 646.9L608.0 646.4L609.4 646.0L610.8 645.5L612.2 645.1L613.6 644.6L615.1 644.2L616.5 643.8L617.9 643.4L619.4 643.1L621.1 643.1L621.1 643.1L620.2 644.2L619.0 645.0L617.8 645.8L616.6 646.6L615.4 647.3L614.2 648.0L613.0 648.8L611.8 649.5L610.5 650.2L609.3 650.9L608.1 651.6L606.8 652.3L605.6 653.0L604.3 653.7L603.1 654.4L601.8 655.0L600.6 655.7L599.3 656.4L598.1 657.0L596.8 657.7L595.5 658.3L594.2 658.9L593.0 659.6L591.7 660.2L590.4 660.8L589.1 661.4L587.8 662.0L586.4 662.6L585.1 663.1L583.8 664.0L582.4 664.9L581.1 665.8L579.7 666.7L578.3 667.5L576.9 668.4L575.5 669.2L574.1 670.0L572.7 670.8L571.3 671.6L569.8 672.4Z" fill="#ea6c63" />
<path d="M570.4 667.4L571.3 666.5L572.1 665.7L573.0 664.9L573.9 664.2L574.8 663.4L575.7 662.6L576.6 661.9L577.5 661.1L578.5 660.4L579.4 659.6L580.3 658.9L581.2 658.2L582.2 657.6L583.1 657.2L584.1 656.8L585.0 656.3L586.0 655.9L587.0 655.5L587.9 655.1L588.9 654.7L589.9 654.3L590.8 654.0L591.8 653.6L592.8 653.2L593.8 652.8L594.8 652.5L595.8 652.1L596.8 651.8L597.8 651.4L598.8 651.1L599.8 650.7L600.8 650.4L601.8 650.0L602.8 649.7L603.8 649.4L604.9 649.1L605.9 648.8L607.0 648.5L608.0 648.3L609.3 648.3L609.3 648.3L608.6 649.2L607.8 649.8L607.0 650.4L606.1 650.9L605.2 651.5L604.3 652.0L603.4 652.5L602.6 653.0L601.7 653.5L600.8 654.0L599.9 654.5L599.0 655.0L598.1 655.5L597.1 656.0L596.2 656.5L595.3 657.0L594.4 657.4L593.5 657.9L592.5 658.4L591.6 658.8L590.7 659.3L589.8 659.7L588.8 660.2L587.9 660.6L586.9 661.1L586.0 661.5L585.0 661.9L584.1 662.4L583.1 663.1L582.1 663.7L581.1 664.4L580.1 665.0L579.1 665.6L578.1 666.3L577.1 666.9L576.1 667.5L575.1 668.1L574.1 668.7L573.1 669.3L572.0 669.8Z" fill="#faac41" />
<path d="M574.7 665.0L575.2 664.5L575.8 664.0L576.3 663.5L576.9 663.1L577.4 662.6L578.0 662.1L578.6 661.6L579.1 661.2L579.7 660.7L580.3 660.2L580.9 659.8L581.4 659.3L582.0 658.9L582.6 658.6L583.2 658.3L583.8 658.0L584.4 657.8L585.0 657.5L585.6 657.3L586.2 657.0L586.8 656.8L587.4 656.5L588.0 656.3L588.6 656.1L589.2 655.8L589.8 655.6L590.4 655.4L591.0 655.1L591.6 654.9L592.3 654.7L592.9 654.5L593.5 654.3L594.1 654.0L594.8 653.8L595.4 653.6L596.0 653.5L596.7 653.3L597.3 653.1L598.0 653.0L598.8 653.0L598.8 653.0L598.4 653.5L597.9 653.9L597.4 654.3L596.8 654.6L596.3 655.0L595.7 655.3L595.2 655.6L594.6 655.9L594.1 656.2L593.5 656.5L592.9 656.9L592.4 657.2L591.8 657.5L591.2 657.8L590.7 658.0L590.1 658.3L589.5 658.6L588.9 658.9L588.4 659.2L587.8 659.5L587.2 659.7L586.6 660.0L586.0 660.3L585.4 660.6L584.9 660.8L584.3 661.1L583.7 661.4L583.1 661.8L582.5 662.2L581.9 662.6L581.2 663.0L580.6 663.4L580.0 663.8L579.4 664.2L578.8 664.6L578.2 665.0L577.5 665.4L576.9 665.7L576.3 666.1L575.6 666.5Z" fill="#fdda4f" />
</g>
<path d="M569.0 613.5h0M566.8 625.7h0M566.2 629.2h0M568.2 628.7h0M621.6 666.5h0M614.9 672.1h0M574.6 632.2h0M626.8 658.3h0M606.0 675.1h0M565.9 640.6h0M632.3 623.3h0M570.3 639.5h0M559.8 649.3h0M568.6 641.2h0M569.8 640.9h0M641.1 643.9h0M638.9 645.5h0M620.1 660.2h0M621.6 659.0h0M620.4 659.5h0M562.8 649.9h0M610.0 667.2h0M569.0 644.2h0M569.7 644.4h0M646.5 638.6h0M585.1 633.7h0M593.0 678.8h0M601.0 672.8h0M596.8 631.8h0M568.2 646.6h0M564.2 650.6h0M618.4 659.3h0M569.8 645.6h0M561.1 653.9h0M573.9 642.2h0M593.0 677.8h0M650.0 635.6h0M567.9 647.9h0M578.9 638.6h0M604.7 669.1h0M598.9 673.0h0M561.4 654.8h0M615.8 660.4h0M638.8 643.1h0M567.3 649.2h0M589.8 679.4h0M559.9 656.9h0M627.1 629.3h0M574.4 643.4h0M567.1 649.9h0M605.7 667.4h0M573.9 643.9h0M593.9 675.8h0M611.6 662.9h0M658.5 623.8h0M649.2 635.1h0M619.0 657.1h0M605.1 667.3h0M572.0 646.4h0M643.1 639.0h0M618.1 657.5h0M589.1 678.4h0M574.0 644.9h0M586.2 680.3h0M627.4 630.1h0M561.3 657.1h0M612.8 661.3h0M605.6 666.4h0M658.9 625.9h0M608.0 664.5h0M592.4 636.0h0M650.0 626.5h0M600.0 670.3h0M623.2 631.0h0M609.0 663.8h0M573.7 645.8h0M648.7 634.5h0M568.9 650.1h0M657.6 627.9h0M607.4 664.8h0M630.0 648.1h0M655.3 625.8h0M602.9 668.1h0M596.6 672.5h0M657.1 628.2h0M573.4 646.2h0M576.9 643.3h0M657.2 627.7h0M635.7 643.8h0M590.6 636.8h0M653.7 630.8h0M597.8 671.4h0M615.0 659.0h0M591.0 676.1h0M605.3 666.0h0M586.1 679.3h0M571.6 648.2h0M655.0 629.5h0M595.7 672.8h0M587.1 678.5h0M604.8 666.2h0M619.3 655.6h0M571.7 648.3h0M615.9 632.8h0M572.4 647.9h0M575.2 645.5h0M623.6 631.6h0M617.1 657.0h0M586.9 638.3h0M575.0 645.8h0M630.0 647.4h0M632.5 645.5h0M650.7 627.6h0M608.2 663.3h0M650.7 627.6h0M608.9 662.7h0M597.0 671.1h0M603.1 635.3h0M603.2 666.6h0M590.7 637.9h0M567.2 653.5h0M626.7 649.6h0M570.4 650.4h0M602.4 635.6h0M629.4 647.5h0M613.4 659.2h0M567.7 653.1h0M582.3 640.5h0M611.3 660.7h0M573.8 647.5h0M621.0 653.6h0M586.8 639.0h0M559.8 661.6h0M561.4 659.9h0M566.4 654.7h0M595.9 671.3h0M567.6 653.7h0M603.3 635.8h0M631.1 645.9h0M649.9 631.7h0M647.6 633.4h0M629.6 647.0h0M626.5 649.2h0M576.7 645.5h0M582.3 680.1h0M581.2 641.9h0M627.5 632.0h0M588.1 676.3h0M561.0 660.9h0M573.8 648.1h0M617.3 633.6h0M603.7 665.6h0M646.6 629.4h0M641.5 637.9h0M611.4 660.1h0M603.7 665.5h0M645.6 634.7h0M570.9 650.9h0M600.6 667.6h0M599.3 668.5h0M646.6 633.8h0M579.3 643.7h0M605.2 664.2h0M617.3 655.6h0M644.5 630.0h0M584.4 640.6h0M611.5 659.7h0M648.8 630.5h0M610.2 635.2h0M620.2 633.6h0M574.0 648.6h0M646.8 630.1h0M624.0 633.0h0M572.7 649.8h0M610.7 635.3h0M617.1 655.4h0M647.4 630.5h0M598.1 637.7h0M567.6 654.9h0M576.9 646.4h0M574.7 648.4h0M647.0 631.0h0M633.3 631.9h0M622.0 651.7h0M614.9 656.8h0M579.0 644.8h0M636.3 641.1h0M562.6 660.6h0M594.1 671.2h0M612.8 658.3h0M577.5 646.1h0M639.9 638.3h0M645.6 633.3h0M593.2 639.2h0M581.6 642.9h0M587.4 675.5h0M576.4 647.2h0M645.6 633.1h0M627.8 633.0h0M589.6 674.0h0M622.1 633.9h0M645.8 632.4h0M570.7 652.5h0M610.7 659.5h0M600.6 666.6h0M615.6 656.0h0M587.4 675.3h0M590.2 673.4h0M640.5 637.3h0M627.6 633.2h0M623.8 649.9h0M577.3 646.9h0M606.1 636.9h0M600.7 666.3h0M566.1 657.5h0M627.2 633.4h0M627.4 633.4h0M641.2 636.5h0M594.4 639.5h0M605.3 663.0h0M644.3 633.2h0M627.7 633.4h0M635.5 632.4h0M633.4 632.6h0M640.2 637.1h0M568.1 655.7h0M581.9 678.3h0M570.1 653.7h0M606.6 661.9h0M614.6 656.3h0M633.8 642.1h0M643.5 633.5h0M587.5 674.6h0M639.0 638.0h0M617.9 653.8h0M622.6 634.4h0M571.4 652.7h0M584.2 642.4h0M573.2 651.1h0M593.3 670.8h0M640.7 636.4h0M568.2 655.9h0M600.0 666.3h0M642.6 632.8h0M617.8 653.8h0M628.5 646.0h0M576.0 648.6h0M638.7 632.5h0M578.6 646.5h0M616.3 635.6h0M589.6 641.1h0M628.0 646.2h0M614.9 635.9h0M611.2 658.3h0M571.2 653.2h0M576.7 648.1h0M574.6 650.0h0M602.3 664.6h0M601.0 638.6h0M577.0 647.9h0M621.0 651.2h0M631.0 633.4h0M591.0 672.0h0M576.2 648.7h0M640.4 632.7h0M605.2 637.8h0M620.2 651.8h0M590.5 672.2h0M638.3 632.9h0M597.3 639.6h0M591.0 671.8h0M613.3 656.7h0M616.5 654.4h0M605.8 661.9h0M611.1 636.8h0M622.5 650.0h0M608.5 660.0h0M623.7 649.0h0M573.9 651.1h0M600.8 665.3h0M584.5 675.8h0M613.7 656.2h0M633.2 633.5h0M594.5 640.4h0M639.1 633.3h0M620.1 635.4h0M608.7 659.7h0M629.4 644.7h0M583.9 676.0h0M568.0 657.0h0M570.0 655.0h0M632.5 633.7h0M603.8 663.0h0M579.8 646.2h0M571.9 653.2h0M599.0 666.2h0M631.6 642.8h0M630.5 634.1h0M636.4 638.8h0M576.8 648.8h0M593.8 640.9h0M577.0 648.7h0M582.8 644.0h0M628.5 634.5h0M623.7 648.6h0M637.1 638.1h0M623.4 635.2h0M628.9 644.7h0M576.8 649.0h0M600.4 639.5h0M637.4 633.9h0M589.1 672.4h0M568.9 656.5h0M575.1 650.5h0M639.2 635.4h0M599.6 665.6h0M607.2 660.4h0M584.7 675.1h0M595.9 668.0h0M634.5 633.9h0M571.3 654.1h0M573.8 651.7h0M592.7 670.1h0M589.8 642.1h0M598.2 666.4h0M601.2 664.4h0M599.8 639.8h0M638.7 634.9h0M638.0 636.7h0M572.7 653.0h0M578.7 678.7h0M568.4 657.3h0M635.2 634.2h0M624.8 635.3h0M561.7 665.1h0M573.7 652.1h0M562.8 663.8h0M586.5 643.2h0M637.7 634.7h0M613.6 655.6h0M606.4 660.6h0M566.1 660.0h0M618.3 636.4h0M582.2 676.3h0M577.3 679.3h0M634.2 634.4h0M569.7 656.2h0M617.4 652.8h0M575.6 650.6h0M573.9 652.2h0M579.3 647.4h0M594.3 668.7h0M614.9 654.6h0M637.3 636.5h0M584.3 644.1h0M575.6 650.7h0M609.8 638.1h0M618.9 651.5h0M632.4 634.8h0M588.2 643.0h0M565.8 660.7h0M602.7 662.9h0M598.2 640.6h0M592.7 669.5h0M579.0 647.8h0M609.9 657.9h0M566.8 659.7h0M630.7 635.0h0M582.2 675.9h0M636.6 636.7h0M628.7 644.1h0M625.4 635.7h0M595.4 641.3h0M603.5 662.3h0M589.0 643.0h0M608.5 638.5h0M636.1 635.4h0M620.8 636.4h0M623.1 636.0h0M612.6 655.9h0M619.4 651.0h0M579.1 648.0h0M621.7 636.3h0M621.0 649.8h0M560.8 667.5h0M603.3 639.7h0M586.3 673.2h0M607.9 659.2h0M562.9 664.7h0M626.2 635.7h0M581.4 676.2h0M584.3 644.6h0M632.0 641.0h0M632.8 640.4h0M629.2 643.4h0M635.4 636.9h0M596.1 666.9h0M591.6 642.6h0M620.8 649.7h0M589.6 643.1h0M588.7 643.4h0M607.1 639.1h0M635.1 636.1h0M584.1 674.3h0M595.8 667.1h0M631.7 641.1h0M601.9 663.0h0M568.4 658.5h0M633.1 635.6h0M635.1 637.2h0M570.8 656.0h0M574.3 652.7h0M581.3 676.0h0M563.6 664.3h0M576.8 650.4h0M566.8 660.4h0M582.5 645.7h0M577.6 678.2h0M631.3 641.4h0M569.4 657.6h0M585.5 673.3h0M575.0 652.0h0M568.9 658.2h0M619.4 637.0h0M593.2 668.6h0M627.0 636.0h0M631.1 641.4h0M595.5 641.8h0M605.8 639.5h0M632.2 640.4h0M590.2 670.4h0M588.0 671.8h0M600.5 640.7h0M609.5 657.6h0M631.2 635.9h0M624.6 636.4h0M608.6 639.1h0M574.6 652.6h0M572.3 654.9h0M630.5 636.0h0M630.9 641.3h0M583.4 674.3h0M590.0 643.4h0M633.6 638.3h0M633.6 638.3h0M613.2 638.3h0M633.6 636.8h0M591.1 669.7h0M600.6 663.5h0M632.9 636.5h0M586.0 672.7h0M608.7 639.2h0M581.9 675.1h0M595.9 642.0h0M584.9 645.0h0M606.2 659.6h0M632.0 639.9h0M578.8 677.0h0M619.8 649.9h0M604.9 640.1h0M629.6 642.1h0M593.2 668.1h0M565.6 662.6h0M611.9 655.6h0M610.5 656.5h0M610.8 656.3h0M574.4 653.2h0M581.3 647.2h0M630.8 640.9h0M568.9 658.9h0M575.3 652.4h0M628.7 642.8h0M632.3 638.9h0M610.5 639.1h0M612.2 638.8h0M631.4 636.8h0M585.9 672.5h0M601.3 662.7h0M597.1 665.5h0M593.4 667.9h0M595.0 666.8h0M570.8 656.9h0M559.8 671.4h0M585.5 672.7h0M594.8 666.9h0M632.3 637.7h0M623.0 647.2h0M617.0 651.7h0M627.3 643.8h0M610.4 639.2h0M616.1 638.2h0M630.9 640.4h0M577.1 651.0h0M608.5 639.6h0M607.7 658.3h0M596.6 665.7h0M601.7 641.0h0M573.8 654.0h0M586.8 644.9h0M619.9 649.5h0M605.5 659.7h0M610.6 639.3h0M588.4 644.4h0M631.9 638.4h0M589.4 670.1h0M629.7 637.0h0M568.4 659.8h0M585.0 672.8h0M592.7 668.1h0M598.6 664.3h0M631.0 639.9h0M627.5 643.3h0M590.5 644.0h0M630.9 639.9h0M621.6 648.1h0M629.8 641.1h0M584.5 645.8h0M616.9 651.6h0M596.8 642.4h0M604.1 660.5h0M620.2 637.8h0M580.7 648.2h0M584.5 672.9h0M572.6 655.5h0M582.6 646.7h0M572.0 656.2h0M630.3 637.5h0M592.1 668.3h0M630.6 639.9h0M596.7 665.4h0M576.9 651.5h0M614.4 653.3h0M628.2 637.3h0M615.4 652.5h0M584.5 645.9h0M626.7 643.8h0M581.2 647.9h0M600.3 662.9h0M609.8 639.7h0M630.9 639.0h0M613.9 653.5h0M619.1 649.7h0M590.3 669.3h0M612.8 654.3h0M624.5 645.5h0M579.0 649.8h0M587.5 670.9h0M619.3 649.5h0M603.6 660.7h0M604.9 659.8h0M613.6 639.1h0M593.9 667.0h0M624.0 645.8h0M595.2 666.1h0M629.6 640.6h0M595.3 666.1h0M624.8 637.7h0M586.8 671.2h0M571.7 656.8h0M617.5 650.8h0M624.2 645.5h0M602.6 661.2h0M623.1 637.9h0M630.1 639.2h0M559.2 679.0h0M629.9 638.6h0M625.0 644.9h0M601.2 662.1h0M590.0 644.6h0M559.3 675.3h0M586.7 645.5h0M601.8 661.7h0M601.8 641.6h0M624.6 645.2h0M621.7 638.1h0M616.9 651.1h0M571.5 657.2h0M576.8 652.1h0" fill="none" stroke="#342c82" stroke-width="0.9" stroke-linecap="square"/>
<path d="M629.7 639.4h0M581.9 673.9h0M569.4 680.4h0M585.5 646.0h0M579.0 650.2h0M579.8 649.5h0M628.4 641.5h0M625.6 637.9h0M576.5 677.1h0M583.9 672.6h0M585.4 646.1h0M594.6 666.2h0M571.2 657.7h0M572.8 656.1h0M589.2 645.0h0M568.4 660.8h0M596.6 664.9h0M608.7 656.8h0M602.0 641.8h0M621.5 647.4h0M565.3 664.8h0M615.3 652.0h0M621.5 638.4h0M584.8 646.4h0M583.2 672.9h0M597.4 664.3h0M611.9 654.4h0M616.9 650.8h0M628.2 638.7h0M573.2 655.8h0M587.1 670.6h0M627.4 638.5h0M577.7 676.2h0M569.9 659.3h0M578.6 675.7h0M596.3 665.0h0M562.2 669.7h0M628.3 639.0h0M563.9 667.0h0M579.9 649.6h0M612.0 654.3h0M566.9 662.9h0M578.0 651.4h0M611.8 654.4h0M616.5 651.0h0M622.4 646.4h0M565.8 664.5h0M608.1 640.7h0M567.4 662.3h0M626.1 638.5h0M572.0 657.1h0M591.6 667.8h0M577.0 652.3h0M628.2 639.6h0M624.6 644.5h0M562.1 680.2h0M563.2 668.3h0M627.0 642.1h0M609.1 656.3h0M600.9 661.9h0M577.5 651.9h0M627.3 641.8h0M616.3 651.1h0M576.4 676.8h0M583.3 672.6h0M627.8 639.2h0M610.7 640.3h0M562.1 680.1h0M561.3 672.2h0M583.0 672.7h0M597.7 663.9h0M586.2 671.0h0M603.7 659.9h0M563.9 667.4h0M627.0 641.9h0M604.4 641.6h0M625.1 643.9h0M625.6 643.4h0M593.5 666.4h0M621.8 646.7h0M587.2 646.0h0M626.8 639.1h0M567.8 680.0h0M625.8 643.0h0M625.6 643.2h0M613.2 653.1h0M605.1 641.5h0M600.7 642.5h0M600.6 642.5h0M618.9 648.9h0M573.4 656.0h0M575.6 653.9h0M616.0 651.1h0M602.6 660.6h0M627.1 641.2h0M594.9 643.9h0M611.1 640.4h0M595.0 665.4h0M600.1 642.7h0M615.1 651.7h0M606.6 641.3h0M592.9 666.7h0M595.1 665.3h0M610.6 640.5h0M589.8 668.6h0M621.5 639.0h0M618.0 639.4h0M579.7 674.6h0M617.1 650.2h0M570.0 659.9h0M593.6 666.2h0M622.8 645.5h0M621.9 646.3h0M584.3 647.2h0M594.8 665.4h0M599.9 642.8h0M621.1 646.9h0M609.8 655.4h0M584.8 671.4h0M566.8 663.9h0M616.8 650.3h0M586.7 670.3h0M586.2 670.6h0M600.1 642.9h0M607.2 657.2h0M584.3 647.3h0M577.1 675.9h0M626.1 639.7h0M570.7 678.8h0M595.3 665.0h0M623.2 645.0h0M594.4 665.6h0M626.3 640.3h0M579.9 674.2h0M580.4 673.9h0M564.4 667.7h0M618.7 648.6h0M585.6 670.8h0M564.2 668.0h0M624.6 643.4h0M577.2 652.9h0M623.0 644.9h0M608.5 656.1h0M587.6 646.4h0M604.2 642.1h0M561.7 677.1h0M606.2 641.7h0M625.8 640.6h0M573.0 677.6h0M597.2 663.6h0M573.1 657.0h0M580.3 650.3h0M581.1 649.6h0M595.9 664.4h0M611.1 654.2h0M601.2 660.9h0M624.8 642.8h0M610.6 641.0h0M623.0 644.8h0M621.2 646.3h0M624.6 643.1h0M617.5 649.4h0M620.9 646.6h0M580.8 649.9h0M607.9 641.5h0M613.0 652.8h0M602.4 642.6h0M582.1 648.9h0M611.8 653.6h0M587.0 669.7h0M604.4 658.8h0M572.3 657.9h0M620.5 639.8h0M624.2 643.4h0M624.9 640.3h0M623.0 644.6h0M625.0 642.1h0M595.8 664.4h0M602.0 660.4h0M581.4 672.9h0M609.5 641.2h0M571.0 659.4h0M573.2 677.3h0M623.8 643.6h0M583.2 671.7h0M599.4 643.4h0M570.0 660.7h0M606.5 641.9h0M611.7 640.9h0M625.0 641.3h0M613.7 652.1h0M598.7 662.4h0M604.0 658.9h0M594.7 664.9h0M622.2 645.1h0M598.7 662.4h0M624.2 640.4h0M578.1 674.8h0M572.1 658.3h0M622.9 644.5h0M580.7 650.2h0M570.0 660.7h0M573.5 656.9h0M594.2 665.2h0M593.0 665.9h0M609.0 655.3h0M594.9 644.7h0M579.5 673.9h0M583.2 671.6h0M587.0 647.0h0M579.8 651.0h0M608.6 641.6h0M580.1 673.5h0M602.8 659.6h0M624.5 641.7h0M603.2 659.3h0M624.4 641.5h0M584.5 647.9h0M608.3 655.8h0M622.2 640.2h0M568.6 662.7h0M619.7 647.1h0M607.8 656.1h0M605.7 642.3h0M607.1 656.6h0M592.2 666.3h0M616.5 649.7h0M584.6 647.9h0M598.2 662.5h0M611.0 653.8h0M564.4 669.1h0M618.9 640.4h0M586.4 647.4h0M580.8 650.3h0M622.3 644.5h0M579.7 673.6h0M603.8 658.7h0M602.0 660.0h0M585.9 647.5h0M581.5 649.8h0M622.4 644.3h0M588.5 668.4h0M589.3 646.5h0M576.7 654.1h0M588.5 668.4h0M598.2 662.4h0M569.0 678.0h0M615.3 640.8h0M599.9 661.3h0M618.3 640.6h0M623.2 643.0h0M617.4 648.7h0M563.0 675.0h0M620.4 640.6h0M586.1 669.7h0M608.0 642.1h0M579.7 673.4h0M604.1 642.8h0M622.5 643.9h0M582.6 649.1h0M622.5 643.8h0M603.4 658.8h0M620.0 640.6h0M581.6 672.2h0M619.6 640.7h0M607.7 655.9h0M569.6 677.7h0M569.9 661.5h0M596.1 663.6h0M579.5 651.7h0M612.0 641.4h0M615.7 640.9h0M616.8 640.8h0M569.4 662.2h0M569.0 677.8h0M607.1 656.2h0M565.3 668.2h0M571.6 677.1h0M612.4 641.4h0M590.1 667.2h0M570.4 677.4h0M613.5 641.3h0M598.7 661.8h0M574.5 656.6h0M571.8 659.5h0M610.1 641.9h0M601.4 643.6h0M605.6 657.2h0M571.6 676.9h0M578.0 653.3h0M621.9 643.9h0M598.4 662.0h0M606.2 656.7h0M604.3 643.0h0M581.5 650.2h0M585.5 669.7h0" fill="none" stroke="#38358f" stroke-width="0.9" stroke-linecap="square"/>
<path d="M567.3 665.3h0M601.2 660.1h0M591.5 666.2h0M592.7 665.5h0M614.3 650.8h0M573.4 657.9h0M564.6 670.3h0M604.1 658.1h0M613.1 641.6h0M594.2 645.5h0M618.8 647.1h0M577.1 654.2h0M621.2 644.5h0M597.4 662.5h0M564.0 675.4h0M598.5 661.8h0M616.3 649.1h0M568.4 663.9h0M618.1 641.2h0M579.8 651.8h0M618.4 647.3h0M613.4 641.6h0M602.1 643.6h0M601.1 660.0h0M580.7 651.1h0M603.0 643.5h0M586.1 669.2h0M611.1 642.0h0M617.9 641.3h0M585.7 648.2h0M619.7 646.0h0M576.5 654.9h0M621.3 644.0h0M614.8 641.5h0M579.3 652.4h0M618.6 641.4h0M607.4 655.7h0M584.8 669.8h0M569.6 677.0h0M580.2 651.6h0M619.0 646.5h0M621.4 643.5h0M573.2 676.0h0M595.4 663.6h0M565.7 676.6h0M606.2 656.4h0M617.6 641.5h0M578.2 653.4h0M605.4 657.0h0M603.1 643.6h0M568.7 663.9h0M604.1 643.4h0M620.8 642.0h0M589.6 647.1h0M588.7 647.4h0M612.6 651.8h0M609.1 642.4h0M604.3 657.7h0M611.7 642.1h0M582.6 670.9h0M597.0 662.5h0M620.6 642.1h0M581.8 650.4h0M564.5 672.6h0M590.5 666.4h0M607.0 655.8h0M604.5 657.5h0M577.5 654.2h0M595.7 645.5h0M591.7 665.7h0M613.1 641.9h0M595.3 645.6h0M597.9 661.9h0M620.8 643.9h0M586.3 668.9h0M620.3 644.7h0M584.0 670.1h0M580.1 672.4h0M576.4 655.3h0M617.5 641.7h0M620.2 644.6h0M609.1 642.6h0M614.8 649.8h0M604.1 657.7h0M595.7 663.2h0M599.3 660.9h0M616.2 648.6h0M572.6 659.3h0M594.6 645.9h0M616.7 648.2h0M598.0 661.7h0M598.0 661.7h0M596.9 645.3h0M569.4 676.6h0M598.9 661.1h0M585.6 669.1h0M571.5 660.7h0M573.8 675.4h0M614.1 642.0h0M572.3 659.7h0M587.1 668.2h0M579.2 652.9h0M572.5 659.6h0M620.0 644.5h0M602.8 658.5h0M610.0 642.6h0M584.3 649.1h0M579.3 652.8h0M565.0 674.2h0M582.9 670.4h0M598.5 661.3h0M577.7 654.2h0M618.3 642.1h0M616.1 648.5h0M571.9 675.9h0M578.4 673.1h0M608.0 643.0h0M594.0 646.2h0M605.1 643.5h0M619.1 645.5h0M565.1 673.4h0M619.3 645.1h0M619.6 644.7h0M602.2 644.2h0M617.3 642.2h0M579.1 672.6h0M619.1 642.6h0M616.6 642.2h0M618.5 642.4h0M594.3 663.8h0M579.9 652.4h0M594.6 663.6h0M613.8 642.3h0M603.8 657.6h0M605.4 643.6h0M594.8 663.4h0M619.4 644.6h0M603.9 643.9h0M601.0 659.5h0M579.8 652.6h0M615.6 648.7h0M619.4 643.1h0M586.0 668.6h0M568.3 665.5h0M617.5 642.4h0M580.1 672.0h0M599.1 645.0h0M576.8 655.4h0M572.3 675.5h0M578.4 672.9h0M574.4 674.8h0M594.9 663.3h0M619.3 644.5h0M579.3 653.1h0M607.6 643.3h0M613.8 642.4h0M582.5 670.4h0M565.5 672.0h0M619.1 643.2h0M594.5 646.3h0M579.0 653.4h0M569.2 664.2h0M618.2 642.7h0M608.0 643.2h0M585.8 668.6h0M584.6 649.4h0M590.4 666.0h0M590.3 666.0h0M606.3 655.7h0M602.4 644.3h0M606.1 655.9h0M612.7 642.6h0M590.3 647.5h0M610.9 642.8h0M567.6 666.8h0M618.7 645.2h0M611.1 642.8h0M569.3 664.1h0M584.2 669.4h0M596.2 662.4h0M619.0 644.3h0M616.4 647.7h0M600.4 659.7h0M607.1 655.1h0M577.7 654.7h0M590.9 647.4h0M611.3 642.9h0M616.0 642.6h0M573.2 659.4h0M567.1 675.3h0M608.1 643.3h0M584.3 649.6h0M600.3 644.9h0M603.1 657.9h0M595.5 662.8h0M589.1 666.6h0M618.6 643.5h0M599.2 660.4h0M604.8 644.0h0M568.4 665.8h0M616.1 647.8h0M609.6 653.2h0M600.3 659.6h0M616.1 647.8h0M609.4 643.2h0M595.2 662.9h0M603.5 657.5h0M609.0 643.3h0M569.5 664.2h0M567.8 666.9h0M569.0 664.9h0M615.8 648.0h0M592.4 664.6h0M597.4 661.5h0M576.1 656.4h0M585.5 649.3h0" fill="none" stroke="#3d3f9d" stroke-width="0.9" stroke-linecap="square"/>
<path d="M586.5 668.0h0M587.9 667.2h0M614.5 649.1h0M571.9 675.2h0M569.9 663.7h0M594.0 646.7h0M598.9 645.4h0M567.2 674.8h0M595.7 646.2h0M587.4 667.4h0M592.7 664.3h0M609.9 652.8h0M589.2 648.1h0M618.2 644.7h0M617.0 643.2h0M583.2 650.2h0M606.2 655.4h0M568.1 675.1h0M589.5 666.2h0M604.8 656.5h0M566.2 671.9h0M618.0 644.9h0M606.4 643.9h0M567.9 674.9h0M591.8 664.8h0M617.9 644.5h0M609.5 653.0h0M609.9 652.7h0M606.4 643.9h0M596.7 661.8h0M611.4 651.5h0M614.4 649.0h0M608.4 653.7h0M597.9 645.8h0M617.6 645.1h0M572.9 660.2h0M617.6 644.2h0M616.6 646.7h0M614.6 648.7h0M576.4 656.4h0M589.7 665.9h0M589.2 666.2h0M573.0 674.5h0M567.3 668.8h0M568.5 666.4h0M572.2 661.1h0M580.3 671.2h0M616.3 643.6h0M603.4 644.7h0M575.2 657.7h0M578.8 654.2h0M604.5 656.4h0M583.4 650.4h0M585.5 649.6h0M616.3 646.8h0M594.9 646.7h0M578.4 654.6h0M572.9 674.4h0M607.4 654.3h0M569.6 664.7h0M606.4 644.2h0M566.8 671.8h0M597.4 661.1h0M611.1 651.5h0M590.4 665.4h0M575.7 657.3h0M617.0 644.4h0M609.4 652.8h0M605.7 655.5h0M603.0 644.8h0M606.5 654.9h0M606.9 644.1h0M616.8 644.4h0M598.1 646.0h0M602.5 645.0h0M578.0 655.1h0M603.9 656.7h0M615.5 647.3h0M606.1 644.3h0M599.0 645.8h0M606.6 654.8h0M577.5 655.6h0M606.8 644.2h0M589.5 648.5h0M615.2 643.8h0M573.9 659.5h0M584.5 650.2h0M569.2 665.9h0M614.6 643.7h0M579.0 654.2h0M609.0 652.9h0M615.2 643.9h0M583.3 650.7h0M613.7 643.7h0M570.1 664.5h0M615.2 647.4h0M594.2 647.1h0M603.2 657.1h0M616.2 644.6h0M588.4 666.3h0M615.1 643.9h0M567.7 673.3h0M614.2 648.4h0M582.2 669.7h0M603.5 644.9h0M592.8 647.6h0M569.0 674.1h0M598.1 646.2h0M597.8 646.2h0M615.4 647.0h0M614.7 647.8h0M596.7 646.5h0M586.6 667.3h0M580.1 670.9h0M568.4 667.7h0M601.1 645.5h0M605.4 644.7h0M600.9 645.6h0M616.0 645.0h0M612.6 649.8h0M568.1 668.5h0M598.7 660.0h0M591.5 664.4h0M599.6 645.9h0M580.3 653.3h0M615.9 645.3h0M598.5 660.1h0M603.6 645.1h0M601.5 645.5h0M603.8 645.0h0M567.6 672.0h0M578.2 655.3h0M581.9 651.9h0M611.5 650.6h0M614.5 644.2h0M615.2 646.7h0M597.2 660.9h0M590.7 648.4h0M612.7 649.5h0M597.3 646.5h0M615.1 644.6h0M613.9 644.2h0M599.1 659.6h0M610.2 644.2h0M576.9 672.3h0M602.3 657.5h0" fill="none" stroke="#4547a9" stroke-width="0.9" stroke-linecap="square"/>
<path d="M571.9 673.9h0M614.0 648.2h0M569.1 673.6h0M611.4 650.6h0M568.6 667.9h0M610.6 651.2h0M599.2 659.5h0M586.6 649.8h0M582.0 652.0h0M589.5 665.4h0M615.2 646.0h0M573.8 673.4h0M583.7 650.9h0M609.0 644.4h0M614.9 646.7h0M569.1 667.0h0M613.6 644.4h0M609.3 652.2h0M586.7 649.8h0M603.8 656.3h0M598.6 659.8h0M614.8 646.6h0M595.6 661.7h0M609.5 652.0h0M614.9 645.3h0M589.4 665.3h0M571.9 662.6h0M583.5 651.1h0M568.5 672.4h0M612.8 644.5h0M587.2 666.6h0M600.9 658.2h0M613.7 644.7h0M614.7 646.4h0M573.6 660.5h0M571.7 673.6h0M591.1 648.5h0M576.2 672.4h0M593.6 662.8h0M580.3 670.4h0M578.5 655.3h0M614.7 645.5h0M583.9 668.3h0M614.6 645.4h0M605.7 645.0h0M589.5 665.2h0M577.4 656.4h0M573.2 661.1h0M601.6 645.8h0M585.3 650.5h0M610.5 651.0h0M581.8 652.4h0M599.6 659.0h0M586.1 650.2h0M576.9 656.9h0M614.5 646.2h0M595.8 647.2h0M599.4 659.1h0M610.8 650.7h0M605.0 655.2h0M601.2 657.8h0M572.9 661.6h0M577.8 656.2h0M575.4 658.7h0M610.6 644.7h0M609.0 652.1h0M568.8 668.9h0M609.7 651.5h0M607.8 653.0h0M586.0 667.0h0M581.7 669.3h0M571.4 673.2h0M613.4 645.1h0M588.2 649.6h0M569.0 668.1h0M594.3 647.7h0M613.8 645.4h0M599.5 658.9h0M602.1 645.9h0M587.6 666.1h0M613.7 647.3h0M612.9 648.4h0M571.8 663.2h0M613.7 645.6h0M603.6 645.6h0M604.4 645.5h0M606.3 645.2h0M610.6 650.6h0M612.8 648.4h0M610.3 650.8h0M571.0 673.0h0M575.2 672.4h0M607.7 645.1h0M613.6 645.6h0M581.1 669.5h0M602.0 657.1h0M577.8 656.3h0M611.1 650.1h0M584.2 651.2h0M583.1 668.3h0M569.9 666.6h0M602.1 657.0h0M583.9 667.9h0M611.4 645.0h0M595.5 661.3h0M604.9 655.0h0M610.7 650.3h0M608.8 645.1h0M578.6 670.9h0M587.6 650.0h0M569.7 672.2h0M575.1 672.3h0M582.8 668.4h0M612.3 645.3h0M613.5 646.4h0M573.0 661.9h0M584.4 651.2h0M612.7 648.2h0M591.2 648.9h0M578.9 670.6h0M602.1 657.0h0M607.4 645.2h0M583.3 651.6h0M575.9 671.9h0M581.0 653.5h0M613.0 647.5h0M585.6 667.0h0M589.3 664.9h0M580.7 653.7h0M579.9 654.5h0M577.4 656.9h0M580.9 653.6h0M582.1 668.8h0M604.4 655.2h0" fill="none" stroke="#5f43a6" stroke-width="0.9" stroke-linecap="square"/>
<path d="M579.7 670.2h0M613.0 647.4h0M613.0 646.1h0M598.8 659.1h0M607.9 652.6h0M602.1 646.2h0M579.3 655.1h0M613.0 647.1h0M571.3 672.6h0M573.3 672.5h0M588.3 665.4h0M582.0 668.8h0M585.0 667.2h0M572.0 672.6h0M611.9 645.6h0M612.4 645.8h0M580.3 654.2h0M607.8 645.4h0M587.2 650.3h0M572.9 672.5h0M584.5 667.4h0M606.8 645.5h0M582.9 668.1h0M592.1 648.7h0M599.5 658.5h0M609.5 645.4h0M580.9 669.4h0M572.8 672.5h0M579.1 655.4h0M611.9 648.6h0M612.7 646.3h0M608.1 645.4h0M570.7 665.9h0M578.2 670.7h0M604.9 654.7h0M609.4 651.1h0M570.2 671.7h0M571.7 672.3h0M591.2 649.1h0M612.0 648.3h0M597.0 647.5h0M612.4 646.3h0M576.2 658.4h0M579.3 670.2h0M608.7 651.6h0M611.5 645.8h0M609.6 650.8h0M610.8 645.6h0M581.0 669.2h0M612.4 646.9h0M579.3 670.1h0M578.6 656.0h0M605.3 645.9h0M578.8 670.4h0M570.9 672.0h0M594.7 648.1h0M605.4 654.2h0M580.0 654.7h0M574.6 660.3h0M611.4 645.9h0M571.4 672.1h0M569.7 670.2h0M607.4 645.7h0M595.7 660.8h0M570.0 671.0h0M587.7 650.3h0M611.4 648.8h0M603.1 655.8h0M572.9 662.7h0M608.0 652.1h0M601.6 656.9h0M606.7 645.8h0M585.7 651.0h0M583.7 651.9h0M606.6 653.2h0M612.0 646.7h0M601.3 646.6h0M597.1 647.6h0M596.4 660.3h0M592.5 662.7h0M610.2 645.8h0M612.0 647.6h0M597.5 647.5h0M578.1 670.6h0M611.8 647.8h0M603.4 655.6h0M603.5 646.3h0M592.4 662.7h0M573.5 672.0h0M599.0 647.2h0M600.4 657.7h0M596.6 660.1h0M585.6 651.2h0M611.7 647.8h0M573.1 662.5h0M572.7 672.0h0M570.1 670.4h0M579.5 655.3h0M608.8 651.2h0M611.4 646.5h0M611.5 646.6h0M611.6 647.8h0M594.2 661.6h0M608.2 651.7h0M610.1 649.9h0M606.4 653.2h0M579.2 655.6h0M578.3 670.4h0M575.4 659.7h0M598.6 647.4h0M610.6 649.2h0M580.1 669.4h0M611.0 648.7h0M611.5 647.3h0M605.9 646.1h0M583.5 667.4h0M604.6 654.5h0M610.5 649.1h0M586.1 651.1h0M590.6 663.6h0M575.2 660.1h0M610.5 646.4h0M576.5 658.5h0M580.1 669.3h0M580.7 669.0h0M593.7 648.7h0" fill="none" stroke="#7940a3" stroke-width="0.9" stroke-linecap="square"/>
<path d="M598.0 647.6h0M611.0 646.9h0M575.9 671.1h0M607.8 651.8h0M575.8 659.4h0M610.7 646.8h0M605.0 654.1h0M610.6 646.8h0M608.6 651.0h0M584.9 666.6h0M602.7 655.7h0M608.8 650.8h0M577.1 670.6h0M610.2 649.1h0M583.9 667.1h0M602.6 646.8h0M571.1 666.7h0M577.2 670.5h0M598.1 658.8h0M583.5 652.4h0M576.0 659.3h0M572.0 671.2h0M598.6 647.6h0M571.6 671.0h0M572.1 664.8h0M577.6 657.6h0M609.6 649.8h0M571.6 670.9h0M597.3 659.4h0M610.6 647.7h0M593.8 661.5h0M599.5 657.9h0M610.4 647.2h0M592.8 649.2h0M589.2 650.3h0M594.4 648.7h0M596.8 659.6h0M606.2 646.5h0M578.0 657.3h0M574.6 671.1h0M601.2 656.6h0M608.7 650.6h0M587.7 650.9h0M576.0 659.4h0M610.2 647.4h0M607.6 651.7h0M610.2 648.4h0M576.7 658.7h0M577.0 658.4h0M580.3 668.9h0M573.3 663.0h0M580.7 654.8h0M591.4 649.7h0M571.0 669.3h0M609.3 649.7h0M605.6 653.3h0M576.3 670.6h0M582.1 667.8h0M571.0 668.9h0M586.7 651.3h0M610.0 648.2h0M603.2 647.0h0M594.2 648.9h0M581.5 668.1h0M571.2 667.6h0M572.4 670.8h0M600.1 657.3h0M609.9 648.1h0M609.8 647.6h0M573.2 670.9h0M571.7 666.3h0M572.9 670.9h0M595.9 660.0h0M572.8 670.8h0M575.5 670.7h0M584.8 666.3h0M592.6 662.0h0M608.9 647.0h0M571.2 668.6h0M596.0 659.9h0M604.9 646.9h0M582.5 667.4h0M580.2 668.8h0M599.1 657.9h0M591.3 662.8h0M585.9 665.8h0M592.5 662.1h0M587.5 651.1h0M609.2 647.3h0M578.1 669.7h0M592.2 662.2h0M576.1 659.7h0M608.8 647.2h0M599.8 647.7h0M576.9 670.2h0M579.3 656.3h0M599.1 647.9h0M576.4 659.4h0M609.2 647.6h0M608.2 650.5h0M588.1 651.0h0M606.6 647.0h0M588.4 664.3h0" fill="none" stroke="#933ca0" stroke-width="0.9" stroke-linecap="square"/>
<path d="M573.9 662.7h0M602.8 655.1h0M579.2 669.1h0M590.5 650.3h0M573.0 664.2h0M608.8 649.5h0M606.0 652.5h0M609.2 648.7h0M580.4 655.3h0M579.6 656.1h0M607.0 647.1h0M597.1 648.5h0M597.4 658.8h0M578.2 657.5h0M599.1 657.7h0M572.3 665.8h0M590.3 650.4h0M580.0 655.8h0M578.3 657.5h0M572.7 664.9h0M574.0 670.4h0M595.1 649.0h0M608.8 648.2h0M607.8 650.5h0M572.6 665.3h0M572.0 669.4h0M580.0 655.9h0M578.4 657.4h0M577.8 669.6h0M572.3 669.7h0M593.5 649.5h0M571.8 668.2h0M608.5 649.4h0M593.2 661.3h0M572.7 665.3h0M603.4 647.5h0M589.4 650.8h0M602.2 647.6h0M602.0 647.7h0M578.0 658.0h0M607.8 647.7h0M602.5 647.6h0M599.1 657.5h0M606.7 647.5h0M573.7 670.1h0M592.7 649.8h0M582.1 654.0h0M606.3 651.8h0M581.3 654.7h0M572.2 669.1h0M573.8 670.1h0M589.9 663.2h0M602.4 647.7h0M576.9 669.6h0M606.9 651.1h0M596.5 648.9h0M595.0 660.1h0M603.8 647.6h0M589.9 663.1h0M598.9 648.4h0M587.6 651.6h0M590.7 650.6h0M590.3 662.9h0M602.6 654.8h0M590.3 650.7h0M604.1 647.7h0M594.9 660.0h0M572.9 665.6h0M594.4 649.5h0M597.6 658.3h0M574.7 669.8h0M603.5 654.0h0M605.9 647.8h0M602.2 647.9h0M602.9 654.4h0M601.3 648.1h0" fill="none" stroke="#ab3f97" stroke-width="0.9" stroke-linecap="square"/>
<path d="M606.2 647.9h0M578.0 669.0h0M606.6 650.9h0M600.9 655.9h0M604.3 647.8h0M597.3 658.4h0M605.0 647.8h0M592.5 650.1h0M589.9 663.0h0M607.3 649.9h0M576.3 660.3h0M577.2 669.3h0M596.3 649.2h0M586.7 664.7h0M581.9 654.6h0M605.3 647.9h0M603.5 647.9h0M575.9 660.9h0M581.7 667.2h0M573.0 668.8h0M604.0 653.4h0M595.5 659.5h0M603.7 653.7h0M578.2 658.2h0M576.7 669.3h0M603.1 648.0h0M573.8 664.1h0M586.6 652.2h0M605.2 652.2h0M581.8 667.1h0M603.6 653.7h0M579.6 668.2h0M600.1 648.4h0M591.9 661.7h0M606.4 650.8h0M602.2 654.8h0M592.3 650.3h0M604.9 648.1h0M585.6 652.6h0M591.8 661.7h0M572.9 667.7h0M594.6 660.0h0M597.5 649.0h0M595.4 649.5h0M599.0 657.0h0M582.7 654.1h0M591.6 650.6h0M588.4 663.6h0M602.8 654.1h0M581.6 667.1h0M606.6 649.0h0M605.8 648.5h0M587.2 664.2h0M605.5 648.4h0M604.2 652.9h0M598.7 657.2h0M576.9 659.9h0M604.0 653.1h0M587.9 651.9h0M606.2 650.6h0M594.8 659.8h0M603.5 648.3h0M581.5 655.2h0M579.7 668.0h0M578.9 668.3h0M606.5 650.1h0M598.7 657.2h0M599.8 648.7h0M573.5 668.4h0M606.5 649.3h0M605.9 651.0h0M573.3 666.1h0M604.5 648.3h0M601.3 655.2h0M606.5 649.5h0M582.7 666.3h0M578.4 658.2h0M596.1 658.9h0M574.7 663.2h0M606.4 649.8h0M599.1 656.9h0M598.3 657.4h0M574.9 662.8h0M606.2 650.3h0M588.6 663.3h0M588.6 663.3h0M587.6 652.1h0M600.2 656.0h0M603.4 653.4h0M587.6 663.8h0M590.5 662.2h0M577.0 660.0h0M604.1 648.5h0M602.8 653.9h0M581.0 667.2h0M573.8 668.3h0M600.7 648.7h0M606.1 649.6h0M578.9 657.9h0" fill="none" stroke="#c3438e" stroke-width="0.9" stroke-linecap="square"/>
<path d="M587.7 652.1h0M602.4 654.2h0M575.9 661.5h0M591.3 650.9h0M596.2 649.6h0M604.0 652.7h0M581.6 666.8h0M603.7 648.6h0M582.6 666.2h0M585.3 664.9h0M597.4 657.8h0M586.8 652.5h0M605.5 649.1h0M605.9 650.0h0M574.3 668.5h0M585.9 652.8h0M574.6 663.7h0M580.1 667.5h0M579.5 657.4h0M603.1 648.7h0M574.9 663.3h0M582.9 654.2h0M590.7 651.2h0M605.7 649.8h0M582.4 654.6h0M589.6 651.6h0M605.4 650.8h0M604.6 648.9h0M578.8 658.1h0M593.0 660.6h0M595.5 659.0h0M578.0 659.1h0M602.9 653.6h0M605.3 649.4h0M581.6 655.5h0M573.8 666.2h0M583.8 653.8h0M600.8 648.9h0M603.2 648.8h0M582.9 654.3h0M577.6 659.5h0M604.4 652.0h0M577.8 659.4h0M583.4 654.0h0M577.8 659.4h0M573.9 665.9h0M602.1 648.9h0M605.3 650.5h0M578.9 658.2h0M587.7 663.5h0M581.5 655.6h0M604.6 651.6h0M589.7 662.4h0M604.8 651.3h0M576.2 668.5h0M584.0 665.4h0M574.5 668.0h0M590.2 662.1h0M604.5 649.2h0M604.6 651.5h0M575.8 668.4h0M602.4 649.0h0M604.5 649.4h0M581.2 655.9h0M596.5 649.8h0M579.9 657.2h0M584.1 665.2h0M581.8 655.4h0M597.3 649.7h0M592.2 660.9h0M584.0 653.9h0M604.9 650.3h0M575.2 663.4h0M576.4 668.3h0M599.6 655.9h0M590.6 661.8h0M581.8 655.4h0M604.6 649.7h0M593.6 660.0h0M598.7 649.5h0M578.2 659.2h0M603.4 649.3h0M576.3 661.7h0M575.1 663.6h0M578.1 659.4h0M576.5 668.1h0M604.5 650.7h0M575.0 664.0h0" fill="none" stroke="#d94a82" stroke-width="0.9" stroke-linecap="square"/>
<path d="M575.9 668.1h0M604.3 649.9h0M604.5 650.6h0M580.2 657.1h0M591.8 661.0h0M574.5 666.9h0M601.3 654.4h0M580.2 657.1h0M600.2 655.3h0M576.7 661.2h0M590.9 661.4h0M582.4 665.8h0M582.8 665.6h0M578.3 667.6h0M601.5 649.4h0M579.5 657.9h0M590.8 661.5h0M604.1 650.2h0M604.2 650.4h0M584.5 653.9h0M579.1 667.4h0M602.4 649.5h0M574.8 667.1h0M602.4 653.3h0M583.3 665.3h0M603.7 651.7h0M598.5 649.8h0M575.1 664.2h0M603.3 652.3h0M588.9 652.3h0M601.9 653.7h0M603.7 651.6h0M604.0 650.6h0M580.7 656.8h0M601.3 654.3h0M574.7 666.4h0M575.3 667.5h0M583.2 665.3h0M603.3 652.1h0M598.2 649.9h0M598.9 649.8h0M575.7 667.6h0M575.3 663.8h0M603.5 650.0h0M577.8 667.6h0M584.9 664.5h0M597.6 657.1h0M603.7 650.4h0M602.6 649.7h0M596.6 650.2h0M601.8 653.6h0M592.4 660.4h0M601.6 653.9h0M603.7 650.4h0M576.6 667.7h0M586.2 653.3h0M586.5 663.7h0M576.4 662.0h0M576.7 667.6h0M580.9 666.4h0M603.6 650.8h0M585.2 653.8h0M602.7 652.6h0M590.3 661.6h0M592.2 651.4h0M575.6 667.3h0M603.4 650.4h0M575.0 666.5h0M595.9 658.1h0M591.5 660.8h0M590.7 651.8h0M585.8 664.0h0M580.3 666.6h0M585.1 653.9h0M593.9 651.0h0M581.6 656.1h0M602.4 652.7h0M599.2 655.6h0M601.9 653.3h0M582.5 655.3h0M575.2 666.3h0M583.3 665.0h0M602.4 650.2h0M603.1 651.0h0M584.8 664.3h0M577.5 660.8h0M600.3 650.0h0M577.6 667.3h0M601.1 653.9h0M575.2 665.8h0" fill="none" stroke="#e4606e" stroke-width="0.9" stroke-linecap="square"/>
<path d="M588.6 652.6h0M587.1 653.2h0M602.3 652.6h0M597.5 650.3h0M601.4 653.6h0M592.2 651.6h0M581.4 656.5h0M600.2 650.1h0M581.2 666.0h0M597.4 656.9h0M583.4 664.9h0M585.6 663.9h0M587.0 653.3h0M602.3 650.4h0M598.2 656.2h0M593.1 659.7h0M598.0 650.3h0M602.5 652.0h0M578.5 659.7h0M592.0 660.3h0M597.8 650.4h0M582.2 655.7h0M595.7 658.0h0M580.0 658.0h0M601.4 650.2h0M601.7 650.3h0M578.3 667.0h0M601.1 653.7h0M599.7 655.0h0M589.9 661.5h0M587.9 653.0h0M575.5 665.5h0M589.9 652.3h0M582.2 665.4h0M575.8 664.0h0M590.6 661.1h0M582.1 665.5h0M575.9 666.5h0M576.4 666.8h0M602.4 651.6h0M576.7 662.3h0M597.3 656.8h0M586.1 663.5h0M586.0 653.8h0M600.7 654.0h0M592.3 651.7h0M578.3 660.1h0M602.3 651.6h0M583.9 654.7h0M582.9 664.9h0M583.8 654.8h0M587.1 662.9h0M590.6 661.0h0M590.8 652.2h0M579.5 666.5h0M597.6 650.6h0M576.4 663.0h0M596.2 657.5h0M581.7 656.4h0M590.6 652.3h0M600.1 650.5h0M589.5 661.6h0M578.7 659.7h0M591.2 652.1h0M592.9 651.7h0M590.7 660.9h0M591.5 660.4h0M576.0 666.0h0M592.4 651.8h0M585.9 654.0h0M577.3 666.7h0M594.4 651.3h0M598.0 656.1h0M577.5 661.4h0M583.6 664.5h0M579.8 666.2h0M580.8 657.4h0M576.5 666.3h0M576.0 664.5h0M586.3 663.2h0M585.8 663.5h0M601.7 651.3h0M596.6 650.9h0M582.3 665.0h0M577.3 666.6h0M601.4 652.6h0M579.3 659.1h0M587.0 662.8h0M596.5 657.0h0M599.5 650.7h0M601.4 651.2h0M594.0 658.7h0M591.8 652.1h0M578.9 659.7h0M601.3 651.1h0" fill="none" stroke="#ef765a" stroke-width="0.9" stroke-linecap="square"/>
<path d="M584.3 664.1h0M601.5 651.5h0M579.2 666.3h0M584.5 654.7h0M595.3 651.2h0M595.1 658.0h0M592.7 651.9h0M577.7 666.5h0M599.9 650.8h0M580.6 657.8h0M596.9 656.7h0M582.8 655.6h0M591.8 660.1h0M601.1 651.2h0M584.4 664.0h0M596.4 657.0h0M599.7 650.8h0M601.1 652.5h0M587.6 653.5h0M594.4 651.5h0M579.3 659.2h0M576.5 664.0h0M576.3 664.6h0M584.6 654.7h0M579.5 659.1h0M597.1 651.0h0M581.2 657.2h0M587.1 653.7h0M587.0 662.7h0M600.6 651.2h0M587.8 653.5h0M597.3 656.3h0M585.2 654.5h0M583.6 655.2h0M600.7 653.0h0M595.1 651.4h0M596.8 651.1h0M580.1 658.5h0M599.7 651.0h0M594.5 651.6h0M580.1 658.5h0M596.6 656.7h0M580.1 658.4h0M584.5 663.9h0M590.4 660.8h0M583.8 664.1h0M576.8 665.7h0M600.1 653.6h0M597.3 656.2h0M599.8 651.1h0M581.5 657.1h0M595.8 651.4h0M584.3 663.9h0M580.7 665.5h0M592.1 652.2h0M599.4 654.3h0M580.8 665.4h0M595.4 657.5h0M582.5 656.2h0M579.9 658.8h0M599.4 651.2h0M585.6 654.5h0M585.9 654.3h0M577.7 661.8h0M578.4 666.0h0M596.4 651.4h0M577.1 663.1h0M593.0 652.1h0M594.9 657.8h0M580.2 658.6h0M600.1 653.3h0M600.3 651.7h0M593.2 658.9h0M584.4 655.0h0M581.5 657.2h0M586.8 662.6h0M583.0 655.8h0M593.9 651.9h0M599.7 653.7h0M590.2 660.7h0M581.5 665.0h0M598.2 655.1h0M599.6 653.7h0M593.9 658.4h0M591.8 659.7h0M597.1 651.4h0M596.7 656.4h0M590.2 653.0h0M596.3 651.5h0M596.6 656.4h0M598.0 651.4h0" fill="none" stroke="#f68e4b" stroke-width="0.9" stroke-linecap="square"/>
<path d="M590.8 660.3h0M585.6 663.1h0M583.1 664.1h0M592.2 659.4h0M577.1 664.1h0M593.7 652.1h0M596.8 656.2h0M596.6 656.4h0M577.9 661.9h0M590.8 652.8h0M592.6 652.4h0M589.5 653.3h0M590.4 653.0h0M580.1 658.9h0M578.8 660.6h0M579.4 665.6h0M578.0 661.9h0M599.8 652.9h0M587.4 654.0h0M590.1 653.1h0M588.9 661.3h0M584.3 663.6h0M598.4 654.6h0M582.7 664.2h0M581.9 664.6h0M587.4 654.0h0M592.4 652.5h0M598.8 654.2h0M599.3 652.0h0M585.9 654.7h0M592.9 652.4h0M597.8 655.1h0M583.9 663.7h0M599.5 652.7h0M577.6 665.0h0M592.8 658.9h0M588.9 653.6h0M590.5 653.1h0M588.7 653.7h0M597.1 655.7h0M577.8 665.1h0M577.5 663.3h0M590.3 653.2h0M579.7 659.5h0M588.2 653.9h0M578.8 660.9h0M597.1 651.8h0M599.3 653.1h0M587.1 654.3h0M587.9 654.0h0M595.0 652.0h0M599.3 652.7h0M584.6 655.3h0M588.5 653.8h0M581.6 657.5h0M595.9 651.9h0M599.0 652.3h0M592.2 659.2h0M596.5 651.9h0M583.2 656.0h0M595.6 652.0h0M577.7 664.4h0M577.7 663.6h0M579.9 665.1h0M577.9 664.7h0M594.4 657.6h0M590.1 660.4h0M578.0 662.4h0M599.0 652.9h0M577.9 664.7h0M590.2 653.3h0M595.5 656.8h0M593.4 658.3h0M598.7 653.6h0M592.3 659.0h0M596.4 652.0h0M577.7 663.9h0M594.8 657.3h0M594.5 652.3h0M580.1 665.0h0M582.6 656.7h0M592.5 658.9h0M585.7 662.7h0M591.6 653.0h0M578.8 661.2h0M578.1 662.6h0M577.9 664.0h0M582.4 664.0h0M588.0 661.4h0M598.3 653.9h0M577.9 663.8h0M590.7 659.9h0M594.5 657.4h0" fill="none" stroke="#f9a942" stroke-width="0.9" stroke-linecap="square"/>
<path d="M598.5 652.9h0M592.9 652.7h0M596.6 655.7h0M598.5 653.1h0M592.8 652.8h0M586.3 662.3h0M582.5 656.9h0M591.2 653.2h0M591.8 659.2h0M584.1 663.2h0M595.9 656.2h0M578.4 664.5h0M597.8 654.3h0M592.6 658.6h0M590.6 659.9h0M589.3 653.8h0M596.3 652.4h0M588.8 660.8h0M597.9 653.9h0M597.6 654.3h0M592.1 653.1h0M578.3 663.6h0M586.7 654.8h0M586.3 655.0h0M584.9 662.8h0M593.9 657.6h0M589.8 660.2h0M596.6 652.6h0M580.7 664.4h0M588.7 654.2h0M578.4 663.8h0M580.0 664.5h0M578.4 663.0h0M582.2 657.4h0M583.4 656.4h0M595.3 656.5h0M589.9 653.8h0M595.8 656.0h0M587.9 654.4h0M589.4 654.0h0M592.6 653.1h0M596.1 652.7h0M588.1 661.1h0M579.3 664.3h0M597.1 654.6h0M597.2 653.1h0M596.8 654.8h0M588.8 654.2h0M590.5 653.7h0M592.9 658.1h0M597.3 653.8h0M579.6 664.3h0M590.8 653.6h0M590.5 659.6h0M589.6 654.0h0M585.3 662.4h0M597.2 653.3h0M595.0 656.5h0M587.0 654.9h0M581.4 663.9h0M578.8 663.3h0M596.8 653.2h0M579.4 661.4h0M596.4 653.1h0M578.9 663.2h0" fill="none" stroke="#fcc23f" stroke-width="0.9" stroke-linecap="square"/>
<path d="M591.8 653.5h0M594.1 653.1h0M579.9 664.1h0M596.9 653.6h0M594.4 653.1h0M582.7 657.2h0M579.1 662.3h0M581.5 658.4h0M579.0 662.6h0M591.5 658.9h0M593.7 657.3h0M591.6 658.8h0M579.6 663.8h0M579.5 661.3h0M586.9 655.1h0M596.5 653.6h0M581.1 663.8h0M583.7 656.6h0M584.1 662.7h0M591.4 658.8h0M593.7 653.3h0M594.6 656.4h0M591.7 653.7h0M596.2 654.6h0M592.4 658.1h0M592.1 658.3h0M595.4 655.6h0M581.9 658.3h0M583.1 662.9h0M593.4 657.3h0M595.1 655.9h0M579.8 663.5h0M595.5 653.5h0M589.4 659.9h0M589.4 659.9h0M581.8 658.4h0M586.0 661.7h0M581.6 658.6h0M579.6 663.2h0M579.9 661.1h0M595.9 654.6h0M594.3 653.5h0M592.3 658.0h0M580.0 663.4h0M582.0 663.2h0M588.4 660.4h0M586.6 655.5h0M591.6 658.4h0M587.8 655.0h0M593.4 653.6h0M583.5 662.6h0M579.9 661.5h0M592.8 657.6h0M589.0 660.0h0M580.3 663.4h0M595.4 653.9h0M588.8 660.1h0M589.8 654.5h0M583.4 657.1h0M591.2 654.1h0M579.7 662.2h0M594.9 655.6h0M582.3 663.0h0M579.9 662.0h0M595.0 655.4h0M580.2 661.1h0M593.2 653.8h0M587.0 655.5h0M594.6 655.8h0" fill="none" stroke="#fdd64c" stroke-width="0.9" stroke-linecap="square"/>
<path d="M591.3 658.5h0M579.9 662.3h0M593.7 653.9h0M580.4 663.0h0M586.4 655.7h0M595.0 655.2h0M591.6 654.2h0M594.6 654.1h0M594.8 655.4h0M580.0 662.1h0M587.6 655.3h0M592.8 654.0h0M590.2 659.1h0M592.0 657.9h0M581.3 659.5h0M583.4 657.3h0M585.8 656.1h0M593.7 654.0h0M591.8 654.2h0M581.5 663.0h0M591.6 654.2h0M590.9 658.6h0M591.0 658.6h0M594.1 656.0h0M592.9 657.1h0M582.3 658.3h0M584.3 662.1h0M587.8 660.4h0M594.3 655.8h0M590.4 658.8h0M594.3 655.7h0M594.4 654.4h0M581.7 662.8h0M591.0 658.4h0M586.5 661.0h0M594.1 654.4h0M583.4 657.4h0M587.1 655.7h0M588.3 655.3h0M586.9 655.8h0M591.0 654.6h0M581.8 662.6h0M580.6 662.3h0M580.5 661.8h0M588.5 659.8h0M582.9 658.0h0M585.1 661.5h0M580.7 661.9h0M586.2 661.0h0M593.9 655.4h0M582.3 662.4h0M581.1 660.6h0M581.4 662.4h0M580.8 661.8h0M581.3 660.3h0M591.8 654.7h0M591.9 657.4h0M583.0 658.1h0M587.6 655.8h0M586.9 660.5h0M582.3 659.0h0M590.5 658.3h0M586.0 660.9h0M584.9 661.4h0M593.3 655.5h0M586.3 656.4h0M584.9 657.0h0M590.7 658.1h0M581.2 661.4h0M583.6 661.7h0M587.8 655.8h0M582.0 662.0h0M585.3 656.8h0M582.3 662.0h0M582.4 658.9h0M585.6 656.7h0M592.5 656.6h0M593.0 655.7h0M590.5 655.2h0M581.4 661.7h0M592.4 656.6h0M592.7 656.1h0M581.4 660.9h0M588.3 659.6h0M581.5 660.6h0M592.0 656.8h0M581.8 660.1h0M584.8 657.2h0M588.2 659.5h0M581.8 660.1h0M583.3 661.6h0M582.1 661.7h0M586.6 660.4h0M584.8 661.2h0M582.9 661.6h0M590.9 655.3h0M581.7 661.4h0M587.9 656.0h0M582.9 661.5h0M590.9 657.5h0M585.4 657.1h0M582.2 661.5h0M587.1 660.0h0M591.0 655.5h0M591.9 656.4h0M586.8 656.5h0M585.5 657.1h0M582.2 660.0h0M587.2 659.9h0M583.7 658.2h0M591.1 657.2h0M587.8 659.5h0M591.7 656.3h0M591.5 656.1h0M585.6 660.6h0M582.6 661.1h0M587.0 659.8h0M582.3 660.9h0M582.7 661.1h0M591.1 656.9h0M588.6 656.2h0M582.7 659.4h0M590.3 657.6h0M591.0 656.8h0M585.5 657.3h0M583.6 661.0h0M591.0 656.3h0M584.6 657.8h0M586.6 659.9h0M590.6 657.1h0M590.8 656.2h0M583.1 659.1h0M583.2 660.8h0M589.8 656.2h0M582.9 660.8h0M584.5 658.0h0M590.7 656.7h0M583.9 658.4h0M583.7 658.5h0M589.9 657.7h0M589.2 656.3h0M582.9 659.7h0M586.3 659.9h0M584.9 657.8h0M589.2 656.4h0M584.4 660.6h0M583.5 660.6h0M588.7 656.5h0M586.7 657.1h0M589.3 658.0h0M586.1 657.3h0M584.8 658.0h0M587.7 656.8h0M585.9 660.0h0M589.7 657.4h0M589.5 657.6h0M587.2 657.1h0M587.3 659.2h0M583.8 660.5h0M586.3 659.7h0M584.8 660.3h0M586.2 659.8h0M584.2 660.4h0M584.7 658.2h0M586.5 657.4h0M587.0 657.3h0M589.3 657.4h0M586.9 659.3h0M585.5 660.0h0M587.3 659.0h0M588.9 657.0h0M589.1 657.0h0M589.2 657.1h0M583.6 660.0h0M588.8 657.8h0M583.7 659.5h0M587.6 658.7h0M583.9 660.1h0M586.0 657.7h0M588.7 657.7h0M586.6 659.2h0M586.9 659.0h0M586.3 657.8h0M587.4 658.6h0M584.1 659.6h0M588.2 657.9h0M587.2 658.7h0M588.1 657.8h0M587.8 658.0h0M587.8 657.9h0M587.5 658.3h0M585.1 659.6h0M585.7 658.3h0M584.6 659.3h0M586.3 658.4h0" fill="none" stroke="#ffeb5a" stroke-width="0.9" stroke-linecap="square"/>
<line x1="552.10" y1="684.20" x2="668.00" y2="591.90" stroke="#222" stroke-width="0.5" />
<line x1="552.10" y1="591.10" x2="552.10" y2="684.60" stroke="#444" stroke-width="0.8" />
<line x1="551.70" y1="684.20" x2="668.00" y2="684.20" stroke="#444" stroke-width="0.8" />
<line x1="549.70" y1="680.40" x2="552.10" y2="680.40" stroke="#444" stroke-width="0.8" />
<text x="548.50" y="683.00" font-size="7.3" text-anchor="end">2</text>
<line x1="558.10" y1="684.20" x2="558.10" y2="686.60" stroke="#444" stroke-width="0.8" />
<text x="558.10" y="695.80" font-size="7.3" text-anchor="middle">2</text>
<line x1="549.70" y1="659.15" x2="552.10" y2="659.15" stroke="#444" stroke-width="0.8" />
<text x="548.50" y="661.75" font-size="7.3" text-anchor="end">4</text>
<line x1="584.35" y1="684.20" x2="584.35" y2="686.60" stroke="#444" stroke-width="0.8" />
<text x="584.35" y="695.80" font-size="7.3" text-anchor="middle">4</text>
<line x1="549.70" y1="637.90" x2="552.10" y2="637.90" stroke="#444" stroke-width="0.8" />
<text x="548.50" y="640.50" font-size="7.3" text-anchor="end">6</text>
<line x1="610.60" y1="684.20" x2="610.60" y2="686.60" stroke="#444" stroke-width="0.8" />
<text x="610.60" y="695.80" font-size="7.3" text-anchor="middle">6</text>
<line x1="549.70" y1="616.65" x2="552.10" y2="616.65" stroke="#444" stroke-width="0.8" />
<text x="548.50" y="619.25" font-size="7.3" text-anchor="end">8</text>
<line x1="636.85" y1="684.20" x2="636.85" y2="686.60" stroke="#444" stroke-width="0.8" />
<text x="636.85" y="695.80" font-size="7.3" text-anchor="middle">8</text>
<line x1="549.70" y1="595.40" x2="552.10" y2="595.40" stroke="#444" stroke-width="0.8" />
<text x="548.50" y="598.00" font-size="7.3" text-anchor="end">10</text>
<line x1="663.10" y1="684.20" x2="663.10" y2="686.60" stroke="#444" stroke-width="0.8" />
<text x="663.10" y="695.80" font-size="7.3" text-anchor="middle">10</text>
<text x="614.00" y="704.50" font-size="7.3" text-anchor="middle"><tspan font-style="italic">ZIC3<tspan font-size="4" dy="-2.5">-/-</tspan><tspan dy="2.5">&#8203;</tspan>ZIC5<tspan font-size="4" dy="-2.5">-/-</tspan><tspan dy="2.5">&#8203;</tspan></tspan></text>
<text x="614.00" y="712.20" font-size="7.3" text-anchor="middle">log<tspan font-size="3.8" dy="1.3">2</tspan><tspan dy="-1.3">&#8203;</tspan>H3K27me3 (CPB)</text>
<text x="527.00" y="638.30" font-size="7.3" text-anchor="middle" transform="rotate(-90 527.00 638.30)"><tspan font-style="italic">ZIC2<tspan font-size="4" dy="-2.5">-/-</tspan><tspan dy="2.5">&#8203;</tspan>ZIC3<tspan font-size="4" dy="-2.5">-/-</tspan><tspan dy="2.5">&#8203;</tspan>ZIC5<tspan font-size="4" dy="-2.5">-/-</tspan><tspan dy="2.5">&#8203;</tspan></tspan></text>
<text x="535.10" y="638.30" font-size="7.3" text-anchor="middle" transform="rotate(-90 535.10 638.30)">log<tspan font-size="3.8" dy="1.3">2</tspan><tspan dy="-1.3">&#8203;</tspan>H3K27me3 (CPB)</text>
<text x="633.70" y="662.10" font-size="7.3">Relative density</text>
<defs><linearGradient id="cbd" x1="0" y1="1" x2="0" y2="0"><stop offset="0" stop-color="#342c82"/><stop offset="0.18" stop-color="#4248aa"/><stop offset="0.38" stop-color="#963ca0"/><stop offset="0.55" stop-color="#d74687"/><stop offset="0.72" stop-color="#f58250"/><stop offset="0.86" stop-color="#fcbe3c"/><stop offset="1" stop-color="#ffeb5a"/></linearGradient></defs>
<rect x="653.90" y="666.10" width="4.10" height="14.10" fill="url(#cbd)" />
<line x1="663.40" y1="678.70" x2="663.40" y2="669.60" stroke="#000" stroke-width="0.8" />
<path d="M663.4 666.6 L661.4 670.6 L665.4 670.6Z" fill="#000" />
</svg>
</body></html>
